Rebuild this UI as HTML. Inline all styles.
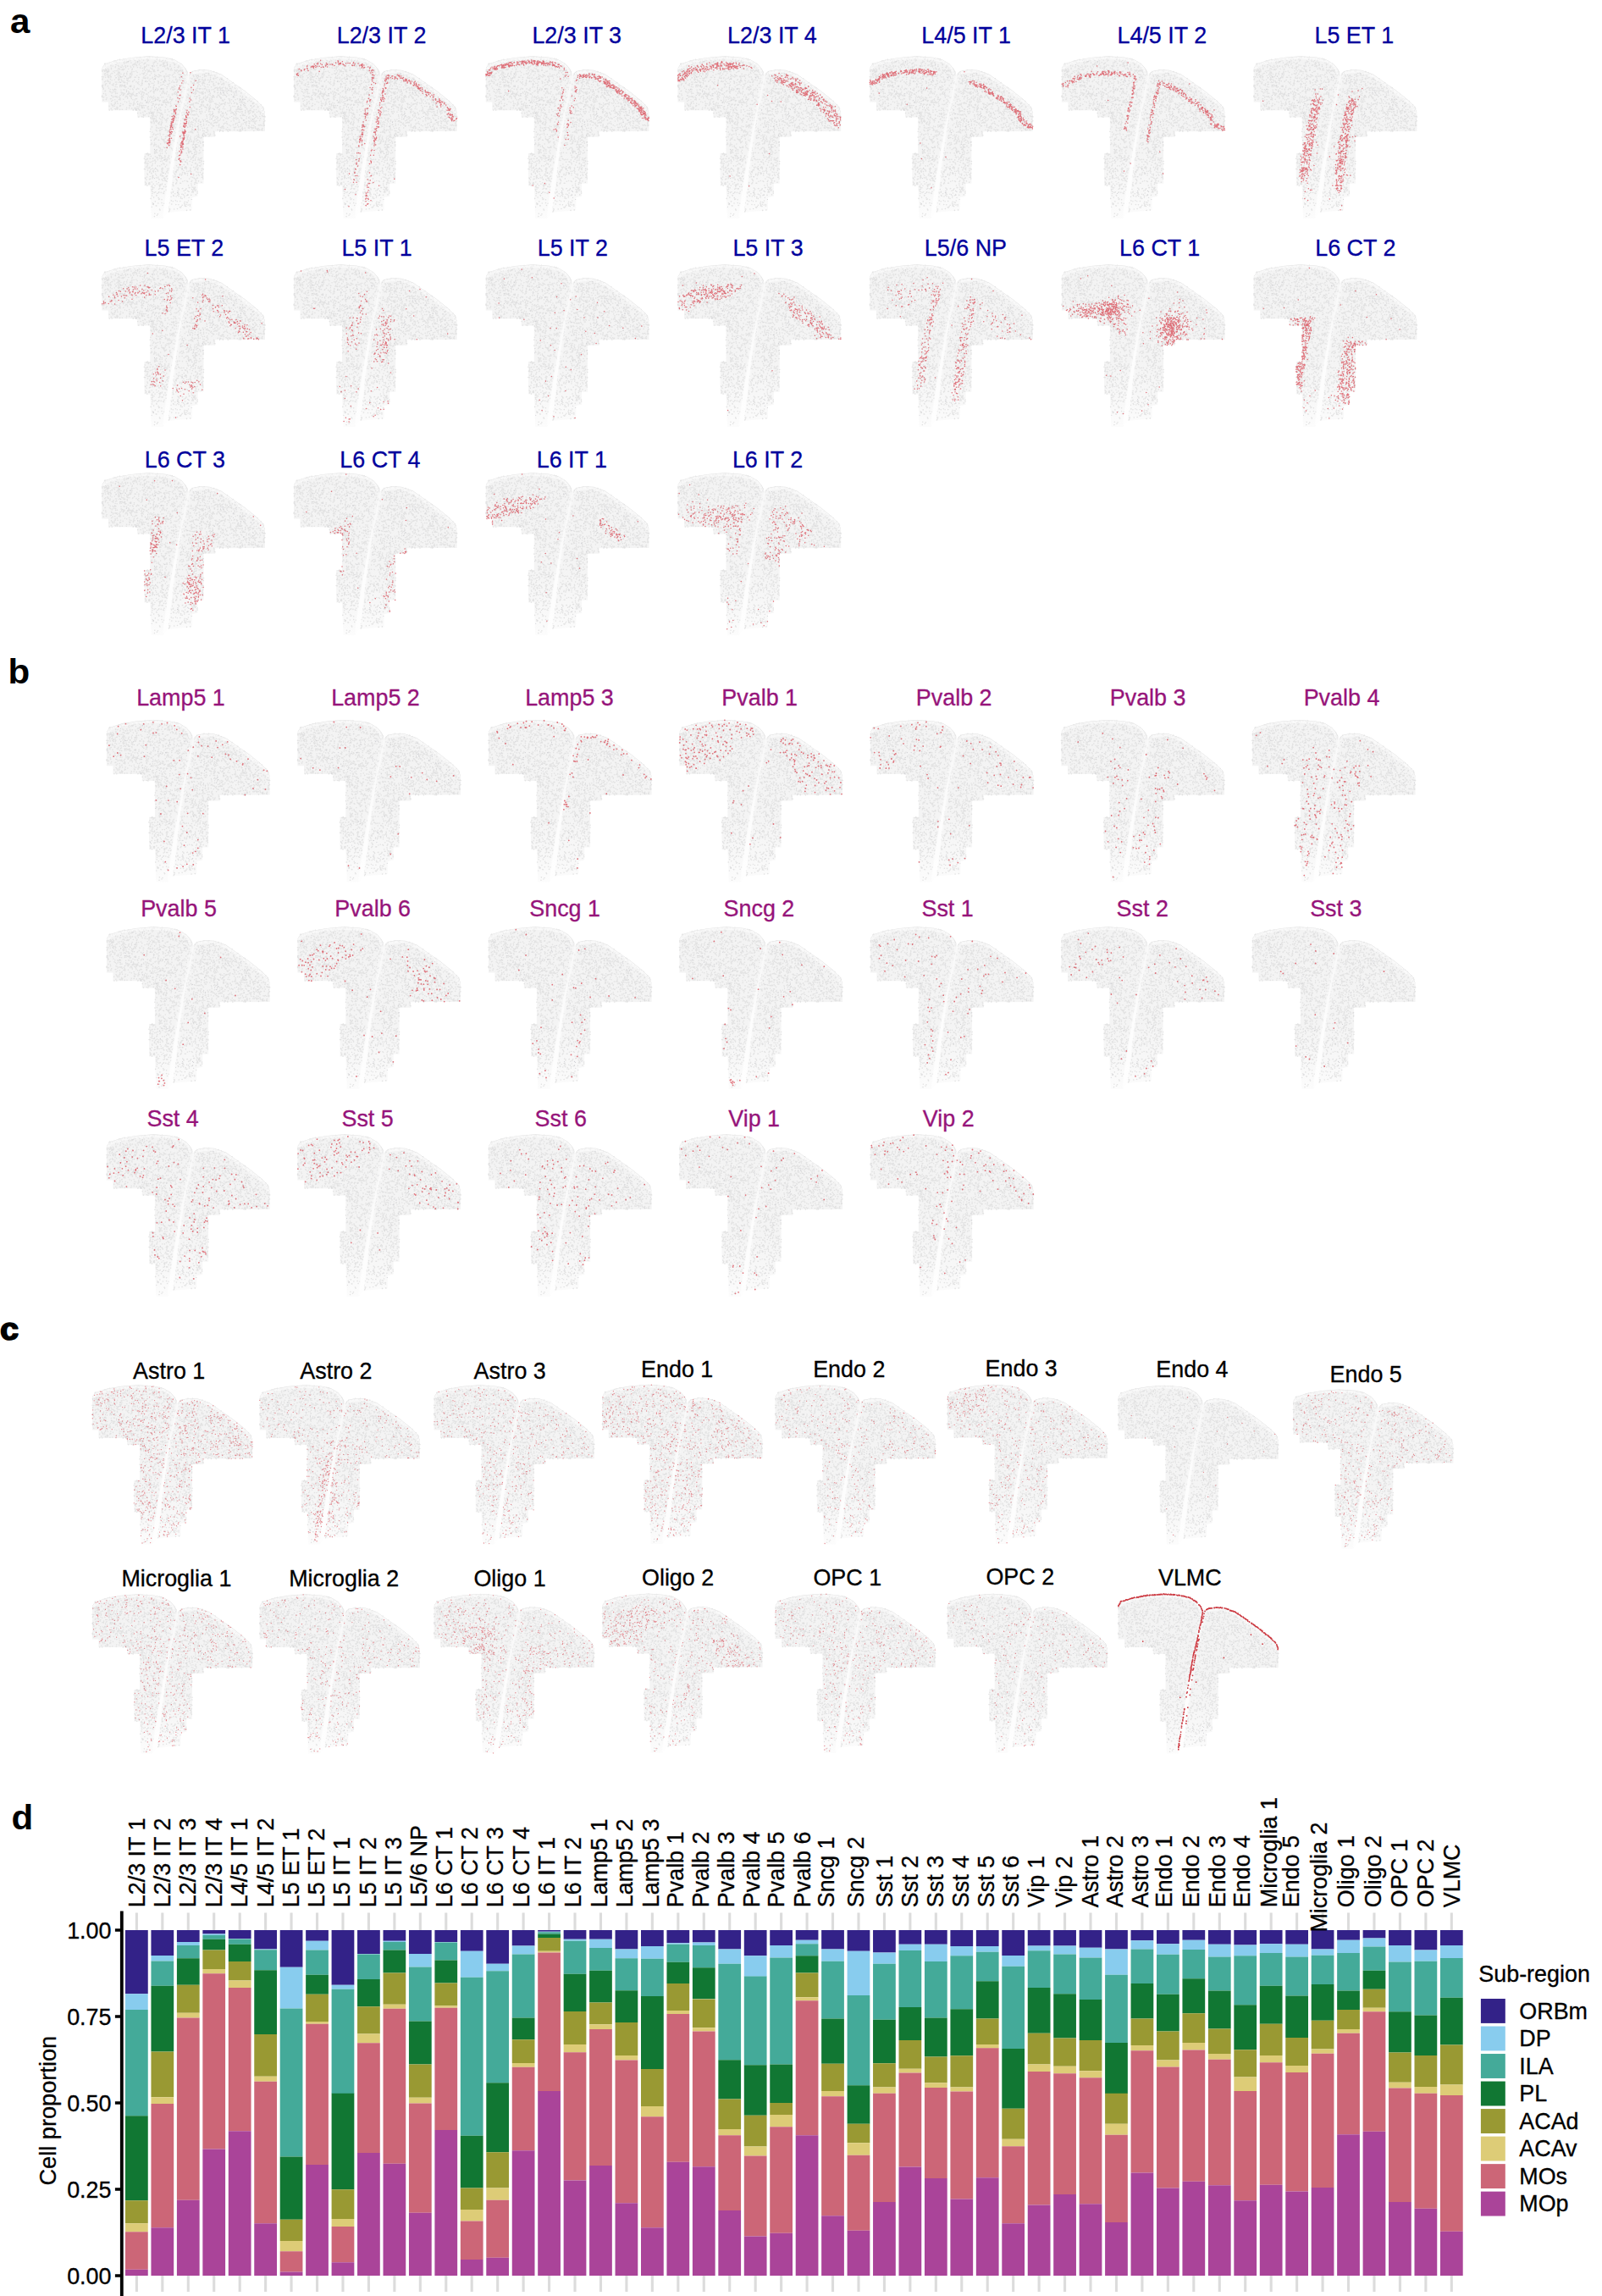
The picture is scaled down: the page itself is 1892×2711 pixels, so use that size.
<!DOCTYPE html>
<html lang="en"><head><meta charset="utf-8"><title>Figure</title>
<style>html,body{margin:0;padding:0;background:#fff}svg{display:block}text{font-family:"Liberation Sans",Arial,Helvetica,sans-serif}</style></head>
<body>
<svg width="1892" height="2711" viewBox="0 0 1892 2711">
<defs>
<linearGradient id="bg" x1="0" y1="0" x2="0" y2="1"><stop offset="0" stop-color="#f3f3f3"/><stop offset="0.6" stop-color="#f4f4f4"/><stop offset="0.85" stop-color="#f8f8f8"/><stop offset="1" stop-color="#fcfcfc"/></linearGradient>
<linearGradient id="fg" x1="0" y1="0" x2="0" y2="1"><stop offset="0" stop-color="#fff" stop-opacity="0.3"/><stop offset="0.3" stop-color="#fff" stop-opacity="0.4"/><stop offset="0.5" stop-color="#fff" stop-opacity="0.7"/><stop offset="1" stop-color="#fff" stop-opacity="0.8"/></linearGradient>
<clipPath id="bc"><path d="M0.1 54.6L0.1 14.5L3.5 9.3L17.3 4.9L35.1 1.9L55.0 0.3L75.0 1.7L86.0 4.4L94.2 9.2L99.7 15.4L102.6 22.5L104.6 19.6L108.0 17.8L116.0 16.3L127.2 16.8L140.9 21.6L154.6 31.2L168.4 40.8L182.1 51.8L190.4 60.1L192.8 66.9L192.8 88.9L134.0 89.2L134.0 95.8L120.3 95.8L120.3 150.7L113.4 150.7L113.4 165.8L106.6 167.2L106.6 182.3L77.7 185.0L72.2 191.9L58.5 191.9L57.1 153.5L50.2 153.5L50.2 115.0L57.1 115.0L57.1 72.4L42.0 72.4L42.0 64.2L7.7 64.2L7.7 54.6Z"/></clipPath>
<g id="brain"><path d="M0.1 54.6L0.1 14.5L3.5 9.3L17.3 4.9L35.1 1.9L55.0 0.3L75.0 1.7L86.0 4.4L94.2 9.2L99.7 15.4L102.6 22.5L104.6 19.6L108.0 17.8L116.0 16.3L127.2 16.8L140.9 21.6L154.6 31.2L168.4 40.8L182.1 51.8L190.4 60.1L192.8 66.9L192.8 88.9L134.0 89.2L134.0 95.8L120.3 95.8L120.3 150.7L113.4 150.7L113.4 165.8L106.6 167.2L106.6 182.3L77.7 185.0L72.2 191.9L58.5 191.9L57.1 153.5L50.2 153.5L50.2 115.0L57.1 115.0L57.1 72.4L42.0 72.4L42.0 64.2L7.7 64.2L7.7 54.6Z" fill="url(#bg)"/><path d="M61.3 50.1h0M84.6 69.4h0M104.1 73.6h0M52.4 38.4h0M89.9 13.5h0M120.4 18.3h0M17.1 48.5h0M117.9 140.1h0M33.3 21.3h0M13.6 34.0h0M22.1 24.3h0M190.4 71.4h0M148.5 84.5h0M91.5 54.7h0M91.3 51.4h0M21.0 19.3h0M101.0 44.9h0M69.1 115.1h0M85.1 61.9h0M35.0 19.2h0M120.6 91.4h0M140.4 57.8h0M173.5 82.6h0M98.1 81.8h0M187.3 68.4h0M55.4 71.4h0M67.6 160.9h0M148.7 55.7h0M28.9 7.9h0M99.8 17.9h0M50.5 12.5h0M99.9 108.4h0M81.3 54.4h0M20.2 22.2h0M163.6 87.7h0M33.8 44.3h0M161.2 65.7h0M108.6 110.4h0M166.5 86.0h0M133.7 23.9h0M119.4 39.1h0M107.4 81.8h0M113.6 83.9h0M32.2 4.9h0M154.6 66.6h0M99.2 63.5h0M41.6 47.1h0M26.6 26.7h0M99.1 58.5h0M80.3 32.4h0M5.9 49.8h0M92.4 139.2h0M33.5 39.2h0M38.6 10.1h0M40.5 9.9h0M115.0 53.2h0M59.8 66.4h0M175.3 67.3h0M136.4 61.6h0M68.2 169.0h0M48.4 60.4h0M165.0 65.7h0M129.8 48.3h0M49.8 9.6h0M178.2 66.8h0M33.3 25.6h0M23.4 29.5h0M72.7 92.7h0M44.1 10.4h0M188.4 61.7h0M114.2 139.7h0M129.9 22.8h0M33.6 21.3h0M59.1 159.2h0M82.5 37.8h0M4.6 9.6h0M97.7 137.9h0M146.3 66.9h0M67.1 66.8h0M49.8 24.7h0M137.7 46.1h0M79.7 121.5h0M41.4 64.2h0M102.0 95.2h0M98.9 109.6h0M131.5 83.1h0M137.9 67.1h0M52.6 115.8h0M65.5 63.6h0M144.1 60.1h0M88.8 57.3h0M34.4 24.3h0M74.2 144.0h0M137.2 76.2h0M11.9 28.8h0M131.7 76.7h0M100.6 48.1h0M120.5 50.0h0M38.3 35.7h0M142.2 52.1h0M158.1 70.4h0M44.0 33.7h0M31.0 29.7h0M60.5 58.0h0M64.6 110.9h0M76.2 147.7h0M81.2 39.1h0M85.4 35.4h0M84.3 81.3h0M141.5 33.7h0M33.4 5.8h0M25.9 35.4h0M68.4 78.0h0M94.9 108.6h0M162.1 88.8h0M113.1 144.1h0M8.7 23.5h0M156.9 68.8h0M174.1 52.2h0M57.7 134.4h0M114.2 85.4h0M73.1 144.3h0M80.4 51.4h0M129.5 20.3h0M114.1 87.6h0M131.8 62.2h0M146.9 86.6h0M0.5 28.0h0M143.1 89.1h0M114.1 29.8h0M31.1 27.2h0M40.8 30.6h0M81.5 56.8h0M38.4 10.6h0M71.2 136.0h0M62.5 104.9h0M72.0 41.5h0M29.7 22.1h0M87.7 145.5h0M166.4 70.4h0M36.7 44.4h0M181.0 69.1h0M62.9 111.8h0M156.2 56.0h0M164.4 63.1h0M42.4 8.1h0M159.1 68.6h0M21.4 16.1h0M100.7 68.8h0M83.1 51.6h0M95.6 156.5h0M110.7 40.7h0M99.9 175.3h0M104.8 89.4h0M75.1 97.5h0M61.1 70.8h0M163.0 54.9h0M74.5 117.9h0M70.9 156.9h0M160.6 81.9h0M76.9 7.9h0M114.9 106.1h0M142.9 88.3h0M61.2 18.4h0M58.8 103.1h0M81.1 93.4h0M115.3 50.1h0M155.9 72.9h0M119.9 104.9h0M99.4 125.2h0M83.3 23.1h0M120.2 95.2h0M145.7 79.4h0M43.8 4.7h0M83.2 75.1h0M65.4 70.0h0M121.5 24.4h0M72.1 9.7h0M164.2 57.6h0M74.9 85.2h0M102.6 39.0h0M72.7 141.9h0M93.9 18.1h0M122.6 36.7h0M119.6 111.6h0M148.0 38.2h0M33.3 59.2h0M171.1 62.3h0M91.8 109.0h0M108.4 75.9h0M59.1 61.4h0M79.5 87.7h0M74.8 118.2h0M21.4 63.4h0M109.1 88.5h0M94.6 42.5h0M9.1 64.0h0M124.1 41.3h0M107.2 21.7h0M189.8 64.5h0M103.9 83.8h0M87.5 150.9h0M76.0 51.6h0M94.8 134.1h0M83.3 82.2h0M119.1 94.9h0M159.4 55.9h0M63.8 57.0h0M71.0 145.9h0M62.7 18.8h0M63.5 160.7h0M50.9 40.1h0M103.3 51.3h0M40.3 7.5h0M116.0 51.8h0M6.0 19.5h0M106.8 69.6h0M107.4 107.7h0M167.7 76.2h0M14.3 7.2h0M29.5 20.4h0M0.2 47.9h0M18.9 61.2h0M17.5 33.4h0M94.2 102.7h0M102.4 40.6h0M3.3 21.4h0M76.6 129.0h0M114.8 46.7h0M87.9 18.1h0M117.9 51.6h0M53.5 126.8h0M118.2 143.4h0M180.8 78.1h0M101.6 40.3h0M57.8 48.1h0M102.2 171.0h0M128.3 58.0h0M169.6 88.1h0M130.5 49.5h0M160.9 73.8h0M85.8 10.0h0M63.5 139.5h0M150.3 56.2h0M67.9 152.5h0M8.0 23.7h0M56.5 33.3h0M78.0 120.3h0M109.2 110.5h0M99.8 80.0h0M62.6 21.9h0M75.2 75.8h0M95.5 73.9h0M56.8 22.9h0M147.5 69.5h0M110.4 127.4h0M93.4 54.1h0M30.9 26.9h0M120.1 32.2h0M73.5 98.5h0M164.3 58.6h0M59.1 78.2h0M76.3 154.2h0M82.2 91.4h0M92.2 104.8h0M85.8 98.3h0M63.0 52.4h0M89.5 164.5h0M108.0 120.3h0M66.0 129.9h0M64.3 38.1h0M75.5 83.0h0M109.3 158.0h0M178.1 65.5h0M115.7 123.4h0M69.4 19.6h0M61.2 42.6h0M62.2 41.5h0M40.1 25.2h0M155.2 81.4h0M108.1 160.9h0M99.8 156.7h0M26.8 31.7h0M70.7 77.8h0M116.3 81.2h0M61.8 105.0h0M103.8 112.2h0M168.7 78.6h0M10.2 23.9h0M30.2 12.3h0M65.3 51.9h0M47.6 51.3h0M116.6 103.2h0M108.6 139.5h0M87.1 136.7h0M68.6 3.9h0M156.4 87.4h0M32.4 61.4h0M90.7 13.8h0M78.0 90.1h0M104.8 132.4h0M114.8 33.7h0M77.4 24.1h0M156.7 44.9h0M4.0 12.2h0M42.3 6.7h0M109.5 64.9h0M130.3 51.9h0M77.4 83.6h0M154.1 32.5h0M25.0 13.0h0M161.2 61.9h0M82.5 83.2h0M180.7 69.1h0M64.3 76.0h0M109.9 113.5h0M70.4 38.9h0M163.7 89.0h0M61.0 39.6h0M56.4 2.0h0M33.9 12.3h0M101.4 45.0h0M100.1 100.1h0M92.9 103.7h0M15.1 19.8h0M70.0 23.7h0M101.0 126.2h0M103.2 72.8h0M74.7 28.8h0M176.4 76.0h0M16.2 12.8h0M66.4 14.1h0M59.0 125.1h0M72.9 42.5h0M180.5 79.1h0M118.8 45.2h0M179.9 63.7h0M60.1 25.4h0M75.5 57.0h0M162.1 75.7h0M87.0 80.7h0M10.6 42.6h0M122.4 47.4h0M54.0 60.5h0M127.6 55.0h0M58.0 67.1h0M61.3 43.2h0M126.0 46.0h0M73.7 128.1h0M81.2 49.5h0M113.0 96.0h0M47.8 20.9h0M106.9 52.9h0M93.3 150.2h0M73.6 84.8h0M72.9 10.1h0M77.8 144.7h0M119.3 43.4h0M92.0 57.7h0M41.1 39.6h0M3.5 18.3h0M119.1 93.6h0M109.6 47.8h0M68.9 11.0h0M120.7 18.7h0M165.5 62.9h0M157.5 65.5h0M145.3 46.3h0M108.3 22.9h0M137.2 77.0h0M113.5 25.7h0M54.3 3.8h0M117.0 38.8h0M74.4 52.2h0M103.7 68.8h0M124.0 71.2h0M140.0 44.9h0M87.5 28.0h0M131.0 46.7h0M99.6 32.4h0M156.0 76.8h0M114.6 93.9h0M92.8 96.7h0M84.6 24.9h0M137.2 72.6h0M49.1 46.3h0M88.3 76.4h0M21.4 49.6h0M67.0 25.0h0M63.9 74.3h0M56.5 137.5h0M73.6 31.5h0M152.1 63.8h0M91.4 89.1h0M85.0 67.8h0M18.0 8.2h0M106.5 80.5h0M109.8 98.9h0M189.0 82.3h0M157.1 59.6h0M60.9 136.0h0M180.4 73.7h0M128.0 55.0h0M146.1 74.0h0M44.7 6.0h0M138.1 37.8h0M116.9 108.2h0M9.3 41.8h0M113.0 26.2h0M4.6 45.1h0M35.1 50.4h0M135.9 82.2h0M90.0 134.5h0M115.0 53.7h0M85.9 94.1h0M107.7 91.0h0M148.7 65.1h0M59.7 143.1h0M109.6 61.3h0M67.1 149.8h0M86.9 142.6h0M102.9 114.8h0M95.0 133.3h0M81.4 104.4h0M8.4 25.7h0M20.6 48.2h0M35.4 47.1h0M163.8 47.6h0M128.7 53.1h0M78.8 35.2h0M120.3 58.1h0M22.5 34.5h0M173.6 76.9h0M143.1 82.8h0M26.1 46.0h0M119.1 17.7h0M156.1 69.6h0M158.5 84.1h0M77.9 53.7h0M39.0 25.3h0M118.1 44.4h0M70.9 136.3h0M106.7 155.0h0M133.3 76.3h0M7.3 18.9h0M76.8 123.7h0M132.6 48.8h0M87.6 175.5h0M47.9 42.2h0M88.0 136.4h0M61.8 79.8h0M187.7 66.5h0M80.5 181.1h0M47.8 58.5h0M70.2 121.8h0M133.7 35.0h0M98.4 124.8h0M112.4 63.5h0M187.9 57.9h0M58.5 41.1h0M151.3 38.4h0M62.0 34.5h0M54.0 132.2h0M178.9 77.7h0M122.8 51.0h0M112.7 133.0h0M59.6 95.5h0M54.3 2.4h0M144.7 45.7h0M155.5 74.7h0M8.4 16.7h0M79.1 33.3h0M95.7 96.5h0M126.7 22.2h0M56.9 18.6h0M72.2 54.7h0M77.4 133.5h0M115.2 39.3h0M66.5 51.7h0M128.5 27.5h0M59.8 15.4h0M71.2 34.1h0M111.0 147.9h0M150.2 35.4h0M84.7 93.7h0M118.8 55.4h0M49.4 46.3h0M20.1 25.5h0M105.6 38.7h0M52.4 12.5h0M65.2 119.5h0M54.9 17.4h0M63.3 52.6h0M37.2 58.6h0M110.4 110.9h0M62.9 49.4h0M15.7 23.5h0M163.9 70.3h0M30.2 45.6h0M187.6 81.5h0M126.1 61.6h0M142.3 26.2h0M76.5 52.2h0M73.1 138.1h0M117.3 58.9h0M148.3 44.5h0M90.2 162.6h0M74.9 152.0h0M160.8 60.6h0M82.2 162.1h0M57.8 72.9h0M21.0 51.2h0M92.2 178.7h0M104.5 90.1h0M191.2 81.2h0M101.5 128.0h0M33.5 58.5h0M107.2 18.9h0M53.6 54.6h0M100.1 131.8h0M51.8 40.2h0M108.2 118.5h0M124.8 48.0h0M103.8 82.2h0M120.1 76.9h0M138.6 47.0h0M73.4 127.4h0M87.5 17.8h0M62.4 26.9h0M145.3 62.8h0M83.3 45.1h0M138.9 59.4h0M123.5 61.8h0M76.5 58.0h0M143.5 70.2h0M40.2 50.6h0M101.6 33.0h0M58.7 139.1h0M66.2 49.0h0M61.4 77.0h0M108.7 24.4h0M63.3 26.4h0M51.7 26.4h0M175.0 64.4h0M119.0 85.6h0M75.2 95.5h0M90.7 68.5h0M116.0 43.7h0M111.9 113.6h0M52.5 54.9h0M117.6 149.2h0M74.8 11.6h0M112.9 162.1h0M70.4 119.7h0M157.6 38.5h0M33.1 35.5h0M91.0 157.1h0M182.3 63.5h0M68.0 52.6h0M0.7 48.7h0M54.9 47.4h0M54.4 26.6h0M114.1 23.0h0M71.5 38.5h0M70.7 79.6h0M60.4 141.3h0M85.6 44.5h0M59.9 51.0h0M82.8 68.4h0M58.1 118.6h0M47.2 50.7h0M100.4 93.4h0M64.7 77.9h0M26.0 21.9h0M91.2 157.9h0M184.1 60.7h0M88.8 114.2h0M66.3 39.1h0M86.7 140.4h0M55.0 37.0h0M130.8 48.4h0M65.2 151.2h0M123.4 60.8h0M18.6 49.3h0M107.7 22.7h0M79.2 132.9h0M65.2 188.3h0M138.5 80.9h0M153.1 45.7h0M66.9 99.2h0M115.1 126.0h0M140.4 43.5h0M74.8 64.0h0M99.5 52.3h0M100.5 164.8h0M30.6 44.7h0M84.1 161.3h0M132.3 70.9h0M107.0 65.4h0M17.9 61.3h0M63.1 171.9h0M131.7 26.8h0M37.1 64.1h0M72.8 33.5h0M82.4 92.4h0M144.3 32.4h0M51.5 149.1h0M156.6 49.0h0M127.8 93.6h0M69.2 141.1h0M164.9 43.8h0M132.9 93.3h0M183.7 56.3h0M27.9 48.8h0M111.6 65.8h0M100.3 104.0h0M115.5 46.7h0M136.2 61.9h0M146.1 54.9h0M124.2 57.7h0M66.4 29.9h0M112.7 94.3h0M54.5 52.1h0M139.5 27.9h0M65.1 88.8h0M115.5 129.8h0M104.0 62.8h0M132.4 82.7h0M80.6 71.1h0M74.5 122.4h0M79.7 97.7h0M29.5 54.8h0M12.1 58.1h0M83.7 29.2h0M4.2 9.4h0M67.5 117.4h0M41.3 11.3h0M108.0 57.9h0M68.7 41.7h0M101.0 40.5h0M136.6 43.8h0M137.0 38.8h0M71.2 110.6h0M96.9 32.0h0M75.6 87.3h0M102.0 112.2h0M65.4 3.2h0M161.8 37.4h0M76.9 7.5h0M85.2 81.6h0M138.5 58.2h0M32.5 44.8h0M44.7 56.9h0M10.1 31.0h0M72.4 162.0h0M80.7 108.2h0M71.5 72.0h0M101.8 49.1h0M106.5 42.7h0M71.3 115.1h0M90.7 12.2h0M97.9 172.3h0M59.2 104.1h0M82.6 119.5h0M54.6 115.9h0M111.2 131.2h0M88.1 111.4h0M141.7 56.9h0M15.6 39.0h0M96.0 104.4h0M177.4 82.1h0M31.6 42.1h0M67.1 30.6h0M56.4 2.4h0M120.1 44.8h0M68.8 112.1h0M17.9 36.7h0M115.3 63.5h0M79.4 65.7h0M88.9 80.9h0M137.5 40.6h0M168.0 58.9h0M78.2 138.0h0M65.6 65.0h0M138.2 66.7h0M147.1 48.3h0M47.5 71.8h0M111.7 87.6h0M104.0 175.5h0M99.3 157.8h0M71.9 156.9h0M95.0 176.3h0M101.8 95.6h0M162.8 87.0h0M126.9 53.2h0M57.1 116.2h0M95.3 114.6h0M42.3 13.6h0M83.0 5.5h0M69.5 46.2h0M109.0 69.8h0M29.4 61.2h0M113.3 129.3h0M100.2 30.9h0M136.4 40.2h0M124.0 90.5h0M92.6 150.2h0M167.5 69.3h0M173.9 73.8h0M89.6 114.3h0M59.6 54.1h0M61.3 27.9h0M63.5 136.6h0M45.8 55.2h0M88.2 123.3h0M56.2 17.0h0M121.6 29.1h0M7.0 19.6h0M31.2 45.5h0M87.0 42.6h0M74.3 120.1h0M13.1 58.6h0M117.7 83.6h0M34.7 56.6h0M66.2 135.3h0M137.9 33.5h0M18.8 21.3h0M61.0 77.0h0M40.6 18.1h0M172.7 46.0h0M142.2 83.6h0M104.7 69.2h0M110.3 55.8h0M63.2 26.8h0M123.4 52.5h0M76.5 50.8h0M109.3 69.3h0M136.4 22.1h0M144.2 85.2h0M53.6 121.9h0M82.9 90.0h0M68.6 156.4h0M103.5 145.1h0M108.3 119.2h0M42.8 32.5h0M83.8 74.4h0M152.8 77.1h0M106.9 20.5h0M136.7 38.6h0M107.1 32.4h0M146.9 30.7h0M82.2 58.9h0M57.5 36.7h0M100.7 22.8h0M88.9 147.7h0M27.8 12.5h0M102.2 109.6h0M116.9 81.4h0M66.7 79.9h0M48.1 32.5h0M24.6 24.6h0M67.6 61.9h0M42.0 19.6h0M29.5 28.5h0M11.8 20.8h0M186.6 71.5h0M70.9 68.5h0M142.1 67.9h0M72.0 126.8h0M149.9 34.0h0M88.3 31.3h0M87.8 64.5h0M141.9 84.9h0M108.2 69.8h0M30.8 12.0h0M17.8 60.3h0M61.0 37.1h0M143.1 46.5h0M87.9 17.8h0M119.7 42.2h0M156.4 48.6h0M67.4 169.4h0M2.2 44.5h0M21.2 4.3h0M119.3 22.4h0M127.0 41.6h0M83.6 111.4h0M79.9 98.2h0M34.6 45.5h0M10.7 10.7h0M192.1 82.0h0M81.6 77.9h0M63.2 57.9h0M107.6 119.4h0M64.5 85.1h0M63.6 1.9h0M73.4 174.3h0M149.4 74.1h0M132.3 27.5h0M128.3 44.1h0M25.7 29.9h0M117.6 42.7h0M129.4 36.7h0M20.2 19.7h0M52.2 131.3h0M143.3 62.2h0M99.6 19.3h0M132.2 39.5h0M34.6 20.8h0M88.7 34.3h0M106.3 90.4h0M60.1 136.0h0M6.7 29.9h0M114.0 18.1h0M150.8 51.1h0M67.8 36.6h0M59.8 72.9h0M179.7 76.8h0M112.3 113.6h0M92.4 38.1h0M67.7 24.6h0M75.7 15.4h0M118.5 32.5h0M94.5 55.3h0M62.5 24.5h0M61.5 77.5h0M87.1 84.2h0M10.0 39.6h0M76.9 38.8h0M177.4 61.1h0M112.5 94.3h0M97.5 30.0h0M136.6 57.5h0M7.0 9.9h0M72.0 5.5h0M148.3 87.5h0M139.6 38.0h0M26.6 9.1h0M155.4 43.1h0M56.3 49.0h0M132.7 41.7h0M4.9 46.7h0M62.8 122.7h0M68.8 182.1h0M171.2 77.8h0M116.0 59.8h0M73.0 30.9h0M129.6 30.4h0M163.1 38.0h0M49.5 46.3h0M72.5 30.5h0M110.6 132.9h0M95.4 87.9h0M63.6 39.9h0M115.6 100.5h0M144.1 80.4h0M41.6 23.2h0M38.6 4.7h0M92.2 140.6h0M97.4 174.1h0M77.1 11.5h0M36.3 39.0h0M60.3 12.7h0M116.3 137.5h0M126.8 39.8h0M68.2 53.6h0M61.1 10.0h0M132.1 32.9h0M102.3 101.9h0M63.5 97.6h0M81.1 59.6h0M30.5 50.1h0M66.9 167.6h0M57.4 145.2h0M8.1 25.4h0M46.6 45.4h0M120.3 124.5h0M83.7 141.6h0M4.2 33.3h0M140.6 87.9h0M148.6 41.8h0M106.4 57.1h0M56.1 53.9h0M184.7 87.7h0M63.3 118.7h0M179.4 65.8h0M13.2 59.8h0M85.6 101.0h0M97.6 167.1h0M114.2 76.7h0M131.2 62.2h0M110.8 108.0h0M142.2 33.4h0M86.4 20.5h0M93.1 179.1h0M86.5 39.0h0M101.2 117.4h0M98.6 132.1h0M25.9 31.4h0M48.9 43.4h0M44.0 60.1h0M169.1 44.4h0M22.8 40.3h0M12.1 9.0h0M91.2 128.0h0M80.9 89.6h0M120.3 59.0h0M182.1 70.6h0M41.3 50.7h0M143.5 52.9h0M50.2 13.5h0M80.0 182.8h0M176.0 84.3h0M125.1 48.5h0M109.7 43.7h0M95.9 19.3h0M142.0 37.8h0M100.5 21.0h0M63.2 23.5h0M183.6 53.6h0M177.3 84.8h0M76.8 76.5h0M0.8 34.8h0M47.6 31.2h0M127.7 44.9h0M74.7 119.9h0M94.7 66.5h0M159.6 57.0h0M173.6 65.6h0M117.5 123.7h0M76.0 158.4h0M119.0 43.2h0M51.6 17.7h0M25.4 44.7h0M90.4 161.3h0M131.0 68.4h0M60.1 1.6h0M165.0 80.6h0M125.0 58.7h0M98.5 139.5h0M71.9 38.8h0M119.6 92.1h0M62.8 153.2h0M110.7 76.6h0M53.3 21.4h0M34.1 47.9h0M178.1 65.8h0M64.5 141.3h0M111.6 97.6h0M56.6 151.4h0M110.6 18.1h0M179.8 74.5h0M124.8 33.8h0M185.0 59.9h0M134.0 37.8h0M104.6 26.0h0M191.3 82.6h0M64.8 120.4h0M96.9 159.2h0M22.1 24.8h0M164.5 73.1h0M174.1 79.4h0M82.5 71.5h0M75.8 44.0h0M106.0 63.7h0M68.5 152.5h0M114.7 28.6h0M152.7 65.2h0M148.9 74.3h0M87.3 90.5h0M169.2 60.4h0M104.9 95.0h0M62.6 186.2h0M84.8 37.7h0M122.1 43.5h0M160.3 50.7h0M62.8 63.4h0M112.0 55.6h0M60.1 127.6h0M66.7 143.0h0M163.1 66.4h0M95.1 132.9h0M34.8 49.1h0M157.8 81.0h0M54.3 134.9h0M61.3 75.5h0M112.8 23.5h0M87.7 57.6h0M26.8 40.1h0M71.0 27.8h0M69.9 81.6h0M97.9 176.0h0M105.6 40.3h0M123.3 77.5h0M85.8 138.8h0M46.8 59.7h0M111.7 100.7h0M69.8 39.1h0M77.0 88.0h0M146.3 38.8h0M77.1 141.9h0M113.8 122.7h0M103.3 99.5h0M101.9 176.1h0M51.3 144.1h0M112.4 26.3h0M65.5 24.5h0M111.6 115.8h0M145.5 55.8h0M90.0 69.1h0M77.5 14.1h0M56.9 2.0h0M120.0 29.1h0M127.2 59.4h0M70.0 161.4h0M75.1 88.0h0M175.7 50.4h0M94.8 105.5h0M100.6 74.1h0M37.9 4.0h0M181.6 72.5h0M4.4 20.7h0M165.5 74.1h0M85.9 19.3h0M80.3 102.9h0M86.3 43.2h0M11.0 24.5h0M35.9 45.7h0M132.1 35.2h0M96.7 122.4h0M109.5 116.4h0M173.9 67.7h0M72.8 41.3h0M106.3 88.6h0M50.6 65.1h0M27.1 44.6h0M184.4 73.5h0M16.1 13.6h0M49.5 58.6h0M105.6 30.8h0M158.8 63.8h0M38.9 25.3h0M55.5 63.1h0M61.2 73.9h0M151.2 87.9h0M82.1 170.9h0M89.4 142.8h0M107.9 155.2h0M189.6 85.5h0M76.4 75.1h0M121.7 60.4h0M45.4 1.6h0M111.2 73.7h0M120.1 77.4h0M47.0 44.0h0M103.7 23.0h0M86.7 63.5h0M98.2 26.8h0M110.7 106.4h0M77.7 69.9h0M152.3 62.9h0M54.5 25.3h0M50.4 26.2h0M62.1 73.8h0M34.3 5.3h0M56.5 145.5h0M63.8 124.7h0M189.7 61.3h0M82.1 51.5h0M83.7 50.8h0M64.0 104.7h0M138.6 32.5h0M53.0 116.0h0M108.2 56.2h0M165.3 63.3h0M51.1 119.0h0M53.8 53.9h0M59.6 129.3h0M61.0 8.1h0M120.1 82.2h0M68.1 53.5h0M32.6 58.4h0M40.1 63.9h0M83.8 151.6h0M127.1 51.3h0M147.8 73.4h0M102.6 93.5h0M164.3 51.8h0M100.0 172.8h0M126.7 31.3h0M105.3 51.1h0M105.9 148.5h0M29.8 6.6h0M71.5 134.6h0M107.1 125.6h0M93.4 166.6h0M77.5 135.8h0M77.2 108.3h0M123.0 94.1h0M120.9 16.7h0M69.1 93.1h0M36.1 44.4h0M109.5 30.1h0M104.8 80.8h0M109.6 114.2h0M23.2 45.1h0M125.9 22.6h0M82.7 82.4h0M77.4 122.4h0M110.5 41.2h0M50.8 126.2h0M49.1 69.1h0M16.0 55.9h0M158.5 72.5h0M42.7 57.3h0M118.0 124.2h0M79.3 95.0h0M111.1 163.9h0M58.5 138.4h0M28.6 47.3h0M1.6 34.7h0M119.0 25.7h0M27.9 11.5h0M72.1 147.3h0M35.7 16.6h0M86.8 123.3h0M77.2 42.4h0M32.8 36.0h0M74.8 34.7h0M87.9 136.9h0M93.8 132.2h0M110.2 106.0h0M61.6 43.8h0M108.7 59.7h0M101.3 138.7h0M87.2 170.8h0M105.3 101.2h0M68.3 118.4h0M19.5 27.2h0M162.2 41.5h0M34.2 36.2h0M174.7 72.0h0M103.0 155.6h0M25.8 30.2h0M113.5 31.2h0M149.9 50.7h0M59.8 144.7h0M174.9 77.6h0M110.3 108.3h0M102.4 153.1h0M68.8 108.7h0M0.5 47.1h0M140.8 40.5h0M128.3 61.9h0M61.5 106.3h0M81.1 16.8h0M90.7 69.5h0M22.4 13.2h0M125.7 92.4h0M140.7 26.2h0M111.7 48.8h0M150.9 64.9h0M124.1 39.9h0M110.3 106.5h0M64.8 57.2h0M91.2 63.8h0M118.0 62.4h0M68.9 11.5h0M157.1 46.6h0M130.8 65.9h0M84.7 137.3h0M18.2 44.3h0M61.6 53.5h0M106.6 86.4h0M121.6 32.7h0M73.9 99.6h0M121.2 21.7h0M68.2 112.1h0M71.2 141.9h0M88.8 47.0h0M64.2 98.0h0M141.1 65.7h0M152.3 60.9h0M84.5 4.7h0M67.6 145.5h0M85.8 10.1h0M29.0 5.1h0M11.1 62.2h0M106.7 160.9h0M85.9 57.3h0M26.6 15.6h0M45.9 41.9h0M2.9 16.9h0M83.7 99.6h0M57.1 125.6h0M160.3 38.7h0M44.9 63.3h0M50.7 1.8h0M57.8 47.7h0M68.4 120.8h0M164.4 88.7h0M53.8 139.1h0M11.3 56.8h0M65.4 77.5h0M133.7 56.2h0M133.8 75.2h0M125.1 57.4h0M45.7 14.2h0M87.8 137.7h0M94.8 163.3h0M33.2 4.7h0M69.5 104.0h0M23.3 36.3h0M106.0 153.0h0M61.3 136.0h0M52.4 150.4h0M128.2 92.3h0M113.6 90.2h0M18.2 53.5h0M114.2 95.6h0M95.0 130.6h0M127.2 63.6h0M186.5 87.3h0M94.0 93.5h0M94.5 122.4h0M181.2 83.9h0M176.0 74.0h0M191.2 78.1h0M8.9 59.3h0M16.7 39.9h0M107.5 87.3h0M75.3 5.1h0M111.9 141.2h0M84.4 8.1h0M96.5 90.6h0M117.4 128.0h0M61.6 92.1h0M84.8 132.3h0M75.8 21.5h0M124.6 84.7h0M129.4 50.8h0M147.4 47.6h0M16.5 34.1h0M78.2 73.8h0M73.5 11.7h0M136.4 25.5h0M72.7 4.0h0M134.9 56.3h0M131.7 48.0h0M76.7 107.1h0M75.6 86.8h0M107.1 105.1h0M111.2 119.6h0M19.3 19.8h0M8.0 23.3h0M4.3 41.3h0M135.9 71.8h0M75.1 113.1h0M83.3 83.0h0M118.5 27.9h0M74.3 54.8h0M15.1 59.2h0M94.1 35.1h0M139.1 76.3h0M63.8 51.1h0M158.2 66.5h0M158.2 79.8h0M140.5 30.8h0M105.9 64.4h0M96.2 37.2h0M57.9 78.1h0M69.7 34.8h0M50.3 133.5h0M110.4 121.7h0M92.6 122.7h0M94.9 139.4h0M37.3 63.6h0M104.0 124.5h0M79.3 117.9h0M52.6 146.2h0M62.2 16.9h0M96.8 66.6h0M98.4 176.7h0M171.0 82.2h0M10.8 11.8h0M93.6 14.0h0M117.9 135.4h0M54.9 124.2h0M47.9 28.6h0M40.8 39.6h0M57.7 73.5h0M71.4 98.5h0M61.7 43.9h0M67.5 78.9h0M0.6 16.9h0M73.8 101.3h0M85.1 165.5h0M72.5 53.1h0M120.1 127.4h0M65.1 76.9h0M72.7 18.1h0M38.5 28.4h0M112.4 38.6h0M91.5 28.2h0M30.7 29.4h0M172.4 53.8h0M95.5 18.1h0M86.1 8.1h0M67.2 22.2h0M169.5 64.4h0M113.5 134.4h0M53.8 45.3h0M75.1 130.9h0M107.2 90.1h0M27.3 54.0h0M143.7 68.3h0M143.3 83.2h0M51.8 23.4h0M144.1 34.1h0M123.3 23.7h0M155.0 31.5h0M89.0 16.5h0M13.1 49.1h0M59.3 165.0h0M140.5 50.3h0M12.8 39.7h0M96.3 60.9h0M181.6 85.3h0M88.1 73.1h0M184.1 86.0h0M124.9 19.9h0M61.1 56.5h0M103.3 100.9h0M97.6 68.9h0M144.2 44.2h0M91.2 11.4h0M112.6 31.9h0M120.8 31.1h0M95.4 63.1h0M128.5 80.2h0M110.1 69.5h0M38.8 56.7h0M78.6 16.1h0M76.3 78.0h0M37.3 57.4h0M116.7 114.1h0M102.1 111.3h0M66.8 85.4h0M29.4 41.5h0M164.2 60.7h0M80.3 125.4h0M55.7 132.5h0M147.9 29.2h0M25.8 39.8h0M82.2 4.2h0M13.1 12.0h0M51.4 65.6h0M47.8 56.1h0M132.6 18.7h0M147.6 68.7h0M86.9 24.9h0M107.2 159.1h0M62.8 115.1h0M63.8 112.2h0M97.5 56.9h0M101.6 108.4h0M71.3 132.4h0M60.8 32.5h0M57.7 86.3h0M98.4 124.9h0M84.4 64.5h0M49.0 26.1h0M107.7 78.5h0M71.4 78.7h0M121.1 88.8h0M55.9 28.8h0M111.6 62.9h0M110.4 69.8h0M186.5 82.0h0M81.7 161.0h0M64.2 82.3h0M86.9 121.9h0M55.0 55.6h0M149.2 31.1h0M176.7 53.5h0M151.8 87.3h0M75.2 75.7h0M67.9 145.9h0M64.5 164.5h0M94.3 141.1h0M131.8 33.9h0M35.8 18.9h0M112.6 128.0h0M79.4 88.5h0M44.8 64.2h0M43.8 3.8h0M166.0 84.3h0M113.8 132.2h0M76.9 54.8h0M20.6 20.7h0M187.8 59.9h0M64.4 72.0h0M47.1 32.7h0M31.6 15.5h0M96.6 74.2h0M74.4 12.9h0M59.7 162.5h0M19.1 24.0h0M123.8 86.3h0M134.8 37.7h0M0.2 24.7h0M39.2 5.6h0M69.8 139.5h0M188.8 87.3h0M42.2 38.4h0M90.7 72.5h0M94.0 177.7h0M19.2 15.6h0M128.5 70.2h0M155.4 74.5h0M126.6 20.6h0M137.4 32.3h0M140.5 49.1h0M132.4 89.3h0M164.5 43.9h0M76.2 101.1h0M132.9 48.7h0M62.7 114.2h0M0.5 36.5h0M88.7 43.4h0M109.7 156.6h0M122.3 94.8h0M118.5 51.1h0M8.1 30.4h0M46.0 67.6h0M146.0 37.4h0M111.4 44.3h0M49.4 5.1h0M61.1 137.3h0M100.7 19.0h0M62.1 74.2h0M47.3 50.4h0M25.9 23.1h0M24.2 63.2h0M69.3 52.8h0M2.2 38.6h0M106.6 147.2h0M36.1 15.4h0M131.3 30.8h0M88.6 146.6h0M177.4 77.0h0M84.6 40.5h0M59.4 153.3h0M73.3 154.4h0M57.6 65.3h0M96.6 135.2h0M77.1 148.5h0M136.9 87.2h0M65.6 51.3h0M18.4 62.9h0M54.7 127.0h0M147.5 43.0h0M62.1 99.6h0M87.2 114.7h0M138.0 63.2h0M171.0 71.8h0M126.7 94.7h0M65.5 134.3h0M111.9 24.4h0M89.9 118.7h0M113.7 35.1h0M136.8 73.8h0M177.6 61.3h0M134.0 72.4h0M130.1 74.4h0M167.9 70.5h0M82.5 52.6h0M4.9 17.5h0M73.5 43.4h0M162.5 52.6h0M123.5 64.1h0M128.0 62.0h0M179.6 88.4h0M133.5 78.8h0M84.3 160.4h0M114.3 71.4h0M115.2 16.7h0M64.9 84.3h0M95.2 89.1h0M12.2 34.3h0M83.0 37.5h0M96.1 102.6h0M120.5 48.5h0M111.9 68.5h0M168.6 55.7h0M163.8 83.5h0M79.6 180.7h0M40.1 62.6h0M28.1 37.0h0M84.1 68.5h0M21.9 52.0h0M143.1 71.3h0M92.9 88.1h0M29.5 26.3h0M27.0 44.2h0M73.8 30.0h0M74.4 147.1h0M61.4 167.1h0M102.6 110.3h0M113.8 137.5h0M66.3 120.8h0M82.2 14.9h0M5.2 51.4h0M11.0 50.5h0M94.8 96.6h0M108.9 31.9h0M67.2 57.9h0M16.6 7.1h0M22.7 21.5h0M89.7 134.8h0M126.4 65.8h0M132.4 27.8h0M99.6 67.4h0M62.3 113.2h0M66.6 174.0h0M41.9 60.1h0M46.1 12.0h0M165.7 85.8h0M125.2 77.9h0M61.0 151.2h0M58.4 20.7h0M30.8 7.5h0M92.6 52.9h0M179.4 82.4h0M118.3 57.5h0M138.7 66.0h0M114.9 106.7h0M57.9 168.4h0M24.1 29.8h0M82.8 109.8h0M158.5 67.8h0M137.2 43.4h0M6.8 28.8h0M10.6 25.8h0M135.5 74.2h0M119.4 133.3h0M51.9 122.4h0M77.4 9.2h0M135.2 21.7h0M98.2 97.5h0M15.9 39.7h0M109.9 109.4h0M67.3 157.3h0M157.0 55.4h0M0.5 48.4h0M61.8 155.7h0M43.6 30.7h0M4.4 25.2h0M140.5 69.7h0M63.1 126.6h0M123.1 49.6h0M26.6 20.5h0M68.4 22.7h0M130.9 72.6h0M118.3 58.7h0M116.1 87.2h0M17.7 31.0h0M65.0 110.9h0M176.2 59.3h0M119.0 102.1h0M66.2 186.8h0M105.7 151.0h0M169.8 66.1h0M94.7 49.5h0M68.6 6.3h0M105.9 65.2h0M105.6 113.7h0M85.7 39.5h0M66.1 64.5h0M90.3 39.5h0M91.3 47.2h0M8.2 38.1h0M153.4 41.4h0M92.4 66.0h0M116.7 30.5h0M166.4 69.7h0M174.5 48.7h0M81.0 83.9h0M127.6 74.7h0M69.2 70.9h0M95.2 70.1h0M114.2 56.3h0M111.1 75.5h0M54.3 62.5h0M78.8 15.0h0M179.4 66.3h0M81.4 78.2h0M161.3 59.8h0M111.0 116.5h0M80.4 126.6h0M30.0 31.8h0M71.0 141.1h0M1.9 39.3h0M116.6 129.9h0M68.9 153.2h0M65.8 49.4h0M76.6 24.1h0M13.7 18.3h0M16.5 63.1h0M68.8 91.3h0M119.5 88.4h0M190.5 63.3h0M70.8 152.1h0M60.0 71.6h0M73.9 53.0h0M14.0 40.8h0M79.2 183.9h0M101.3 141.0h0M94.8 85.7h0M24.0 11.3h0M190.4 68.4h0M38.7 61.8h0M72.1 72.0h0M109.8 155.3h0M104.3 119.3h0M25.5 46.6h0M66.7 16.9h0M90.2 131.2h0M53.7 153.1h0M37.0 40.1h0M167.9 54.9h0M89.3 180.5h0M68.6 67.3h0M142.4 27.7h0M62.4 115.1h0M87.5 120.4h0M60.6 141.7h0M139.2 48.3h0M113.0 69.7h0M25.1 46.4h0M135.1 31.1h0M110.2 155.3h0M93.9 22.7h0M102.8 103.1h0M168.1 58.1h0M94.0 39.7h0M17.8 22.1h0M3.8 41.6h0M73.3 162.5h0M43.6 72.1h0M132.7 62.8h0M166.9 80.2h0M135.7 20.1h0M155.6 48.4h0M122.2 60.2h0M22.3 58.8h0M69.4 68.5h0M111.6 55.6h0M3.6 9.4h0M83.3 46.0h0M98.4 162.0h0M66.3 136.1h0M191.5 71.8h0M97.8 37.3h0M86.0 44.3h0M164.7 82.5h0M59.1 129.9h0M87.3 70.0h0M135.9 48.9h0M96.1 16.3h0M164.4 39.8h0M52.6 38.8h0M82.9 17.0h0M104.4 96.9h0M63.3 97.4h0M94.8 89.7h0M21.0 20.1h0M105.2 136.4h0M101.5 55.8h0M133.6 38.5h0M82.8 36.6h0M38.8 46.5h0M55.5 18.3h0M178.2 55.7h0M97.5 59.0h0M85.1 143.1h0M76.8 122.1h0M54.4 19.1h0M68.4 154.2h0M71.3 18.4h0M133.2 43.0h0M143.9 85.8h0M71.3 120.7h0M170.2 80.6h0M186.0 66.0h0M166.1 55.8h0M29.0 63.3h0M74.8 7.1h0M78.0 4.2h0M40.8 45.0h0M70.9 73.0h0M55.1 117.5h0M67.8 80.7h0M41.3 62.5h0M71.3 151.1h0M86.5 36.2h0M99.5 100.3h0M62.0 161.4h0M122.9 90.3h0M20.1 27.9h0M101.9 119.4h0M78.6 119.6h0M126.9 69.5h0M46.5 58.2h0M187.4 73.9h0M166.1 65.9h0M127.4 30.1h0M113.4 42.0h0M47.5 7.7h0M106.6 86.4h0M3.9 23.1h0M90.6 17.9h0M88.7 30.3h0M10.3 21.8h0M171.6 62.9h0M189.2 70.8h0M141.4 45.1h0M80.1 89.8h0M97.1 128.6h0M120.5 82.1h0M83.5 109.6h0M102.8 113.8h0M122.0 75.1h0M70.7 48.9h0M105.3 98.9h0M64.8 88.3h0M164.3 53.4h0M122.5 38.8h0M131.0 71.7h0M46.9 3.9h0M90.9 21.7h0M59.4 74.4h0M109.5 33.0h0M62.1 30.7h0M65.2 120.2h0M177.9 84.7h0M92.9 83.8h0M29.3 40.4h0M57.1 27.1h0M46.7 48.5h0M100.3 182.4h0M104.1 177.1h0M60.2 155.2h0M68.2 57.3h0M90.8 10.8h0M71.9 57.7h0M35.5 61.9h0M169.2 70.3h0M117.7 43.5h0M90.5 132.4h0M161.8 78.4h0M111.9 144.8h0M97.9 175.0h0M148.2 26.8h0M107.9 42.0h0M115.1 38.6h0M109.4 97.0h0M83.7 39.6h0M135.0 78.9h0M45.2 13.8h0M1.9 24.9h0M135.6 78.5h0M98.2 177.3h0M120.0 53.3h0M111.0 149.7h0M87.1 62.0h0M115.8 49.4h0M52.5 45.2h0M30.4 18.6h0M87.4 45.2h0M104.7 98.0h0M82.0 64.2h0M100.3 47.7h0M69.3 60.9h0M169.7 56.2h0M108.5 118.1h0M21.5 36.5h0M55.9 66.8h0M150.3 50.7h0M32.9 55.9h0M78.1 89.0h0M34.5 13.7h0M142.4 52.3h0M146.8 41.1h0M37.1 10.0h0M160.2 87.8h0M102.7 78.7h0M21.0 30.7h0M61.4 34.9h0M57.1 89.3h0M183.0 71.7h0M82.7 4.4h0M192.6 76.8h0M0.9 27.1h0M5.6 16.2h0M21.9 50.7h0M134.9 56.2h0M66.4 92.3h0M86.3 16.8h0M70.5 118.5h0M143.8 56.3h0M70.7 97.9h0M113.9 80.0h0M74.9 151.8h0M114.1 82.6h0M3.3 21.5h0M37.7 42.7h0M175.9 62.8h0M80.0 26.2h0M108.9 118.3h0M67.5 57.5h0M53.7 130.3h0M16.6 6.0h0M16.5 42.7h0M57.3 30.4h0M86.6 91.3h0M76.5 137.0h0M69.4 75.0h0M116.6 35.6h0M81.8 15.8h0M65.7 1.3h0M159.9 79.5h0M45.4 2.6h0M147.7 79.8h0M86.0 10.7h0M59.9 133.0h0M50.5 8.9h0M88.3 149.9h0M142.0 38.4h0M61.8 66.2h0M153.3 51.8h0M148.4 80.5h0M70.3 28.4h0M113.1 83.4h0M144.8 41.7h0M113.4 36.3h0M108.8 101.9h0M43.0 61.9h0M106.4 157.5h0M47.0 60.4h0M91.6 28.3h0M42.5 53.7h0M136.5 78.7h0M71.3 43.2h0M66.4 144.1h0M59.8 67.4h0M51.8 152.0h0M57.1 52.0h0M77.5 54.6h0M96.0 32.7h0M98.1 29.4h0M120.8 91.9h0M128.9 19.1h0M110.2 95.0h0M122.0 27.4h0M8.4 18.5h0M119.1 44.8h0M119.4 101.9h0M157.3 42.7h0M19.1 11.2h0M70.7 6.7h0M112.0 29.2h0M75.3 95.6h0M65.3 67.2h0M75.7 108.3h0M27.8 24.1h0M73.8 8.7h0M38.0 18.5h0M124.8 76.5h0M49.9 58.7h0M154.8 59.5h0M150.5 40.6h0M97.7 74.1h0M14.6 48.1h0M70.5 133.7h0M170.8 73.9h0M122.4 28.6h0M118.4 53.8h0M61.1 175.5h0M71.2 137.9h0M79.7 55.2h0M96.7 104.5h0M128.4 25.6h0M4.7 17.4h0M59.6 12.1h0M114.1 92.2h0M103.8 155.6h0M110.6 41.3h0M102.6 136.2h0M76.9 36.8h0M72.7 48.8h0M174.5 80.0h0M57.0 121.4h0M80.6 101.6h0M127.4 78.7h0M141.7 27.6h0M127.9 65.9h0M159.0 41.3h0M91.4 18.3h0M132.7 22.3h0M108.6 131.4h0M69.4 124.6h0M95.4 137.5h0M118.1 65.2h0M36.9 29.8h0M151.5 54.4h0M97.7 39.3h0M123.5 81.0h0M98.4 15.9h0M178.3 51.7h0M152.3 82.7h0M129.9 81.4h0M84.7 153.2h0M59.0 32.3h0M105.8 61.6h0M67.0 31.3h0M47.5 51.8h0M125.5 28.4h0M36.7 51.8h0M144.1 43.7h0M102.6 79.5h0M71.8 176.5h0M191.1 79.6h0M14.9 57.4h0M84.1 153.4h0M66.9 107.2h0M95.0 14.1h0M93.5 94.2h0M76.1 115.1h0M75.6 154.8h0M74.4 24.9h0M31.1 38.3h0M144.8 72.6h0M18.7 61.7h0M119.6 145.0h0M67.0 161.5h0M78.0 48.0h0M125.5 36.8h0M20.2 12.4h0M98.0 139.2h0M59.4 26.6h0M115.8 27.8h0M119.0 141.2h0M136.1 48.0h0M118.6 66.1h0M114.8 42.6h0M164.3 87.0h0M173.2 85.3h0M78.2 14.9h0M4.5 29.7h0M53.3 30.5h0M141.3 49.9h0M107.3 73.2h0M141.6 83.7h0M86.7 9.8h0M60.1 121.1h0M122.6 20.0h0M89.0 7.7h0M64.0 133.6h0M0.7 18.2h0M60.1 173.8h0M33.1 47.1h0M139.1 62.9h0M91.3 121.8h0M181.9 77.1h0M117.6 68.0h0M93.3 168.0h0M174.2 83.0h0M54.2 140.2h0M109.3 28.6h0M116.4 68.0h0M64.4 143.9h0M92.5 64.2h0M2.4 48.7h0M98.5 158.6h0M133.7 93.7h0M73.9 54.4h0M20.1 28.8h0M140.8 70.7h0M115.2 96.2h0M112.7 130.1h0M142.0 72.2h0M137.9 65.5h0M84.0 36.7h0M83.2 157.5h0M35.6 46.2h0M157.9 51.7h0M99.2 130.8h0M68.1 88.6h0M106.1 57.8h0M99.6 177.6h0M88.8 134.9h0M163.6 63.5h0M79.4 93.3h0M84.5 135.7h0M85.3 83.4h0M75.3 139.1h0M35.8 21.2h0M96.8 74.7h0M96.1 48.7h0M93.3 76.7h0M115.1 122.3h0M93.0 22.5h0M86.6 85.3h0M142.8 53.0h0M20.4 14.9h0M115.5 111.6h0M93.3 16.8h0M11.2 14.2h0M88.6 9.2h0M157.8 35.5h0M102.6 80.8h0M55.2 43.5h0M12.4 47.3h0M57.2 96.1h0M22.3 56.2h0M180.1 59.0h0M86.5 162.7h0M115.3 30.8h0M105.6 164.4h0M114.6 77.2h0M113.2 89.8h0M45.2 21.8h0M97.1 110.6h0M100.6 136.3h0M118.9 45.1h0M94.5 67.7h0M49.6 70.5h0M21.4 59.5h0M23.9 34.4h0M30.1 28.7h0M61.0 41.8h0M20.4 31.5h0M150.1 46.2h0M102.4 46.8h0M111.0 42.7h0M61.9 133.9h0M103.1 76.9h0M47.6 61.7h0M111.0 158.1h0M76.5 54.9h0M15.9 54.5h0M55.3 36.8h0M110.9 39.5h0M129.6 79.2h0M62.5 98.2h0M74.0 25.0h0M3.4 9.6h0M98.8 109.8h0M177.6 85.9h0M75.7 21.3h0M57.9 63.1h0M165.3 62.7h0M143.6 29.0h0M150.9 58.7h0M153.2 56.3h0M55.5 151.3h0M55.2 5.0h0M41.5 3.0h0M145.5 57.8h0M36.4 30.4h0M54.0 6.0h0M72.2 12.2h0M80.9 10.9h0M108.0 64.9h0M51.4 133.7h0M138.8 66.8h0M160.4 61.5h0M129.2 69.8h0M92.1 131.3h0M97.8 132.2h0M134.8 26.4h0M24.9 35.3h0M138.2 84.0h0M146.2 67.5h0M67.5 145.8h0M92.5 12.0h0M96.2 92.9h0M59.8 141.8h0M101.1 95.4h0M140.1 74.6h0M53.1 3.9h0M122.3 51.1h0M23.3 27.7h0M107.9 108.1h0M89.3 30.4h0M17.7 17.6h0M64.6 107.0h0M169.9 78.3h0M70.8 169.8h0M112.3 73.9h0M143.8 84.1h0M120.2 54.3h0M172.7 65.0h0M6.2 22.6h0M16.4 44.6h0M88.8 116.1h0M132.4 79.2h0M53.3 143.1h0M77.1 93.7h0M150.0 86.7h0M27.1 36.7h0M102.6 113.6h0M52.0 124.2h0M118.1 54.9h0M165.7 68.1h0M102.3 33.8h0M84.2 149.6h0M77.3 36.7h0M12.9 52.3h0M114.9 114.9h0M56.7 131.3h0M75.3 60.3h0M164.9 55.2h0M72.2 72.9h0M90.1 76.4h0M104.9 133.8h0M100.9 98.4h0M4.2 34.8h0M109.6 28.0h0M60.7 124.1h0M143.7 32.4h0M112.9 38.4h0M34.5 35.1h0M103.9 112.9h0M116.2 65.9h0M62.8 6.0h0M32.2 43.1h0M70.7 57.4h0M156.8 34.9h0M73.1 8.5h0M136.2 48.0h0M111.1 112.0h0M165.8 53.5h0M174.4 64.9h0M159.9 73.6h0M189.1 86.9h0M152.6 32.8h0M136.8 60.8h0M163.5 60.8h0M114.6 27.9h0M43.8 43.1h0M50.1 15.9h0M140.7 85.0h0M20.2 51.6h0M21.3 27.5h0M71.1 112.2h0M68.3 181.1h0M66.6 39.7h0M49.1 49.0h0M48.3 61.1h0M101.3 97.2h0M104.4 26.4h0M60.6 143.5h0M102.2 120.1h0M148.0 39.0h0M62.1 78.8h0M86.9 17.2h0M23.0 13.4h0M89.3 40.8h0M142.3 56.7h0M173.7 68.7h0M169.0 85.4h0M86.0 13.6h0M87.5 27.5h0M58.9 68.0h0M106.0 129.1h0M75.4 122.0h0M67.6 99.5h0M39.4 47.3h0M52.6 44.8h0M73.5 123.3h0M61.4 47.5h0M85.4 45.2h0M112.0 55.1h0M120.1 53.6h0M50.7 19.9h0M71.2 124.1h0M51.1 69.8h0M76.4 45.0h0M78.5 55.4h0M176.3 84.3h0M26.2 7.4h0M132.5 26.4h0M77.6 33.5h0M101.7 84.2h0M62.2 189.6h0M104.9 83.2h0M37.5 3.8h0M91.9 17.4h0M166.9 52.0h0M64.8 165.1h0M122.1 43.8h0M102.0 45.9h0M184.7 59.5h0M30.2 33.0h0M48.4 17.8h0M100.6 122.9h0M126.3 63.9h0M139.0 63.9h0M90.9 165.6h0M69.6 31.7h0M138.9 21.9h0M61.1 68.9h0M106.8 139.7h0M35.0 45.2h0M103.2 53.6h0M37.7 55.8h0M121.3 85.2h0M159.3 37.4h0M92.9 9.8h0M2.5 16.4h0M80.8 49.8h0M46.3 35.1h0M76.0 111.2h0M162.4 37.2h0M15.1 28.0h0M185.2 81.7h0M21.5 5.2h0M106.1 120.7h0M160.3 56.9h0M11.5 53.5h0M13.7 34.9h0M48.1 14.5h0M63.5 77.1h0M37.2 4.1h0M36.4 11.0h0M82.4 109.1h0M94.9 125.3h0M21.0 23.6h0M24.3 43.6h0M39.1 9.3h0M50.3 14.5h0M116.9 125.7h0M113.8 22.8h0M58.1 54.7h0M75.0 101.9h0M59.8 69.5h0M143.7 75.9h0M116.8 97.0h0M48.6 66.5h0M59.3 15.3h0M168.5 75.9h0M93.8 28.9h0M165.4 54.9h0M65.8 63.4h0M105.3 112.5h0M159.2 74.8h0M83.9 82.7h0M192.2 71.3h0M122.5 43.3h0M110.8 126.5h0M52.3 41.0h0M101.7 164.1h0M53.3 68.2h0M100.7 95.9h0M72.0 69.7h0M68.7 87.4h0M178.4 74.9h0M130.0 40.0h0M66.2 39.0h0M115.6 65.9h0M119.6 30.9h0M69.4 46.2h0M91.8 59.8h0M32.4 53.5h0M6.8 21.7h0M55.1 59.9h0M59.7 48.9h0M80.7 48.4h0M164.6 41.4h0M25.4 16.6h0M140.1 84.5h0M129.4 54.4h0M156.1 84.4h0M11.9 44.0h0M90.2 73.7h0M100.6 147.8h0M65.1 3.9h0M105.0 30.0h0M109.1 144.4h0M79.3 46.0h0M144.9 41.2h0M51.1 13.5h0M116.5 121.1h0M19.5 18.1h0M54.2 121.5h0M55.6 150.1h0M70.7 128.5h0M161.8 63.3h0M111.8 137.0h0M165.8 49.6h0M94.3 140.9h0M75.1 54.9h0M93.3 17.2h0M8.2 17.6h0M131.4 82.0h0M192.8 71.9h0M18.8 56.3h0M159.0 63.3h0M17.4 7.1h0M31.3 6.3h0M133.4 41.9h0M28.4 13.8h0M14.7 6.1h0M69.2 117.4h0M59.0 154.7h0M66.8 32.4h0M114.0 120.8h0M152.6 67.6h0M112.8 55.9h0M122.1 66.2h0M82.6 175.1h0M170.4 79.3h0M112.5 150.3h0M179.7 55.3h0M54.0 129.0h0M65.9 64.4h0M181.8 85.8h0M51.5 125.8h0M184.3 57.9h0M74.0 44.6h0M86.4 123.1h0M15.7 62.2h0M92.1 81.7h0M85.5 181.0h0M110.4 145.6h0M85.2 71.6h0M110.2 123.2h0M68.2 73.6h0M60.9 16.8h0M119.3 75.3h0M101.3 173.2h0M42.5 67.6h0M144.9 51.4h0M154.1 36.9h0M89.9 156.0h0M113.9 102.5h0M56.7 132.2h0M42.2 31.7h0M172.9 66.4h0M64.4 23.2h0M115.0 141.2h0M18.0 54.1h0M119.0 31.9h0M17.6 61.7h0M85.1 100.1h0M16.0 56.3h0M38.1 54.4h0M107.9 123.4h0M65.9 9.1h0M101.6 98.8h0M134.0 21.7h0M70.8 69.2h0M192.0 77.0h0M60.6 136.1h0M117.0 57.5h0M60.7 120.9h0M104.7 47.6h0M153.0 40.2h0M100.4 68.4h0M97.6 87.3h0M79.3 28.7h0M87.9 166.0h0M59.8 90.1h0M92.9 103.8h0M80.7 3.4h0M189.6 87.8h0M105.2 78.5h0M88.6 69.6h0M98.7 31.7h0M128.0 60.5h0M15.5 51.8h0M85.6 89.2h0M29.7 26.5h0M179.2 56.0h0M41.6 54.6h0M120.0 133.9h0M82.5 31.0h0M40.0 61.5h0M64.6 93.0h0M183.2 86.8h0M170.3 60.5h0M92.8 94.7h0M129.8 85.0h0M21.7 58.6h0M140.1 48.9h0M150.7 33.5h0M55.5 116.3h0M143.0 67.0h0M98.6 94.2h0M72.9 100.0h0M123.7 69.8h0M154.9 67.2h0M58.5 18.7h0M70.0 80.2h0M11.3 15.6h0M102.6 90.3h0M136.1 37.3h0M12.0 64.0h0M149.1 89.1h0M63.6 93.4h0M159.5 46.3h0M64.0 114.1h0M57.1 142.5h0M139.7 36.9h0M153.7 67.0h0M104.9 57.9h0M182.7 76.8h0M134.8 57.7h0M98.7 23.0h0M20.3 25.9h0M116.9 80.7h0M140.4 38.9h0M111.5 147.1h0M27.4 31.4h0M73.9 11.6h0M91.8 114.2h0M88.3 129.7h0M84.1 171.8h0M140.9 57.0h0M127.8 68.5h0M16.2 31.0h0M68.8 63.4h0M120.3 80.2h0M92.2 22.1h0M153.4 42.3h0M151.9 41.5h0M109.9 149.7h0M110.2 104.7h0M57.0 136.4h0M108.6 100.7h0M74.6 23.7h0M134.5 78.2h0M101.3 59.9h0M72.1 98.9h0M5.5 32.8h0M127.9 46.7h0M85.4 68.2h0M40.9 11.7h0M16.3 47.9h0M96.8 21.6h0M95.2 24.3h0M163.2 50.6h0M64.1 176.9h0M168.0 50.6h0M69.2 151.9h0M126.6 53.5h0M55.9 1.0h0M70.4 118.8h0M86.1 72.6h0M107.5 143.4h0M72.6 9.6h0M119.5 138.3h0M27.2 34.6h0M125.3 88.8h0M107.7 159.6h0M9.3 9.0h0M71.1 44.5h0M56.3 145.8h0M51.3 52.8h0M179.4 85.1h0M42.8 62.3h0M127.9 28.5h0M134.5 60.4h0M116.3 101.7h0M52.2 151.4h0M83.2 3.9h0M100.0 114.9h0M71.1 75.8h0M74.8 144.9h0M163.8 70.8h0M59.1 11.8h0M44.0 25.5h0M44.6 58.4h0M92.6 171.6h0M9.8 32.7h0M184.9 85.5h0M53.0 3.4h0M79.0 178.5h0M4.3 10.9h0M118.7 28.2h0M47.5 50.5h0M67.4 49.9h0M20.7 7.8h0M87.2 80.3h0M108.8 156.6h0M111.7 104.5h0M109.0 75.1h0M49.6 22.0h0M104.6 21.4h0M34.3 25.6h0M97.9 147.5h0M159.5 65.4h0M76.6 95.6h0M75.6 147.1h0M38.9 9.0h0M62.7 114.5h0M59.1 149.0h0M112.8 38.1h0M23.8 16.4h0M68.1 4.8h0M94.9 168.4h0M64.9 96.0h0M108.0 32.6h0M117.8 96.6h0M68.9 85.1h0M73.8 160.3h0M161.8 62.1h0M137.2 46.2h0M157.3 37.4h0M132.1 18.5h0M132.0 46.9h0M84.7 31.1h0M83.9 84.8h0M109.6 151.6h0M127.1 34.3h0M108.9 117.2h0M52.0 29.2h0M124.7 49.5h0M70.6 67.6h0M132.7 91.1h0M126.6 78.3h0M73.2 55.2h0M91.6 40.1h0M60.9 67.6h0M157.5 74.1h0M112.7 62.8h0M57.3 41.9h0M25.0 57.4h0M135.8 78.5h0M9.3 32.4h0M110.2 80.3h0M178.2 56.6h0M101.7 73.8h0M114.3 147.9h0M128.2 23.5h0M160.3 63.3h0M30.3 12.0h0M110.3 45.3h0M78.8 22.8h0M64.6 177.0h0M73.9 145.0h0M58.8 157.6h0M89.3 102.8h0M54.4 2.4h0M49.5 20.7h0M18.5 5.3h0M67.9 108.4h0M112.5 99.3h0M69.6 88.3h0M80.3 106.3h0M108.8 101.1h0M48.0 29.7h0M47.5 47.1h0M7.4 15.4h0M38.9 51.9h0M64.0 87.6h0M50.2 15.9h0M157.1 84.9h0M161.6 83.9h0M50.2 43.9h0M106.3 100.7h0M25.7 4.4h0M96.0 26.8h0M88.0 109.1h0M90.5 121.4h0M113.6 99.4h0M56.6 67.5h0M65.4 40.7h0M110.0 82.9h0M118.1 120.2h0M116.0 38.9h0M77.9 63.4h0M64.2 112.5h0M3.5 30.7h0M74.0 74.1h0M127.5 51.7h0M76.1 142.6h0M72.8 7.9h0M12.5 20.5h0M74.8 66.4h0M98.6 131.2h0M79.0 134.8h0M57.4 14.3h0M51.8 126.7h0M77.5 145.3h0M13.3 42.7h0M14.0 32.7h0M66.2 122.8h0M65.5 2.7h0M78.7 93.7h0M105.9 67.1h0M64.1 6.9h0M43.4 25.4h0M185.3 65.3h0M43.5 27.7h0M89.1 28.5h0M127.7 49.8h0M75.9 124.4h0M119.8 106.2h0M104.0 57.6h0M73.7 54.4h0M121.4 38.9h0M24.9 15.5h0M84.4 21.6h0M47.9 48.1h0M43.8 63.3h0M90.3 55.9h0M89.7 19.7h0M141.2 57.3h0M77.5 73.7h0M140.0 40.4h0M105.6 143.0h0M110.9 76.3h0M92.4 26.0h0M86.6 94.3h0M55.9 68.2h0M117.5 62.0h0M53.4 10.9h0M15.5 6.6h0M82.5 68.4h0M15.7 17.7h0M173.1 84.9h0M110.7 40.6h0M107.0 18.5h0M112.5 107.9h0M107.7 120.4h0M7.1 24.7h0M73.0 39.1h0M27.0 5.1h0M69.9 64.3h0M88.9 118.5h0M141.5 25.9h0M106.3 77.7h0M100.9 40.0h0M91.1 163.5h0M79.9 29.8h0M38.1 37.6h0M131.6 19.5h0M33.0 23.9h0M98.9 89.0h0M147.4 77.8h0M84.5 164.6h0M49.1 72.2h0M5.8 18.0h0M80.7 81.9h0M169.5 67.4h0M101.8 103.7h0M88.7 16.9h0M104.5 181.9h0M1.9 52.1h0M152.6 38.6h0M95.1 156.8h0M68.7 23.3h0M118.5 55.5h0M59.0 79.3h0M87.9 27.1h0M139.6 87.3h0M73.1 24.4h0M17.0 25.5h0M52.1 26.0h0M145.2 57.1h0M110.1 27.1h0M58.3 49.2h0M70.8 173.6h0M97.3 62.2h0M131.3 53.8h0M54.0 115.1h0M121.6 22.9h0M69.4 110.1h0M53.4 16.3h0M117.5 96.2h0M116.9 77.5h0M62.4 103.0h0M70.4 95.7h0M19.4 27.8h0M58.8 154.5h0M65.0 11.6h0M104.4 48.1h0M73.3 107.9h0M47.7 34.3h0M25.7 51.3h0M60.7 93.3h0M176.0 64.8h0M71.2 84.3h0M4.4 15.6h0M109.9 87.4h0M151.1 52.6h0M59.3 133.3h0M182.4 57.1h0M37.5 12.9h0M186.4 76.4h0M125.0 87.2h0M121.7 93.4h0M99.9 133.4h0M70.4 81.6h0M53.8 30.3h0M60.0 160.5h0M126.6 40.7h0M62.6 41.5h0M155.5 67.9h0M117.1 121.6h0M23.2 25.1h0M108.3 108.1h0M15.6 42.4h0M179.1 71.4h0M79.9 173.6h0M50.1 61.2h0M118.6 139.5h0M10.3 50.7h0M119.4 143.1h0M88.1 109.1h0M112.8 160.1h0M97.7 75.9h0M60.4 175.2h0M35.4 23.1h0M51.7 8.3h0M121.2 35.6h0M87.7 52.9h0M112.6 47.9h0M25.3 44.0h0M123.9 76.6h0M87.6 67.4h0M17.9 47.7h0M126.6 18.8h0M58.9 70.8h0M113.0 133.7h0M157.4 38.4h0M86.1 31.3h0M50.2 121.2h0M183.3 66.5h0M77.1 107.0h0M10.2 27.8h0M114.0 86.2h0M93.6 47.6h0M72.3 132.9h0M95.6 148.3h0M97.8 165.2h0M106.1 61.9h0M29.7 47.7h0M55.5 11.1h0M67.2 58.6h0M69.6 84.8h0M101.4 148.5h0M26.9 6.6h0M116.1 24.5h0M66.8 106.1h0M59.2 83.9h0M68.6 129.9h0M90.7 175.7h0M65.9 39.3h0M104.7 42.5h0M107.3 57.6h0M175.9 53.8h0M74.3 102.8h0M109.8 134.8h0M108.6 157.5h0M181.3 80.3h0M120.1 49.4h0M44.9 8.6h0M101.1 126.5h0M108.1 103.0h0M189.9 65.2h0M30.2 48.7h0M112.7 104.5h0M150.5 81.7h0M166.3 47.9h0M111.7 77.9h0M132.2 27.0h0M176.7 50.5h0M7.2 35.7h0M104.2 135.2h0M100.7 72.9h0M150.9 36.3h0M123.2 20.4h0M21.5 34.7h0M190.3 60.5h0M108.5 141.1h0M28.7 36.6h0M82.5 119.2h0M191.1 62.2h0M108.8 117.8h0M98.3 19.0h0M126.4 82.0h0M65.5 114.3h0M56.7 136.4h0M56.6 149.8h0M70.1 10.8h0M92.1 84.8h0" fill="none" stroke="#e2e2e2" stroke-width="1.6" stroke-linecap="round"/><path d="M22.5 31.4h0M116.6 78.4h0M101.3 84.0h0M64.5 61.1h0M102.8 160.4h0M63.3 52.6h0M15.9 36.2h0M89.2 48.9h0M54.3 49.7h0M62.9 71.1h0M31.6 44.0h0M70.9 58.3h0M96.5 163.9h0M142.1 40.7h0M81.8 166.3h0M93.7 24.6h0M95.0 133.7h0M114.8 75.2h0M167.4 57.3h0M143.1 42.1h0M27.1 35.1h0M43.7 38.9h0M158.1 35.4h0M91.7 25.1h0M131.7 70.8h0M65.7 162.5h0M127.9 72.1h0M151.5 72.2h0M62.5 7.7h0M72.3 120.2h0M110.2 159.2h0M166.2 87.0h0M153.6 71.5h0M62.4 59.9h0M74.4 108.6h0M124.3 73.3h0M93.1 79.9h0M15.0 39.6h0M62.3 110.4h0M40.5 63.6h0M32.8 29.8h0M150.3 31.0h0M166.7 51.6h0M99.0 64.1h0M55.5 32.9h0M108.4 104.2h0M48.4 38.9h0M80.6 22.3h0M180.7 51.2h0M60.4 11.7h0M100.3 49.8h0M178.2 70.7h0M127.2 62.1h0M95.0 16.8h0M149.3 40.2h0M85.7 76.2h0M157.1 35.2h0M176.1 58.6h0M111.4 50.7h0M159.0 43.7h0M28.1 24.3h0M163.2 51.5h0M63.3 27.4h0M102.8 113.8h0M112.4 40.9h0M169.1 51.4h0M34.5 36.1h0M69.9 38.9h0M44.2 44.0h0M162.9 62.9h0M73.9 122.6h0M191.7 74.7h0M131.2 67.7h0M143.5 37.0h0M80.8 12.6h0M70.9 86.4h0M31.3 6.3h0M63.5 132.4h0M130.3 69.3h0M155.4 47.7h0M51.8 58.6h0M90.2 142.8h0M186.5 59.0h0M106.7 26.9h0M162.8 78.1h0M95.3 25.8h0M129.5 74.5h0M179.0 59.7h0M6.8 18.0h0M139.3 88.9h0M89.0 171.8h0M66.0 17.0h0M0.2 35.0h0M113.0 83.4h0M106.7 115.4h0M76.2 3.5h0M113.9 32.0h0M119.1 93.6h0M88.5 44.8h0M16.8 10.6h0M89.0 46.0h0M42.6 6.7h0M58.2 99.6h0M51.7 144.8h0M140.3 43.1h0M101.7 164.1h0M93.6 144.9h0M163.7 37.9h0M94.8 49.2h0M21.8 34.8h0M110.2 29.7h0M34.8 8.0h0M133.0 63.4h0M111.2 107.7h0M125.7 42.7h0M62.2 144.6h0M137.5 60.6h0M105.1 138.1h0M169.3 58.2h0M74.5 28.6h0M141.4 27.7h0M70.6 39.0h0M11.2 46.7h0M22.9 42.9h0M24.6 5.2h0M158.7 41.9h0M178.4 74.9h0M98.7 138.2h0M111.1 22.5h0M31.9 25.9h0M89.8 159.6h0M126.0 20.6h0M65.1 3.9h0M74.7 26.7h0M59.0 67.4h0M29.1 42.5h0M167.2 75.9h0M1.5 37.1h0M89.3 161.4h0M100.1 21.0h0M114.4 24.0h0M101.6 68.4h0M155.3 53.2h0M93.5 97.2h0M170.5 48.9h0M173.5 72.7h0M164.4 58.1h0M166.4 51.3h0M64.2 148.3h0M72.6 138.2h0M62.8 123.7h0M155.0 48.7h0M189.8 64.5h0M102.9 167.2h0M105.3 122.1h0M60.3 157.1h0M95.0 70.0h0M120.0 101.7h0M75.6 29.9h0M79.2 24.3h0M53.1 55.1h0M55.9 34.7h0M178.8 50.8h0M119.1 34.0h0M37.1 45.8h0M59.0 178.3h0M184.7 87.1h0M40.9 46.7h0M59.0 58.8h0M127.4 42.1h0M57.9 104.7h0M145.9 46.3h0M174.5 85.0h0M139.0 55.8h0M62.1 12.0h0M106.0 169.5h0M115.7 60.2h0M108.1 44.2h0M107.1 84.0h0M22.1 24.9h0M138.3 82.2h0M101.7 159.4h0M117.9 133.1h0M96.5 90.6h0M42.4 56.7h0M77.5 10.6h0M143.3 40.2h0M61.2 174.5h0M16.8 26.0h0M143.5 43.2h0M92.4 25.8h0M33.8 21.6h0M161.0 59.2h0M60.0 56.2h0M41.7 44.6h0M60.9 37.9h0M51.4 52.3h0M63.4 39.8h0M51.5 30.4h0M21.8 46.6h0" fill="none" stroke="#cfcfd3" stroke-width="1.1" stroke-linecap="round"/><path d="M102.0 21.5L99.5 34.5L96.8 47.4L94.0 60.4L90.7 73.3L88.4 86.3L86.1 99.3L84.0 112.2L81.9 125.2L79.8 138.2L77.8 151.1L75.8 164.1L73.9 177.0L72.3 190.0L77.7 190.0L79.1 177.0L80.8 164.1L82.4 151.1L83.9 138.2L85.5 125.2L87.3 112.2L89.1 99.3L91.1 86.3L93.1 73.3L96.0 60.4L98.7 47.4L101.2 34.5L103.6 21.5Z" fill="url(#fg)"/><g clip-path="url(#bc)" fill="none" stroke-linejoin="round"><path d="M0.1 14.5L3.5 9.3L17.3 4.9L35.1 1.9L55.0 0.3L75.0 1.7L86.0 4.4L94.2 9.2L99.2 15.4L101.6 20.5M192.8 66.9L190.4 60.1L182.1 51.8L168.4 40.8L154.6 31.2L140.9 21.6L127.2 16.8L116.0 16.3L108.0 17.8L104.8 20.2" stroke="#fff" stroke-opacity="0.5" stroke-width="7"/><path d="M102.8 21.5L99.9 36.8L96.7 52.1L93.3 67.5L90.4 82.8L87.8 98.1L85.5 113.4L83.2 128.7L81.1 144.0L78.9 159.4L76.8 174.7L75.0 190.0" stroke="#fff" stroke-opacity="0.3" stroke-width="7"/><path d="M0.1 14.5L3.5 9.3L17.3 4.9L35.1 1.9L55.0 0.3L75.0 1.7L86.0 4.4L94.2 9.2L99.2 15.4L101.6 20.5M192.8 66.9L190.4 60.1L182.1 51.8L168.4 40.8L154.6 31.2L140.9 21.6L127.2 16.8L116.0 16.3L108.0 17.8L104.8 20.2" stroke="#e2e2e2" stroke-width="0.9"/></g></g>
</defs>
<rect width="1892" height="2711" fill="#fff"/>
<text transform="translate(12.0 38.8) scale(1.08 1.03)" font-size="39" font-weight="bold" fill="#000">a</text>
<text transform="translate(9.6 806.8) scale(1.08 1.03)" font-size="39" font-weight="bold" fill="#000">b</text>
<text transform="translate(13.4 2160.0) scale(1.08 1.03)" font-size="39" font-weight="bold" fill="#000">d</text>
<text transform="translate(0.1 1581.7) scale(1.06 1.0)" font-size="37.5" font-weight="bold" fill="#000" stroke="#000" stroke-width="1.6" stroke-linejoin="round">c</text>
<text transform="translate(219.10 51.00) scale(1 1.040)" font-size="26.9" text-anchor="middle" fill="#00009c" stroke="#00009c" stroke-width="0.3">L2/3 IT 1</text>
<g transform="translate(120.2 66.0)"><use href="#brain"/><path d="M94.6 31.9h0M90.2 54.1h0M95.7 20.2h0M91.5 37.8h0M93.0 40.0h0M89.8 49.8h0M91.3 38.9h0M94.1 24.8h0M95.8 29.4h0M92.0 46.5h0M90.0 42.7h0M91.8 50.4h0M92.8 46.3h0M92.4 35.6h0M81.2 85.0h0M85.7 71.7h0M77.0 108.5h0M88.1 59.4h0M80.4 100.0h0M78.9 94.2h0M85.7 74.3h0M80.5 100.9h0M85.5 65.1h0M82.7 79.5h0M79.0 101.8h0M87.6 59.1h0M81.7 80.2h0M78.3 99.5h0M80.4 90.6h0M83.4 84.7h0M81.3 84.5h0M85.5 66.0h0M85.3 70.5h0M82.7 75.3h0M82.1 83.0h0M84.2 78.5h0M79.7 102.7h0M80.6 86.9h0M83.6 78.3h0M86.1 64.2h0M79.2 105.7h0M80.1 92.9h0M81.8 86.7h0M82.6 89.5h0M79.8 101.6h0M81.1 90.5h0M78.0 103.9h0M80.5 95.0h0M84.1 86.4h0M83.5 84.2h0M86.3 72.1h0M78.3 99.5h0M82.7 81.7h0M79.7 105.3h0M79.4 99.2h0M86.6 64.0h0M85.3 74.4h0M88.2 62.8h0M84.8 70.7h0M87.1 68.6h0M78.3 102.9h0M85.1 63.4h0M82.0 83.8h0M83.9 77.6h0M80.2 99.2h0M82.3 97.3h0M81.7 84.0h0M85.4 66.0h0M81.3 82.5h0M84.3 74.4h0M80.0 89.1h0M82.5 81.0h0M87.3 67.6h0M80.5 102.4h0M83.1 71.4h0M87.4 63.8h0M84.4 73.3h0M80.3 97.6h0M82.3 77.9h0M79.9 97.4h0M83.9 73.9h0M77.1 103.1h0M83.1 89.8h0M82.1 89.5h0M84.7 76.6h0M86.9 66.1h0M80.5 92.6h0M82.0 91.7h0M84.2 75.9h0M106.2 43.5h0M100.8 64.2h0M103.9 50.0h0M105.2 51.9h0M102.6 66.2h0M110.9 29.2h0M104.1 60.4h0M103.7 54.1h0M105.7 37.2h0M108.4 34.5h0M99.7 79.9h0M108.2 39.9h0M100.0 75.4h0M94.7 107.8h0M91.4 117.6h0M97.6 80.2h0M91.9 121.0h0M98.3 88.7h0M96.4 89.9h0M93.6 124.2h0M100.2 72.6h0M102.8 66.8h0M98.5 75.0h0M93.4 108.1h0M97.7 90.7h0M96.0 97.6h0M98.6 75.1h0M99.5 82.6h0M96.5 83.2h0M96.0 98.7h0M99.3 80.0h0M97.9 80.1h0M96.7 94.2h0M97.4 94.6h0M97.3 89.8h0M96.0 97.1h0M99.5 70.6h0M93.2 105.2h0M97.4 83.4h0M97.7 90.1h0M95.3 103.6h0M100.1 78.9h0M96.1 100.0h0M95.7 109.9h0M99.5 72.8h0M94.5 101.6h0M98.3 91.0h0M92.6 128.6h0M93.6 114.9h0M93.6 102.9h0M97.6 84.2h0M96.0 103.4h0M98.2 90.6h0M94.0 102.9h0M98.2 75.7h0M91.6 121.5h0M93.3 125.1h0M97.1 97.4h0M95.3 101.1h0M97.5 91.4h0M99.5 71.4h0M98.0 87.6h0M98.3 83.9h0M97.1 79.2h0M98.6 79.8h0M90.9 122.2h0M94.5 113.5h0M94.9 100.7h0M102.1 69.3h0M95.3 105.0h0M94.0 113.9h0M98.6 80.8h0M98.5 89.9h0M96.2 104.4h0M92.7 116.9h0M91.8 112.6h0M94.3 112.3h0M96.8 82.1h0M95.4 101.9h0M95.4 89.9h0M93.4 110.8h0M101.1 68.4h0M97.1 98.4h0M96.7 92.6h0M97.5 96.6h0M98.4 80.3h0M101.8 70.0h0M93.7 106.6h0M98.0 75.4h0M96.2 103.9h0M92.5 123.7h0M99.1 89.2h0M95.8 107.6h0M95.5 102.0h0M94.2 107.0h0M95.9 91.3h0M97.6 91.8h0M97.5 82.7h0M100.2 77.6h0M94.7 104.9h0M100.3 66.4h0M96.8 91.3h0M90.8 143.4h0M104.7 19.8h0M105.4 139.5h0M110.5 86.8h0M92.4 95.1h0" fill="none" stroke="#d8404c" stroke-opacity="0.72" stroke-width="1.55" stroke-linecap="round"/></g>
<text transform="translate(450.50 51.00) scale(1 1.040)" font-size="26.9" text-anchor="middle" fill="#00009c" stroke="#00009c" stroke-width="0.3">L2/3 IT 2</text>
<g transform="translate(346.9 66.0)"><use href="#brain"/><path d="M38.0 11.1h0M90.5 52.1h0M52.6 6.6h0M8.7 16.7h0M52.2 5.8h0M38.5 8.6h0M81.2 12.4h0M81.4 92.5h0M84.4 65.0h0M83.6 68.2h0M58.1 9.6h0M70.8 7.7h0M85.0 69.3h0M79.2 10.8h0M82.5 14.0h0M93.2 37.5h0M81.0 90.9h0M46.0 10.5h0M92.5 26.0h0M77.8 98.6h0M81.2 90.3h0M26.1 13.4h0M81.1 81.8h0M91.8 33.8h0M5.4 23.1h0M45.9 9.9h0M83.0 11.0h0M84.0 68.8h0M80.1 11.5h0M57.5 6.8h0M70.2 8.7h0M91.8 17.8h0M54.8 9.6h0M87.2 67.2h0M87.4 68.2h0M64.1 8.4h0M9.1 17.6h0M83.7 13.6h0M53.2 10.2h0M80.8 84.2h0M31.8 9.3h0M52.4 7.1h0M76.9 106.0h0M81.4 93.2h0M30.1 12.3h0M77.9 11.8h0M58.2 9.9h0M3.5 21.4h0M22.1 12.3h0M72.1 9.4h0M27.4 12.2h0M45.2 9.9h0M23.4 14.5h0M39.3 10.3h0M20.4 13.3h0M89.9 52.3h0M35.2 13.2h0M5.0 20.4h0M81.0 10.7h0M93.2 22.1h0M76.1 9.1h0M77.8 102.0h0M80.3 13.9h0M55.5 8.2h0M92.2 39.2h0M69.8 11.4h0M5.1 22.9h0M82.3 77.9h0M28.6 8.2h0M17.1 17.4h0M83.6 13.7h0M16.0 11.8h0M90.2 37.5h0M93.2 22.7h0M87.6 61.9h0M93.5 25.5h0M16.3 15.8h0M80.1 10.2h0M28.7 9.7h0M89.2 46.1h0M6.3 15.6h0M81.1 9.5h0M92.5 28.0h0M78.4 98.0h0M94.0 17.1h0M32.4 13.4h0M80.8 92.1h0M80.9 13.1h0M88.3 50.2h0M84.5 71.6h0M94.6 31.4h0M59.3 10.7h0M92.6 16.5h0M87.9 13.0h0M95.0 22.9h0M71.6 11.3h0M15.7 12.3h0M91.0 20.1h0M81.0 11.7h0M82.5 82.4h0M81.5 87.1h0M86.2 69.9h0M92.7 43.9h0M80.5 100.9h0M89.4 17.5h0M92.9 40.1h0M23.3 13.5h0M79.1 97.5h0M9.1 17.8h0M13.1 15.6h0M68.9 11.0h0M82.1 81.0h0M34.6 13.1h0M90.2 13.6h0M33.4 10.3h0M23.5 12.5h0M21.4 12.5h0M54.2 8.8h0M89.8 58.9h0M22.2 12.0h0M90.1 52.0h0M66.3 8.6h0M86.8 68.5h0M81.6 83.0h0M80.8 95.4h0M15.8 14.4h0M80.9 99.5h0M86.5 54.9h0M86.3 62.2h0M78.2 99.6h0M89.7 15.0h0M92.8 30.0h0M25.8 11.6h0M49.7 8.1h0M82.9 87.8h0M78.3 95.2h0M24.1 12.2h0M84.8 67.2h0M78.5 95.7h0M53.1 8.7h0M3.9 22.5h0M4.0 21.2h0M40.1 9.8h0M94.3 25.9h0M86.8 53.4h0M80.6 87.6h0M90.8 51.8h0M43.0 10.1h0M80.1 93.0h0M39.7 12.9h0M33.4 10.4h0M27.4 9.4h0M90.0 53.7h0M84.6 73.3h0M93.1 19.5h0M48.1 11.4h0M22.1 12.7h0M5.5 23.2h0M93.8 26.8h0M24.4 9.8h0M12.4 16.8h0M83.8 83.5h0M85.3 75.9h0M83.0 83.7h0M37.7 11.9h0M84.3 62.9h0M60.8 11.8h0M61.8 9.0h0M55.6 9.3h0M88.6 50.4h0M119.7 25.6h0M134.1 29.9h0M96.8 104.9h0M98.1 83.4h0M186.9 72.7h0M119.2 27.1h0M131.9 27.6h0M124.8 23.1h0M184.0 69.7h0M99.3 80.0h0M188.4 72.0h0M104.8 46.2h0M136.4 29.7h0M105.0 48.9h0M164.6 49.2h0M97.6 88.5h0M110.7 26.0h0M124.7 24.4h0M177.7 55.3h0M109.7 32.4h0M103.0 49.8h0M173.3 58.1h0M169.7 54.0h0M109.3 28.1h0M99.1 80.1h0M143.3 30.2h0M187.4 74.8h0M156.2 45.4h0M97.9 85.4h0M108.0 37.8h0M102.0 70.8h0M120.0 25.0h0M172.8 55.3h0M184.5 63.5h0M185.7 70.1h0M100.3 80.1h0M157.6 43.1h0M146.7 38.5h0M101.9 55.4h0M141.9 35.1h0M147.8 34.1h0M161.3 44.0h0M109.2 25.1h0M192.6 73.8h0M108.1 45.1h0M155.3 40.5h0M102.4 68.3h0M164.9 47.6h0M139.3 29.9h0M146.9 36.6h0M174.0 57.8h0M129.9 28.2h0M116.9 23.8h0M95.3 96.9h0M173.3 55.4h0M130.0 29.8h0M167.9 51.9h0M190.0 76.2h0M107.1 35.2h0M151.7 42.0h0M182.4 68.4h0M181.4 69.0h0M184.8 68.4h0M108.8 38.5h0M100.5 66.7h0M105.8 41.7h0M173.0 52.9h0M124.0 23.4h0M133.3 28.8h0M105.3 51.4h0M164.7 52.1h0M138.1 31.8h0M146.0 35.0h0M94.7 90.2h0M122.5 22.5h0M124.9 24.7h0M150.0 41.0h0M185.1 62.5h0M95.3 101.6h0M100.5 66.5h0M144.3 35.2h0M186.6 76.0h0M165.5 45.8h0M155.5 41.9h0M98.6 75.2h0M96.8 86.7h0M145.6 36.6h0M99.4 74.1h0M111.9 22.6h0M105.1 43.2h0M136.3 28.5h0M102.2 65.2h0M101.9 68.6h0M187.4 69.6h0M128.7 26.6h0M99.7 84.5h0M132.4 28.7h0M110.9 31.3h0M148.1 39.3h0M171.2 53.4h0M98.4 71.9h0M157.1 46.9h0M151.8 39.5h0M144.5 34.2h0M171.9 51.7h0M142.7 33.7h0M183.2 72.3h0M96.2 97.9h0M110.2 23.3h0M148.3 38.4h0M186.2 74.2h0M183.9 64.5h0M148.0 34.4h0M100.3 83.8h0M121.1 26.2h0M126.9 26.0h0M144.6 32.2h0M163.1 46.3h0M97.6 96.0h0M99.8 83.6h0M96.9 99.3h0M182.0 61.4h0M103.5 52.6h0M106.2 53.6h0M107.9 28.7h0M149.5 38.3h0M134.3 31.2h0M149.3 40.3h0M175.6 54.6h0M102.8 51.6h0M186.5 75.8h0M191.8 74.4h0M100.2 73.0h0M188.9 76.8h0M127.4 26.2h0M173.8 60.0h0M172.6 54.6h0M187.6 71.2h0M105.9 40.0h0M161.3 48.1h0M105.5 41.3h0M182.9 67.8h0M155.3 41.8h0M174.6 54.2h0M156.9 46.7h0M187.7 74.6h0M110.8 32.3h0M183.1 63.1h0M126.8 24.0h0M141.2 34.8h0M157.4 47.0h0M192.3 74.2h0M133.2 27.6h0M157.3 42.8h0M114.6 25.8h0M172.2 55.2h0M138.1 32.2h0M107.4 33.3h0M174.2 56.9h0M186.1 74.1h0M119.4 24.7h0M172.5 52.4h0M103.8 53.5h0M135.8 28.9h0M170.8 53.7h0M159.8 43.4h0M104.3 43.9h0M125.9 26.3h0M100.6 64.5h0M106.0 41.3h0M111.9 25.8h0M97.5 97.6h0M100.2 64.0h0M186.9 76.8h0M104.0 60.4h0M157.0 46.6h0M112.0 26.9h0M131.5 29.5h0M149.6 37.7h0M108.4 29.9h0M147.6 37.5h0M147.0 38.4h0M108.3 27.0h0M156.1 43.0h0M168.2 55.9h0M181.4 60.8h0M122.6 27.1h0M184.3 73.0h0M183.0 64.3h0M94.3 95.3h0M167.5 50.8h0M97.7 96.4h0M109.9 26.9h0M186.5 69.4h0M96.3 91.1h0M104.8 49.9h0M100.4 78.2h0M100.2 76.9h0M112.5 23.7h0M142.2 31.3h0M179.8 57.9h0M100.8 64.2h0M129.6 25.5h0M184.5 69.7h0M97.3 86.1h0M111.9 23.3h0M94.7 99.8h0M102.1 69.3h0M96.1 90.5h0M101.6 58.0h0M106.0 42.0h0M102.6 61.7h0M104.8 41.7h0M138.2 32.7h0M159.5 45.6h0M185.9 74.0h0M96.0 86.2h0M95.1 106.1h0M134.2 31.9h0M142.2 32.3h0M137.4 30.1h0M181.2 64.2h0M184.3 63.0h0M177.7 56.8h0M109.0 38.0h0M95.4 99.9h0M152.3 44.2h0M106.3 49.3h0M108.6 37.7h0M105.4 38.5h0M167.7 52.1h0M107.3 50.8h0M116.0 23.9h0M144.8 33.6h0M171.9 50.8h0M159.6 43.4h0M132.4 29.4h0M105.4 46.9h0M116.6 26.5h0M107.7 29.3h0M123.0 22.5h0M103.2 66.4h0M98.8 77.1h0M186.1 74.8h0M169.2 54.0h0M151.5 37.7h0M96.8 93.1h0M97.4 78.1h0M96.2 89.6h0M158.7 43.6h0M78.2 115.1h0M74.0 127.6h0M75.0 141.5h0M77.3 121.6h0M79.1 99.3h0M71.5 146.3h0M77.0 106.8h0M76.7 106.2h0M73.7 122.5h0M71.0 145.9h0M74.5 127.7h0M74.2 149.3h0M80.6 105.1h0M74.2 125.9h0M78.0 101.0h0M74.8 114.7h0M73.1 141.5h0M72.1 137.3h0M78.3 99.7h0M77.0 124.1h0M72.8 133.6h0M70.6 149.3h0M73.4 133.9h0M75.7 130.1h0M76.6 114.4h0M87.7 168.6h0M85.2 171.8h0M85.2 176.6h0M85.6 167.9h0M96.1 98.6h0M86.7 152.8h0M84.9 169.1h0M90.7 117.2h0M87.9 174.4h0M85.4 162.1h0M87.3 161.1h0M91.7 141.5h0M95.3 104.0h0M94.9 100.4h0M85.6 164.3h0M89.5 127.4h0M92.4 110.9h0M86.9 155.0h0M91.6 125.1h0M90.9 124.1h0M88.3 155.3h0M91.5 111.9h0M89.8 150.6h0M89.6 137.9h0M90.4 146.9h0M91.4 126.2h0M88.3 150.7h0M95.1 111.5h0M85.3 165.4h0M86.9 175.1h0M85.4 176.7h0M94.4 117.3h0M88.2 158.7h0M88.4 169.2h0M87.2 146.0h0M60.6 157.6h0M65.6 139.1h0M87.5 168.5h0M71.9 138.2h0M94.0 149.4h0M86.6 165.2h0M73.1 163.7h0M91.1 141.7h0M65.1 177.8h0M91.1 170.8h0M182.6 62.5h0M31.7 5.3h0M100.7 153.3h0M83.9 103.6h0M96.7 32.6h0M118.8 145.2h0M169.2 60.1h0M30.2 18.3h0" fill="none" stroke="#d8404c" stroke-opacity="0.72" stroke-width="1.55" stroke-linecap="round"/></g>
<text transform="translate(681.20 51.00) scale(1 1.040)" font-size="26.9" text-anchor="middle" fill="#00009c" stroke="#00009c" stroke-width="0.3">L2/3 IT 3</text>
<g transform="translate(573.7 66.0)"><use href="#brain"/><path d="M23.5 11.1h0M2.9 20.5h0M15.4 11.4h0M10.6 15.3h0M3.4 20.4h0M54.0 4.9h0M16.0 11.8h0M79.0 7.2h0M45.4 6.0h0M12.0 14.4h0M62.3 8.6h0M2.1 18.6h0M58.4 6.1h0M26.9 12.1h0M10.4 12.5h0M67.7 6.6h0M75.1 10.6h0M42.1 9.5h0M67.3 8.1h0M27.6 13.0h0M27.5 11.8h0M60.5 8.5h0M81.0 10.8h0M81.6 7.9h0M67.4 6.0h0M31.9 11.1h0M68.6 9.6h0M60.2 8.3h0M12.4 13.1h0M81.0 10.7h0M21.6 11.0h0M31.5 11.4h0M61.5 9.9h0M47.4 6.3h0M17.6 10.8h0M37.1 7.6h0M27.0 11.3h0M4.7 20.8h0M60.2 10.4h0M5.4 21.0h0M51.4 7.2h0M0.4 23.3h0M53.5 8.5h0M57.9 5.8h0M4.2 20.7h0M33.3 8.1h0M68.6 6.6h0M29.4 8.1h0M45.0 7.1h0M57.6 9.3h0M9.7 14.1h0M22.7 11.0h0M54.7 7.2h0M84.8 13.3h0M10.3 16.3h0M10.5 14.5h0M57.0 7.2h0M31.6 9.2h0M72.3 8.2h0M24.4 9.5h0M2.2 19.7h0M7.4 13.2h0M20.1 11.9h0M5.0 19.7h0M86.1 12.4h0M30.4 11.7h0M44.1 6.8h0M68.3 7.9h0M82.5 8.4h0M0.1 21.7h0M13.8 12.3h0M21.2 11.8h0M85.4 10.4h0M37.1 9.4h0M36.0 10.9h0M30.2 11.7h0M71.8 8.6h0M74.9 8.2h0M6.1 19.9h0M3.8 23.2h0M5.1 22.9h0M63.0 8.1h0M47.4 7.7h0M4.2 20.2h0M11.0 14.8h0M42.4 9.3h0M66.6 8.0h0M80.0 10.5h0M62.8 7.7h0M47.7 9.6h0M68.4 11.1h0M6.9 20.1h0M1.9 22.5h0M49.3 8.0h0M79.2 10.6h0M26.9 10.9h0M28.7 11.9h0M80.4 11.2h0M78.8 9.0h0M58.0 8.9h0M57.1 5.5h0M13.0 16.1h0M57.8 7.9h0M14.1 11.8h0M39.6 10.4h0M5.8 14.4h0M66.9 9.2h0M54.4 8.3h0M7.2 19.3h0M65.0 7.6h0M53.4 7.5h0M87.0 14.1h0M46.9 7.8h0M76.2 7.1h0M70.9 11.5h0M22.7 9.4h0M23.2 13.5h0M43.1 6.1h0M56.0 6.1h0M40.4 6.7h0M21.5 12.9h0M3.8 16.8h0M30.0 7.7h0M78.5 7.5h0M28.3 7.7h0M56.2 10.0h0M78.9 11.6h0M79.7 11.2h0M27.6 11.0h0M11.1 14.9h0M29.4 11.2h0M45.3 7.3h0M62.2 6.2h0M71.2 9.0h0M38.4 7.6h0M54.1 5.2h0M13.1 14.3h0M61.3 5.9h0M0.8 21.7h0M26.5 10.8h0M33.7 11.4h0M68.4 7.9h0M76.3 7.3h0M27.3 8.4h0M67.2 9.3h0M73.0 10.8h0M8.4 15.1h0M48.0 8.5h0M10.2 15.6h0M64.0 6.9h0M44.5 9.6h0M19.9 11.2h0M86.5 10.2h0M57.6 6.4h0M60.6 6.8h0M27.0 10.0h0M26.9 12.1h0M43.2 8.6h0M45.0 11.1h0M74.2 9.1h0M28.7 11.2h0M13.8 15.4h0M65.7 8.5h0M18.9 10.2h0M29.2 10.7h0M59.7 10.0h0M37.2 8.1h0M83.8 12.4h0M1.4 22.4h0M19.2 12.1h0M22.0 14.1h0M46.1 7.6h0M79.5 10.9h0M19.9 13.8h0M18.9 13.9h0M19.1 13.1h0M85.3 10.2h0M24.2 10.6h0M6.5 20.8h0M11.7 16.2h0M86.2 10.3h0M76.1 9.8h0M3.2 23.1h0M26.6 10.7h0M2.5 20.3h0M83.3 12.8h0M39.7 10.6h0M50.0 5.3h0M1.6 21.6h0M18.8 10.6h0M65.9 10.0h0M11.4 14.8h0M2.1 19.8h0M55.0 9.2h0M63.8 7.1h0M73.4 9.3h0M18.6 13.9h0M61.4 11.1h0M37.1 7.0h0M30.6 9.4h0M70.5 9.5h0M42.8 7.3h0M25.6 10.1h0M68.9 9.5h0M51.8 8.4h0M82.2 12.7h0M54.0 7.1h0M5.0 16.6h0M21.1 10.4h0M20.6 13.9h0M33.6 7.4h0M69.4 8.2h0M42.2 7.0h0M51.6 6.3h0M43.5 7.5h0M61.5 9.4h0M76.9 7.5h0M50.5 6.8h0M25.1 9.0h0M68.1 6.5h0M47.4 9.1h0M81.7 11.3h0M60.6 9.6h0M9.9 12.9h0M79.5 9.9h0M79.2 10.5h0M3.6 23.0h0M38.3 9.8h0M61.2 7.7h0M92.6 14.5h0M83.7 89.0h0M92.0 40.1h0M84.7 80.3h0M89.6 59.9h0M88.1 61.8h0M94.5 19.8h0M86.0 61.5h0M83.8 88.1h0M82.5 86.3h0M88.6 58.0h0M85.4 61.7h0M92.6 16.3h0M82.8 86.8h0M93.6 23.9h0M84.9 70.3h0M90.5 44.8h0M88.1 59.2h0M87.5 64.8h0M86.6 71.1h0M87.1 64.0h0M85.8 67.7h0M89.3 12.3h0M97.4 24.3h0M85.2 80.9h0M84.1 68.7h0M80.5 87.0h0M94.9 22.7h0M83.8 87.9h0M89.5 49.9h0M88.3 11.7h0M85.8 78.2h0M91.3 42.2h0M90.2 47.6h0M91.3 43.2h0M90.1 37.8h0M87.7 52.7h0M83.0 12.7h0M89.6 48.4h0M91.0 52.1h0M96.5 19.5h0M184.5 69.7h0M156.8 40.9h0M112.8 24.2h0M112.6 24.3h0M184.1 68.4h0M156.6 40.5h0M182.1 64.6h0M164.4 47.3h0M145.2 35.8h0M146.7 37.3h0M125.7 22.2h0M171.7 53.1h0M140.6 32.8h0M182.8 66.7h0M185.5 66.7h0M173.4 52.9h0M142.5 35.9h0M184.8 62.7h0M124.9 26.1h0M178.6 57.8h0M118.9 22.5h0M177.4 56.4h0M158.7 41.7h0M134.8 29.8h0M175.7 52.8h0M173.7 53.0h0M175.9 53.4h0M179.9 62.6h0M133.2 29.3h0M147.3 35.2h0M188.6 72.3h0M150.1 34.3h0M149.1 34.8h0M174.2 58.8h0M135.7 24.8h0M188.6 67.1h0M125.7 21.6h0M153.3 40.3h0M130.0 26.2h0M158.3 45.0h0M130.2 27.0h0M188.7 68.9h0M177.0 54.2h0M171.0 55.1h0M176.2 60.1h0M180.5 62.0h0M180.9 63.8h0M141.6 28.5h0M154.2 36.8h0M162.4 42.6h0M154.0 37.1h0M161.7 43.0h0M117.7 22.9h0M177.7 56.1h0M152.3 36.1h0M181.4 65.7h0M139.9 31.5h0M182.6 64.7h0M154.8 41.8h0M111.9 23.1h0M172.9 55.8h0M157.5 43.8h0M139.9 32.5h0M153.8 39.2h0M140.4 30.7h0M169.4 47.9h0M118.1 25.2h0M187.6 65.6h0M141.3 31.0h0M157.3 42.8h0M146.8 36.2h0M184.0 69.7h0M186.2 65.3h0M184.1 66.3h0M189.3 70.0h0M183.8 64.9h0M172.8 50.1h0M165.3 48.2h0M183.0 68.1h0M192.1 73.0h0M189.0 73.7h0M151.2 35.1h0M175.7 54.4h0M134.7 26.0h0M145.9 31.6h0M133.3 26.5h0M180.4 61.7h0M176.9 55.2h0M154.2 41.5h0M186.7 67.6h0M143.2 29.6h0M146.0 35.3h0M122.8 25.7h0M151.7 38.4h0M182.8 62.3h0M185.6 64.3h0M122.6 22.3h0M146.3 33.1h0M143.0 33.8h0M187.8 70.7h0M128.3 25.7h0M173.6 53.0h0M172.3 50.3h0M114.6 22.8h0M141.5 33.1h0M189.3 73.9h0M132.5 27.9h0M189.2 73.2h0M192.6 73.8h0M140.8 30.3h0M171.0 50.4h0M115.5 22.8h0M191.6 75.4h0M185.0 73.4h0M139.2 27.3h0M172.0 55.7h0M121.1 23.1h0M158.6 44.7h0M137.5 24.9h0M155.8 42.2h0M141.8 27.6h0M149.6 37.9h0M121.9 25.0h0M190.6 75.4h0M145.6 34.6h0M191.4 73.9h0M119.5 24.8h0M142.9 29.6h0M145.3 32.2h0M143.3 30.1h0M177.1 58.9h0M184.2 62.2h0M143.8 31.2h0M160.2 45.1h0M112.5 24.3h0M176.8 55.7h0M171.1 54.5h0M115.5 24.6h0M145.0 34.5h0M172.7 51.5h0M139.1 30.0h0M164.0 47.7h0M164.8 47.5h0M187.9 67.7h0M116.2 22.1h0M181.0 63.8h0M161.0 47.3h0M166.7 49.9h0M182.3 61.2h0M168.6 47.2h0M135.8 26.2h0M171.3 54.8h0M187.4 72.2h0M165.6 45.7h0M150.6 38.2h0M134.4 30.4h0M139.6 30.8h0M143.4 30.8h0M141.2 28.4h0M167.9 52.9h0M183.9 60.3h0M152.0 37.5h0M168.7 47.7h0M143.1 33.9h0M143.1 36.5h0M117.0 24.3h0M176.6 58.7h0M164.9 46.9h0M149.2 37.6h0M157.5 41.1h0M186.3 68.7h0M129.7 27.4h0M127.8 24.5h0M128.4 24.4h0M156.0 37.9h0M183.4 62.6h0M134.9 24.9h0M143.5 30.6h0M157.6 39.3h0M166.2 50.6h0M164.7 47.9h0M159.9 40.8h0M146.8 33.0h0M179.4 56.5h0M164.7 46.7h0M169.2 50.2h0M186.1 68.2h0M167.9 51.1h0M175.5 54.0h0M111.9 22.6h0M133.9 23.7h0M115.5 25.0h0M183.5 69.4h0M143.3 33.5h0M181.0 65.1h0M132.3 24.5h0M187.0 67.8h0M184.2 62.1h0M190.4 75.3h0M125.1 25.6h0M183.5 63.5h0M128.6 21.7h0M127.5 22.3h0M147.8 37.1h0M132.0 27.0h0M117.6 23.4h0M134.0 24.5h0M130.2 27.0h0M165.4 48.3h0M163.5 50.0h0M150.9 36.8h0M140.7 32.6h0M142.7 33.9h0M178.0 58.6h0M179.3 56.6h0M185.6 69.2h0M192.4 72.8h0M143.6 32.6h0M164.4 46.0h0M183.4 60.7h0M183.1 60.3h0M145.4 34.9h0M176.3 57.7h0M123.3 24.4h0M128.1 22.8h0M186.3 67.8h0M174.8 55.8h0M139.5 30.7h0M156.3 41.0h0M155.0 43.3h0M115.5 23.3h0M154.4 40.1h0M175.4 56.6h0M163.3 47.0h0M186.2 61.7h0M144.8 29.9h0M119.4 24.0h0M114.9 23.9h0M151.2 37.6h0M142.1 31.8h0M125.6 25.8h0M186.3 68.1h0M122.1 20.8h0M180.8 57.9h0M146.1 29.4h0M178.9 57.7h0M175.2 55.1h0M181.2 60.2h0M145.3 31.8h0M190.9 74.1h0M188.9 74.9h0M181.3 64.3h0M169.1 49.8h0M160.3 40.5h0M155.7 44.0h0M161.4 42.0h0M136.0 29.6h0M169.1 52.4h0M169.5 52.3h0M149.3 34.7h0M155.0 42.7h0M130.5 26.9h0M144.0 35.7h0M167.5 49.4h0M166.9 46.2h0M184.4 62.7h0M187.8 66.9h0M119.1 22.6h0M164.9 46.5h0M164.8 45.4h0M109.1 23.3h0M192.2 76.5h0M154.3 42.1h0M148.0 34.4h0M129.9 25.2h0M180.6 59.2h0M115.1 24.5h0M181.6 62.8h0M187.1 68.2h0M169.4 50.7h0M187.1 73.7h0M186.0 68.7h0M173.0 56.8h0M118.8 25.5h0M176.4 54.3h0M161.2 44.0h0M183.6 64.4h0M182.0 60.8h0M178.6 61.9h0M114.3 25.5h0M93.2 105.5h0M100.9 65.2h0M107.7 28.3h0M101.6 58.9h0M111.7 23.3h0M110.9 26.2h0M101.5 67.5h0M94.5 98.6h0M104.6 52.7h0M96.8 80.3h0M108.6 25.3h0M97.3 93.4h0M96.1 80.7h0M97.8 81.0h0M101.7 47.3h0M105.4 37.9h0M96.3 84.4h0M99.5 61.4h0M107.6 39.8h0M100.3 78.5h0M99.9 67.8h0M99.7 66.2h0M106.4 41.4h0M106.8 29.2h0M105.5 50.3h0M97.4 98.4h0M96.5 84.0h0M97.4 76.2h0M96.6 90.4h0M106.7 40.8h0M97.5 82.4h0M110.8 21.9h0M106.5 42.8h0M103.6 60.8h0M106.9 37.3h0M96.8 93.7h0M111.0 24.4h0M105.4 35.9h0M99.4 64.2h0M105.7 41.7h0M85.5 95.9h0M75.1 161.2h0M55.5 152.9h0M69.7 150.6h0M88.2 27.0h0M80.5 168.0h0M27.0 41.6h0M187.8 69.1h0" fill="none" stroke="#d8404c" stroke-opacity="0.72" stroke-width="1.55" stroke-linecap="round"/></g>
<text transform="translate(911.90 51.00) scale(1 1.040)" font-size="26.9" text-anchor="middle" fill="#00009c" stroke="#00009c" stroke-width="0.3">L2/3 IT 4</text>
<g transform="translate(800.4 66.0)"><use href="#brain"/><path d="M21.0 14.1h0M22.8 17.6h0M5.1 26.9h0M55.6 11.0h0M23.8 18.1h0M66.7 11.8h0M3.7 28.3h0M61.6 15.7h0M34.2 16.8h0M46.5 8.6h0M18.5 16.9h0M44.2 14.2h0M50.5 14.9h0M49.9 11.9h0M45.7 13.7h0M66.3 12.8h0M14.2 17.5h0M11.1 24.4h0M60.4 11.0h0M54.6 9.4h0M0.6 29.6h0M62.9 9.6h0M9.1 22.8h0M27.4 12.2h0M5.3 18.8h0M42.1 13.0h0M40.1 15.3h0M7.6 21.4h0M38.0 15.0h0M65.1 10.8h0M68.7 12.3h0M22.2 16.2h0M40.8 11.1h0M60.1 16.0h0M46.6 15.3h0M69.7 14.9h0M59.6 12.6h0M63.6 14.6h0M7.1 28.0h0M38.3 11.9h0M37.5 8.0h0M57.4 7.4h0M44.4 14.3h0M47.8 11.3h0M0.6 25.7h0M27.0 16.4h0M42.4 11.2h0M62.1 9.6h0M57.4 11.4h0M42.3 10.9h0M43.7 9.7h0M46.5 15.4h0M28.1 13.0h0M13.3 20.0h0M26.2 15.7h0M38.9 12.5h0M36.6 16.5h0M51.9 12.0h0M48.4 12.0h0M3.5 27.6h0M2.6 20.8h0M53.4 16.0h0M42.5 16.7h0M10.6 22.5h0M59.0 14.7h0M68.4 12.9h0M47.3 8.0h0M50.5 9.8h0M22.8 15.8h0M40.1 13.0h0M12.0 15.7h0M47.3 12.0h0M34.5 10.0h0M16.6 16.0h0M42.1 13.4h0M60.6 13.6h0M9.5 20.2h0M59.7 10.0h0M64.2 13.1h0M69.7 12.7h0M62.6 10.4h0M24.5 13.3h0M18.4 15.0h0M2.4 29.8h0M35.3 15.4h0M65.3 12.0h0M32.2 16.7h0M42.0 11.7h0M14.4 17.8h0M10.9 20.0h0M9.5 23.2h0M6.1 26.7h0M59.1 8.9h0M47.5 9.2h0M73.5 11.5h0M65.8 15.3h0M26.1 17.0h0M39.6 13.8h0M13.9 18.2h0M68.8 12.2h0M49.8 14.2h0M51.7 10.9h0M16.1 20.7h0M58.7 8.9h0M33.8 12.6h0M11.1 21.7h0M13.3 12.0h0M46.0 10.8h0M8.2 24.3h0M2.7 22.9h0M35.2 13.2h0M67.2 11.8h0M3.3 23.4h0M23.0 11.6h0M28.6 15.8h0M57.0 14.7h0M53.3 14.4h0M13.1 17.9h0M55.0 15.4h0M0.8 28.5h0M64.8 9.3h0M59.5 14.8h0M27.0 17.2h0M2.0 28.7h0M46.4 13.4h0M57.5 11.5h0M10.3 23.5h0M0.8 29.6h0M30.7 14.4h0M12.7 22.8h0M20.8 16.4h0M16.0 20.0h0M1.0 22.2h0M62.9 12.6h0M28.8 10.0h0M59.5 14.2h0M13.2 20.2h0M28.9 10.5h0M50.4 16.4h0M5.9 23.4h0M5.2 25.5h0M16.3 13.1h0M58.6 11.2h0M34.4 9.2h0M57.3 12.1h0M27.0 18.1h0M46.9 10.0h0M45.9 10.1h0M11.5 16.7h0M51.1 11.5h0M32.7 15.3h0M14.1 21.1h0M47.9 12.1h0M3.2 23.1h0M7.4 28.7h0M0.3 27.0h0M60.7 13.6h0M30.2 11.5h0M1.7 22.0h0M16.5 16.5h0M33.4 14.6h0M53.4 15.6h0M30.3 17.9h0M9.4 20.6h0M29.1 15.0h0M51.4 7.8h0M7.0 17.8h0M9.1 26.3h0M63.5 14.7h0M8.4 19.3h0M32.1 18.7h0M5.3 28.2h0M1.2 24.9h0M52.6 8.1h0M8.6 24.9h0M47.5 11.0h0M61.4 12.9h0M14.6 14.7h0M8.3 20.4h0M19.3 14.7h0M6.8 27.2h0M13.2 15.4h0M17.2 18.1h0M23.3 12.2h0M0.2 23.3h0M11.4 18.8h0M66.1 8.2h0M14.6 14.5h0M51.6 11.4h0M16.2 19.7h0M68.8 7.9h0M15.9 20.2h0M6.4 21.8h0M16.1 19.4h0M11.5 17.9h0M24.4 19.4h0M52.1 6.6h0M46.3 12.2h0M22.2 15.4h0M12.3 22.9h0M3.1 27.6h0M61.8 9.1h0M59.5 12.9h0M57.6 9.3h0M61.9 9.0h0M30.2 15.7h0M55.2 15.5h0M31.2 13.0h0M44.7 9.2h0M10.5 18.2h0M77.4 10.9h0M60.2 9.8h0M76.0 11.6h0M68.7 14.1h0M77.9 15.1h0M63.9 14.2h0M70.2 12.9h0M72.2 10.4h0M81.7 11.7h0M86.6 13.5h0M61.7 10.8h0M78.0 11.1h0M62.4 10.1h0M61.4 9.1h0M72.7 8.8h0M65.1 9.2h0M70.9 14.8h0M70.9 12.3h0M78.7 11.0h0M74.0 13.4h0M84.3 12.6h0M63.1 13.2h0M69.2 9.2h0M64.7 12.6h0M64.5 9.4h0M63.2 9.2h0M61.6 12.9h0M67.9 14.0h0M87.5 14.4h0M67.3 13.5h0M133.3 34.9h0M115.8 28.5h0M160.7 48.9h0M170.6 48.4h0M111.3 23.8h0M135.3 32.5h0M188.0 68.5h0M144.8 37.4h0M177.1 74.0h0M167.4 49.7h0M133.7 36.8h0M183.3 76.6h0M191.6 72.0h0M172.1 51.5h0M154.2 51.5h0M139.8 29.1h0M182.2 62.1h0M154.3 42.1h0M169.4 62.9h0M179.8 59.1h0M124.2 31.4h0M162.3 49.1h0M161.1 51.2h0M142.2 43.1h0M143.7 31.7h0M169.7 54.5h0M132.5 34.0h0M132.2 34.6h0M128.8 35.0h0M134.5 36.0h0M134.9 26.7h0M130.5 27.3h0M124.7 27.0h0M122.5 28.2h0M175.8 58.1h0M168.3 46.1h0M155.8 47.0h0M126.9 25.4h0M165.9 57.2h0M127.5 29.9h0M178.9 72.2h0M160.7 46.5h0M149.4 43.6h0M186.1 65.5h0M153.1 45.2h0M181.1 61.6h0M185.6 65.0h0M166.4 57.7h0M126.0 28.4h0M133.6 35.5h0M130.4 23.3h0M176.9 64.9h0M190.9 78.2h0M150.5 38.8h0M144.3 32.7h0M159.8 43.2h0M173.2 62.9h0M129.4 35.4h0M182.0 64.1h0M167.2 58.0h0M172.2 60.6h0M181.4 76.4h0M160.5 52.6h0M151.2 45.3h0M180.4 71.8h0M131.5 33.9h0M131.5 34.1h0M154.9 51.2h0M174.5 54.1h0M166.0 58.2h0M135.7 39.3h0M175.8 68.4h0M170.0 49.1h0M118.1 24.6h0M129.4 25.2h0M165.9 47.3h0M186.0 59.8h0M155.8 47.1h0M173.6 63.6h0M182.9 72.4h0M151.4 43.6h0M187.6 71.3h0M174.7 53.2h0M132.3 34.5h0M154.3 35.8h0M186.2 70.4h0M188.0 79.9h0M140.0 41.9h0M156.8 47.3h0M142.4 39.5h0M138.0 36.9h0M183.8 65.7h0M118.1 29.6h0M158.9 43.0h0M148.6 46.6h0M180.0 57.4h0M162.4 42.0h0M161.5 52.4h0M155.4 51.0h0M166.8 52.2h0M135.6 25.3h0M157.5 50.6h0M179.2 65.2h0M180.1 76.8h0M151.1 37.8h0M150.7 42.4h0M134.2 32.1h0M139.2 27.3h0M115.5 22.8h0M140.2 43.3h0M161.8 43.6h0M187.6 81.3h0M187.3 77.1h0M174.9 70.9h0M178.1 75.5h0M188.2 79.7h0M131.3 36.7h0M122.6 29.2h0M119.1 27.8h0M178.4 67.8h0M152.6 46.2h0M177.6 58.8h0M191.9 81.4h0M187.2 73.0h0M136.0 40.5h0M183.4 72.2h0M142.3 31.1h0M133.6 32.5h0M141.8 41.1h0M118.3 26.5h0M144.4 34.2h0M154.6 36.3h0M122.1 31.7h0M149.1 44.5h0M153.0 43.3h0M164.8 44.3h0M147.0 40.2h0M184.3 79.2h0M188.1 82.6h0M163.7 53.3h0M139.6 33.7h0M139.1 32.6h0M190.8 79.1h0M166.4 59.0h0M124.9 33.9h0M173.7 64.4h0M119.7 20.5h0M144.5 39.5h0M120.6 25.7h0M123.4 32.8h0M182.6 60.1h0M135.7 31.6h0M128.5 23.5h0M167.4 50.4h0M179.0 66.7h0M182.7 76.7h0M171.0 55.6h0M166.3 56.2h0M150.9 38.7h0M171.7 51.6h0M185.0 81.6h0M123.3 29.8h0M169.2 53.7h0M137.1 27.0h0M114.6 22.2h0M125.5 28.8h0M181.5 66.2h0M136.1 34.7h0M160.4 42.7h0M141.1 36.2h0M177.7 69.0h0M155.7 40.5h0M141.3 42.1h0M179.4 65.6h0M126.5 31.4h0M149.7 46.3h0M178.8 77.0h0M120.5 26.3h0M139.6 28.0h0M172.7 53.0h0M129.1 22.7h0M159.4 40.6h0M186.3 67.7h0M145.8 32.1h0M156.6 47.4h0M153.1 41.6h0M134.4 33.5h0M116.0 25.6h0M178.0 70.2h0M168.9 64.9h0M152.2 38.2h0M163.7 52.8h0M192.1 73.6h0M159.1 46.4h0M155.9 48.1h0M184.2 76.7h0M142.4 37.8h0M139.6 36.5h0M128.2 21.7h0M135.0 38.3h0M173.9 56.7h0M160.7 43.9h0M122.3 26.8h0M147.8 43.7h0M157.4 47.0h0M144.3 40.7h0M152.3 44.4h0M185.2 78.7h0M177.6 65.3h0M141.4 27.0h0M120.4 27.9h0M150.8 47.3h0M176.1 67.8h0M190.8 77.6h0M175.0 68.6h0M158.6 43.7h0M192.2 75.6h0M120.4 26.1h0M184.9 69.1h0M165.3 57.9h0M166.7 55.5h0M166.6 57.9h0M157.5 49.9h0M166.0 56.0h0M164.3 53.5h0M167.0 57.0h0M182.2 61.7h0M150.4 45.9h0M163.0 45.2h0M117.7 28.9h0M159.1 45.5h0M155.4 49.4h0M142.2 37.0h0M180.2 70.5h0M157.2 44.6h0M148.5 39.4h0M186.1 64.0h0M117.4 31.2h0M152.3 41.7h0M160.7 53.0h0M185.8 70.9h0M133.3 27.3h0M181.3 60.2h0M144.0 41.1h0M140.3 40.6h0M122.1 31.2h0M115.9 29.8h0M176.2 54.6h0M144.3 29.1h0M187.6 73.9h0M164.0 52.5h0M164.4 48.0h0M184.1 64.3h0M139.9 37.0h0M157.2 51.8h0M124.6 29.7h0M189.9 84.8h0M146.1 41.2h0M173.3 65.1h0M172.7 63.9h0M144.9 44.9h0M172.7 51.3h0M150.3 38.1h0M125.3 31.2h0M158.1 47.3h0M186.2 82.5h0M161.6 51.1h0M128.3 29.6h0M167.9 62.1h0M139.2 29.6h0M147.7 39.3h0M121.4 26.5h0M130.0 29.8h0M151.7 45.8h0M187.4 75.5h0M157.1 52.3h0M135.8 35.1h0M140.9 43.5h0M138.5 34.3h0M136.7 34.1h0M162.8 48.2h0M116.0 23.0h0M123.0 23.7h0M127.2 25.1h0M172.1 66.7h0M189.3 74.3h0M171.6 63.2h0M181.7 58.7h0M123.1 30.8h0M146.2 42.9h0M136.5 34.8h0M188.1 69.6h0M146.1 38.1h0M146.4 45.8h0M179.5 59.1h0M190.5 79.5h0M172.2 52.0h0M137.6 38.4h0M114.2 26.4h0M135.9 33.4h0M146.0 42.8h0M187.4 74.3h0M150.6 44.8h0M126.3 28.7h0M144.5 38.0h0M174.6 60.8h0M184.8 70.2h0M182.1 71.1h0M192.3 73.0h0M160.9 47.4h0M84.2 153.7h0M106.2 46.4h0M61.7 141.9h0M189.3 71.7h0M47.2 34.7h0M111.1 53.4h0M93.7 57.2h0M164.2 58.2h0M121.9 53.9h0M108.2 115.4h0" fill="none" stroke="#d8404c" stroke-opacity="0.72" stroke-width="1.55" stroke-linecap="round"/></g>
<text transform="translate(1141.10 51.00) scale(1 1.040)" font-size="26.9" text-anchor="middle" fill="#00009c" stroke="#00009c" stroke-width="0.3">L4/5 IT 1</text>
<g transform="translate(1027.1 66.0)"><use href="#brain"/><path d="M76.3 19.0h0M26.1 19.5h0M69.7 19.3h0M21.7 21.3h0M7.4 28.7h0M51.2 19.2h0M18.3 23.6h0M43.4 16.6h0M24.5 20.5h0M69.9 19.1h0M43.3 17.0h0M66.2 17.3h0M17.7 24.7h0M6.1 33.1h0M16.9 24.5h0M25.8 23.6h0M11.5 31.2h0M41.6 19.4h0M36.8 17.5h0M68.8 22.0h0M74.8 21.5h0M31.0 20.5h0M58.3 15.9h0M16.4 25.1h0M48.7 16.6h0M47.3 18.3h0M76.8 19.7h0M71.9 17.5h0M11.4 24.5h0M50.5 17.4h0M5.0 31.6h0M11.5 28.1h0M16.9 26.1h0M72.6 18.4h0M22.4 21.6h0M4.6 32.5h0M5.3 30.3h0M70.9 21.1h0M17.8 21.9h0M53.1 21.1h0M75.6 21.1h0M2.3 32.3h0M30.4 22.7h0M9.4 27.9h0M8.0 28.9h0M16.4 25.1h0M70.7 21.7h0M20.5 22.3h0M25.5 22.6h0M53.1 20.7h0M69.7 17.8h0M74.6 22.8h0M58.2 19.0h0M9.6 29.3h0M53.8 20.0h0M2.0 32.9h0M41.1 17.4h0M15.0 26.1h0M31.4 22.3h0M29.2 22.8h0M15.5 23.1h0M47.6 19.8h0M71.5 19.2h0M1.0 29.9h0M67.3 19.5h0M19.4 21.3h0M33.9 20.2h0M14.9 24.8h0M27.0 22.6h0M15.2 21.5h0M44.4 18.8h0M7.5 31.4h0M14.7 27.2h0M15.7 23.0h0M46.9 17.0h0M30.2 19.1h0M62.2 16.3h0M53.1 16.7h0M20.9 22.4h0M68.5 16.0h0M16.5 22.3h0M6.8 31.8h0M39.2 20.1h0M25.9 22.8h0M16.7 23.0h0M26.7 20.3h0M7.9 28.5h0M51.6 17.5h0M11.7 30.2h0M13.2 23.0h0M72.8 20.8h0M71.7 17.5h0M26.0 18.6h0M69.5 16.0h0M72.4 17.9h0M52.8 16.3h0M40.8 19.7h0M57.7 18.2h0M11.6 26.6h0M9.3 30.1h0M75.6 19.6h0M43.8 19.3h0M37.3 17.9h0M75.6 20.2h0M77.4 19.2h0M7.3 27.4h0M63.1 18.3h0M72.9 22.4h0M64.1 20.4h0M59.0 19.7h0M76.6 18.5h0M78.9 18.7h0M44.1 19.8h0M15.7 23.6h0M51.3 20.4h0M10.4 27.1h0M1.8 30.3h0M40.3 20.0h0M42.8 18.6h0M65.3 20.8h0M60.8 16.1h0M24.1 19.5h0M64.4 18.1h0M31.3 18.2h0M58.2 16.9h0M28.2 19.8h0M54.8 17.9h0M75.5 20.9h0M76.0 18.7h0M72.3 21.8h0M5.4 29.7h0M18.7 25.2h0M50.5 16.6h0M21.0 21.4h0M22.9 24.9h0M58.7 17.2h0M3.2 31.4h0M59.5 15.5h0M28.7 20.7h0M22.5 23.6h0M0.6 28.8h0M65.7 19.8h0M69.0 18.4h0M67.5 19.0h0M10.1 28.8h0M42.2 17.9h0M42.5 16.9h0M60.8 20.3h0M0.2 31.5h0M0.5 31.4h0M19.7 21.2h0M45.9 21.5h0M28.4 23.1h0M3.5 29.9h0M34.4 20.7h0M20.5 20.6h0M37.3 17.7h0M49.3 19.9h0M37.4 18.4h0M58.2 15.5h0M51.2 19.6h0M75.6 18.5h0M28.0 20.4h0M58.5 18.2h0M52.5 18.0h0M21.2 20.8h0M29.4 19.4h0M46.4 19.8h0M20.5 19.9h0M11.0 28.1h0M52.5 17.2h0M8.1 32.5h0M27.9 21.3h0M23.7 20.0h0M14.8 24.7h0M63.0 18.3h0M0.5 33.2h0M51.6 17.8h0M46.8 20.6h0M11.9 26.7h0M21.5 22.4h0M30.5 20.4h0M3.1 34.0h0M77.3 21.2h0M64.9 20.2h0M3.8 29.8h0M67.3 18.3h0M42.8 18.6h0M21.4 23.9h0M15.1 25.1h0M59.6 18.5h0M12.7 25.5h0M37.7 20.9h0M44.4 18.1h0M50.3 18.8h0M43.5 22.1h0M36.7 18.8h0M64.3 21.8h0M73.8 18.2h0M19.2 25.9h0M2.6 31.8h0M55.1 15.6h0M24.9 23.1h0M61.1 17.5h0M66.5 19.9h0M51.0 19.6h0M55.0 16.7h0M8.0 31.7h0M52.3 17.6h0M64.2 16.3h0M12.0 25.7h0M22.9 23.2h0M51.6 17.8h0M3.2 33.1h0M16.2 23.1h0M58.6 17.6h0M46.5 20.6h0M62.8 19.7h0M12.4 25.0h0M49.3 18.9h0M161.8 56.0h0M156.7 50.1h0M157.9 50.9h0M181.3 73.5h0M168.4 62.4h0M177.1 71.2h0M137.9 42.7h0M121.8 29.6h0M126.8 34.3h0M159.5 55.8h0M142.9 39.8h0M172.1 67.1h0M177.8 77.6h0M183.0 78.1h0M166.2 57.0h0M178.9 75.2h0M189.5 83.2h0M190.5 84.1h0M159.2 54.6h0M144.4 43.4h0M167.3 63.0h0M131.6 36.3h0M155.1 52.7h0M192.6 83.2h0M169.5 60.4h0M189.7 84.3h0M173.6 67.3h0M120.0 30.3h0M184.2 82.1h0M190.0 80.6h0M125.0 35.9h0M171.9 65.6h0M164.7 59.4h0M130.6 37.0h0M130.7 35.9h0M165.9 58.0h0M178.2 77.7h0M176.8 67.7h0M151.7 49.0h0M142.8 43.8h0M146.1 44.8h0M123.5 29.7h0M154.7 51.1h0M192.2 85.9h0M154.8 48.5h0M157.3 51.4h0M176.5 75.9h0M141.3 38.9h0M189.2 80.6h0M182.5 81.9h0M165.2 57.7h0M136.6 35.9h0M164.7 57.8h0M162.1 59.7h0M162.3 54.6h0M132.2 37.6h0M190.9 81.9h0M158.5 55.2h0M151.5 46.4h0M187.3 81.9h0M150.1 49.2h0M191.1 84.5h0M174.2 64.8h0M154.4 48.4h0M131.0 35.1h0M151.8 47.0h0M135.3 36.7h0M134.6 36.6h0M144.9 44.1h0M178.4 71.6h0M154.7 48.6h0M136.0 36.3h0M177.8 66.4h0M134.6 33.6h0M123.2 34.3h0M153.2 52.1h0M187.5 84.6h0M119.6 31.3h0M163.1 60.7h0M144.5 45.0h0M138.3 37.8h0M119.1 31.2h0M140.8 44.4h0M182.4 75.6h0M146.6 46.8h0M178.0 65.8h0M158.3 50.3h0M173.5 65.0h0M142.6 45.3h0M167.4 60.1h0M168.1 61.2h0M167.9 60.6h0M172.3 64.1h0M131.3 36.7h0M150.7 50.8h0M149.3 50.1h0M176.1 75.6h0M168.6 64.4h0M145.2 42.5h0M179.2 72.6h0M187.7 83.6h0M174.9 72.5h0M125.8 36.3h0M187.2 85.0h0M160.6 55.2h0M161.8 58.1h0M188.8 84.4h0M181.3 75.4h0M154.7 50.6h0M168.5 63.9h0M173.1 63.2h0M188.2 80.8h0M177.0 68.2h0M137.7 37.1h0M135.8 42.0h0M118.0 30.5h0M174.4 64.9h0M145.2 44.1h0M175.8 73.1h0M176.3 72.0h0M189.0 84.9h0M152.3 47.6h0M185.5 79.9h0M156.4 49.0h0M183.8 80.9h0M176.3 68.6h0M140.6 41.6h0M190.9 82.0h0M177.7 76.2h0M164.5 60.3h0M172.6 62.4h0M141.4 44.9h0M119.5 30.5h0M135.7 38.9h0M117.4 30.8h0M146.2 47.3h0M150.9 48.5h0M170.6 63.4h0M134.6 36.2h0M141.6 42.9h0M181.8 82.0h0M167.9 59.9h0M132.3 34.5h0M154.5 48.3h0M175.3 64.6h0M158.2 52.8h0M166.2 57.6h0M134.1 34.5h0M144.2 43.9h0M180.3 80.3h0M160.1 55.7h0M151.6 50.7h0M176.2 69.1h0M187.0 83.5h0M165.7 59.7h0M124.9 33.9h0M165.5 61.5h0M172.6 66.1h0M173.2 67.4h0M134.1 38.1h0M179.2 74.2h0M129.4 33.3h0M173.0 69.0h0M124.7 35.1h0M181.7 75.6h0M170.7 66.0h0M145.7 45.7h0M179.5 76.3h0M179.2 75.1h0M164.5 54.6h0M119.6 31.1h0M178.1 70.6h0M171.1 60.3h0M178.4 69.2h0M183.9 82.3h0M123.4 32.4h0M155.9 53.5h0M165.6 61.6h0M187.4 82.8h0M188.2 80.9h0M118.5 33.1h0M127.4 37.0h0M142.4 44.8h0M145.1 44.2h0M162.5 56.4h0M178.5 68.3h0M178.2 77.9h0M140.1 40.5h0M186.2 84.2h0M134.7 33.4h0M130.6 33.8h0M122.0 32.9h0M186.1 79.9h0M131.1 32.9h0M184.8 79.3h0M125.9 31.3h0M140.3 42.7h0M175.6 71.6h0M186.7 83.7h0M135.1 38.2h0M167.8 61.2h0M166.9 57.6h0M141.6 43.6h0M177.8 73.9h0M177.6 76.6h0M178.2 73.7h0M123.3 31.2h0M177.3 66.6h0M118.6 33.0h0M158.2 55.3h0M166.5 59.1h0M154.0 49.9h0M178.2 76.4h0M166.3 57.9h0M182.2 80.8h0M140.1 39.8h0M158.6 54.4h0M136.6 41.5h0M155.4 48.1h0M180.2 79.4h0M171.5 64.1h0M126.6 35.7h0M185.6 79.7h0M140.4 43.9h0M185.0 77.1h0M123.8 33.8h0M176.0 69.7h0M145.3 44.7h0M155.2 50.9h0M176.5 65.5h0M140.4 43.6h0M124.8 35.0h0M192.1 84.7h0M125.9 34.3h0M128.9 35.6h0M176.3 74.3h0M168.0 61.9h0M185.3 78.9h0M135.7 35.6h0M175.1 65.8h0M89.9 119.5h0M111.9 18.7h0M59.9 102.9h0M72.9 155.7h0M67.6 38.1h0M61.4 121.5h0M44.1 57.2h0M11.1 44.1h0" fill="none" stroke="#d8404c" stroke-opacity="0.72" stroke-width="1.55" stroke-linecap="round"/></g>
<text transform="translate(1372.30 51.00) scale(1 1.040)" font-size="26.9" text-anchor="middle" fill="#00009c" stroke="#00009c" stroke-width="0.3">L4/5 IT 2</text>
<g transform="translate(1253.8 66.0)"><use href="#brain"/><path d="M63.1 20.1h0M35.3 18.2h0M53.8 21.5h0M51.6 19.6h0M86.4 35.4h0M79.5 21.8h0M83.5 40.8h0M68.4 23.7h0M68.2 20.1h0M78.9 61.6h0M17.1 30.3h0M59.3 19.2h0M59.0 20.0h0M48.9 20.6h0M12.2 30.2h0M15.4 24.2h0M73.7 86.3h0M52.2 19.0h0M60.6 20.7h0M21.2 25.7h0M47.8 19.3h0M78.7 62.2h0M45.9 21.5h0M1.7 34.3h0M1.8 35.9h0M46.0 21.8h0M85.2 38.3h0M83.2 49.1h0M32.0 21.6h0M57.6 22.6h0M33.4 22.9h0M55.9 19.8h0M14.9 28.4h0M9.2 29.5h0M74.5 85.8h0M80.5 58.2h0M86.3 38.0h0M84.6 38.7h0M77.0 24.5h0M87.1 24.2h0M34.5 22.1h0M51.7 21.9h0M82.8 49.5h0M78.2 73.2h0M28.0 23.0h0M81.4 24.0h0M83.8 49.1h0M58.8 21.2h0M84.5 41.6h0M79.8 66.0h0M47.0 21.3h0M84.4 49.1h0M62.4 19.1h0M79.7 21.3h0M1.8 32.4h0M73.2 22.8h0M6.7 29.8h0M74.4 21.8h0M41.5 21.6h0M50.3 18.3h0M82.4 55.1h0M84.9 43.4h0M8.8 32.3h0M55.5 21.3h0M77.4 71.4h0M33.2 24.5h0M80.5 22.0h0M85.2 38.9h0M80.4 64.8h0M21.3 26.4h0M69.7 21.0h0M22.1 25.3h0M77.5 24.6h0M59.0 22.8h0M21.1 28.0h0M76.0 23.8h0M84.8 31.4h0M86.0 31.0h0M67.8 22.9h0M10.1 29.5h0M78.0 75.1h0M48.6 18.4h0M74.4 22.7h0M55.1 23.6h0M50.3 22.7h0M58.4 22.2h0M68.4 23.5h0M75.3 79.9h0M54.9 17.6h0M22.1 21.8h0M33.6 25.4h0M5.2 36.3h0M72.8 22.6h0M14.3 30.2h0M59.8 21.3h0M12.7 31.8h0M71.3 21.4h0M46.7 22.2h0M62.1 19.7h0M28.0 24.1h0M80.9 21.3h0M14.2 26.4h0M2.0 32.9h0M75.2 84.7h0M34.0 24.7h0M52.8 21.8h0M23.6 26.0h0M83.3 45.2h0M52.6 21.2h0M85.5 26.8h0M12.3 29.1h0M83.6 44.6h0M38.0 22.5h0M18.7 25.1h0M56.1 19.2h0M61.7 19.5h0M39.1 22.2h0M80.5 63.9h0M15.3 24.5h0M86.6 26.7h0M55.7 19.4h0M74.6 83.8h0M78.4 64.6h0M7.2 35.1h0M55.4 18.9h0M82.5 58.9h0M83.2 55.0h0M84.2 37.2h0M65.9 21.8h0M20.8 26.4h0M87.3 28.4h0M42.8 18.7h0M79.5 61.5h0M80.3 19.2h0M56.0 18.0h0M78.3 70.4h0M76.3 86.2h0M84.0 45.4h0M85.1 33.4h0M37.0 20.8h0M45.0 23.1h0M78.7 72.9h0M54.2 21.6h0M62.7 21.3h0M11.8 29.8h0M85.2 32.9h0M76.2 85.1h0M78.2 19.6h0M86.0 24.1h0M81.8 54.4h0M12.4 29.2h0M68.8 18.8h0M7.9 34.5h0M80.5 54.8h0M78.0 79.3h0M13.3 26.7h0M13.3 30.8h0M34.1 22.1h0M15.4 26.7h0M30.5 21.3h0M7.3 36.7h0M70.0 19.3h0M48.1 20.7h0M80.4 21.8h0M19.9 27.7h0M84.6 22.0h0M44.3 23.0h0M22.5 27.1h0M49.3 20.5h0M78.3 74.5h0M88.1 27.2h0M79.1 70.9h0M86.4 24.0h0M75.8 21.7h0M49.0 21.5h0M19.4 23.3h0M80.3 57.2h0M86.4 26.0h0M81.4 60.0h0M38.4 22.5h0M80.5 57.7h0M63.1 18.3h0M84.9 38.0h0M29.0 24.2h0M49.7 21.9h0M85.4 38.9h0M83.7 41.3h0M78.3 65.2h0M23.3 23.3h0M7.5 34.2h0M77.3 70.6h0M4.6 31.5h0M0.4 33.3h0M65.3 19.9h0M41.6 20.3h0M29.6 22.7h0M44.0 23.3h0M76.5 77.7h0M84.9 44.0h0M86.0 35.6h0M23.0 22.0h0M37.8 21.4h0M79.2 63.0h0M14.7 31.0h0M85.0 35.5h0M49.1 19.1h0M2.1 35.4h0M28.1 24.3h0M18.5 27.2h0M32.3 23.4h0M174.5 68.0h0M154.4 55.1h0M164.6 61.9h0M127.9 38.4h0M188.6 83.8h0M166.6 60.8h0M141.4 44.5h0M128.8 39.8h0M171.5 65.7h0M131.2 38.3h0M165.8 63.2h0M177.0 80.0h0M170.0 63.7h0M165.2 61.8h0M103.8 91.6h0M112.5 44.1h0M142.8 41.7h0M160.9 54.8h0M142.0 40.7h0M171.3 66.6h0M156.1 55.5h0M132.9 38.1h0M111.5 50.4h0M143.5 48.0h0M150.9 53.5h0M109.8 47.1h0M120.1 34.5h0M107.8 67.4h0M183.0 82.4h0M191.7 85.8h0M129.7 32.9h0M111.6 43.1h0M165.9 60.6h0M128.0 37.5h0M169.3 62.4h0M107.4 65.8h0M184.3 80.3h0M109.2 57.9h0M124.4 34.2h0M159.7 55.8h0M101.1 97.9h0M111.2 53.1h0M108.5 54.2h0M176.6 72.8h0M162.8 62.6h0M118.5 30.1h0M162.2 55.1h0M144.2 43.9h0M153.2 54.0h0M164.4 57.7h0M105.9 66.7h0M172.8 70.3h0M171.2 69.8h0M141.6 46.6h0M147.9 49.0h0M176.6 80.9h0M167.6 66.4h0M166.3 62.1h0M106.5 64.0h0M176.7 72.0h0M127.7 38.7h0M102.0 86.1h0M106.2 78.2h0M126.4 33.1h0M139.0 43.5h0M104.3 90.6h0M132.9 36.3h0M136.8 38.3h0M116.6 33.8h0M116.0 34.0h0M109.4 51.2h0M103.5 88.0h0M106.9 69.4h0M104.3 86.9h0M110.9 52.9h0M102.9 88.4h0M125.3 34.5h0M176.1 74.0h0M175.8 80.2h0M150.1 51.7h0M167.0 64.6h0M113.3 33.6h0M146.8 46.8h0M176.9 80.3h0M121.3 32.3h0M151.1 53.1h0M184.7 81.6h0M181.8 82.0h0M111.4 47.5h0M103.2 81.8h0M153.7 51.0h0M180.9 80.7h0M111.1 49.7h0M176.2 68.8h0M123.6 33.9h0M105.9 79.7h0M132.9 39.7h0M127.1 36.6h0M188.2 82.8h0M161.4 60.1h0M170.4 68.1h0M114.5 35.7h0M123.9 37.0h0M143.6 45.5h0M175.4 73.5h0M177.6 69.8h0M114.3 41.2h0M140.4 39.5h0M122.2 35.9h0M151.9 51.6h0M173.6 70.7h0M105.2 80.8h0M109.8 58.6h0M148.1 49.9h0M172.1 65.1h0M108.6 68.3h0M162.0 57.8h0M128.9 34.9h0M127.5 39.0h0M163.4 63.2h0M114.3 39.0h0M180.5 84.8h0M189.2 86.6h0M187.2 85.2h0M143.3 47.4h0M138.5 41.1h0M126.9 36.2h0M104.7 84.5h0M147.2 49.9h0M181.3 83.6h0M135.1 38.2h0M103.0 89.0h0M115.9 32.3h0M172.1 67.1h0M183.8 83.5h0M101.0 93.8h0M192.2 85.6h0M125.2 37.2h0M180.5 82.4h0M108.5 56.1h0M145.6 48.5h0M126.7 32.6h0M141.9 43.3h0M165.9 61.5h0M105.1 71.1h0M179.4 77.9h0M184.6 84.7h0M176.5 75.4h0M178.5 72.3h0M146.6 45.6h0M182.8 83.7h0M156.2 55.2h0M114.0 32.9h0M157.6 58.3h0M112.7 35.2h0M115.2 33.5h0M107.8 60.5h0M108.6 51.7h0M142.3 40.7h0M120.1 32.1h0M151.3 53.5h0M151.3 49.1h0M142.0 43.8h0M113.2 45.1h0M102.1 93.9h0M172.6 69.6h0M172.9 66.2h0M114.8 29.5h0M131.2 39.8h0M135.3 42.4h0M153.3 51.9h0M173.2 72.4h0M114.3 44.1h0M153.2 50.7h0M106.3 77.6h0M104.5 84.6h0M185.7 85.8h0M101.0 100.2h0M146.9 50.9h0M183.3 81.1h0M160.1 56.3h0M167.0 61.2h0M170.2 67.0h0M158.3 51.7h0M109.5 48.0h0M175.5 75.8h0M192.6 87.5h0M109.9 60.7h0M106.2 63.7h0M103.1 95.0h0M137.3 41.3h0M161.0 58.5h0M158.1 53.5h0M104.7 73.0h0M121.9 35.7h0M175.4 72.9h0M129.5 37.0h0M185.3 80.2h0M102.0 98.5h0M169.0 62.5h0M126.3 37.2h0M176.8 80.7h0M102.8 91.0h0M129.7 35.9h0M154.1 54.2h0M126.5 37.3h0M105.0 75.6h0M116.3 31.5h0M135.4 38.8h0M138.3 44.7h0M173.0 68.7h0M172.6 64.6h0M158.3 56.5h0M191.1 87.2h0M190.7 84.0h0M183.1 81.2h0M113.2 40.6h0M190.1 88.2h0M171.3 65.0h0M109.1 49.1h0M191.6 85.6h0M145.3 44.3h0M176.8 74.0h0M103.8 88.2h0M132.5 40.8h0M112.1 48.3h0M184.1 82.7h0M102.0 96.0h0M175.8 72.8h0M185.2 81.3h0M113.8 32.8h0M138.2 40.4h0M135.0 40.1h0M176.0 72.8h0M169.4 65.1h0M136.6 41.5h0M170.0 65.5h0M103.4 95.2h0M101.5 94.6h0M153.1 50.4h0M124.4 34.0h0M139.9 39.8h0M109.3 56.5h0M132.8 37.7h0M102.1 101.6h0M110.9 48.2h0M105.4 69.4h0M113.1 35.8h0M137.0 40.3h0M150.0 53.6h0M113.1 43.0h0M107.7 72.4h0M177.3 71.1h0M134.9 41.7h0M107.7 64.6h0M191.6 83.5h0M143.8 45.0h0M177.7 76.2h0M106.0 66.7h0M163.3 65.1h0M153.1 56.1h0M171.1 66.3h0M154.0 55.8h0M115.4 37.5h0M182.7 84.1h0M134.1 36.5h0M137.3 41.4h0M166.3 61.0h0M189.2 83.4h0M167.7 67.3h0M73.7 136.1h0M76.7 88.0h0M115.9 113.3h0M78.3 7.9h0M151.0 33.0h0M54.9 52.5h0M180.2 64.0h0M119.8 139.1h0M81.4 126.9h0M41.9 12.0h0" fill="none" stroke="#d8404c" stroke-opacity="0.72" stroke-width="1.55" stroke-linecap="round"/></g>
<text transform="translate(1599.30 51.00) scale(1 1.040)" font-size="26.9" text-anchor="middle" fill="#00009c" stroke="#00009c" stroke-width="0.3">L5 ET 1</text>
<g transform="translate(1480.6 66.0)"><use href="#brain"/><path d="M74.7 80.9h0M71.6 52.9h0M60.4 124.0h0M61.0 120.9h0M71.0 71.7h0M68.7 92.5h0M70.6 63.2h0M68.2 109.3h0M63.2 139.8h0M58.4 125.1h0M61.0 133.5h0M68.8 108.6h0M68.3 102.8h0M76.6 54.7h0M74.1 84.1h0M65.1 83.0h0M65.7 111.3h0M68.7 66.7h0M66.0 110.0h0M66.4 83.4h0M71.2 83.1h0M60.0 141.5h0M70.6 62.9h0M77.6 49.9h0M69.8 96.1h0M72.2 76.0h0M56.8 120.4h0M71.0 81.9h0M72.4 85.2h0M65.3 92.8h0M67.5 94.7h0M57.7 139.8h0M74.8 60.3h0M65.9 103.5h0M70.8 56.6h0M61.9 132.7h0M63.3 139.8h0M65.6 109.8h0M65.9 116.3h0M57.2 134.9h0M57.7 132.8h0M70.9 57.5h0M55.8 118.5h0M78.7 55.7h0M77.9 51.4h0M66.9 104.7h0M69.7 106.5h0M71.0 64.1h0M64.1 123.0h0M61.4 113.2h0M61.1 108.7h0M72.3 68.9h0M66.4 71.9h0M61.2 106.7h0M68.7 90.7h0M72.2 84.6h0M75.7 62.3h0M62.1 110.4h0M70.9 87.3h0M72.0 71.6h0M58.5 133.9h0M60.2 121.9h0M68.3 64.7h0M62.8 109.7h0M58.6 135.3h0M66.0 76.6h0M67.0 134.1h0M73.7 47.5h0M65.7 119.7h0M65.2 76.2h0M69.3 102.1h0M73.7 64.2h0M58.9 131.9h0M71.3 63.0h0M75.5 51.9h0M63.0 86.4h0M63.5 137.9h0M72.3 69.8h0M73.5 78.2h0M61.6 105.3h0M57.7 136.4h0M80.6 55.7h0M63.3 125.4h0M60.4 132.1h0M73.2 82.7h0M61.4 122.7h0M61.6 106.5h0M62.5 125.1h0M68.3 90.0h0M66.5 79.9h0M63.8 103.1h0M77.1 60.6h0M59.1 132.6h0M58.9 135.7h0M62.6 132.2h0M68.4 77.0h0M60.5 106.5h0M66.9 92.2h0M57.6 136.6h0M69.4 100.0h0M67.6 116.0h0M66.6 123.4h0M76.9 55.8h0M62.1 136.8h0M69.4 80.3h0M68.5 94.8h0M66.8 70.4h0M70.2 61.7h0M71.7 76.9h0M66.4 86.5h0M63.9 134.4h0M66.0 81.8h0M60.4 115.7h0M63.1 127.4h0M56.5 143.1h0M72.7 93.4h0M64.8 79.1h0M66.5 97.7h0M62.0 147.6h0M70.6 95.0h0M70.0 87.3h0M67.1 116.1h0M54.7 137.5h0M64.0 100.9h0M72.9 69.8h0M66.4 123.6h0M61.6 106.9h0M56.8 144.3h0M55.8 122.7h0M56.3 128.8h0M63.8 98.5h0M73.2 53.3h0M59.7 121.7h0M72.7 72.6h0M63.0 144.8h0M71.2 73.6h0M57.1 125.6h0M63.4 93.1h0M60.9 109.5h0M62.4 93.3h0M64.5 87.6h0M60.8 102.7h0M68.8 68.2h0M68.5 64.4h0M59.6 117.1h0M67.7 84.8h0M76.2 54.3h0M68.6 68.1h0M71.5 72.0h0M62.5 117.7h0M56.4 140.4h0M71.0 86.1h0M61.8 122.8h0M57.2 133.0h0M69.5 76.1h0M69.4 86.7h0M74.2 58.6h0M75.6 63.1h0M56.6 148.4h0M69.4 104.4h0M68.2 106.2h0M59.9 113.8h0M58.4 144.5h0M59.4 108.6h0M75.5 65.0h0M71.4 64.6h0M54.2 141.9h0M70.5 101.7h0M56.3 144.4h0M67.4 117.4h0M68.1 102.9h0M76.8 61.3h0M76.2 52.5h0M62.4 96.3h0M70.9 92.5h0M59.0 139.7h0M65.9 105.9h0M57.3 138.8h0M74.0 49.8h0M75.0 72.9h0M70.7 95.5h0M56.8 136.0h0M74.5 74.1h0M57.9 142.0h0M67.7 65.9h0M79.3 47.9h0M60.7 107.9h0M63.5 150.2h0M63.9 86.1h0M61.2 117.9h0M61.3 109.5h0M59.0 146.3h0M73.7 74.8h0M59.1 119.5h0M71.6 72.8h0M65.5 82.1h0M67.4 76.6h0M62.4 125.4h0M65.9 122.3h0M72.7 58.8h0M65.4 100.8h0M64.8 110.3h0M65.9 87.8h0M60.7 138.4h0M64.9 116.6h0M65.8 104.8h0M67.3 112.0h0M63.4 115.4h0M57.3 132.0h0M60.0 109.7h0M67.8 111.9h0M67.5 86.6h0M72.2 63.6h0M66.4 82.4h0M58.7 115.9h0M58.6 112.4h0M74.3 66.1h0M75.6 45.0h0M65.0 130.9h0M65.6 100.6h0M65.5 104.2h0M69.5 62.2h0M62.8 96.6h0M76.9 68.0h0M70.7 53.5h0M66.9 92.0h0M58.2 125.5h0M66.2 82.0h0M60.3 122.2h0M64.6 141.5h0M68.6 68.3h0M62.7 133.7h0M58.7 146.7h0M60.8 95.3h0M71.3 54.3h0M74.4 66.5h0M70.1 99.6h0M68.7 84.4h0M70.5 95.4h0M72.9 85.2h0M70.9 93.4h0M54.7 141.7h0M68.7 72.6h0M79.3 57.4h0M63.1 112.1h0M66.5 103.1h0M70.6 72.9h0M55.9 136.5h0M60.9 133.7h0M73.6 65.0h0M65.3 128.8h0M58.3 134.4h0M65.7 126.7h0M60.2 103.9h0M54.8 134.4h0M73.2 62.4h0M60.8 111.4h0M70.6 52.8h0M62.3 134.5h0M68.4 105.4h0M69.7 95.7h0M58.2 112.1h0M68.3 76.5h0M74.8 68.9h0M62.6 113.0h0M65.2 96.1h0M69.8 56.3h0M66.2 70.0h0M71.5 89.4h0M63.9 112.4h0M78.1 62.6h0M68.0 91.0h0M71.9 51.4h0M62.5 82.6h0M68.9 52.6h0M81.6 52.3h0M63.5 86.2h0M65.3 92.9h0M69.9 52.1h0M66.0 82.6h0M68.4 80.9h0M77.2 62.6h0M73.4 65.2h0M66.4 69.6h0M68.4 71.0h0M65.7 132.0h0M77.7 60.7h0M59.8 125.9h0M67.9 98.9h0M56.1 135.2h0M75.4 67.6h0M59.7 111.7h0M58.5 119.8h0M69.1 103.7h0M56.4 125.4h0M72.4 57.9h0M59.8 102.7h0M60.1 115.2h0M63.5 135.8h0M72.0 57.8h0M103.3 96.7h0M108.9 75.0h0M113.0 86.5h0M114.9 60.8h0M108.1 133.6h0M97.5 139.4h0M101.8 145.1h0M110.0 105.3h0M108.0 95.4h0M107.3 72.9h0M98.5 153.3h0M101.9 124.6h0M105.7 88.8h0M101.0 130.6h0M116.6 71.9h0M110.2 96.3h0M104.4 106.0h0M108.1 117.7h0M106.9 81.6h0M96.8 128.4h0M112.4 66.9h0M108.3 119.3h0M103.8 124.7h0M99.3 131.8h0M104.2 122.1h0M115.7 51.1h0M98.0 150.1h0M115.9 82.1h0M104.3 148.9h0M100.3 142.8h0M101.9 108.2h0M104.0 156.5h0M104.6 124.2h0M103.1 157.2h0M107.7 96.4h0M120.1 58.9h0M107.7 98.0h0M99.2 158.9h0M99.4 127.7h0M111.9 88.9h0M108.1 66.8h0M107.1 126.8h0M104.7 127.7h0M108.1 92.3h0M108.3 74.5h0M109.3 106.6h0M106.1 122.8h0M109.1 101.0h0M109.4 107.9h0M110.3 72.1h0M109.7 107.7h0M108.8 115.4h0M97.6 156.4h0M99.5 127.6h0M105.8 75.1h0M98.2 135.6h0M111.1 83.8h0M98.4 153.5h0M103.6 112.3h0M97.8 157.2h0M97.3 134.7h0M96.6 138.7h0M112.7 68.1h0M115.9 76.5h0M97.7 145.9h0M109.6 101.9h0M110.9 97.9h0M107.6 79.8h0M109.3 69.9h0M120.2 57.5h0M103.2 132.8h0M110.0 57.4h0M110.2 100.8h0M102.9 147.6h0M112.2 54.6h0M106.2 81.0h0M119.8 51.3h0M98.0 146.8h0M109.0 114.8h0M99.1 123.2h0M107.6 137.5h0M116.0 64.6h0M100.1 146.8h0M102.5 95.7h0M111.4 61.1h0M100.6 121.7h0M110.8 106.8h0M101.5 131.0h0M111.3 105.9h0M102.7 127.1h0M101.5 115.1h0M109.0 75.6h0M102.4 105.0h0M110.4 95.9h0M110.5 78.0h0M106.1 104.4h0M116.8 52.6h0M110.9 99.8h0M104.7 94.2h0M111.9 65.1h0M115.9 69.5h0M114.9 68.1h0M106.3 112.4h0M120.6 59.8h0M110.1 61.3h0M105.8 132.4h0M110.0 88.0h0M109.7 60.9h0M110.9 62.2h0M104.8 126.3h0M102.0 142.1h0M104.1 113.2h0M118.6 61.0h0M116.4 50.7h0M111.2 84.8h0M109.2 104.3h0M114.3 53.2h0M107.3 84.8h0M102.5 130.5h0M103.8 122.6h0M107.3 83.2h0M100.6 101.3h0M108.9 86.2h0M110.0 60.2h0M108.5 120.8h0M110.7 93.3h0M105.3 98.3h0M113.8 72.4h0M99.9 112.3h0M111.4 80.9h0M103.8 112.6h0M101.1 101.8h0M104.4 127.9h0M114.7 57.4h0M101.3 123.5h0M111.2 93.7h0M108.4 95.2h0M101.1 109.6h0M113.2 58.7h0M101.7 131.6h0M98.9 155.8h0M105.2 86.2h0M102.9 130.0h0M115.7 55.3h0M112.7 54.4h0M102.0 98.3h0M109.8 119.6h0M106.5 140.1h0M102.1 108.6h0M97.9 136.2h0M110.4 65.5h0M102.7 123.4h0M101.4 114.0h0M106.9 70.5h0M103.1 126.7h0M98.7 133.7h0M104.2 122.3h0M102.3 98.5h0M97.6 123.8h0M101.1 107.2h0M102.4 159.5h0M103.9 153.6h0M100.7 161.5h0M102.8 113.7h0M104.9 132.9h0M113.9 56.5h0M107.8 115.6h0M97.8 147.1h0M110.0 93.8h0M112.5 60.7h0M102.4 121.1h0M104.0 99.6h0M103.0 94.6h0M110.0 75.7h0M112.5 48.0h0M107.9 120.0h0M102.3 126.2h0M101.9 153.0h0M106.3 96.9h0M103.6 106.2h0M105.5 76.0h0M112.4 89.3h0M102.9 97.5h0M120.2 56.8h0M100.5 141.7h0M115.0 76.7h0M109.2 68.4h0M116.8 68.1h0M108.6 75.9h0M113.0 53.0h0M109.8 94.4h0M104.8 126.4h0M99.9 153.3h0M100.8 159.1h0M119.5 61.3h0M103.8 100.1h0M108.7 100.4h0M113.4 95.9h0M105.0 99.9h0M107.8 67.4h0M100.2 119.1h0M109.2 95.2h0M108.6 91.4h0M101.2 126.7h0M103.4 122.8h0M115.6 73.7h0M98.5 151.9h0M103.0 122.1h0M111.9 86.8h0M116.7 68.0h0M110.0 99.2h0M104.2 143.0h0M112.5 100.1h0M118.7 54.4h0M104.1 141.5h0M97.3 135.6h0M98.1 137.8h0M108.8 119.1h0M115.3 68.6h0M104.6 87.5h0M114.4 58.2h0M104.8 126.3h0M110.3 76.9h0M109.8 77.4h0M114.9 65.6h0M114.5 76.7h0M107.4 109.1h0M115.7 52.7h0M103.4 119.2h0M117.1 64.0h0M111.8 62.4h0M116.5 57.0h0M109.6 72.9h0M99.4 133.0h0M105.4 118.5h0M97.8 137.6h0M120.0 57.1h0M100.1 114.5h0M111.1 93.8h0M107.1 97.5h0M105.8 90.5h0M112.4 75.4h0M111.2 74.5h0M109.2 111.8h0M117.2 64.2h0M105.8 108.9h0M113.3 49.2h0M108.6 99.8h0M102.6 118.0h0M104.5 126.7h0M116.9 52.0h0M108.0 80.5h0M104.9 111.9h0M105.5 147.6h0M102.9 113.6h0M108.2 70.1h0M101.2 104.5h0M105.4 124.6h0M104.3 148.0h0M106.1 140.7h0M113.6 75.2h0M108.2 86.4h0M103.4 84.6h0M105.5 145.6h0M102.9 135.4h0M105.2 106.3h0M102.4 149.4h0M101.1 134.0h0M110.2 57.7h0M115.3 62.7h0M109.4 62.4h0M110.5 84.1h0M103.1 153.3h0M99.3 129.1h0M96.8 153.2h0M109.8 97.0h0M110.0 71.9h0M118.9 56.8h0M105.8 110.2h0M112.4 83.3h0M101.9 125.4h0M103.2 149.7h0M98.6 156.8h0M97.9 152.3h0M114.6 59.9h0M113.2 62.9h0M102.8 142.7h0M98.4 148.7h0M120.5 54.6h0M116.6 53.6h0M108.3 66.1h0M107.1 128.8h0M117.9 62.6h0M103.0 115.8h0M111.1 81.3h0M103.5 144.9h0M115.0 75.5h0M112.8 79.8h0M117.9 63.9h0M101.8 108.0h0M117.8 66.2h0M100.6 121.6h0M105.4 119.6h0M103.3 156.1h0M109.8 73.0h0M100.8 144.7h0M103.7 156.5h0M117.5 63.6h0M110.6 63.5h0M109.4 111.8h0M108.9 86.4h0M106.0 115.8h0M109.8 79.6h0M109.2 101.9h0M102.1 108.2h0M106.8 135.0h0M101.1 141.5h0M115.3 69.5h0M103.0 134.4h0M118.0 56.0h0M73.2 45.1h0M100.5 141.7h0M58.5 104.7h0M72.5 39.9h0M111.5 92.6h0M116.4 41.9h0M101.0 130.1h0M73.7 61.3h0M89.7 169.0h0M122.5 59.4h0M109.5 102.6h0M116.9 95.5h0M60.3 168.6h0M113.5 107.3h0M123.4 41.1h0M105.7 79.6h0M64.0 170.5h0M68.2 84.4h0M64.7 156.7h0M118.2 58.0h0M108.0 69.1h0M64.9 117.5h0M78.7 39.0h0M102.5 181.7h0M114.1 84.8h0M80.9 39.1h0M67.0 158.4h0M60.3 134.6h0M107.9 124.8h0M99.2 156.5h0M97.4 116.1h0M74.9 58.0h0M105.7 84.4h0M76.3 53.6h0M93.3 153.1h0M114.2 141.2h0M74.8 115.0h0M60.8 160.3h0M67.5 57.1h0M120.2 95.1h0M101.9 123.5h0M110.1 140.6h0M117.0 68.4h0M68.0 134.9h0M104.1 176.8h0M119.4 100.3h0M104.0 93.8h0M117.8 53.0h0M102.7 125.7h0M108.6 80.5h0M97.7 115.6h0M60.3 140.9h0M74.0 101.9h0M98.3 123.6h0M124.9 47.9h0M68.5 158.3h0M70.3 87.0h0M110.7 141.0h0M71.3 129.5h0M123.6 51.5h0M97.9 57.6h0M89.8 119.1h0M97.0 132.1h0M68.1 62.7h0M128.2 38.6h0M75.6 105.3h0M95.1 107.0h0M99.8 102.4h0M99.9 45.9h0M11.0 53.3h0" fill="none" stroke="#d8404c" stroke-opacity="0.72" stroke-width="1.55" stroke-linecap="round"/></g>
<text transform="translate(217.40 302.00) scale(1 1.040)" font-size="26.9" text-anchor="middle" fill="#00009c" stroke="#00009c" stroke-width="0.3">L5 ET 2</text>
<g transform="translate(120.2 312.0)"><use href="#brain"/><path d="M32.8 34.0h0M15.4 46.9h0M36.3 32.4h0M35.8 41.2h0M25.6 36.8h0M74.6 26.4h0M41.9 29.1h0M78.3 34.0h0M44.6 32.0h0M63.1 32.1h0M31.9 31.6h0M50.3 34.7h0M50.7 33.7h0M2.3 43.8h0M15.1 37.9h0M19.9 42.5h0M11.5 43.8h0M80.3 42.4h0M22.1 32.2h0M8.5 38.3h0M81.0 45.6h0M57.8 36.0h0M80.3 25.5h0M27.2 39.8h0M56.2 36.3h0M55.4 27.8h0M31.6 27.8h0M35.9 36.8h0M0.6 46.7h0M74.1 41.4h0M77.8 41.3h0M23.2 38.1h0M39.8 33.5h0M29.5 37.1h0M77.2 55.8h0M55.1 27.2h0M32.3 29.9h0M36.3 26.7h0M81.3 37.6h0M77.3 42.6h0M77.3 24.9h0M42.6 34.0h0M17.8 35.6h0M25.5 28.7h0M2.4 45.4h0M46.8 34.8h0M72.0 57.8h0M52.6 36.4h0M59.1 30.5h0M50.5 39.1h0M40.3 27.0h0M20.3 31.6h0M37.4 29.9h0M81.8 41.5h0M18.9 37.7h0M82.8 30.5h0M56.1 35.1h0M68.8 28.4h0M11.7 42.4h0M45.5 25.1h0M80.4 30.9h0M76.5 53.8h0M28.2 32.0h0M40.5 36.8h0M56.6 27.4h0M36.9 32.3h0M48.1 33.4h0M66.6 31.4h0M82.3 32.2h0M79.3 24.5h0M42.9 33.6h0M74.8 58.5h0M27.6 37.1h0M53.8 26.8h0M76.3 34.5h0M17.3 33.6h0M49.6 31.0h0M8.0 46.5h0M76.5 49.3h0M4.1 45.4h0M54.6 31.4h0M50.8 25.1h0M44.6 32.3h0M78.5 38.5h0M76.6 50.9h0M13.7 36.2h0M18.4 35.2h0M82.2 39.9h0M52.9 32.9h0M2.6 46.8h0M39.4 29.1h0M29.9 29.1h0M33.4 33.1h0M75.9 53.9h0M47.7 29.6h0M35.6 36.0h0M10.0 43.9h0M63.0 35.8h0M15.4 39.7h0M24.4 43.9h0M49.3 34.1h0M82.7 39.7h0M71.9 28.7h0M39.2 34.7h0M55.1 27.1h0M36.9 32.8h0M77.4 51.6h0M82.5 28.7h0M38.1 27.1h0M69.4 27.8h0M111.0 61.6h0M109.6 72.9h0M147.5 63.6h0M142.1 48.7h0M132.0 55.8h0M153.7 65.3h0M167.7 75.4h0M115.9 57.9h0M172.7 83.7h0M156.1 67.9h0M146.4 59.4h0M137.6 48.7h0M150.6 69.3h0M170.7 79.6h0M124.1 40.0h0M169.4 75.5h0M176.2 86.6h0M127.8 42.3h0M167.2 80.2h0M127.6 44.3h0M140.4 60.0h0M157.1 69.1h0M136.6 49.0h0M173.6 87.7h0M151.6 65.7h0M111.9 74.1h0M167.5 87.3h0M113.1 60.4h0M171.0 84.9h0M182.9 87.1h0M169.3 82.8h0M114.8 61.1h0M170.5 85.1h0M160.1 68.0h0M150.4 55.6h0M174.7 82.3h0M149.9 67.9h0M144.5 54.4h0M107.6 75.6h0M162.9 76.7h0M171.7 71.8h0M162.0 72.9h0M166.3 74.8h0M182.7 88.1h0M152.5 71.2h0M162.0 69.8h0M116.0 64.6h0M153.1 71.5h0M147.6 55.2h0M131.3 48.5h0M120.7 37.8h0M160.3 67.5h0M109.7 76.4h0M118.6 36.5h0M148.5 62.4h0M145.0 55.2h0M171.9 76.3h0M171.6 79.8h0M109.5 63.8h0M126.6 44.0h0M185.2 88.7h0M111.8 67.5h0M136.4 54.4h0M113.5 45.1h0M156.3 69.5h0M162.8 79.8h0M126.8 40.9h0M112.7 67.0h0M166.3 72.9h0M144.8 56.9h0M172.6 88.1h0M119.4 35.3h0M163.0 73.3h0M134.2 50.9h0M149.2 57.3h0M176.3 87.5h0M168.8 76.9h0M163.4 75.4h0M122.0 36.8h0M139.5 61.7h0M163.3 67.0h0M157.9 75.8h0M112.7 72.3h0M172.1 76.2h0M164.0 67.0h0M179.5 88.2h0M134.4 50.6h0M157.9 69.2h0M110.6 71.3h0M116.8 52.6h0M111.4 72.2h0M151.5 55.4h0M113.2 65.6h0M167.8 88.0h0M184.0 87.6h0M168.9 71.7h0M160.3 70.8h0M119.3 39.0h0M126.2 43.9h0M150.2 68.1h0M168.4 73.4h0M119.6 39.6h0M119.8 42.4h0M114.0 55.3h0M162.0 79.1h0M119.2 44.5h0M116.1 59.4h0M137.1 54.9h0M114.3 55.3h0M137.7 56.4h0M176.0 80.4h0M125.2 41.4h0M109.6 75.6h0M109.2 76.2h0M131.4 52.6h0M158.8 65.5h0M138.2 50.6h0M149.8 64.0h0M122.9 37.6h0M161.3 80.6h0M64.7 135.8h0M72.0 137.7h0M63.5 128.3h0M59.1 138.6h0M69.4 134.5h0M73.2 132.1h0M61.8 142.4h0M65.6 123.2h0M63.0 143.6h0M68.4 139.5h0M61.1 129.7h0M65.6 127.1h0M61.0 138.4h0M74.8 124.9h0M69.5 143.8h0M58.2 142.1h0M64.3 130.7h0M66.9 129.9h0M69.4 134.3h0M67.5 120.7h0M69.2 130.0h0M60.4 141.7h0M65.0 137.8h0M62.2 138.9h0M66.1 128.5h0M65.7 124.5h0M61.4 134.8h0M66.8 128.2h0M105.2 144.9h0M99.8 139.1h0M107.6 145.6h0M110.0 139.5h0M102.4 139.0h0M114.7 138.7h0M105.9 139.2h0M104.9 143.7h0M96.8 153.2h0M112.6 137.2h0M94.4 146.5h0M108.0 151.7h0M89.2 149.6h0M103.0 149.6h0M116.4 142.1h0M89.2 143.0h0M95.3 160.8h0M118.7 148.3h0M84.0 146.6h0M109.7 144.4h0M107.4 139.9h0M103.7 142.3h0M96.3 139.3h0M98.3 140.4h0M106.4 147.0h0M106.6 144.3h0M90.5 151.0h0M88.6 147.9h0M106.1 142.7h0M98.3 147.8h0M91.5 147.1h0M93.0 155.4h0M151.8 72.7h0M188.9 69.8h0M174.5 76.9h0M60.1 82.0h0M122.4 18.0h0M77.2 55.1h0M100.9 95.5h0M54.2 10.4h0M107.6 39.8h0M78.7 106.4h0M111.9 52.7h0M121.8 66.9h0M87.4 181.1h0M71.7 78.3h0M142.8 37.7h0" fill="none" stroke="#d8404c" stroke-opacity="0.72" stroke-width="1.55" stroke-linecap="round"/></g>
<text transform="translate(445.00 302.00) scale(1 1.040)" font-size="26.9" text-anchor="middle" fill="#00009c" stroke="#00009c" stroke-width="0.3">L5 IT 1</text>
<g transform="translate(346.9 312.0)"><use href="#brain"/><path d="M69.5 69.3h0M63.5 87.0h0M66.9 95.9h0M86.5 32.3h0M81.3 58.7h0M79.5 81.8h0M69.4 78.8h0M74.2 95.2h0M76.7 81.1h0M78.0 50.1h0M76.7 69.9h0M86.5 44.1h0M68.0 84.6h0M81.8 52.4h0M69.0 72.2h0M77.3 50.3h0M68.9 71.4h0M68.2 72.4h0M70.2 84.1h0M81.3 52.5h0M76.9 34.5h0M85.5 43.2h0M63.4 89.1h0M73.9 100.2h0M68.8 77.5h0M74.4 87.8h0M70.3 63.1h0M71.4 89.2h0M81.3 38.2h0M64.2 89.4h0M74.5 63.4h0M72.7 94.1h0M84.7 41.5h0M78.9 65.1h0M68.6 91.7h0M64.7 94.4h0M79.5 62.5h0M66.7 74.4h0M62.4 81.9h0M75.7 70.1h0M75.2 64.0h0M85.4 58.9h0M83.6 35.6h0M66.2 76.1h0M75.1 74.3h0M78.6 57.2h0M77.1 93.1h0M78.7 37.7h0M63.5 92.3h0M78.6 68.2h0M62.3 75.2h0M78.8 48.4h0M79.7 43.4h0M74.3 66.8h0M69.8 83.6h0M66.5 63.3h0M64.2 102.8h0M79.1 49.1h0M77.4 51.6h0M79.9 54.9h0M113.6 83.3h0M114.4 88.1h0M106.1 81.1h0M103.9 67.4h0M102.1 109.1h0M105.1 112.8h0M103.0 104.8h0M96.3 111.8h0M107.2 76.8h0M97.9 82.9h0M99.1 92.1h0M108.0 104.6h0M108.6 92.2h0M97.7 101.8h0M110.2 67.0h0M95.9 104.9h0M105.6 92.1h0M111.5 88.7h0M94.8 114.9h0M109.1 95.3h0M100.5 63.5h0M106.6 98.1h0M107.1 82.1h0M106.2 66.5h0M104.9 100.7h0M104.9 115.1h0M108.3 72.3h0M107.5 84.7h0M110.1 69.3h0M109.3 93.6h0M111.8 63.0h0M114.4 76.4h0M108.4 69.6h0M110.4 103.1h0M108.7 91.7h0M109.4 92.7h0M114.7 65.4h0M109.5 105.2h0M109.8 98.3h0M106.9 95.6h0M110.6 95.7h0M105.0 94.3h0M105.4 78.8h0M101.5 61.2h0M101.8 108.0h0M95.1 106.2h0M104.1 71.3h0M99.9 106.2h0M112.6 77.1h0M108.5 93.5h0M101.9 90.3h0M111.7 80.5h0M101.5 109.0h0M102.4 76.2h0M111.8 90.0h0M107.0 98.4h0M98.5 114.7h0M106.4 62.1h0M96.0 83.6h0M111.9 117.1h0M96.0 105.4h0M106.0 72.2h0M112.9 61.0h0M105.7 70.9h0M97.7 76.9h0M110.3 65.4h0M118.9 65.8h0M108.0 94.0h0M99.3 100.4h0M108.6 68.3h0M106.5 112.8h0M98.8 94.3h0M105.4 86.3h0M114.7 61.3h0M111.0 101.6h0M106.4 89.2h0M111.6 73.2h0M103.9 115.4h0M97.6 112.8h0M103.7 95.4h0M98.2 97.2h0M102.6 95.4h0M99.0 83.9h0M118.4 67.0h0M104.6 52.5h0M105.9 104.0h0M114.5 67.7h0M109.2 82.3h0M114.2 88.7h0M110.2 75.6h0M114.3 86.1h0M109.3 70.7h0M103.9 61.7h0M110.3 95.8h0M109.9 87.8h0M61.5 181.2h0M99.6 169.8h0M65.3 182.9h0M96.2 178.3h0M106.2 162.4h0M106.3 171.3h0M67.5 167.4h0M102.8 171.4h0M91.4 149.7h0M74.0 150.7h0M94.3 179.8h0M98.7 145.4h0M67.8 143.7h0M111.7 164.2h0M54.4 144.4h0M60.5 149.0h0M56.1 150.6h0M85.6 170.4h0M89.9 163.4h0M65.2 185.9h0M76.3 146.9h0M111.2 161.8h0M59.2 185.4h0M105.9 54.6h0M181.8 82.1h0M8.6 7.9h0M39.4 7.5h0M132.9 52.8h0M94.8 89.1h0M39.9 8.9h0M84.7 9.9h0M66.4 182.8h0M60.4 158.4h0M114.6 127.9h0M141.8 61.0h0M61.9 132.5h0M92.2 122.7h0M119.2 88.7h0M23.6 52.3h0M156.3 38.7h0M136.7 31.4h0M24.8 52.2h0M149.1 29.6h0M145.4 88.7h0" fill="none" stroke="#d8404c" stroke-opacity="0.72" stroke-width="1.55" stroke-linecap="round"/></g>
<text transform="translate(676.30 302.00) scale(1 1.040)" font-size="26.9" text-anchor="middle" fill="#00009c" stroke="#00009c" stroke-width="0.3">L5 IT 2</text>
<g transform="translate(573.7 312.0)"><use href="#brain"/><path d="M94.2 149.5h0M76.4 75.4h0M54.7 15.8h0M112.8 106.6h0M63.5 160.2h0M83.8 38.5h0M45.2 65.2h0M81.5 101.5h0M176.7 87.6h0M73.9 155.5h0M15.4 45.9h0M76.8 95.7h0M184.1 73.0h0M92.4 54.8h0M81.7 57.2h0M162.1 75.2h0M89.3 22.7h0M100.0 41.7h0M100.6 124.6h0M108.1 53.4h0M77.6 132.4h0M118.1 79.3h0M130.4 93.5h0M80.3 179.7h0M66.4 172.6h0M16.0 63.3h0M42.5 5.9h0M146.0 72.5h0M132.2 63.0h0M64.6 90.0h0M131.8 45.3h0M140.1 55.8h0M106.5 37.9h0M94.6 121.2h0M83.5 75.7h0M116.3 62.9h0M105.4 181.4h0M21.7 17.3h0M128.6 81.5h0M70.7 138.1h0" fill="none" stroke="#d8404c" stroke-opacity="0.72" stroke-width="1.55" stroke-linecap="round"/></g>
<text transform="translate(907.00 302.00) scale(1 1.040)" font-size="26.9" text-anchor="middle" fill="#00009c" stroke="#00009c" stroke-width="0.3">L5 IT 3</text>
<g transform="translate(800.4 312.0)"><use href="#brain"/><path d="M50.0 28.7h0M58.9 28.4h0M51.0 30.8h0M44.2 35.2h0M5.9 53.8h0M15.6 34.5h0M30.1 25.1h0M25.4 43.9h0M54.9 32.9h0M65.0 25.6h0M59.1 26.1h0M12.5 35.1h0M33.3 33.8h0M28.8 39.6h0M30.5 33.0h0M59.6 37.3h0M46.0 34.6h0M48.9 29.2h0M20.3 30.0h0M75.1 24.6h0M36.3 40.1h0M18.5 31.4h0M39.4 24.1h0M64.7 27.9h0M31.2 30.3h0M51.5 29.8h0M2.2 37.7h0M49.2 32.6h0M50.8 37.6h0M5.8 44.9h0M22.4 35.7h0M39.8 34.3h0M14.8 50.7h0M23.4 44.0h0M22.3 33.4h0M32.9 30.8h0M46.9 30.8h0M27.7 41.0h0M51.7 39.9h0M61.3 31.3h0M11.0 36.3h0M28.2 35.7h0M36.7 28.7h0M64.0 34.9h0M8.4 37.9h0M33.1 39.2h0M48.8 27.8h0M63.8 27.0h0M10.4 50.6h0M27.7 33.3h0M52.5 34.3h0M56.6 39.3h0M34.6 37.6h0M34.1 37.9h0M36.7 34.0h0M62.6 23.2h0M26.1 45.3h0M50.2 32.4h0M10.2 54.0h0M63.8 24.6h0M46.6 41.1h0M51.9 26.6h0M72.1 29.1h0M32.5 29.5h0M24.1 42.6h0M28.0 36.6h0M22.7 41.7h0M18.0 43.7h0M6.7 37.2h0M18.8 32.1h0M32.9 29.2h0M40.8 32.0h0M59.2 33.1h0M49.2 31.9h0M24.6 35.0h0M4.6 43.7h0M17.8 45.4h0M22.9 44.5h0M7.6 46.3h0M10.8 36.1h0M19.5 31.4h0M49.9 27.1h0M28.4 30.8h0M73.6 28.5h0M35.4 35.9h0M39.7 32.4h0M54.1 32.2h0M47.2 26.9h0M56.9 34.5h0M59.5 33.6h0M16.0 31.0h0M55.5 38.1h0M50.5 32.0h0M29.2 40.4h0M44.4 29.5h0M47.9 32.2h0M2.1 52.6h0M52.5 35.4h0M63.0 31.5h0M1.9 51.6h0M19.6 40.4h0M19.6 43.2h0M20.4 44.3h0M18.7 31.1h0M37.0 31.5h0M41.5 26.6h0M31.1 35.6h0M37.8 38.1h0M42.3 25.5h0M40.7 40.0h0M40.1 24.7h0M33.8 30.7h0M0.6 44.5h0M60.1 24.3h0M59.1 24.1h0M5.3 47.3h0M39.3 33.3h0M41.6 26.4h0M69.6 28.8h0M26.3 27.4h0M68.0 30.7h0M28.9 40.4h0M15.6 36.6h0M8.0 48.5h0M4.5 43.4h0M43.5 37.6h0M24.4 33.8h0M19.3 43.5h0M8.7 43.0h0M38.9 33.0h0M18.0 38.0h0M8.8 50.6h0M7.2 38.2h0M53.5 38.0h0M23.9 35.0h0M41.9 39.5h0M20.3 39.1h0M23.7 43.8h0M61.9 36.9h0M42.0 36.2h0M34.7 44.9h0M44.9 33.8h0M33.5 40.4h0M32.1 35.9h0M12.8 35.7h0M4.8 48.6h0M46.6 37.8h0M67.9 32.2h0M53.7 31.1h0M52.9 28.8h0M17.1 37.5h0M6.4 36.5h0M15.7 47.7h0M19.1 32.4h0M56.1 34.5h0M53.8 34.9h0M73.9 26.6h0M14.1 36.2h0M43.5 34.6h0M32.9 31.4h0M47.0 32.8h0M25.3 42.9h0M49.8 41.5h0M61.7 30.3h0M55.3 34.2h0M13.1 55.4h0M18.9 46.1h0M13.1 34.1h0M40.2 30.1h0M24.8 35.8h0M16.8 30.9h0M33.5 34.7h0M39.6 30.9h0M8.1 43.9h0M55.4 31.8h0M42.0 29.0h0M38.2 33.6h0M44.2 40.7h0M57.2 38.4h0M70.7 28.8h0M21.3 31.3h0M35.5 37.9h0M44.5 41.8h0M47.3 24.2h0M34.0 26.7h0M52.5 30.9h0M49.3 32.7h0M15.2 37.4h0M44.7 30.2h0M8.5 37.8h0M46.7 39.9h0M18.4 31.4h0M56.3 33.9h0M25.7 29.9h0M30.0 27.7h0M57.3 26.9h0M63.1 24.5h0M26.9 44.0h0M47.1 41.5h0M46.7 29.3h0M42.6 37.5h0M40.9 33.8h0M29.8 30.1h0M33.6 32.0h0M41.3 35.7h0M40.0 37.7h0M2.8 43.0h0M64.1 31.7h0M19.5 48.9h0M10.4 36.9h0M137.6 57.6h0M143.5 52.9h0M150.0 57.1h0M180.7 83.7h0M155.6 58.2h0M167.9 78.9h0M162.0 84.2h0M127.6 45.0h0M170.4 76.7h0M147.2 67.3h0M147.5 54.0h0M156.9 66.5h0M132.2 41.5h0M158.6 69.5h0M151.0 58.2h0M152.4 61.6h0M164.7 78.6h0M134.5 47.5h0M156.9 68.3h0M131.6 47.5h0M177.6 86.2h0M177.8 83.0h0M167.3 71.8h0M136.8 56.1h0M176.8 82.7h0M178.8 77.5h0M119.6 34.6h0M125.4 35.2h0M144.0 56.6h0M137.0 60.7h0M133.2 45.9h0M155.2 71.3h0M133.3 50.1h0M160.5 61.2h0M151.2 66.8h0M131.7 50.0h0M147.3 65.5h0M139.5 62.7h0M130.5 39.7h0M177.9 85.0h0M136.4 59.7h0M132.8 54.6h0M168.9 83.4h0M169.0 74.6h0M153.8 57.3h0M146.8 49.6h0M137.2 56.4h0M143.7 48.8h0M137.7 54.2h0M153.8 58.5h0M183.4 86.5h0M165.0 75.3h0M140.5 53.2h0M164.2 71.5h0M135.9 62.2h0M168.5 86.7h0M170.5 70.6h0M141.6 54.4h0M157.1 69.5h0M164.7 77.3h0M142.7 60.1h0M168.1 73.2h0M169.9 67.3h0M166.1 75.3h0M123.6 37.3h0M169.7 67.9h0M175.6 81.7h0M190.4 88.3h0M134.4 54.4h0M171.0 75.3h0M181.2 87.9h0M157.5 64.1h0M170.7 85.3h0M138.8 52.4h0M172.2 81.9h0M141.1 58.4h0M139.5 53.5h0M163.7 75.2h0M158.8 65.3h0M152.2 61.7h0M159.7 72.7h0M192.4 88.5h0M170.1 74.9h0M164.3 76.0h0M162.0 76.6h0M175.0 76.5h0M153.7 72.1h0M175.0 86.5h0M172.2 76.7h0M167.2 67.6h0M138.5 47.9h0M157.2 63.2h0M150.8 57.9h0M164.8 68.1h0M143.6 61.3h0M123.0 38.0h0M167.0 67.9h0M147.7 69.4h0M157.0 69.8h0M167.8 81.9h0M170.8 75.1h0M171.1 80.5h0M144.5 54.4h0M143.5 63.7h0M134.3 54.1h0M152.1 65.2h0M159.5 72.7h0M141.0 56.1h0M127.5 38.1h0M169.4 85.3h0M141.7 54.0h0M170.7 76.1h0M154.9 73.3h0M161.6 64.2h0M158.6 63.1h0M172.8 75.5h0M154.2 71.2h0M134.4 42.0h0M157.8 57.9h0M135.8 41.3h0M140.8 64.3h0M175.4 80.8h0M165.2 79.9h0M158.4 71.2h0M144.6 65.4h0M140.5 62.7h0M181.2 87.0h0M134.4 49.8h0M165.0 77.8h0M171.0 70.6h0M158.3 60.2h0M168.5 86.5h0M178.1 86.8h0M158.3 69.9h0M146.9 51.7h0M192.5 87.0h0M152.2 54.1h0M145.5 60.4h0M132.1 41.6h0M179.1 83.0h0M156.5 55.8h0M137.2 45.1h0M172.9 74.1h0M168.6 69.3h0M135.0 46.1h0M149.7 65.3h0M160.2 67.5h0M132.2 51.7h0M127.5 45.6h0M162.0 65.3h0M47.5 37.3h0M6.0 25.1h0M177.7 74.3h0M111.6 125.7h0M21.9 22.0h0M167.7 62.1h0M137.6 38.9h0M75.9 14.5h0M90.6 10.9h0M58.2 26.0h0M164.3 87.8h0M59.2 172.4h0" fill="none" stroke="#d8404c" stroke-opacity="0.72" stroke-width="1.55" stroke-linecap="round"/></g>
<text transform="translate(1140.40 302.00) scale(1 1.040)" font-size="26.9" text-anchor="middle" fill="#00009c" stroke="#00009c" stroke-width="0.3">L5/6 NP</text>
<g transform="translate(1027.1 312.0)"><use href="#brain"/><path d="M66.5 31.5h0M34.6 34.4h0M45.5 47.9h0M45.6 38.5h0M37.7 50.1h0M69.0 23.3h0M22.0 27.3h0M74.4 22.7h0M38.0 23.8h0M65.5 29.6h0M53.5 29.7h0M25.3 31.3h0M38.6 49.8h0M33.6 31.9h0M36.9 35.3h0M53.5 42.4h0M49.3 38.1h0M49.7 44.0h0M58.0 30.6h0M47.7 34.6h0M33.5 32.6h0M35.2 32.3h0M35.2 41.0h0M61.7 30.3h0M62.0 25.8h0M26.9 42.2h0M46.5 47.5h0M38.2 38.9h0M41.7 28.9h0M21.5 30.2h0M31.3 48.8h0M51.9 22.5h0M37.2 40.2h0M37.4 30.7h0M63.0 18.4h0M70.6 28.1h0M31.0 36.4h0M47.8 31.8h0M21.0 52.4h0M66.2 29.6h0M80.9 26.3h0M71.7 88.1h0M74.7 60.7h0M62.0 100.1h0M58.4 118.6h0M77.6 36.3h0M70.6 81.9h0M58.4 146.8h0M73.6 65.2h0M81.7 41.0h0M81.0 35.4h0M65.6 121.8h0M75.5 36.0h0M74.0 42.9h0M81.5 37.8h0M66.0 122.6h0M74.9 44.4h0M75.3 49.4h0M60.7 144.1h0M59.3 111.0h0M71.7 78.3h0M67.1 88.0h0M56.4 147.2h0M78.9 47.0h0M73.8 58.8h0M62.4 122.7h0M62.9 114.2h0M70.6 80.2h0M78.4 26.3h0M69.6 98.8h0M75.2 53.8h0M72.5 62.7h0M68.8 77.5h0M73.0 36.1h0M76.7 37.5h0M62.4 87.9h0M59.1 129.1h0M61.8 137.2h0M63.8 111.9h0M69.5 101.4h0M71.9 54.0h0M60.7 140.1h0M81.9 32.2h0M65.7 110.6h0M58.0 114.4h0M76.6 29.7h0M68.6 65.7h0M59.7 131.9h0M63.9 110.4h0M79.4 45.2h0M62.2 93.3h0M68.2 74.2h0M71.6 53.5h0M57.3 124.6h0M63.7 110.8h0M72.8 65.6h0M73.1 68.7h0M69.0 89.9h0M70.3 87.0h0M66.0 97.7h0M68.4 102.7h0M66.0 84.7h0M81.4 37.7h0M69.2 94.6h0M62.0 111.3h0M65.4 105.9h0M65.9 113.7h0M64.3 133.9h0M66.6 109.4h0M59.8 134.8h0M81.7 33.3h0M72.9 46.0h0M68.1 103.0h0M59.9 117.8h0M60.9 110.2h0M71.0 78.7h0M65.4 102.3h0M73.6 59.2h0M59.1 119.5h0M60.4 110.1h0M59.5 131.4h0M65.3 77.2h0M61.5 115.3h0M62.5 132.1h0M74.2 72.9h0M60.6 121.7h0M60.6 115.3h0M64.6 138.9h0M75.6 43.1h0M81.0 42.5h0M78.4 42.3h0M55.6 138.0h0M65.1 136.8h0M78.6 40.5h0M73.1 63.3h0M70.7 62.5h0M71.3 71.4h0M65.1 92.2h0M67.1 109.6h0M71.0 65.6h0M75.3 67.9h0M76.4 32.4h0M80.2 28.2h0M61.7 122.6h0M75.5 51.0h0M65.1 81.8h0M82.0 40.9h0M82.7 36.1h0M78.7 32.1h0M56.5 143.1h0M74.8 31.9h0M72.1 64.8h0M63.9 98.1h0M58.0 118.8h0M71.1 78.3h0M60.7 127.9h0M53.0 147.3h0M72.5 69.7h0M77.8 44.7h0M77.8 49.1h0M66.9 105.1h0M73.9 60.7h0M67.5 69.7h0M70.6 66.2h0M64.6 125.9h0M64.0 120.8h0M68.9 66.8h0M66.7 110.8h0M67.0 103.7h0M61.6 108.5h0M64.0 125.9h0M57.7 134.2h0M63.8 126.0h0M83.3 29.7h0M67.0 109.3h0M79.6 43.3h0M61.6 133.2h0M61.4 94.9h0M66.6 113.8h0M71.2 70.1h0M105.3 122.3h0M104.0 138.9h0M102.3 116.4h0M115.9 82.1h0M107.5 147.0h0M122.9 46.8h0M113.9 75.9h0M106.4 126.6h0M108.5 132.2h0M106.6 116.3h0M121.9 53.9h0M120.6 59.4h0M107.9 141.1h0M116.8 51.3h0M112.3 120.6h0M120.9 59.0h0M119.6 71.3h0M107.4 89.5h0M103.4 122.2h0M112.5 114.6h0M109.9 73.4h0M104.1 113.2h0M102.5 132.0h0M106.0 102.4h0M110.2 95.0h0M108.3 128.9h0M107.2 124.2h0M105.0 145.1h0M118.9 73.4h0M104.6 160.1h0M122.0 52.6h0M121.9 45.7h0M100.7 159.2h0M112.7 52.5h0M100.3 136.5h0M100.9 150.7h0M101.2 140.9h0M105.3 101.0h0M116.9 47.4h0M102.0 141.5h0M122.7 58.6h0M107.7 90.8h0M102.9 139.4h0M117.7 77.2h0M100.2 148.0h0M119.4 68.7h0M103.8 113.0h0M115.4 87.7h0M107.9 113.2h0M110.8 96.3h0M123.3 45.5h0M102.4 123.4h0M115.6 50.5h0M117.8 48.6h0M104.7 114.0h0M118.8 41.9h0M104.1 131.9h0M105.5 127.1h0M102.4 152.2h0M104.7 104.9h0M107.5 86.6h0M109.6 140.7h0M120.7 68.2h0M110.9 71.5h0M112.9 71.3h0M101.1 131.0h0M111.3 76.7h0M102.4 145.2h0M105.8 135.3h0M118.5 42.4h0M108.0 101.4h0M99.0 154.8h0M118.9 53.5h0M123.9 41.6h0M106.2 141.7h0M105.0 123.1h0M123.1 42.0h0M107.1 95.4h0M110.9 76.5h0M112.2 109.8h0M103.7 108.2h0M112.1 86.4h0M121.2 42.0h0M110.1 123.3h0M108.9 86.4h0M111.9 77.1h0M119.9 55.0h0M106.8 136.0h0M105.7 136.2h0M103.0 133.5h0M105.5 138.5h0M102.9 123.2h0M101.5 115.8h0M120.4 63.7h0M122.4 54.8h0M113.9 102.5h0M110.2 111.1h0M109.1 96.1h0M113.8 94.8h0M104.0 128.0h0M119.1 38.8h0M118.9 45.2h0M109.3 94.5h0M106.0 114.3h0M109.6 137.7h0M97.2 151.7h0M101.7 120.2h0M124.1 44.2h0M105.7 143.0h0M114.8 83.3h0M99.7 144.1h0M106.5 87.0h0M112.3 118.6h0M118.2 60.7h0M100.7 140.7h0M110.9 98.6h0M111.6 63.4h0M114.7 52.2h0M101.5 139.5h0M103.6 152.8h0M100.6 161.1h0M99.8 141.1h0M98.4 159.9h0M109.7 131.0h0M101.1 147.3h0M109.0 123.4h0M124.3 45.0h0M101.1 148.3h0M114.5 88.4h0M104.3 114.1h0M121.2 62.8h0M111.6 89.8h0M116.8 47.7h0M116.7 68.0h0M108.3 114.2h0M114.0 97.4h0M111.9 97.3h0M115.8 95.6h0M114.9 74.9h0M112.9 67.1h0M122.5 67.2h0M105.2 137.3h0M113.3 81.7h0M109.3 69.9h0M112.0 105.4h0M104.3 156.8h0M104.4 121.7h0M117.3 64.2h0M120.3 60.3h0M110.9 93.4h0M108.6 80.0h0M101.3 141.4h0M112.7 116.0h0M101.7 135.3h0M109.1 137.2h0M110.5 130.1h0M99.7 143.0h0M110.1 100.4h0M111.1 126.9h0M114.3 105.2h0M165.0 75.7h0M159.9 65.3h0M139.5 54.5h0M165.8 80.0h0M154.4 87.3h0M170.5 70.1h0M159.3 63.4h0M151.7 73.8h0M159.6 87.8h0M144.2 76.8h0M150.7 85.1h0M166.0 75.1h0M165.2 79.8h0M160.4 62.7h0M163.0 80.4h0M138.8 61.4h0M162.5 70.8h0M130.9 52.3h0M144.8 69.6h0M156.5 86.9h0M157.3 59.5h0M148.4 62.9h0M148.6 61.3h0M150.7 73.7h0M133.0 45.7h0M149.7 66.8h0M146.6 65.6h0M130.4 47.4h0M190.5 88.8h0M162.8 77.8h0M143.6 70.7h0M155.2 68.6h0M165.2 71.5h0M145.3 69.1h0M156.7 79.0h0M144.8 58.1h0M188.7 87.1h0M145.4 61.2h0M178.2 83.3h0M172.2 78.9h0M119.2 38.8h0M145.9 31.6h0M121.3 58.7h0M97.0 72.1h0M134.7 67.8h0M68.0 15.7h0M86.5 22.3h0M61.5 103.8h0M65.3 135.8h0M36.3 61.8h0M108.0 132.0h0M104.5 49.6h0M179.9 60.2h0M114.8 43.1h0M31.9 24.4h0M120.5 17.4h0M105.6 128.2h0M77.4 133.9h0" fill="none" stroke="#d8404c" stroke-opacity="0.72" stroke-width="1.55" stroke-linecap="round"/></g>
<text transform="translate(1369.60 302.00) scale(1 1.040)" font-size="26.9" text-anchor="middle" fill="#00009c" stroke="#00009c" stroke-width="0.3">L6 CT 1</text>
<g transform="translate(1253.8 312.0)"><use href="#brain"/><path d="M65.1 46.4h0M61.0 59.1h0M48.6 43.1h0M70.1 59.0h0M49.8 59.6h0M48.6 58.2h0M64.6 50.1h0M57.9 59.8h0M54.4 58.4h0M69.8 64.7h0M57.5 59.3h0M55.5 57.4h0M49.3 55.8h0M63.4 50.4h0M72.0 53.9h0M66.8 37.2h0M59.3 46.3h0M65.0 48.6h0M60.7 64.0h0M49.7 53.7h0M51.2 48.6h0M75.9 63.9h0M62.3 49.3h0M62.1 49.9h0M59.4 55.6h0M59.0 59.3h0M78.6 50.8h0M65.2 60.0h0M53.6 47.1h0M64.3 54.2h0M47.8 57.8h0M64.0 51.6h0M63.4 42.5h0M66.8 38.6h0M60.0 65.3h0M53.0 55.2h0M51.8 55.4h0M64.6 45.5h0M55.8 53.1h0M68.2 56.3h0M58.3 67.5h0M60.8 43.9h0M67.1 61.3h0M63.9 47.8h0M56.6 52.6h0M59.3 49.8h0M79.2 53.7h0M60.8 52.4h0M50.2 60.2h0M55.2 58.6h0M45.1 48.6h0M44.5 45.8h0M54.0 63.4h0M71.0 42.5h0M69.3 41.7h0M55.2 47.7h0M62.3 43.7h0M40.2 46.1h0M66.1 51.2h0M61.1 47.7h0M64.1 48.2h0M59.3 53.4h0M55.6 61.2h0M63.5 42.0h0M56.2 59.0h0M67.6 46.7h0M60.7 56.3h0M48.9 53.9h0M56.5 46.3h0M48.8 54.1h0M71.9 46.8h0M56.4 58.2h0M57.9 46.7h0M55.1 65.6h0M59.4 46.5h0M48.5 47.2h0M57.0 62.7h0M55.5 53.6h0M64.5 50.2h0M44.2 53.1h0M57.2 47.2h0M66.1 63.2h0M59.9 42.5h0M61.2 52.4h0M44.0 51.7h0M65.9 55.0h0M43.7 58.5h0M67.2 55.1h0M51.0 49.5h0M77.6 47.1h0M63.9 58.7h0M55.6 54.5h0M31.1 57.4h0M41.8 49.4h0M58.0 53.3h0M57.8 57.3h0M42.8 56.0h0M36.5 62.1h0M46.6 47.1h0M81.1 50.9h0M67.6 58.1h0M82.9 61.0h0M37.9 49.3h0M47.7 50.5h0M34.5 49.7h0M44.2 45.8h0M66.4 59.6h0M47.3 56.8h0M45.9 59.1h0M59.5 65.2h0M60.0 41.5h0M62.0 50.9h0M39.3 48.4h0M48.3 56.9h0M68.8 59.8h0M43.1 55.2h0M63.2 57.1h0M69.2 50.4h0M58.7 47.5h0M78.5 56.5h0M65.4 53.3h0M63.9 55.5h0M56.3 61.7h0M77.3 42.6h0M60.6 49.7h0M67.1 54.7h0M71.2 52.3h0M56.6 58.6h0M73.4 54.5h0M83.8 49.1h0M63.2 52.8h0M56.9 56.7h0M72.2 51.0h0M74.8 49.4h0M73.3 49.6h0M46.1 67.8h0M54.6 44.4h0M58.6 58.8h0M54.2 48.5h0M61.8 47.4h0M55.3 58.7h0M40.3 62.1h0M45.6 67.5h0M62.7 57.8h0M35.8 47.0h0M41.8 46.2h0M73.5 63.4h0M55.9 39.2h0M60.7 44.9h0M62.5 55.3h0M53.2 58.6h0M51.7 44.1h0M60.3 47.4h0M49.8 45.4h0M59.7 46.9h0M47.0 53.3h0M34.2 59.1h0M54.7 56.7h0M51.7 47.7h0M56.6 50.5h0M54.0 52.8h0M67.3 40.5h0M73.6 69.6h0M57.1 66.9h0M52.9 55.4h0M76.8 50.3h0M62.5 45.8h0M62.2 45.8h0M46.6 52.9h0M50.8 45.4h0M70.9 65.7h0M52.7 54.2h0M67.3 64.4h0M53.7 45.3h0M60.0 55.0h0M77.7 47.5h0M55.0 52.0h0M66.3 50.9h0M74.3 70.5h0M64.6 51.2h0M61.3 51.6h0M59.6 55.2h0M48.6 60.2h0M47.7 59.7h0M54.3 54.6h0M64.0 59.6h0M68.3 56.3h0M54.3 47.9h0M68.1 63.4h0M68.2 44.9h0M78.6 47.6h0M55.0 52.7h0M74.3 36.5h0M79.9 58.2h0M60.7 50.0h0M50.1 48.5h0M60.5 53.3h0M70.5 46.2h0M62.2 56.2h0M56.2 50.6h0M58.4 62.4h0M48.9 58.0h0M39.7 52.1h0M61.9 56.3h0M59.2 54.9h0M46.5 53.3h0M86.2 56.1h0M49.6 47.5h0M66.0 55.9h0M69.3 50.9h0M73.4 54.2h0M60.9 47.7h0M53.1 51.6h0M73.5 43.5h0M48.1 54.6h0M58.9 53.2h0M64.9 64.9h0M55.6 63.8h0M67.6 52.2h0M63.6 53.1h0M66.4 55.8h0M70.6 52.9h0M48.2 52.8h0M77.5 47.5h0M51.5 46.0h0M61.2 57.1h0M59.3 49.2h0M55.2 52.3h0M53.0 56.1h0M60.3 55.3h0M57.6 68.8h0M55.0 56.2h0M57.5 64.0h0M57.8 56.1h0M50.6 65.1h0M56.0 47.7h0M53.3 54.6h0M78.7 42.9h0M54.9 56.3h0M58.1 51.8h0M73.3 49.2h0M58.0 55.0h0M51.3 58.2h0M59.4 54.5h0M63.6 47.8h0M72.7 65.9h0M65.0 46.9h0M63.7 50.2h0M65.1 48.5h0M60.6 53.0h0M28.5 47.2h0M25.8 57.6h0M34.8 54.2h0M27.4 57.7h0M53.3 59.2h0M17.8 54.7h0M58.1 60.1h0M38.2 52.5h0M8.5 56.0h0M26.5 61.1h0M26.5 53.5h0M40.8 63.3h0M31.1 60.8h0M50.4 69.6h0M74.4 56.6h0M44.7 52.2h0M15.2 56.6h0M14.4 51.3h0M53.0 53.5h0M57.9 59.8h0M48.3 56.7h0M38.7 63.2h0M41.8 59.3h0M28.5 53.7h0M54.2 63.1h0M31.5 55.4h0M58.9 57.3h0M37.3 54.2h0M25.6 46.7h0M40.0 57.7h0M23.3 49.9h0M21.8 56.7h0M29.1 56.8h0M24.4 56.3h0M27.4 53.6h0M39.3 52.9h0M13.9 50.3h0M34.1 51.5h0M43.2 55.9h0M21.9 60.5h0M26.1 54.5h0M13.6 43.9h0M53.8 56.5h0M20.7 47.4h0M25.5 51.6h0M29.5 60.2h0M27.9 59.1h0M33.4 57.5h0M57.8 53.5h0M12.7 59.2h0M38.3 51.4h0M29.4 61.6h0M46.7 50.0h0M35.7 57.6h0M44.7 54.3h0M29.9 58.5h0M46.9 50.8h0M31.4 57.2h0M6.7 53.8h0M44.8 53.2h0M62.0 50.5h0M68.6 61.0h0M31.6 64.0h0M23.1 59.7h0M35.6 55.6h0M45.1 66.7h0M32.2 53.1h0M44.5 52.9h0M30.7 61.4h0M46.0 58.5h0M27.8 59.8h0M29.8 53.0h0M28.7 61.8h0M24.8 53.9h0M46.2 63.6h0M24.0 62.6h0M51.5 56.5h0M35.6 58.0h0M17.7 55.2h0M20.2 52.2h0M10.5 53.5h0M46.7 59.8h0M24.8 61.9h0M23.3 51.8h0M18.6 47.4h0M22.5 59.6h0M37.6 56.9h0M57.7 55.7h0M49.2 56.9h0M55.8 48.7h0M42.5 50.8h0M33.9 61.2h0M22.2 52.4h0M27.8 56.3h0M43.3 52.2h0M20.1 54.6h0M46.3 64.1h0M19.2 59.1h0M29.0 54.9h0M33.8 54.8h0M32.2 47.3h0M9.7 54.6h0M36.3 52.2h0M18.7 49.3h0M10.0 52.5h0M32.9 53.6h0M11.0 61.0h0M30.0 54.2h0M34.9 51.5h0M14.4 55.7h0M38.9 62.0h0M43.7 55.5h0M33.6 51.5h0M60.9 56.2h0M28.3 49.8h0M24.3 53.2h0M19.4 55.5h0M36.8 55.5h0M32.4 56.3h0M39.7 56.9h0M75.0 81.3h0M75.9 71.2h0M68.2 77.1h0M65.7 76.4h0M67.4 69.6h0M67.3 67.0h0M72.1 78.9h0M72.5 77.6h0M74.1 79.8h0M61.4 70.7h0M64.5 63.0h0M66.2 56.3h0M66.6 75.9h0M63.3 70.2h0M66.7 72.2h0M71.4 66.0h0M62.4 71.2h0M69.1 79.2h0M75.6 83.5h0M77.4 76.8h0M61.7 73.6h0M68.4 81.9h0M68.2 57.7h0M55.7 60.3h0M68.2 80.2h0M131.4 69.7h0M125.2 65.9h0M132.1 70.9h0M130.3 80.4h0M136.0 80.3h0M125.9 90.9h0M134.4 64.1h0M126.7 80.2h0M126.6 90.1h0M124.7 68.3h0M132.9 72.0h0M128.8 70.7h0M122.6 67.7h0M137.5 86.9h0M129.5 78.2h0M128.5 55.2h0M126.7 55.3h0M138.4 66.7h0M130.5 60.5h0M129.7 67.4h0M130.2 69.7h0M148.9 73.2h0M133.4 67.3h0M137.5 55.1h0M120.9 78.2h0M107.1 72.9h0M119.5 66.3h0M148.0 89.0h0M132.8 91.6h0M125.8 82.2h0M132.4 70.2h0M132.1 72.6h0M129.7 64.0h0M131.2 76.9h0M133.0 81.5h0M119.1 64.3h0M142.6 72.3h0M126.2 77.3h0M117.1 81.0h0M125.4 73.0h0M130.2 75.0h0M132.1 83.1h0M140.2 77.8h0M123.9 92.0h0M143.4 82.3h0M117.6 82.1h0M125.3 72.2h0M128.8 82.7h0M128.2 65.2h0M129.4 81.1h0M126.1 65.2h0M118.5 80.6h0M138.9 65.5h0M137.8 68.9h0M139.7 61.8h0M131.4 67.9h0M135.9 62.5h0M122.7 75.9h0M124.9 65.6h0M120.0 81.0h0M128.8 69.3h0M137.7 75.1h0M132.2 68.3h0M149.0 70.9h0M122.5 94.7h0M126.8 66.0h0M133.7 80.8h0M114.1 92.3h0M141.6 76.5h0M138.7 68.1h0M127.7 72.5h0M141.6 77.6h0M130.4 70.1h0M118.3 91.4h0M140.0 72.9h0M141.5 58.7h0M131.7 72.0h0M124.3 76.6h0M128.0 71.9h0M131.1 82.0h0M128.0 52.6h0M123.6 77.3h0M129.9 75.3h0M123.1 85.6h0M134.3 55.5h0M131.9 92.8h0M139.1 51.3h0M122.5 65.8h0M128.8 84.6h0M114.8 86.0h0M129.6 72.0h0M143.5 70.2h0M122.9 77.0h0M127.1 70.8h0M117.6 70.3h0M126.5 81.4h0M129.9 83.2h0M122.5 73.2h0M132.3 74.7h0M129.1 76.2h0M121.6 89.0h0M118.0 69.0h0M145.9 84.1h0M124.1 82.8h0M121.8 71.6h0M130.5 91.8h0M136.5 84.7h0M128.4 78.9h0M124.0 81.2h0M115.2 77.6h0M126.8 80.1h0M135.9 72.0h0M128.5 71.6h0M128.9 85.7h0M131.4 69.8h0M137.1 67.4h0M138.5 84.0h0M128.7 85.8h0M136.4 77.6h0M130.5 77.3h0M124.3 86.3h0M124.6 95.4h0M138.8 74.5h0M129.0 90.0h0M124.4 59.1h0M118.3 64.4h0M136.0 85.2h0M143.0 74.4h0M154.1 76.1h0M133.8 85.9h0M130.7 79.3h0M125.1 82.9h0M118.6 96.2h0M127.8 88.5h0M135.7 74.5h0M119.6 80.8h0M132.7 76.8h0M131.3 76.8h0M135.0 65.5h0M127.5 77.3h0M140.7 81.2h0M114.1 90.8h0M138.4 72.9h0M129.6 79.1h0M129.6 72.6h0M117.0 68.8h0M135.7 76.2h0M122.6 78.9h0M126.1 91.9h0M144.6 73.5h0M121.5 74.7h0M126.5 73.2h0M122.0 73.6h0M133.8 68.5h0M145.3 67.5h0M121.3 77.8h0M131.3 86.8h0M136.6 85.3h0M127.1 83.0h0M130.7 82.7h0M130.7 75.4h0M150.7 74.3h0M116.7 81.6h0M130.2 79.9h0M136.3 65.8h0M126.6 60.5h0M128.6 63.7h0M147.9 82.7h0M131.9 84.7h0M116.8 85.0h0M131.2 88.4h0M132.6 84.3h0M127.3 77.6h0M131.3 65.2h0M128.3 75.9h0M135.5 85.4h0M123.2 86.6h0M124.3 70.5h0M129.6 63.1h0M119.8 66.3h0M128.5 85.7h0M119.5 74.7h0M138.4 63.7h0M123.4 58.5h0M123.8 71.5h0M134.5 69.6h0M131.3 76.3h0M133.2 73.1h0M126.4 74.4h0M128.2 70.5h0M113.3 77.1h0M120.0 87.4h0M133.7 89.9h0M136.5 62.4h0M124.4 78.4h0M128.5 72.7h0M119.6 81.0h0M116.9 75.5h0M128.7 86.0h0M130.1 95.8h0M129.7 66.7h0M131.2 80.0h0M135.7 88.6h0M135.4 79.6h0M115.8 66.9h0M133.1 64.5h0M135.4 69.1h0M125.0 92.8h0M121.4 72.7h0M116.3 84.6h0M137.8 66.3h0M112.7 72.1h0M129.0 55.7h0M129.7 84.3h0M129.5 73.8h0M119.7 75.5h0M125.8 70.8h0M138.4 84.3h0M131.6 63.9h0M133.9 85.8h0M131.3 78.5h0M131.1 80.5h0M119.4 77.7h0M123.3 88.7h0M125.4 83.7h0M124.1 71.0h0M139.5 59.2h0M132.7 89.8h0M140.7 87.0h0M140.9 88.6h0M124.8 73.9h0M133.4 81.8h0M128.1 82.7h0M124.0 82.3h0M121.1 76.3h0M129.9 66.5h0M139.0 88.6h0M132.1 78.6h0M123.2 88.0h0M128.5 93.8h0M121.9 87.0h0M122.3 67.3h0M136.7 73.5h0M125.2 84.0h0M124.1 60.0h0M120.5 70.9h0M124.0 64.1h0M125.7 94.1h0M146.6 65.8h0M125.0 66.0h0M127.0 83.9h0M132.0 74.9h0M138.1 58.4h0M132.9 63.0h0M129.5 68.0h0M130.9 74.8h0M111.9 63.2h0M130.2 73.9h0M124.6 93.2h0M116.7 76.5h0M149.5 88.9h0M137.5 76.8h0M168.9 75.7h0M118.4 83.4h0M130.4 81.8h0M164.8 87.9h0M148.9 65.5h0M124.9 63.1h0M123.9 69.7h0M145.1 67.0h0M149.2 67.5h0M138.0 72.7h0M171.5 57.3h0M96.1 80.7h0M104.6 87.6h0M139.2 74.8h0M136.5 79.5h0M146.4 82.6h0M130.9 94.2h0M133.9 56.5h0M127.7 63.2h0M152.6 67.4h0M135.1 70.1h0M138.8 45.6h0M159.9 63.5h0M123.4 70.4h0M142.7 73.7h0M124.5 69.9h0M154.9 77.9h0M122.0 61.5h0M168.0 82.7h0M139.6 76.8h0M125.6 73.7h0M143.2 57.8h0M146.9 73.1h0M144.8 61.4h0M140.3 67.0h0M128.0 74.4h0M126.3 71.4h0M136.3 86.4h0M122.4 80.1h0M126.4 68.4h0M117.2 56.1h0M135.7 70.8h0M140.7 82.8h0M137.1 87.9h0M150.4 76.7h0M139.8 72.2h0M130.3 75.4h0M132.6 79.8h0M148.9 65.6h0M125.8 67.4h0M121.6 78.0h0M139.6 41.5h0M148.2 56.6h0M129.4 75.7h0M139.4 71.2h0M122.0 85.9h0M146.1 60.4h0M131.6 90.8h0M167.1 64.9h0M138.3 72.8h0M136.9 55.4h0M168.5 82.1h0M143.6 63.6h0M122.2 66.3h0M134.5 70.8h0M144.9 80.8h0M130.8 78.7h0M126.3 73.6h0M132.6 46.0h0M144.1 80.5h0M147.8 82.4h0M104.7 79.7h0M111.9 84.8h0M139.4 74.8h0M127.0 84.1h0M130.1 73.4h0M116.4 63.2h0M144.8 79.7h0M159.2 71.2h0M147.1 63.2h0M145.1 50.6h0M128.8 67.3h0M125.7 64.3h0M147.9 69.0h0M112.8 79.7h0M168.4 88.0h0M120.9 74.2h0M147.8 73.9h0M100.0 151.4h0M96.6 93.8h0M65.7 174.7h0M136.7 33.0h0M58.1 132.1h0M170.8 54.0h0M92.5 54.3h0M115.4 144.9h0M5.7 54.5h0M189.7 88.6h0M103.2 40.3h0M22.6 17.0h0M102.2 165.8h0M1.9 49.5h0M72.8 176.5h0M52.9 131.2h0M94.8 173.1h0M30.9 13.8h0M59.0 25.3h0M143.2 43.0h0M69.4 125.5h0M32.4 49.3h0" fill="none" stroke="#d8404c" stroke-opacity="0.72" stroke-width="1.55" stroke-linecap="round"/></g>
<text transform="translate(1600.80 302.00) scale(1 1.040)" font-size="26.9" text-anchor="middle" fill="#00009c" stroke="#00009c" stroke-width="0.3">L6 CT 2</text>
<g transform="translate(1480.6 312.0)"><use href="#brain"/><path d="M61.0 101.2h0M65.4 88.4h0M68.0 78.5h0M60.0 66.0h0M51.0 65.0h0M50.6 122.3h0M60.6 64.3h0M54.3 139.7h0M64.4 71.4h0M66.7 63.3h0M63.1 93.4h0M57.7 112.0h0M58.4 101.0h0M60.5 72.7h0M51.0 121.0h0M63.3 105.6h0M58.8 104.6h0M57.2 117.8h0M55.3 63.4h0M52.5 65.2h0M61.8 102.0h0M66.8 82.0h0M56.6 63.2h0M57.6 123.5h0M54.9 63.8h0M62.3 90.6h0M57.0 130.5h0M66.2 84.9h0M61.0 92.9h0M56.4 132.8h0M59.6 101.7h0M67.9 76.9h0M67.0 75.4h0M57.4 87.9h0M49.3 69.9h0M55.0 130.7h0M56.8 128.8h0M58.6 67.1h0M50.3 126.7h0M64.8 72.7h0M58.0 75.9h0M46.7 66.8h0M64.9 75.2h0M50.4 120.7h0M60.0 97.9h0M55.8 128.6h0M53.7 129.8h0M54.9 142.8h0M59.2 121.1h0M62.7 75.7h0M52.6 70.8h0M59.2 85.2h0M58.1 65.3h0M54.5 125.9h0M60.9 97.2h0M61.0 89.7h0M59.1 82.9h0M59.6 119.4h0M56.6 128.5h0M52.3 135.1h0M55.7 144.2h0M60.3 91.0h0M64.9 90.1h0M44.5 65.2h0M69.6 63.2h0M51.2 65.5h0M57.1 130.8h0M53.4 142.1h0M56.9 140.5h0M59.8 70.9h0M59.6 122.7h0M63.8 71.6h0M57.4 75.4h0M57.6 119.1h0M67.6 75.0h0M54.5 132.3h0M60.0 108.7h0M51.2 127.3h0M51.0 138.9h0M57.6 112.8h0M59.5 65.1h0M49.1 64.9h0M64.3 68.5h0M61.5 104.5h0M67.3 67.6h0M51.3 64.5h0M58.1 84.5h0M65.9 86.6h0M55.4 127.2h0M62.7 77.5h0M51.5 133.1h0M61.6 80.7h0M60.5 66.6h0M57.5 94.4h0M54.8 118.2h0M53.4 135.2h0M54.2 121.3h0M53.8 120.4h0M66.7 77.6h0M54.4 139.3h0M58.8 90.1h0M58.6 75.4h0M53.2 135.0h0M59.7 106.1h0M52.5 131.3h0M59.3 99.0h0M55.0 125.6h0M52.4 140.8h0M57.3 104.0h0M57.1 109.5h0M52.1 67.6h0M58.5 82.9h0M62.6 82.2h0M67.4 74.8h0M49.1 66.2h0M60.7 118.9h0M58.9 76.0h0M61.4 84.4h0M63.2 70.0h0M57.9 101.9h0M55.5 147.0h0M54.5 116.0h0M57.7 84.9h0M61.3 95.1h0M61.9 98.1h0M51.5 123.9h0M60.0 110.6h0M62.7 72.6h0M57.9 110.9h0M58.8 101.2h0M64.0 70.7h0M57.1 115.0h0M62.1 87.2h0M48.0 63.7h0M61.7 81.4h0M55.3 126.8h0M60.8 69.8h0M53.1 117.1h0M51.4 142.2h0M61.7 97.2h0M57.2 128.2h0M53.0 130.6h0M58.0 75.0h0M59.8 107.7h0M72.1 63.5h0M63.8 72.3h0M66.0 77.9h0M52.6 140.0h0M66.3 69.5h0M56.5 116.9h0M59.9 111.9h0M53.7 132.9h0M59.1 123.0h0M57.3 71.6h0M63.3 85.3h0M53.6 139.9h0M60.0 65.3h0M42.7 71.3h0M58.3 98.0h0M55.2 141.7h0M61.2 66.9h0M62.6 66.4h0M60.9 109.1h0M63.9 80.8h0M59.3 106.6h0M50.7 141.8h0M60.9 63.2h0M63.0 67.4h0M64.2 71.5h0M53.2 125.3h0M53.0 136.9h0M50.8 127.1h0M58.0 70.0h0M55.8 120.6h0M58.6 120.9h0M52.4 117.3h0M58.9 101.6h0M50.4 127.1h0M58.5 84.4h0M46.6 72.0h0M67.3 66.2h0M57.1 91.1h0M65.0 67.3h0M63.6 112.5h0M62.9 72.3h0M51.8 122.0h0M52.6 123.9h0M59.9 98.6h0M65.8 65.9h0M54.7 116.7h0M58.3 88.0h0M62.7 71.0h0M62.8 76.9h0M59.1 75.3h0M55.0 124.1h0M52.3 120.5h0M53.5 67.6h0M58.6 108.2h0M43.8 64.7h0M52.5 71.9h0M50.5 139.3h0M53.1 140.5h0M57.4 143.4h0M57.2 84.1h0M65.8 73.0h0M57.2 108.4h0M61.0 73.1h0M53.4 119.9h0M52.6 134.1h0M51.9 141.4h0M57.3 122.0h0M56.8 123.6h0M66.8 81.7h0M65.3 85.4h0M60.9 67.4h0M54.3 136.5h0M62.9 85.3h0M62.5 78.9h0M68.5 64.4h0M58.7 79.9h0M56.6 143.2h0M65.0 82.6h0M57.5 86.3h0M58.1 127.7h0M48.5 64.4h0M59.1 105.4h0M51.9 64.7h0M51.9 130.4h0M59.8 137.7h0M66.3 80.7h0M56.9 139.6h0M54.5 116.0h0M61.0 74.7h0M67.4 74.9h0M61.8 71.4h0M62.9 98.8h0M65.1 82.1h0M62.0 72.2h0M54.3 145.8h0M50.2 124.2h0M51.6 71.1h0M58.0 85.1h0M61.2 68.3h0M60.1 118.3h0M58.4 101.9h0M65.3 70.2h0M65.1 73.2h0M58.6 111.4h0M59.2 118.6h0M57.3 71.8h0M70.4 65.5h0M56.6 128.7h0M59.0 97.7h0M58.2 91.3h0M51.9 67.2h0M51.9 132.7h0M59.0 74.8h0M67.1 67.9h0M56.0 133.7h0M55.6 121.3h0M61.3 77.6h0M58.6 109.0h0M61.4 100.6h0M60.9 99.2h0M61.8 75.4h0M56.3 123.4h0M60.1 71.7h0M65.8 87.4h0M60.8 78.5h0M60.9 64.0h0M110.2 115.4h0M104.4 161.2h0M112.2 154.1h0M119.5 116.5h0M109.0 117.9h0M103.8 108.4h0M109.6 107.1h0M101.9 144.2h0M112.9 127.5h0M112.5 161.6h0M111.0 110.5h0M116.1 97.5h0M110.0 90.2h0M106.6 154.7h0M99.6 150.3h0M105.7 136.2h0M111.0 154.2h0M111.4 112.6h0M109.9 132.5h0M113.2 121.4h0M105.0 135.4h0M108.3 103.6h0M100.6 126.3h0M119.0 142.7h0M105.6 157.6h0M115.5 148.9h0M112.9 136.2h0M118.2 115.2h0M117.2 128.9h0M116.2 106.7h0M118.7 93.3h0M128.4 90.9h0M106.1 119.9h0M112.1 165.3h0M116.5 145.1h0M113.3 97.2h0M105.0 145.6h0M104.4 115.1h0M106.4 160.0h0M115.7 105.7h0M116.2 98.6h0M100.0 155.4h0M114.3 132.6h0M103.9 153.0h0M110.5 117.3h0M103.0 130.4h0M119.7 94.6h0M111.8 147.5h0M119.6 100.5h0M103.8 141.5h0M106.2 117.9h0M127.8 91.7h0M106.2 131.9h0M107.5 134.5h0M105.9 129.6h0M100.7 130.7h0M104.9 152.7h0M118.2 140.8h0M107.0 109.2h0M114.7 116.9h0M115.9 113.7h0M113.6 143.0h0M109.1 113.9h0M119.3 143.1h0M105.7 121.1h0M106.9 114.9h0M109.5 105.6h0M105.5 147.1h0M109.5 146.2h0M109.0 141.8h0M108.3 93.6h0M117.3 124.5h0M116.7 96.9h0M110.4 154.1h0M106.0 130.5h0M110.6 91.3h0M115.1 94.7h0M113.1 156.6h0M112.2 138.2h0M99.4 161.7h0M112.2 143.6h0M102.5 140.0h0M111.0 124.0h0M102.8 135.9h0M111.8 99.7h0M103.8 122.6h0M96.7 160.4h0M112.3 140.2h0M125.7 92.8h0M106.2 163.2h0M112.8 135.0h0M109.5 114.2h0M114.0 127.5h0M98.5 156.6h0M102.7 131.4h0M107.5 117.7h0M118.6 127.5h0M119.9 94.0h0M118.4 94.0h0M102.1 134.9h0M105.3 152.5h0M110.1 139.7h0M115.5 103.4h0M109.6 135.9h0M112.8 134.4h0M101.1 145.2h0M118.9 144.9h0M112.1 109.5h0M114.2 121.9h0M128.9 95.5h0M100.2 158.8h0M112.0 100.4h0M108.3 145.9h0M106.3 122.8h0M106.1 122.0h0M110.2 100.0h0M118.8 139.9h0M120.0 96.6h0M103.9 116.5h0M112.7 138.5h0M110.6 126.9h0M110.1 140.6h0M108.0 164.4h0M112.3 141.2h0M109.5 115.9h0M117.7 132.4h0M104.8 111.7h0M106.7 154.2h0M114.7 91.4h0M114.9 101.1h0M116.0 139.3h0M106.5 126.8h0M110.2 146.5h0M95.4 155.3h0M115.9 120.1h0M110.7 106.9h0M118.1 95.9h0M118.3 150.0h0M106.3 136.6h0M112.6 121.1h0M102.3 152.8h0M106.4 145.9h0M117.4 95.5h0M108.4 96.8h0M105.8 140.2h0M104.5 138.5h0M113.6 124.8h0M117.3 137.6h0M112.4 92.5h0M113.1 112.2h0M112.5 142.3h0M111.6 157.7h0M117.1 98.6h0M118.5 138.1h0M111.0 100.8h0M117.6 137.4h0M119.2 92.9h0M112.5 118.3h0M109.6 140.3h0M117.8 135.8h0M112.9 163.3h0M117.3 98.0h0M107.9 97.4h0M101.2 147.8h0M106.3 156.9h0M115.3 124.1h0M113.1 145.1h0M114.6 92.7h0M116.6 113.6h0M108.1 147.4h0M118.6 139.9h0M106.7 163.0h0M115.4 93.2h0M106.6 98.1h0M100.4 144.2h0M111.0 129.0h0M122.7 94.7h0M106.6 148.5h0M116.8 86.6h0M100.1 157.7h0M112.9 116.7h0M113.8 121.0h0M104.1 144.1h0M115.6 123.7h0M100.7 126.0h0M104.7 127.0h0M113.3 100.8h0M112.2 161.9h0M104.6 128.8h0M124.9 95.2h0M113.3 128.8h0M115.0 146.8h0M106.0 157.0h0M116.4 115.2h0M110.9 129.8h0M132.8 95.0h0M101.8 146.6h0M110.0 156.9h0M111.1 119.4h0M108.4 158.4h0M112.6 103.8h0M118.1 120.3h0M109.6 139.2h0M108.6 122.2h0M115.8 106.2h0M120.0 123.4h0M116.7 112.2h0M111.8 157.2h0M118.3 135.4h0M104.1 135.8h0M111.6 86.3h0M112.3 164.0h0M105.9 115.8h0M108.2 105.2h0M119.8 91.0h0M110.9 148.8h0M112.7 125.3h0M112.7 97.8h0M105.1 153.8h0M117.6 136.1h0M120.1 122.2h0M110.2 102.4h0M106.9 103.0h0M99.0 145.1h0M120.4 94.6h0M104.8 155.7h0M105.8 90.8h0M115.5 119.1h0M102.8 141.1h0M105.1 140.0h0M117.1 145.3h0M110.0 127.7h0M106.9 160.4h0M103.8 138.0h0M111.5 96.0h0M105.2 137.3h0M110.0 93.9h0M110.5 128.9h0M119.9 133.2h0M104.8 106.2h0M103.8 150.0h0M117.5 128.9h0M103.9 138.7h0M106.4 118.5h0M114.5 145.7h0M106.2 123.6h0M110.2 124.6h0M115.0 147.9h0M115.5 131.5h0M109.9 154.6h0M119.3 102.5h0M113.0 113.5h0M111.6 125.7h0M124.0 91.3h0M119.9 96.1h0M104.2 131.3h0M99.8 127.6h0M110.2 103.8h0M111.1 153.1h0M119.1 103.4h0M116.5 110.1h0M124.7 91.2h0M113.5 96.3h0M105.4 116.2h0M103.8 145.5h0M111.4 155.0h0M116.6 133.0h0M131.7 92.9h0M100.9 136.0h0M118.6 100.8h0M94.7 170.1h0M66.4 155.5h0M63.4 163.8h0M59.7 160.2h0M108.4 163.7h0M88.8 157.5h0M101.0 167.1h0M89.2 181.9h0M56.5 149.9h0M61.9 173.1h0M59.4 169.5h0M72.6 149.1h0M87.8 170.4h0M104.9 171.1h0M102.6 48.0h0M66.9 61.7h0M65.9 4.5h0M63.1 78.5h0M91.8 154.7h0M144.9 35.7h0M11.6 52.3h0M120.3 31.6h0M172.5 77.0h0M52.7 42.0h0M108.9 105.7h0M162.4 64.2h0M100.4 142.5h0M156.5 88.8h0M35.9 51.4h0M133.8 62.4h0" fill="none" stroke="#d8404c" stroke-opacity="0.72" stroke-width="1.55" stroke-linecap="round"/></g>
<text transform="translate(218.30 552.00) scale(1 1.040)" font-size="26.9" text-anchor="middle" fill="#00009c" stroke="#00009c" stroke-width="0.3">L6 CT 3</text>
<g transform="translate(120.2 558.0)"><use href="#brain"/><path d="M62.9 80.9h0M60.3 76.9h0M58.8 71.3h0M67.9 57.7h0M63.0 77.7h0M71.9 59.9h0M72.9 53.4h0M59.5 80.8h0M60.5 88.4h0M60.2 74.7h0M70.3 76.1h0M57.8 85.1h0M61.6 74.1h0M67.5 53.1h0M60.9 67.9h0M66.0 77.8h0M66.3 61.4h0M64.1 82.0h0M60.4 79.0h0M69.0 70.4h0M67.7 82.2h0M67.7 56.8h0M67.2 55.1h0M66.3 60.8h0M59.6 57.3h0M68.1 73.4h0M61.2 85.2h0M59.9 60.4h0M67.1 69.2h0M57.6 89.3h0M58.5 83.6h0M61.5 88.8h0M65.3 72.4h0M59.3 71.5h0M64.3 84.7h0M63.2 52.8h0M63.5 87.1h0M63.8 63.1h0M63.4 81.3h0M64.4 77.2h0M66.7 78.9h0M66.0 77.2h0M63.6 75.4h0M67.3 66.2h0M64.3 87.4h0M69.7 59.9h0M65.3 55.7h0M62.5 88.1h0M72.4 57.6h0M64.9 73.2h0M71.7 58.5h0M64.5 85.4h0M68.9 69.2h0M64.8 81.4h0M63.3 92.6h0M57.6 83.0h0M62.5 85.9h0M62.5 88.2h0M63.9 78.2h0M69.6 70.4h0M69.4 71.4h0M60.3 91.0h0M61.5 85.5h0M64.5 95.4h0M66.2 84.9h0M52.5 125.6h0M65.2 88.5h0M56.2 126.3h0M57.1 92.3h0M59.8 93.7h0M55.9 125.9h0M53.5 131.8h0M55.6 119.1h0M59.8 93.1h0M52.9 126.7h0M57.0 130.0h0M54.2 141.9h0M52.3 121.8h0M53.6 133.5h0M58.1 88.1h0M58.0 95.9h0M50.8 139.0h0M58.5 119.5h0M59.2 106.2h0M60.4 91.8h0M52.5 146.4h0M50.5 129.0h0M54.5 127.6h0M62.1 92.4h0M57.5 114.7h0M55.8 132.5h0M63.7 87.9h0M50.5 139.3h0M54.3 121.1h0M56.6 140.9h0M50.9 119.9h0M55.8 124.1h0M54.5 138.3h0M59.4 91.5h0M50.9 132.3h0M61.0 99.8h0M58.3 120.3h0M56.0 125.7h0M59.3 84.8h0M53.0 131.4h0M126.3 86.2h0M131.0 73.9h0M120.4 89.4h0M116.7 82.2h0M115.3 91.1h0M106.0 126.8h0M112.7 92.0h0M118.4 103.2h0M125.1 89.3h0M119.6 90.3h0M117.5 109.9h0M115.4 73.1h0M106.4 116.3h0M115.9 124.5h0M114.6 92.7h0M113.4 77.1h0M102.0 129.7h0M107.6 98.6h0M118.8 118.5h0M116.2 99.2h0M116.6 120.3h0M125.9 90.9h0M106.4 108.5h0M104.8 114.1h0M108.1 131.0h0M126.7 78.1h0M107.2 107.6h0M119.8 80.7h0M113.9 110.1h0M111.0 79.1h0M110.1 123.3h0M116.9 72.8h0M119.9 109.0h0M105.4 124.8h0M120.9 84.1h0M113.5 100.8h0M120.9 87.6h0M107.3 126.5h0M128.2 84.8h0M102.6 110.3h0M112.7 103.4h0M129.5 84.0h0M130.0 86.7h0M103.4 121.6h0M107.1 92.5h0M108.6 86.5h0M106.9 101.8h0M119.6 87.8h0M120.5 89.6h0M104.2 124.4h0M112.3 70.2h0M110.4 73.6h0M117.3 78.5h0M111.4 83.3h0M129.9 80.0h0M107.2 120.0h0M116.2 89.1h0M118.1 92.5h0M102.7 121.5h0M112.4 104.3h0M113.7 102.0h0M124.9 81.6h0M114.0 128.7h0M106.1 103.0h0M116.2 103.7h0M107.3 83.0h0M114.7 91.4h0M126.1 75.3h0M117.8 112.4h0M115.8 111.3h0M103.8 110.8h0M124.8 79.3h0M111.6 83.6h0M132.9 73.1h0M101.0 129.7h0M132.1 75.6h0M111.8 123.4h0M108.2 110.4h0M107.9 75.3h0M116.5 69.9h0M110.7 151.9h0M103.5 131.4h0M100.9 135.0h0M113.1 152.1h0M102.5 125.6h0M115.7 139.1h0M105.0 155.7h0M108.9 147.2h0M110.0 149.7h0M114.5 141.8h0M109.8 135.6h0M101.1 125.0h0M109.8 152.0h0M104.1 134.7h0M103.2 140.5h0M96.7 143.3h0M105.5 134.6h0M105.2 161.3h0M112.0 133.7h0M106.1 160.4h0M97.2 143.7h0M104.4 132.3h0M117.6 131.8h0M97.9 131.6h0M111.5 124.7h0M101.0 148.2h0M100.3 146.2h0M114.3 145.9h0M108.3 128.9h0M111.4 141.1h0M100.0 141.4h0M117.4 130.6h0M110.7 129.6h0M107.2 154.2h0M116.5 122.2h0M107.6 162.6h0M114.1 147.1h0M115.3 140.1h0M106.9 139.2h0M116.2 144.5h0M107.9 133.2h0M111.4 146.5h0M101.5 128.2h0M109.4 142.5h0M111.3 131.3h0M99.8 147.9h0M96.1 130.6h0M113.9 150.4h0M104.9 141.5h0M101.9 153.1h0M113.9 137.4h0M101.0 134.5h0M109.2 147.2h0M118.3 126.2h0M117.4 150.3h0M111.9 135.3h0M111.3 138.0h0M110.8 153.9h0M99.1 148.5h0M105.5 147.6h0M105.6 134.1h0M112.5 142.3h0M113.2 136.4h0M114.6 127.2h0M119.9 135.5h0M98.7 154.0h0M109.5 126.7h0M110.6 142.0h0M106.1 132.0h0M105.3 142.0h0M103.5 139.2h0M102.0 142.2h0M114.0 143.4h0M105.3 153.4h0M104.2 127.4h0M108.5 143.3h0M103.5 130.1h0M107.0 138.9h0M118.9 144.6h0M103.4 149.5h0M116.5 129.1h0M102.4 136.7h0M107.2 133.7h0M110.3 138.6h0M115.9 140.2h0M109.5 135.4h0M99.3 148.2h0M111.0 155.1h0M115.2 129.6h0M104.4 139.3h0M111.6 151.7h0M103.0 132.3h0M116.1 139.8h0M110.3 148.6h0M102.6 130.8h0M83.3 9.6h0M74.9 123.4h0M21.0 16.3h0M136.5 24.6h0M179.1 51.9h0M187.5 62.2h0M88.4 85.2h0M53.1 32.2h0M62.4 9.7h0M50.4 116.0h0M89.1 47.5h0M80.6 82.8h0" fill="none" stroke="#d8404c" stroke-opacity="0.72" stroke-width="1.55" stroke-linecap="round"/></g>
<text transform="translate(448.90 552.00) scale(1 1.040)" font-size="26.9" text-anchor="middle" fill="#00009c" stroke="#00009c" stroke-width="0.3">L6 CT 4</text>
<g transform="translate(346.9 558.0)"><use href="#brain"/><path d="M43.5 70.4h0M55.2 68.6h0M55.8 63.8h0M61.7 68.9h0M48.4 71.6h0M51.3 70.7h0M51.9 70.9h0M48.9 68.2h0M52.9 68.5h0M60.0 67.3h0M56.5 65.8h0M49.1 65.7h0M57.2 72.6h0M48.5 68.5h0M54.1 64.7h0M52.2 67.3h0M52.8 70.8h0M55.6 71.3h0M46.4 69.8h0M57.3 66.8h0M60.7 57.2h0M67.2 61.0h0M57.8 72.0h0M55.0 116.2h0M62.6 78.4h0M58.6 97.6h0M65.1 83.2h0M57.1 110.9h0M60.5 63.3h0M61.9 96.8h0M57.6 120.7h0M62.6 54.3h0M65.5 82.1h0M58.6 90.4h0M63.1 80.4h0M65.7 64.1h0M57.8 87.7h0M56.1 117.0h0M63.5 69.5h0M63.1 87.8h0M64.9 73.9h0M60.3 68.2h0M64.8 77.9h0M64.1 61.6h0M58.0 74.0h0M66.4 60.3h0M57.1 79.6h0M58.8 116.3h0M65.3 71.4h0M64.8 84.4h0M110.5 110.6h0M114.9 108.2h0M120.3 119.0h0M107.3 146.2h0M112.4 152.1h0M118.7 105.2h0M115.3 135.2h0M114.7 138.7h0M118.8 138.8h0M116.9 128.0h0M119.8 150.5h0M109.1 156.3h0M109.3 145.3h0M114.2 109.1h0M111.8 135.7h0M107.9 159.6h0M116.3 132.6h0M113.0 134.3h0M117.0 129.8h0M113.9 118.7h0M116.6 117.5h0M113.4 163.2h0M117.2 140.1h0M119.6 141.0h0M106.0 145.7h0M111.6 146.7h0M118.3 101.7h0M113.1 141.1h0M117.6 107.7h0M113.2 104.9h0M113.4 120.9h0M109.4 142.9h0M109.5 125.9h0M109.4 141.3h0M112.6 111.3h0M118.7 98.6h0M111.0 145.5h0M113.4 164.1h0M108.5 148.7h0M108.9 155.9h0M125.9 95.3h0M131.2 89.9h0M129.2 94.7h0M132.1 94.3h0M132.6 93.2h0M131.0 95.4h0M131.7 93.6h0M15.0 46.5h0M61.9 2.1h0M132.5 56.4h0M90.0 153.6h0M133.4 41.6h0M182.4 64.8h0M44.6 22.3h0M104.5 31.7h0M69.5 51.5h0M75.8 136.3h0M96.4 148.7h0M74.2 95.2h0" fill="none" stroke="#d8404c" stroke-opacity="0.72" stroke-width="1.55" stroke-linecap="round"/></g>
<text transform="translate(675.30 552.00) scale(1 1.040)" font-size="26.9" text-anchor="middle" fill="#00009c" stroke="#00009c" stroke-width="0.3">L6 IT 1</text>
<g transform="translate(573.7 558.0)"><use href="#brain"/><path d="M20.8 41.8h0M24.7 45.2h0M40.1 30.5h0M27.7 49.0h0M10.1 52.9h0M11.3 37.8h0M7.9 50.0h0M34.5 40.3h0M20.9 48.4h0M17.6 40.2h0M58.4 37.0h0M6.8 54.2h0M36.2 45.0h0M52.4 31.8h0M44.0 42.6h0M1.2 51.7h0M38.7 47.4h0M44.2 40.7h0M20.4 46.3h0M30.9 47.0h0M13.3 40.5h0M48.1 40.7h0M24.6 43.3h0M65.7 31.2h0M40.9 41.3h0M3.0 50.6h0M59.8 28.2h0M15.1 48.7h0M8.0 61.1h0M37.4 43.2h0M25.6 34.1h0M47.5 34.8h0M37.5 45.5h0M7.9 45.0h0M48.0 35.7h0M25.2 46.0h0M18.9 56.6h0M6.1 47.1h0M27.5 35.5h0M24.2 49.5h0M17.5 42.9h0M61.9 36.9h0M1.8 47.5h0M38.4 32.7h0M15.3 52.9h0M10.0 43.8h0M56.9 33.1h0M12.0 39.4h0M64.3 31.2h0M28.8 42.9h0M60.8 32.8h0M4.6 42.0h0M52.2 39.9h0M61.9 29.1h0M43.6 28.2h0M24.1 42.4h0M32.6 37.7h0M17.1 53.0h0M57.9 36.4h0M34.9 47.3h0M36.5 44.6h0M25.6 30.7h0M13.1 35.6h0M41.9 36.1h0M22.6 45.5h0M2.0 52.3h0M38.1 41.4h0M35.5 32.9h0M1.4 54.5h0M24.6 33.0h0M55.8 26.3h0M12.2 53.4h0M42.0 29.0h0M2.7 43.6h0M23.5 40.2h0M46.9 32.8h0M24.0 41.3h0M41.0 36.4h0M60.1 34.2h0M52.9 32.4h0M52.0 29.7h0M54.7 36.9h0M28.6 47.5h0M54.8 36.7h0M3.6 54.1h0M20.2 38.4h0M2.9 52.9h0M12.1 42.4h0M58.9 31.1h0M24.1 44.7h0M13.7 41.3h0M14.4 50.4h0M6.7 52.8h0M38.8 45.0h0M39.2 29.6h0M50.6 36.5h0M42.3 47.4h0M10.8 39.3h0M52.8 41.9h0M31.4 38.9h0M54.9 34.2h0M43.2 36.4h0M19.5 46.7h0M23.0 40.9h0M48.2 32.4h0M38.7 47.8h0M37.8 36.4h0M13.4 49.6h0M7.7 59.0h0M8.3 51.7h0M21.3 50.4h0M47.9 36.4h0M41.6 31.9h0M31.6 46.9h0M38.2 31.9h0M45.6 34.2h0M30.5 33.2h0M32.3 31.4h0M52.9 36.5h0M53.8 38.0h0M44.7 36.3h0M53.0 42.4h0M7.9 57.2h0M29.4 35.4h0M10.1 53.4h0M30.1 45.2h0M11.2 44.0h0M29.8 33.9h0M48.0 42.0h0M57.1 35.6h0M27.2 36.9h0M12.2 51.3h0M13.5 51.6h0M30.5 33.1h0M56.1 41.3h0M28.2 44.1h0M33.9 43.5h0M37.7 46.4h0M27.2 50.6h0M19.6 46.5h0M69.2 30.9h0M34.4 34.2h0M37.9 39.4h0M24.6 31.7h0M3.7 49.7h0M14.6 39.0h0M17.3 49.7h0M64.0 31.7h0M21.9 44.3h0M18.9 46.7h0M10.0 49.4h0M22.2 39.2h0M25.0 32.2h0M53.5 30.9h0M1.6 45.0h0M36.0 42.7h0M2.8 40.9h0M13.7 49.4h0M22.2 36.7h0M15.2 40.9h0M38.3 33.2h0M31.7 43.7h0M58.4 34.4h0M32.6 39.6h0M21.6 31.1h0M70.2 29.0h0M42.6 42.5h0M30.4 33.7h0M33.0 46.0h0M29.5 43.5h0M152.0 69.7h0M158.4 72.5h0M148.6 64.8h0M135.2 56.7h0M156.4 79.8h0M146.4 71.1h0M148.5 71.8h0M139.7 61.4h0M149.8 73.7h0M148.1 73.3h0M153.7 66.4h0M143.0 57.9h0M147.4 73.3h0M158.0 73.5h0M144.9 62.4h0M141.9 68.9h0M135.6 56.1h0M134.8 61.9h0M135.9 59.6h0M135.1 56.1h0M156.1 75.6h0M164.0 75.6h0M147.9 68.7h0M159.8 79.2h0M158.9 76.6h0M157.0 80.6h0M135.7 57.8h0M154.4 72.9h0M139.0 54.8h0M151.5 71.3h0M135.1 59.8h0M140.9 60.9h0M137.9 61.7h0M149.3 74.0h0M154.9 76.9h0M137.6 54.4h0M155.3 76.2h0M163.4 74.2h0M157.1 72.9h0M150.4 69.4h0M136.2 64.6h0M154.1 73.8h0M145.8 63.1h0M154.3 72.3h0M145.9 65.8h0M147.7 75.5h0M149.4 71.6h0M155.0 67.9h0M135.1 61.0h0M149.1 67.4h0M141.7 71.8h0M155.3 73.5h0M142.6 66.5h0M136.5 62.4h0M152.3 76.1h0M70.7 55.0h0M42.9 1.9h0M110.8 113.1h0M70.5 95.4h0M71.4 141.7h0M63.3 19.6h0M65.6 105.7h0M107.8 101.5h0M103.2 51.0h0M10.0 25.4h0M72.2 175.2h0M85.3 78.8h0M77.2 106.9h0M86.8 70.8h0M179.6 57.7h0" fill="none" stroke="#d8404c" stroke-opacity="0.72" stroke-width="1.55" stroke-linecap="round"/></g>
<text transform="translate(906.50 552.00) scale(1 1.040)" font-size="26.9" text-anchor="middle" fill="#00009c" stroke="#00009c" stroke-width="0.3">L6 IT 2</text>
<g transform="translate(800.4 558.0)"><use href="#brain"/><path d="M74.5 49.1h0M65.6 50.6h0M59.1 43.3h0M49.4 51.4h0M45.8 59.5h0M70.9 39.8h0M57.6 53.3h0M43.3 61.0h0M48.4 71.8h0M59.6 53.9h0M48.7 51.4h0M68.2 44.9h0M45.5 56.8h0M75.5 58.4h0M42.6 43.0h0M64.6 51.6h0M53.9 51.2h0M73.2 66.2h0M48.0 53.5h0M75.8 55.4h0M70.9 58.0h0M62.8 47.4h0M67.7 44.8h0M78.9 49.8h0M50.7 41.6h0M50.9 53.8h0M58.8 45.5h0M32.0 56.1h0M52.9 54.8h0M57.7 47.2h0M65.6 54.3h0M57.9 60.9h0M46.3 54.2h0M38.2 56.1h0M60.5 42.7h0M66.4 55.8h0M71.6 48.3h0M29.7 53.8h0M62.4 61.5h0M89.9 42.5h0M47.6 39.5h0M28.6 44.8h0M60.4 41.5h0M36.1 47.5h0M84.6 55.9h0M35.2 32.3h0M71.1 45.9h0M67.9 55.7h0M50.8 47.8h0M76.3 49.8h0M59.9 42.8h0M40.8 43.6h0M55.7 54.6h0M65.2 49.0h0M69.4 56.3h0M48.5 56.8h0M59.9 56.4h0M41.9 47.6h0M50.3 52.0h0M61.5 45.4h0M50.9 48.2h0M71.6 53.7h0M65.8 59.3h0M53.7 42.3h0M32.6 63.6h0M47.6 64.0h0M62.5 47.1h0M48.0 58.5h0M57.3 44.0h0M64.1 42.0h0M58.5 57.7h0M32.3 48.4h0M60.0 63.0h0M55.8 55.8h0M55.0 67.9h0M68.8 53.7h0M36.3 40.5h0M46.6 51.4h0M37.2 50.6h0M80.5 36.2h0M39.5 56.6h0M87.7 47.8h0M67.2 50.7h0M66.9 46.7h0M52.4 45.0h0M54.9 49.1h0M59.8 63.8h0M54.5 39.6h0M54.5 64.6h0M68.7 63.1h0M57.4 54.1h0M66.1 53.3h0M42.1 44.8h0M59.4 53.3h0M43.8 57.1h0M79.2 41.5h0M60.9 55.4h0M70.9 63.7h0M51.7 55.8h0M42.8 58.9h0M39.0 49.6h0M71.5 63.0h0M76.1 48.5h0M50.7 53.0h0M44.9 52.1h0M56.2 63.6h0M56.3 54.0h0M82.7 52.7h0M86.2 49.5h0M66.6 41.4h0M33.4 50.4h0M11.0 44.1h0M12.8 57.2h0M24.5 57.7h0M11.5 37.9h0M1.1 49.2h0M45.5 56.8h0M20.4 46.9h0M6.2 53.0h0M32.8 50.5h0M38.7 47.0h0M26.3 41.2h0M19.2 42.2h0M15.7 41.0h0M20.1 54.3h0M32.9 58.8h0M30.3 57.5h0M34.9 54.3h0M17.9 49.0h0M10.6 56.6h0M31.2 50.0h0M27.9 57.9h0M36.7 60.7h0M19.3 48.3h0M44.5 43.2h0M19.4 52.9h0M15.8 52.2h0M23.8 53.4h0M8.1 55.3h0M25.2 47.1h0M47.3 46.2h0M46.4 53.0h0M12.4 46.8h0M36.6 51.5h0M16.2 50.6h0M40.2 61.7h0M26.4 59.2h0M39.6 53.5h0M15.1 51.2h0M51.3 39.7h0M36.7 43.9h0M17.7 59.1h0M30.3 61.0h0M31.3 53.8h0M15.9 43.9h0M44.3 62.9h0M45.2 54.9h0M30.2 61.9h0M44.5 44.0h0M31.1 52.2h0M76.5 48.4h0M73.5 44.3h0M67.6 49.5h0M72.8 67.6h0M71.0 80.9h0M75.0 53.1h0M60.1 84.3h0M70.8 78.6h0M73.8 73.2h0M64.7 40.1h0M71.0 81.9h0M74.0 68.7h0M57.6 70.3h0M71.4 57.2h0M70.4 81.7h0M68.3 71.8h0M69.5 78.4h0M70.2 92.5h0M74.8 57.7h0M69.1 85.2h0M78.9 38.7h0M67.7 63.3h0M65.4 89.2h0M62.4 89.3h0M74.6 49.4h0M65.4 96.1h0M59.8 90.6h0M65.9 63.2h0M72.4 54.8h0M62.8 65.7h0M72.9 73.6h0M69.6 95.8h0M72.4 87.9h0M58.6 90.0h0M73.6 66.6h0M66.7 59.6h0M78.0 49.6h0M68.6 39.1h0M61.1 92.2h0M63.9 49.8h0M115.4 88.2h0M125.8 58.8h0M109.3 94.3h0M127.4 93.9h0M110.4 50.7h0M113.5 44.6h0M115.9 61.5h0M117.1 98.6h0M119.0 65.2h0M118.9 91.1h0M121.6 79.6h0M109.2 87.6h0M126.1 50.6h0M112.1 97.7h0M119.8 76.7h0M122.8 90.4h0M112.6 52.7h0M115.1 67.5h0M118.0 66.2h0M128.5 62.1h0M115.5 104.1h0M111.9 46.6h0M121.3 53.6h0M130.5 66.9h0M116.0 65.1h0M124.5 74.7h0M114.8 42.7h0M119.2 83.0h0M105.1 77.6h0M108.9 102.4h0M107.9 79.7h0M127.5 48.7h0M119.9 110.1h0M108.8 99.6h0M112.0 59.2h0M108.7 54.8h0M120.9 50.7h0M121.5 41.7h0M107.3 98.6h0M132.2 61.8h0M123.6 54.9h0M117.1 46.9h0M113.4 67.9h0M113.2 57.9h0M127.6 48.9h0M128.6 63.4h0M111.4 80.4h0M103.8 100.1h0M113.1 101.3h0M124.9 80.8h0M103.3 96.1h0M104.6 101.6h0M105.6 97.9h0M118.5 95.6h0M119.9 96.1h0M103.8 94.9h0M117.1 77.2h0M119.9 92.4h0M123.1 76.6h0M110.9 80.4h0M118.0 69.9h0M119.8 84.2h0M110.1 77.3h0M119.3 75.9h0M115.9 98.1h0M114.9 60.9h0M131.3 86.9h0M131.7 65.5h0M123.9 91.4h0M116.4 51.4h0M116.2 89.6h0M119.0 100.5h0M123.4 47.4h0M124.6 43.4h0M107.3 83.9h0M118.9 105.4h0M113.2 49.5h0M120.8 94.3h0M117.2 47.0h0M106.1 100.0h0M126.0 81.0h0M126.4 74.8h0M129.8 68.2h0M106.4 83.6h0M115.1 91.3h0M121.4 51.1h0M114.6 76.9h0M127.9 86.5h0M116.6 97.2h0M107.4 76.4h0M119.7 102.9h0M114.5 58.5h0M110.5 72.4h0M119.5 53.9h0M121.1 76.4h0M137.8 60.3h0M127.4 39.8h0M147.1 69.8h0M129.9 48.0h0M157.7 69.6h0M147.1 61.4h0M147.8 62.6h0M136.4 58.1h0M156.9 68.3h0M133.6 58.7h0M151.0 72.6h0M133.5 55.5h0M138.0 55.4h0M145.8 70.7h0M152.8 67.5h0M148.7 63.4h0M136.0 60.2h0M150.3 82.7h0M137.7 58.4h0M144.1 75.1h0M145.1 63.6h0M150.5 77.2h0M142.7 53.6h0M128.9 47.1h0M138.3 57.1h0M154.2 68.5h0M147.0 74.1h0M133.8 53.6h0M146.0 73.5h0M146.2 75.3h0M151.2 70.7h0M146.3 64.0h0M146.2 65.9h0M139.6 72.0h0M144.1 81.6h0M131.2 55.5h0M144.1 57.8h0M143.4 86.5h0M154.3 74.2h0M150.0 71.2h0M144.3 79.2h0M153.9 67.8h0M145.6 59.4h0M143.3 84.2h0M141.4 78.3h0M89.2 178.9h0M108.5 163.6h0M60.1 155.4h0M95.3 161.5h0M64.4 161.8h0M61.2 176.2h0M59.2 148.2h0M101.8 180.8h0M68.5 151.3h0M65.4 174.5h0M58.4 153.1h0M113.1 152.1h0M98.5 177.3h0M63.4 182.5h0M106.0 175.7h0M58.3 184.8h0M17.7 34.6h0M146.6 47.9h0M1.7 24.6h0M61.8 48.4h0M74.9 128.6h0M173.0 87.3h0M24.8 26.1h0M19.4 39.7h0M14.2 14.4h0M158.4 84.6h0M62.6 76.3h0M161.2 85.8h0M26.1 36.7h0M83.2 107.4h0M116.2 54.0h0" fill="none" stroke="#d8404c" stroke-opacity="0.72" stroke-width="1.55" stroke-linecap="round"/></g>
<text transform="translate(213.50 832.90) scale(1 1.040)" font-size="26.9" text-anchor="middle" fill="#96147a" stroke="#96147a" stroke-width="0.3">Lamp5 1</text>
<g transform="translate(125.8 849.7)"><use href="#brain"/><path d="M160.7 53.2h0M119.8 31.4h0M83.4 97.0h0M101.5 82.9h0M161.1 52.1h0M140.6 40.7h0M40.5 12.0h0M68.1 143.7h0M90.3 173.5h0M102.5 32.5h0M146.4 46.7h0M22.7 5.0h0M189.5 60.6h0M58.5 15.4h0M88.9 16.1h0M83.3 175.2h0M72.8 177.7h0M55.1 3.1h0M55.2 15.8h0M95.8 64.0h0M108.1 43.1h0M96.5 36.4h0M129.4 25.2h0M187.6 82.4h0M142.9 26.2h0M12.9 16.8h0M69.5 168.0h0M71.7 3.8h0M131.1 32.9h0M43.9 5.1h0M86.3 48.1h0M86.0 64.9h0M178.6 71.0h0M99.7 68.6h0M185.8 59.6h0M80.4 7.1h0M13.8 8.0h0M3.1 30.5h0M89.7 125.9h0M91.7 148.5h0M44.7 43.5h0M13.0 39.3h0M16.9 41.9h0M65.3 5.1h0M95.0 170.6h0M108.0 151.7h0M73.0 95.4h0M109.6 20.3h0M108.6 26.8h0M101.9 157.4h0M58.5 95.2h0M112.2 30.9h0M46.5 30.0h0M173.2 81.3h0M167.2 46.5h0M95.8 110.6h0M153.7 49.2h0M137.0 29.6h0M8.4 43.5h0M70.8 78.7h0M64.1 111.3h0M163.5 88.9h0M102.5 171.2h0M83.0 11.7h0M144.2 41.8h0M87.4 81.6h0M114.0 111.0h0M95.0 133.2h0M105.1 155.6h0M108.0 141.9h0M79.5 48.2h0M124.4 44.5h0" fill="none" stroke="#d8404c" stroke-opacity="0.72" stroke-width="1.80" stroke-linecap="round"/></g>
<text transform="translate(443.50 832.90) scale(1 1.040)" font-size="26.9" text-anchor="middle" fill="#96147a" stroke="#96147a" stroke-width="0.3">Lamp5 2</text>
<g transform="translate(351.3 849.7)"><use href="#brain"/><path d="M73.2 175.3h0M48.3 56.9h0M147.4 62.9h0M153.0 70.7h0M50.1 33.4h0M132.4 87.6h0M74.4 9.3h0M109.9 158.8h0M119.0 135.0h0M43.1 2.8h0M164.4 72.6h0M56.5 33.3h0M116.4 55.2h0M134.5 68.1h0M18.4 57.1h0M184.4 66.2h0M3.8 45.9h0M110.1 67.5h0M60.2 172.5h0M120.9 55.5h0M26.6 59.5h0M57.9 8.9h0" fill="none" stroke="#d8404c" stroke-opacity="0.72" stroke-width="1.80" stroke-linecap="round"/></g>
<text transform="translate(672.50 832.90) scale(1 1.040)" font-size="26.9" text-anchor="middle" fill="#96147a" stroke="#96147a" stroke-width="0.3">Lamp5 3</text>
<g transform="translate(576.8 849.7)"><use href="#brain"/><path d="M48.6 7.4h0M23.9 6.4h0M10.6 15.3h0M10.2 13.9h0M81.5 3.3h0M51.4 2.5h0M41.6 3.8h0M58.9 6.3h0M44.7 2.0h0M65.8 1.2h0M88.9 7.7h0M25.3 9.1h0M22.6 10.6h0M34.5 4.5h0M71.1 6.1h0M91.2 10.4h0M70.5 6.3h0M44.9 9.5h0M89.7 12.6h0M43.5 9.3h0M38.2 9.2h0M90.4 12.7h0M87.0 5.3h0M77.2 9.9h0M74.6 7.4h0M105.2 41.0h0M137.3 26.8h0M90.1 95.8h0M151.7 34.6h0M109.4 24.9h0M121.2 21.5h0M169.1 48.0h0M128.0 18.7h0M141.0 25.6h0M192.0 70.2h0M148.3 30.2h0M124.5 21.0h0M100.1 67.8h0M89.1 106.1h0M177.6 56.9h0M132.9 25.9h0M141.5 23.4h0M159.8 40.2h0M109.9 26.0h0M98.7 63.1h0M139.7 29.7h0M109.6 20.2h0M100.3 42.6h0M113.5 20.4h0M105.5 29.1h0M186.5 67.1h0M116.9 20.6h0M102.5 49.5h0M91.4 97.8h0M96.4 64.6h0M185.3 68.7h0M92.7 100.1h0M95.1 90.8h0M103.5 34.0h0M158.1 35.7h0M107.0 34.9h0M92.3 102.5h0M156.9 41.4h0M122.9 20.0h0M104.6 49.3h0M126.6 20.6h0M101.1 49.0h0M89.5 100.1h0M94.2 102.9h0M117.5 21.1h0M183.9 64.6h0M140.6 28.3h0M138.3 24.8h0M91.3 100.2h0M136.8 26.6h0M116.8 21.9h0M103.7 33.9h0M148.1 35.4h0M178.7 53.4h0M143.2 31.6h0M163.6 40.4h0M95.0 142.6h0M105.4 164.5h0M20.2 28.3h0M120.1 110.2h0M71.3 122.0h0M159.2 65.3h0M104.3 43.9h0M77.4 20.0h0M26.3 8.2h0M12.6 22.0h0M117.8 47.3h0M105.2 175.2h0M139.4 87.5h0M29.0 53.0h0" fill="none" stroke="#d8404c" stroke-opacity="0.72" stroke-width="1.80" stroke-linecap="round"/></g>
<text transform="translate(897.20 832.90) scale(1 1.040)" font-size="26.9" text-anchor="middle" fill="#96147a" stroke="#96147a" stroke-width="0.3">Pvalb 1</text>
<g transform="translate(802.3 849.7)"><use href="#brain"/><path d="M71.8 5.5h0M54.8 36.7h0M10.8 44.3h0M27.5 20.9h0M55.4 26.8h0M69.3 7.9h0M29.5 51.7h0M53.6 0.6h0M78.5 6.0h0M35.6 39.6h0M25.0 11.8h0M23.0 38.6h0M81.9 17.2h0M32.2 17.9h0M72.9 11.0h0M0.9 20.5h0M16.5 11.0h0M84.8 10.3h0M7.8 44.8h0M14.2 55.4h0M8.2 50.7h0M58.8 4.1h0M68.7 3.3h0M21.4 11.2h0M87.5 17.4h0M30.4 47.0h0M56.1 27.3h0M32.0 43.9h0M24.8 26.0h0M44.8 19.7h0M12.5 56.4h0M7.9 53.1h0M11.0 51.9h0M30.3 17.9h0M6.9 35.9h0M9.3 55.8h0M35.7 4.1h0M67.0 7.8h0M9.5 46.0h0M50.9 7.5h0M46.1 26.6h0M23.9 10.7h0M7.9 35.6h0M28.0 31.1h0M24.3 49.5h0M22.8 15.8h0M47.1 10.6h0M62.4 34.4h0M55.2 31.6h0M17.9 33.2h0M17.8 38.6h0M39.4 40.1h0M33.2 36.9h0M51.7 29.3h0M39.2 8.4h0M8.3 26.2h0M47.1 5.9h0M17.1 53.0h0M59.8 36.6h0M57.6 39.8h0M16.7 35.1h0M68.0 13.7h0M31.7 13.7h0M84.1 12.3h0M43.4 15.6h0M30.6 41.0h0M80.0 10.5h0M43.0 37.6h0M15.8 46.1h0M86.8 13.8h0M79.9 19.0h0M45.4 43.8h0M19.8 6.6h0M52.2 12.9h0M60.4 31.6h0M19.7 57.5h0M5.3 30.3h0M41.7 38.5h0M19.5 43.2h0M15.4 28.9h0M7.1 49.4h0M2.7 45.1h0M56.1 7.5h0M32.8 42.4h0M52.2 12.4h0M24.8 35.8h0M36.4 45.8h0M48.9 36.3h0M61.6 22.3h0M30.3 35.6h0M83.6 19.9h0M6.9 11.2h0M20.0 57.5h0M30.9 30.1h0M9.1 12.4h0M0.8 23.1h0M73.3 21.2h0M27.3 37.3h0M71.1 14.9h0M37.1 33.3h0M52.2 43.8h0M27.0 29.0h0M4.7 35.0h0M44.6 42.8h0M4.4 23.2h0M22.3 19.1h0M9.4 60.8h0M46.5 5.7h0M20.9 45.7h0M86.2 10.4h0M0.4 27.2h0M7.7 40.0h0M32.1 18.7h0M21.1 21.8h0M45.6 25.0h0M27.8 8.9h0M10.6 34.0h0M39.1 22.7h0M62.0 17.7h0M1.2 42.2h0M79.6 16.0h0M23.8 38.6h0M9.1 45.9h0M52.9 5.7h0M49.3 20.8h0M53.8 25.6h0M38.3 6.6h0M13.7 18.2h0M14.0 36.4h0M45.7 25.7h0M191.7 87.9h0M159.0 42.2h0M175.1 54.7h0M164.1 49.9h0M127.0 42.8h0M189.7 80.1h0M170.7 48.4h0M135.0 47.2h0M141.4 35.5h0M160.3 77.8h0M138.4 42.4h0M151.2 54.9h0M182.9 54.5h0M153.2 51.4h0M165.0 40.5h0M190.6 74.3h0M173.5 53.8h0M160.1 45.4h0M154.3 66.2h0M167.6 56.6h0M146.4 60.5h0M156.0 44.0h0M167.4 54.2h0M159.8 69.6h0M164.3 54.9h0M173.1 83.5h0M168.2 64.4h0M125.4 38.5h0M133.3 28.8h0M146.5 39.8h0M132.5 45.1h0M162.2 71.3h0M142.4 68.9h0M174.3 80.7h0M130.6 47.2h0M151.7 42.2h0M178.3 68.8h0M158.5 47.8h0M155.8 40.2h0M136.6 41.1h0M120.0 25.9h0M156.7 62.0h0M138.7 62.5h0M151.0 64.8h0M173.2 73.1h0M148.5 84.7h0M175.6 63.1h0M178.2 88.1h0M122.8 27.7h0M125.4 38.5h0M164.6 74.6h0M188.4 68.8h0M125.2 29.6h0M160.2 85.9h0M145.4 73.0h0M183.3 84.1h0M136.0 49.9h0M147.9 55.7h0M120.5 24.0h0M161.4 56.6h0M136.0 52.7h0M134.2 23.2h0M142.9 73.6h0M139.8 27.7h0M153.5 66.3h0M134.2 55.4h0M176.7 59.4h0M144.2 38.5h0M183.1 61.6h0M168.6 64.6h0M180.7 61.6h0M123.3 38.8h0M136.5 48.2h0M130.5 28.0h0M178.8 52.9h0M176.1 81.2h0M132.3 24.5h0M149.0 81.2h0M149.4 63.6h0M129.6 28.8h0M177.4 55.5h0M183.3 68.0h0M136.6 58.9h0M142.5 30.9h0M171.6 75.2h0M151.5 44.9h0M153.0 54.3h0M137.1 61.0h0M150.0 77.4h0M127.0 36.5h0M119.4 139.2h0M17.2 43.5h0M103.0 50.9h0M125.2 24.1h0M180.3 80.1h0M86.7 139.7h0M73.2 100.4h0M159.1 45.1h0M75.3 84.0h0M108.2 35.4h0M140.8 73.0h0M31.5 8.2h0M48.0 47.8h0M122.7 22.3h0M147.4 68.1h0M63.5 98.1h0M105.4 49.1h0M81.8 78.4h0M111.2 123.3h0M132.5 40.8h0M64.2 96.0h0M83.6 147.1h0M59.9 11.8h0M119.2 38.9h0M61.5 134.0h0" fill="none" stroke="#d8404c" stroke-opacity="0.72" stroke-width="1.80" stroke-linecap="round"/></g>
<text transform="translate(1126.70 832.90) scale(1 1.040)" font-size="26.9" text-anchor="middle" fill="#96147a" stroke="#96147a" stroke-width="0.3">Pvalb 2</text>
<g transform="translate(1027.8 849.7)"><use href="#brain"/><path d="M146.4 65.6h0M36.1 7.8h0M25.0 46.3h0M129.3 26.5h0M56.2 3.6h0M79.0 16.7h0M18.6 57.5h0M85.0 12.3h0M83.5 15.2h0M27.4 36.9h0M140.8 40.6h0M52.6 31.2h0M66.1 8.0h0M170.0 49.4h0M153.2 51.4h0M141.8 32.3h0M66.2 2.8h0M11.4 57.3h0M154.1 51.7h0M153.7 64.8h0M10.8 42.6h0M189.0 68.0h0M4.9 38.9h0M58.5 36.7h0M30.1 40.2h0M28.6 41.2h0M0.4 21.1h0M51.7 36.0h0M172.8 59.9h0M168.9 76.4h0M54.5 23.4h0M4.6 10.0h0M62.4 31.4h0M22.4 19.2h0M137.8 62.7h0M49.1 6.0h0M178.7 76.8h0M121.6 35.0h0M57.4 24.2h0M36.8 22.6h0M154.4 78.5h0M177.8 79.8h0M9.4 10.7h0M19.6 50.2h0M22.2 57.4h0M151.0 42.4h0M12.3 47.1h0M188.0 68.5h0M138.8 74.5h0M27.7 49.0h0M54.7 8.6h0M192.3 80.4h0M149.5 55.2h0M85.7 8.3h0M118.9 28.1h0M114.1 25.3h0M154.3 53.7h0M21.4 53.1h0M163.2 68.1h0M53.9 11.3h0M180.6 68.2h0M80.1 120.1h0M39.3 28.4h0M79.9 126.8h0M57.7 168.1h0M58.3 6.1h0M83.2 31.6h0M148.4 38.0h0M97.3 164.5h0M79.7 80.4h0M104.1 80.4h0M109.7 42.8h0M82.6 32.5h0M92.9 165.6h0M93.1 117.6h0M68.3 69.3h0M150.9 77.5h0M94.9 134.9h0M53.8 10.5h0M117.0 125.1h0M27.3 50.4h0M103.5 168.9h0M67.2 64.9h0M132.3 35.4h0M12.3 53.1h0M118.4 51.9h0M10.3 38.6h0M59.3 55.0h0M94.2 171.8h0M111.8 163.9h0" fill="none" stroke="#d8404c" stroke-opacity="0.72" stroke-width="1.80" stroke-linecap="round"/></g>
<text transform="translate(1355.60 832.90) scale(1 1.040)" font-size="26.9" text-anchor="middle" fill="#96147a" stroke="#96147a" stroke-width="0.3">Pvalb 3</text>
<g transform="translate(1253.3 849.7)"><use href="#brain"/><path d="M79.1 59.3h0M63.4 57.8h0M63.3 46.8h0M119.2 92.7h0M69.9 156.9h0M71.4 144.2h0M94.7 93.8h0M67.9 113.0h0M67.3 70.6h0M111.4 81.3h0M104.2 170.7h0M117.0 146.9h0M126.4 68.3h0M72.5 77.8h0M112.1 65.9h0M122.6 68.9h0M116.2 82.3h0M52.2 131.8h0M92.8 142.1h0M69.3 108.2h0M103.0 106.9h0M92.4 136.5h0M74.8 105.0h0M68.4 98.0h0M98.7 135.5h0M114.5 116.0h0M97.1 133.3h0M78.5 72.0h0M109.7 126.0h0M128.0 62.9h0M65.6 127.8h0M108.3 122.8h0M67.4 140.7h0M110.4 130.5h0M104.5 161.9h0M111.6 115.4h0M85.1 151.1h0M55.0 67.9h0M94.9 142.5h0M112.0 87.1h0M61.6 75.2h0M92.6 142.8h0M85.7 137.9h0M114.5 56.8h0M69.5 56.6h0M71.9 71.1h0M126.8 61.2h0M62.7 125.7h0M110.9 66.2h0M112.2 63.5h0M88.7 152.1h0M104.1 68.0h0M59.4 113.3h0M98.5 168.4h0M118.3 90.9h0M91.7 151.8h0M111.4 96.7h0M99.6 157.0h0M114.0 82.1h0M97.7 115.6h0M125.6 23.8h0M68.0 54.5h0M121.2 85.0h0M170.6 66.7h0M69.5 32.9h0M100.4 41.3h0M55.3 144.1h0M63.6 68.2h0M60.6 22.7h0M102.6 124.6h0M143.8 33.6h0M137.4 76.3h0M121.8 65.6h0M19.9 26.4h0M61.3 185.8h0M58.7 49.4h0M118.9 80.7h0M49.0 16.2h0M109.5 154.2h0M77.3 93.2h0M64.8 150.7h0M104.4 164.8h0M120.8 83.5h0M65.7 66.8h0M172.2 68.6h0M101.3 149.5h0M111.1 133.3h0M171.5 70.4h0M181.2 83.6h0M168.6 63.9h0" fill="none" stroke="#d8404c" stroke-opacity="0.72" stroke-width="1.80" stroke-linecap="round"/></g>
<text transform="translate(1584.50 832.90) scale(1 1.040)" font-size="26.9" text-anchor="middle" fill="#96147a" stroke="#96147a" stroke-width="0.3">Pvalb 4</text>
<g transform="translate(1478.8 849.7)"><use href="#brain"/><path d="M106.8 154.1h0M103.4 71.8h0M74.2 101.2h0M65.6 160.2h0M64.6 48.0h0M58.0 152.6h0M85.7 66.2h0M60.0 47.4h0M105.5 169.4h0M90.8 154.4h0M104.5 148.8h0M74.9 113.7h0M105.8 105.3h0M72.6 89.6h0M66.5 99.5h0M73.5 87.1h0M94.4 123.1h0M126.4 74.7h0M124.0 67.5h0M76.3 70.2h0M110.8 94.0h0M73.6 105.1h0M80.9 106.5h0M77.0 141.4h0M124.9 75.2h0M112.1 49.1h0M65.5 54.0h0M97.3 104.5h0M75.7 46.3h0M61.0 135.6h0M75.6 67.0h0M90.9 55.9h0M65.5 167.8h0M126.3 78.0h0M80.3 91.8h0M51.9 124.4h0M115.9 111.3h0M111.4 100.9h0M91.0 36.2h0M106.4 162.5h0M62.8 167.6h0M85.1 67.9h0M120.2 56.8h0M94.3 68.9h0M67.4 46.5h0M75.6 123.4h0M122.5 54.8h0M94.1 146.5h0M122.2 66.3h0M103.2 108.1h0M64.9 169.9h0M95.6 181.7h0M119.7 125.2h0M98.5 156.6h0M121.4 64.1h0M69.0 105.0h0M75.2 39.3h0M116.1 62.8h0M107.0 77.9h0M126.5 54.7h0M109.8 89.5h0M93.7 100.5h0M67.7 107.9h0M78.5 53.6h0M65.4 82.5h0M97.4 99.1h0M105.7 68.5h0M52.4 119.5h0M70.6 136.6h0M64.2 123.6h0M68.5 117.4h0M106.2 138.1h0M78.5 47.5h0M57.5 155.9h0M88.1 43.7h0M97.5 103.9h0M67.1 158.2h0M108.9 73.2h0M122.2 61.9h0M86.1 162.0h0M102.5 139.3h0M61.2 57.1h0M105.1 136.0h0M80.1 55.6h0M69.2 138.5h0M110.0 73.3h0M112.4 123.4h0M59.8 105.0h0M63.8 55.6h0M76.5 141.0h0M104.3 170.1h0M110.7 119.2h0M115.5 84.6h0M70.2 67.8h0M117.0 129.2h0M91.2 44.2h0M64.1 172.0h0M98.2 128.8h0M114.3 124.4h0M113.2 131.1h0M81.8 56.6h0M97.3 97.4h0M66.7 91.1h0M61.6 121.6h0M79.2 108.5h0M101.4 163.2h0M63.0 135.2h0M109.7 100.5h0M78.9 128.8h0M78.1 92.6h0M107.5 83.6h0M106.7 89.1h0M105.0 168.9h0M125.0 68.5h0M50.4 125.0h0M83.9 81.5h0M58.8 150.6h0M74.6 81.5h0M92.1 148.8h0M60.7 105.2h0M59.7 74.4h0M103.4 80.0h0M99.7 174.3h0M71.1 139.1h0M59.0 141.6h0M92.4 138.8h0M99.1 168.6h0M56.8 149.7h0M106.0 174.3h0M62.0 129.2h0M77.7 58.7h0M67.1 58.6h0M105.9 141.5h0M72.8 139.3h0M53.6 126.8h0M58.6 136.3h0M109.3 128.0h0M95.1 144.7h0M70.5 146.8h0M114.3 138.9h0M67.7 113.4h0M100.8 74.0h0M75.6 115.7h0M100.4 133.7h0M102.1 104.9h0M76.9 108.8h0M64.5 96.5h0M62.0 64.3h0M66.2 155.8h0M109.7 56.7h0M127.5 25.0h0M80.1 110.7h0M37.6 47.3h0M72.3 32.9h0M65.9 87.8h0M72.9 75.3h0M127.0 61.1h0M4.9 18.6h0M136.6 35.2h0M96.5 58.7h0M9.6 15.4h0M115.1 114.2h0M74.1 112.2h0M96.6 150.8h0M35.4 51.9h0M140.3 67.2h0M54.6 117.0h0M117.5 97.0h0M80.4 47.9h0M136.8 54.2h0M61.5 183.9h0M103.9 60.0h0M116.7 61.4h0M142.8 38.0h0M18.1 55.0h0" fill="none" stroke="#d8404c" stroke-opacity="0.72" stroke-width="1.80" stroke-linecap="round"/></g>
<text transform="translate(211.00 1082.10) scale(1 1.040)" font-size="26.9" text-anchor="middle" fill="#96147a" stroke="#96147a" stroke-width="0.3">Pvalb 5</text>
<g transform="translate(125.8 1094.0)"><use href="#brain"/><path d="M134.8 36.3h0M44.4 33.6h0M96.4 113.4h0M70.3 63.5h0M152.2 81.4h0M90.4 139.2h0M85.5 11.5h0M65.3 175.4h0M101.0 85.7h0M80.9 73.3h0M86.7 7.1h0M116.0 102.4h0M61.7 178.6h0M62.5 182.6h0M65.1 179.3h0M68.6 184.9h0M61.8 182.6h0M60.9 186.2h0M67.7 187.6h0M67.4 181.7h0" fill="none" stroke="#d8404c" stroke-opacity="0.72" stroke-width="1.80" stroke-linecap="round"/></g>
<text transform="translate(440.20 1082.10) scale(1 1.040)" font-size="26.9" text-anchor="middle" fill="#96147a" stroke="#96147a" stroke-width="0.3">Pvalb 6</text>
<g transform="translate(351.3 1094.0)"><use href="#brain"/><path d="M74.9 27.8h0M13.8 58.1h0M38.5 21.8h0M34.6 31.6h0M47.7 39.3h0M10.5 59.1h0M9.7 42.2h0M57.4 33.9h0M5.1 53.6h0M27.7 58.4h0M23.0 55.7h0M53.1 36.3h0M30.2 29.4h0M17.8 47.8h0M30.0 47.0h0M15.0 34.0h0M7.9 45.8h0M29.0 54.3h0M33.1 40.1h0M19.2 38.5h0M43.8 19.0h0M12.9 49.8h0M62.0 33.3h0M9.4 56.2h0M46.2 26.0h0M40.3 49.2h0M37.5 23.3h0M48.4 25.5h0M27.2 22.2h0M34.2 46.8h0M60.5 35.9h0M5.5 45.7h0M57.1 38.1h0M6.0 40.5h0M65.3 34.0h0M62.2 35.2h0M64.0 27.4h0M1.8 45.9h0M16.6 59.0h0M16.0 51.5h0M24.5 28.6h0M12.7 42.7h0M14.8 56.4h0M13.6 63.7h0M35.7 58.6h0M22.9 27.2h0M44.7 46.6h0M48.3 31.0h0M43.3 49.3h0M14.7 45.5h0M56.9 29.2h0M37.7 51.1h0M50.3 22.3h0M41.3 37.7h0M19.4 32.3h0M29.6 29.4h0M33.4 50.9h0M31.0 37.6h0M17.6 33.7h0M46.3 43.7h0M12.3 38.0h0M53.1 22.8h0M35.1 38.0h0M66.3 21.1h0M39.4 35.0h0M25.5 39.4h0M77.0 26.2h0M38.7 47.3h0M55.1 24.6h0M48.2 40.0h0M155.6 48.2h0M156.7 58.2h0M169.5 86.0h0M153.8 64.4h0M143.2 62.9h0M132.8 48.5h0M148.9 49.6h0M177.9 79.0h0M158.5 79.2h0M145.9 62.8h0M159.0 87.2h0M150.9 53.5h0M130.7 52.7h0M162.2 65.7h0M162.6 61.3h0M130.3 40.9h0M191.4 87.8h0M138.1 57.8h0M149.5 74.9h0M161.5 60.7h0M141.7 52.1h0M141.9 75.2h0M153.9 68.3h0M149.1 87.9h0M173.4 88.6h0M146.1 67.9h0M141.0 75.3h0M129.5 36.2h0M129.9 45.9h0M156.1 73.8h0M150.1 52.3h0M141.3 73.0h0M149.1 68.2h0M151.5 63.8h0M168.3 74.3h0M154.7 79.3h0M142.9 60.8h0M143.8 56.1h0M175.6 81.5h0M140.3 75.8h0M142.6 66.5h0M164.8 74.4h0M165.2 84.0h0M124.0 35.9h0M152.8 53.2h0M144.5 62.6h0M149.5 73.1h0M147.1 86.9h0M172.8 67.4h0M136.8 53.0h0M99.6 126.1h0M3.5 38.7h0M135.7 75.3h0M150.1 39.0h0M133.4 81.6h0M75.4 8.9h0M98.3 100.2h0M69.7 177.0h0M159.4 43.7h0M4.9 17.3h0M82.4 83.2h0M96.3 148.5h0M56.2 64.5h0M78.7 128.5h0M30.0 30.5h0M113.1 159.8h0M130.9 27.2h0M64.9 75.2h0M116.5 129.2h0M86.2 74.3h0M88.3 130.0h0M16.5 64.2h0M109.8 38.3h0M152.1 46.7h0M16.4 41.6h0" fill="none" stroke="#d8404c" stroke-opacity="0.72" stroke-width="1.80" stroke-linecap="round"/></g>
<text transform="translate(667.10 1082.10) scale(1 1.040)" font-size="26.9" text-anchor="middle" fill="#96147a" stroke="#96147a" stroke-width="0.3">Sncg 1</text>
<g transform="translate(576.8 1094.0)"><use href="#brain"/><path d="M142.3 82.0h0M107.3 137.5h0M104.1 141.6h0M44.6 9.5h0M113.8 109.8h0M98.4 177.5h0M173.3 83.8h0M87.4 56.5h0M114.1 26.3h0M62.2 119.2h0M97.7 151.4h0M44.3 33.9h0M104.9 153.4h0M126.7 61.7h0M32.5 3.7h0M109.3 126.7h0M36.0 51.5h0M106.8 28.0h0M67.1 170.2h0M108.8 104.4h0M60.6 173.7h0M59.2 149.0h0M59.3 144.9h0M57.2 134.9h0M110.0 67.0h0M100.7 72.2h0M120.3 83.5h0M113.7 122.3h0M75.5 68.7h0M110.5 113.2h0M103.0 72.7h0M68.2 178.5h0M108.2 135.8h0M61.5 150.4h0M52.4 138.2h0M75.4 86.8h0M98.8 113.2h0M105.5 134.6h0" fill="none" stroke="#d8404c" stroke-opacity="0.72" stroke-width="1.80" stroke-linecap="round"/></g>
<text transform="translate(896.40 1082.10) scale(1 1.040)" font-size="26.9" text-anchor="middle" fill="#96147a" stroke="#96147a" stroke-width="0.3">Sncg 2</text>
<g transform="translate(802.3 1094.0)"><use href="#brain"/><path d="M95.8 26.0h0M118.5 18.7h0M105.3 173.2h0M49.6 6.7h0M51.9 58.2h0M144.6 45.3h0M171.0 47.2h0M121.9 33.3h0M15.6 61.3h0M56.2 136.4h0M130.9 76.8h0M133.6 92.2h0M91.0 177.3h0M123.3 82.8h0M41.1 17.4h0M106.3 119.8h0M93.3 74.2h0M108.5 106.4h0M63.1 183.0h0M61.1 180.9h0M61.0 183.9h0M60.1 181.5h0M63.3 187.4h0M71.5 181.7h0M64.8 184.1h0M62.5 185.0h0M58.1 96.7h0M54.8 132.3h0M53.9 115.4h0M52.7 144.2h0M60.7 98.4h0" fill="none" stroke="#d8404c" stroke-opacity="0.72" stroke-width="1.80" stroke-linecap="round"/></g>
<text transform="translate(1119.10 1082.10) scale(1 1.040)" font-size="26.9" text-anchor="middle" fill="#96147a" stroke="#96147a" stroke-width="0.3">Sst 1</text>
<g transform="translate(1027.8 1094.0)"><use href="#brain"/><path d="M40.8 59.4h0M73.9 135.0h0M68.7 151.4h0M72.3 96.1h0M31.8 27.4h0M86.9 88.6h0M49.9 21.0h0M120.5 17.4h0M131.5 79.0h0M108.0 62.0h0M83.7 67.2h0M10.6 21.8h0M76.4 36.0h0M69.8 86.1h0M142.2 35.3h0M117.3 98.0h0M78.4 34.4h0M94.8 11.8h0M72.5 44.4h0M150.1 37.5h0M67.5 112.8h0M72.0 129.3h0M20.8 20.3h0M139.7 56.3h0M86.4 81.2h0M17.2 52.7h0M68.3 95.5h0M44.9 20.4h0M41.9 40.0h0M12.8 34.1h0M10.7 37.7h0M156.1 65.4h0M28.4 15.5h0M173.3 60.3h0M97.7 100.1h0M53.8 9.3h0M132.4 75.5h0M135.1 45.9h0M69.9 100.3h0M68.9 13.4h0M126.9 50.5h0M73.7 123.3h0M106.9 79.7h0M67.4 160.8h0M95.2 157.3h0M64.7 139.6h0M19.6 43.2h0M129.6 70.6h0M134.0 58.4h0M159.2 54.4h0M116.0 77.1h0M136.4 56.4h0M91.8 124.8h0M78.5 61.8h0M72.0 121.7h0M111.0 129.7h0M116.1 73.1h0M72.8 35.4h0M26.6 46.2h0M107.0 131.0h0M99.4 88.5h0M183.7 55.0h0M101.7 83.5h0M74.0 147.1h0M72.8 142.9h0M63.4 57.8h0M115.3 50.9h0M70.1 155.7h0M81.7 70.6h0M56.9 41.0h0M89.2 174.7h0M115.3 102.7h0M92.1 172.6h0M11.9 23.2h0M57.9 12.5h0" fill="none" stroke="#d8404c" stroke-opacity="0.72" stroke-width="1.80" stroke-linecap="round"/></g>
<text transform="translate(1349.20 1082.10) scale(1 1.040)" font-size="26.9" text-anchor="middle" fill="#96147a" stroke="#96147a" stroke-width="0.3">Sst 2</text>
<g transform="translate(1253.3 1094.0)"><use href="#brain"/><path d="M17.3 48.7h0M146.1 85.8h0M15.6 48.2h0M146.6 77.4h0M47.8 39.8h0M145.8 69.6h0M36.7 27.0h0M147.5 47.1h0M170.5 74.5h0M166.4 84.5h0M21.3 51.6h0M48.6 44.8h0M45.1 44.6h0M37.1 53.5h0M163.8 74.3h0M56.2 40.7h0M30.0 60.2h0M21.6 35.5h0M167.5 63.5h0M154.5 58.2h0M68.9 24.6h0M137.4 64.8h0M17.2 44.3h0M172.6 64.9h0M154.9 66.8h0M128.0 42.7h0M40.2 23.4h0M29.0 30.3h0M134.6 47.8h0M54.5 30.4h0M41.4 38.9h0M44.0 42.6h0M9.9 47.6h0M22.7 38.0h0M59.1 31.1h0M77.1 147.0h0M181.6 76.2h0M23.1 19.9h0M20.3 15.4h0M59.1 80.0h0M87.7 176.8h0M71.1 156.2h0M73.3 35.9h0M66.3 90.3h0M11.9 56.9h0M141.0 38.0h0M54.2 27.4h0M100.6 167.5h0M32.0 8.1h0M110.5 44.3h0M103.3 48.3h0M171.5 59.8h0M88.7 80.4h0M58.5 40.1h0M116.6 33.9h0M69.0 60.3h0M185.6 80.3h0M98.4 173.8h0M108.4 165.0h0M54.9 37.9h0M111.4 55.0h0M168.5 63.1h0M106.3 158.8h0M135.8 26.2h0M71.9 63.6h0" fill="none" stroke="#d8404c" stroke-opacity="0.72" stroke-width="1.80" stroke-linecap="round"/></g>
<text transform="translate(1577.80 1082.10) scale(1 1.040)" font-size="26.9" text-anchor="middle" fill="#96147a" stroke="#96147a" stroke-width="0.3">Sst 3</text>
<g transform="translate(1478.8 1094.0)"><use href="#brain"/><path d="M74.5 104.2h0M36.5 55.4h0M96.4 31.9h0M51.9 141.1h0M96.4 120.1h0M75.1 28.9h0M112.9 137.4h0M69.2 21.1h0M51.4 43.5h0M85.4 165.0h0M33.9 53.2h0M67.7 156.5h0M63.4 153.9h0M74.9 43.5h0M97.8 113.7h0M155.7 53.0h0" fill="none" stroke="#d8404c" stroke-opacity="0.72" stroke-width="1.80" stroke-linecap="round"/></g>
<text transform="translate(204.10 1330.40) scale(1 1.040)" font-size="26.9" text-anchor="middle" fill="#96147a" stroke="#96147a" stroke-width="0.3">Sst 4</text>
<g transform="translate(125.8 1339.0)"><use href="#brain"/><path d="M23.6 62.1h0M36.6 28.6h0M34.5 41.6h0M15.4 24.2h0M47.3 14.6h0M25.7 42.7h0M8.6 46.2h0M4.0 47.5h0M54.3 15.3h0M43.6 48.8h0M31.2 19.5h0M19.4 48.9h0M9.8 55.5h0M79.0 14.0h0M34.6 42.5h0M1.1 38.5h0M43.1 26.3h0M39.7 49.8h0M42.8 51.3h0M60.7 32.1h0M59.3 34.7h0M18.6 40.8h0M30.4 27.1h0M9.6 40.8h0M24.1 32.7h0M23.0 20.2h0M43.8 19.3h0M57.6 21.2h0M22.8 38.2h0M77.7 15.5h0M33.2 45.7h0M44.6 40.9h0M25.1 17.6h0M21.1 28.0h0M14.2 45.4h0M34.3 43.1h0M16.5 34.0h0M55.8 19.9h0M36.3 40.3h0M3.1 51.8h0M104.4 137.4h0M108.5 60.0h0M90.4 116.9h0M72.9 82.7h0M124.1 63.3h0M54.3 68.8h0M61.0 53.2h0M56.7 136.9h0M63.7 52.2h0M100.0 112.2h0M117.2 141.7h0M98.0 147.1h0M70.4 91.0h0M116.5 139.6h0M59.4 63.2h0M62.0 146.8h0M74.1 101.5h0M79.7 33.6h0M119.5 84.2h0M65.0 104.2h0M98.1 149.9h0M92.2 144.1h0M119.0 103.1h0M101.8 77.8h0M121.3 56.8h0M103.4 103.9h0M110.2 140.4h0M73.6 38.0h0M87.2 53.6h0M91.4 107.9h0M57.2 142.9h0M109.0 151.8h0M78.4 83.1h0M97.7 124.2h0M125.5 53.6h0M101.9 115.0h0M118.2 99.2h0M114.5 40.3h0M111.9 144.8h0M104.2 101.0h0M69.2 77.5h0M104.1 69.3h0M55.1 120.9h0M121.2 75.9h0M84.5 35.5h0M77.0 62.7h0M58.9 71.0h0M80.4 115.1h0M107.4 116.0h0M113.6 138.6h0M106.6 64.2h0M113.2 134.6h0M110.1 82.7h0M115.6 104.2h0M100.5 107.8h0M117.0 102.4h0M76.0 61.0h0M79.2 103.9h0M114.3 50.7h0M114.4 61.9h0M116.0 84.9h0M109.6 82.0h0M86.8 150.4h0M129.3 54.1h0M97.7 157.8h0M98.3 137.3h0M103.4 94.1h0M126.4 87.1h0M114.9 139.1h0M80.3 85.3h0M74.2 76.0h0M60.5 145.0h0M121.2 78.4h0M76.4 71.4h0M72.6 79.1h0M103.0 170.9h0M59.6 104.8h0M100.7 79.9h0M98.2 98.9h0M113.7 69.0h0M144.3 83.2h0M190.3 84.8h0M176.7 71.3h0M148.1 72.5h0M171.4 86.9h0M153.1 47.9h0M133.2 52.4h0M151.6 53.7h0M134.1 49.3h0M146.2 59.4h0M147.9 47.4h0M159.7 56.5h0M127.7 40.1h0M163.0 82.3h0M152.8 76.5h0M167.4 82.4h0M144.3 79.2h0M139.6 40.4h0M151.0 86.9h0M157.8 83.1h0M145.0 82.0h0M177.2 85.6h0M161.5 61.3h0M139.1 67.0h0M162.1 63.3h0M67.1 123.5h0M115.0 110.3h0M129.9 67.5h0M187.0 82.1h0M85.3 6.4h0M54.7 116.7h0M107.4 111.3h0M86.5 169.5h0M66.6 121.9h0M139.4 30.3h0" fill="none" stroke="#d8404c" stroke-opacity="0.72" stroke-width="1.80" stroke-linecap="round"/></g>
<text transform="translate(434.10 1330.40) scale(1 1.040)" font-size="26.9" text-anchor="middle" fill="#96147a" stroke="#96147a" stroke-width="0.3">Sst 5</text>
<g transform="translate(351.3 1339.0)"><use href="#brain"/><path d="M34.6 47.8h0M34.5 30.0h0M84.4 9.0h0M24.9 38.1h0M85.0 15.9h0M36.1 45.2h0M57.7 25.1h0M22.9 36.1h0M18.8 40.8h0M85.4 18.3h0M16.5 49.4h0M23.4 39.7h0M6.2 19.5h0M13.3 13.4h0M59.6 3.0h0M18.0 13.5h0M0.8 23.1h0M67.3 30.8h0M59.0 26.9h0M85.5 11.5h0M43.4 24.7h0M40.8 39.9h0M16.3 12.3h0M26.8 45.8h0M8.7 34.4h0M7.0 36.7h0M43.6 49.5h0M20.0 22.7h0M63.6 33.2h0M49.5 6.3h0M84.2 21.9h0M46.6 23.1h0M45.1 19.6h0M19.9 34.7h0M52.5 33.8h0M78.4 17.4h0M48.4 22.1h0M43.7 7.4h0M0.6 41.2h0M26.5 37.5h0M18.5 30.9h0M9.4 56.4h0M69.7 26.4h0M71.1 26.6h0M16.4 52.6h0M48.0 7.4h0M23.2 6.2h0M57.2 38.9h0M63.2 21.2h0M43.4 20.8h0M57.8 30.8h0M51.2 45.6h0M26.0 19.2h0M20.3 30.4h0M51.1 15.2h0M73.8 9.1h0M47.0 45.6h0M14.9 44.8h0M26.7 50.3h0M68.1 21.4h0M22.9 54.4h0M49.6 10.6h0M32.2 32.9h0M7.9 28.3h0M90.3 16.4h0M29.9 49.5h0M77.8 10.1h0M53.4 35.7h0M46.2 17.0h0M3.8 19.0h0M39.7 15.6h0M40.5 11.9h0M34.8 41.5h0M8.4 29.0h0M32.8 27.5h0M152.6 78.2h0M117.1 27.7h0M155.3 70.4h0M150.3 64.9h0M138.2 70.8h0M190.0 80.8h0M163.1 45.9h0M162.9 88.2h0M164.0 66.0h0M151.7 61.6h0M157.9 65.5h0M147.0 44.5h0M179.9 60.2h0M128.1 37.8h0M178.9 66.3h0M144.5 81.5h0M109.7 24.6h0M147.9 64.1h0M174.9 69.5h0M166.5 74.9h0M138.1 48.2h0M157.6 63.7h0M188.1 58.8h0M154.5 83.1h0M132.7 31.7h0M134.7 37.9h0M132.6 47.4h0M160.7 86.1h0M147.4 68.1h0M145.3 53.9h0M189.5 80.7h0M183.6 67.4h0M176.5 63.9h0M156.5 64.7h0M141.4 59.8h0M135.6 60.6h0M139.6 72.0h0M158.2 48.0h0M174.2 64.8h0M142.1 31.8h0M174.0 72.9h0M172.2 87.3h0M189.4 88.5h0M170.8 55.8h0M179.4 76.5h0M46.3 32.5h0M63.5 128.3h0M97.1 136.8h0M76.5 19.3h0M29.0 28.1h0M74.1 113.5h0M46.4 11.9h0M72.8 39.0h0M61.2 25.4h0M138.6 49.3h0M94.8 116.9h0M108.5 41.3h0M125.7 22.2h0M131.6 64.3h0M118.9 43.3h0" fill="none" stroke="#d8404c" stroke-opacity="0.72" stroke-width="1.80" stroke-linecap="round"/></g>
<text transform="translate(662.20 1330.40) scale(1 1.040)" font-size="26.9" text-anchor="middle" fill="#96147a" stroke="#96147a" stroke-width="0.3">Sst 6</text>
<g transform="translate(576.8 1339.0)"><use href="#brain"/><path d="M86.4 44.6h0M64.4 117.5h0M114.4 146.2h0M50.9 133.0h0M101.3 62.3h0M102.5 91.6h0M115.4 88.2h0M94.4 153.2h0M66.1 92.9h0M66.6 122.1h0M82.1 32.7h0M81.3 84.0h0M113.6 149.2h0M107.3 97.0h0M96.6 116.6h0M69.3 117.2h0M107.9 149.9h0M60.1 74.5h0M60.8 64.6h0M119.7 77.8h0M69.8 36.3h0M118.5 84.8h0M73.2 82.0h0M73.1 54.6h0M77.1 73.3h0M125.6 71.2h0M58.5 95.2h0M126.3 62.3h0M70.0 65.4h0M78.0 70.1h0M89.9 52.0h0M91.1 50.6h0M121.8 76.4h0M108.6 141.4h0M77.9 63.5h0M105.6 74.1h0M72.1 95.9h0M67.1 115.4h0M91.6 128.6h0M101.7 64.0h0M74.5 59.4h0M115.6 86.8h0M86.5 40.0h0M76.9 35.7h0M104.0 84.0h0M75.9 40.7h0M66.2 110.4h0M61.2 57.1h0M60.6 124.1h0M111.7 154.2h0M76.1 31.1h0M92.0 29.8h0M122.6 43.6h0M67.4 50.2h0M125.7 94.1h0M114.9 65.2h0M69.2 130.7h0M59.8 77.1h0M104.9 62.4h0M59.2 114.3h0M111.1 121.0h0M120.0 41.0h0M75.8 138.6h0M69.8 31.8h0M61.1 98.8h0M74.0 128.2h0M90.9 61.7h0M66.4 40.8h0M118.2 109.0h0M63.0 125.7h0M103.7 50.5h0M75.4 117.2h0M58.1 136.5h0M95.7 84.1h0M119.4 97.1h0M86.5 83.2h0M64.0 37.8h0M118.6 53.9h0M69.2 120.4h0M108.0 37.8h0M44.6 23.2h0M162.3 77.5h0M138.5 34.8h0M167.5 74.8h0M26.2 42.8h0M140.9 33.3h0M145.7 84.8h0M149.2 43.0h0M184.4 59.6h0M152.9 64.1h0M24.0 62.9h0M126.6 44.0h0M39.0 23.4h0M14.2 46.4h0M148.2 45.2h0M47.4 29.6h0M26.5 31.7h0M85.0 14.5h0M30.6 55.5h0M141.8 71.2h0M135.1 52.3h0M37.0 18.6h0M151.1 80.4h0M145.8 71.9h0M83.1 18.2h0M44.0 48.2h0M72.0 71.1h0M69.8 118.3h0M112.7 37.4h0M88.4 63.1h0M75.8 149.3h0M63.6 38.7h0M99.1 78.5h0M118.8 146.1h0M131.3 77.9h0" fill="none" stroke="#d8404c" stroke-opacity="0.72" stroke-width="1.80" stroke-linecap="round"/></g>
<text transform="translate(890.60 1330.40) scale(1 1.040)" font-size="26.9" text-anchor="middle" fill="#96147a" stroke="#96147a" stroke-width="0.3">Vip 1</text>
<g transform="translate(802.3 1339.0)"><use href="#brain"/><path d="M114.6 39.9h0M71.5 156.0h0M108.0 65.2h0M91.8 145.0h0M75.2 164.1h0M108.5 43.6h0M120.7 31.0h0M88.9 164.1h0M93.7 88.3h0M111.2 20.2h0M7.1 8.6h0M21.5 14.5h0M163.2 49.5h0M168.7 42.9h0M72.6 113.9h0M7.5 25.4h0M136.0 23.1h0M78.3 72.1h0M63.7 155.3h0M69.8 186.8h0M63.3 156.9h0M102.4 85.5h0M16.3 20.2h0M82.8 11.5h0M66.2 188.3h0M89.5 183.5h0M51.3 15.8h0M105.5 60.1h0M97.3 63.4h0M155.7 52.8h0M91.2 166.5h0M24.3 19.2h0M161.8 56.8h0M71.7 175.9h0M90.7 98.6h0M47.4 3.8h0M96.7 38.3h0M68.7 10.5h0M56.8 18.4h0M61.0 50.4h0M2.5 17.7h0M57.6 73.6h0M36.3 3.5h0M122.9 28.7h0M35.2 26.3h0M113.3 54.7h0M170.9 77.4h0M11.0 57.0h0M77.3 3.8h0M23.7 39.1h0" fill="none" stroke="#d8404c" stroke-opacity="0.72" stroke-width="1.80" stroke-linecap="round"/></g>
<text transform="translate(1120.20 1330.40) scale(1 1.040)" font-size="26.9" text-anchor="middle" fill="#96147a" stroke="#96147a" stroke-width="0.3">Vip 2</text>
<g transform="translate(1027.8 1339.0)"><use href="#brain"/><path d="M82.4 83.2h0M124.1 33.8h0M120.7 18.5h0M170.0 62.8h0M16.2 9.6h0M165.8 61.1h0M178.9 78.6h0M26.8 10.7h0M90.0 100.2h0M97.1 13.2h0M130.3 20.1h0M91.5 45.5h0M92.8 123.8h0M51.4 1.2h0M105.9 47.4h0M169.6 43.1h0M187.8 60.1h0M108.9 36.2h0M90.7 44.0h0M73.1 105.5h0M160.0 55.4h0M172.0 67.2h0M175.9 74.3h0M86.2 31.3h0M87.2 93.1h0M92.2 39.2h0M91.5 102.8h0M39.5 20.7h0M157.6 36.4h0M87.7 46.9h0M135.7 43.2h0M32.1 15.8h0M157.8 44.2h0M95.0 51.0h0M87.4 112.2h0M96.7 19.0h0M75.1 120.2h0M78.5 85.3h0M186.9 81.9h0M106.4 33.2h0M76.6 124.5h0M38.6 4.0h0M1.9 15.7h0M10.2 13.9h0M5.6 24.2h0M91.3 66.0h0M88.7 19.2h0M17.4 20.2h0M24.0 11.3h0M75.3 122.6h0M85.6 69.4h0M96.7 129.4h0M98.4 25.7h0M118.6 28.3h0M1.5 13.6h0M91.5 33.0h0M91.3 51.3h0M83.6 85.8h0M35.6 7.4h0M146.0 36.0h0M65.8 14.0h0M34.4 18.3h0M44.9 16.7h0M141.4 28.4h0M15.2 13.5h0M141.9 44.9h0M178.8 77.4h0M164.3 51.8h0M84.1 15.3h0M20.5 20.8h0M96.9 32.5h0M109.0 65.5h0M110.9 47.5h0M169.1 52.7h0M102.6 31.1h0M90.0 15.3h0M110.3 60.3h0M17.1 24.0h0M180.2 51.1h0M96.2 79.4h0M181.3 70.5h0M119.3 25.7h0M188.7 63.5h0M101.6 110.4h0M74.0 102.1h0M78.7 24.1h0M129.7 67.4h0M105.8 151.1h0M88.0 164.3h0M192.5 71.0h0M78.5 106.6h0M136.4 36.1h0M59.2 157.4h0M65.5 64.7h0M12.8 41.5h0M134.3 37.6h0M21.7 59.1h0M79.4 69.1h0M112.3 148.8h0M150.7 65.2h0M54.1 45.2h0M160.6 43.3h0M55.2 47.7h0M37.3 56.8h0M126.6 44.7h0M144.9 54.9h0M32.5 52.9h0M128.1 22.4h0M141.0 44.0h0M47.4 47.7h0" fill="none" stroke="#d8404c" stroke-opacity="0.72" stroke-width="1.80" stroke-linecap="round"/></g>
<text transform="translate(199.70 1628.00) scale(1 1.040)" font-size="26.9" text-anchor="middle" fill="#000" stroke="#000" stroke-width="0.3">Astro 1</text>
<g transform="translate(108.9 1635.0) scale(0.982)"><use href="#brain"/><path d="M116.0 141.4h0M56.8 128.7h0M0.2 36.1h0M121.4 48.7h0M16.9 49.9h0M120.2 39.0h0M69.0 180.0h0M146.9 35.9h0M177.4 83.6h0M15.2 19.0h0M66.6 148.5h0M84.0 57.9h0M177.7 88.7h0M110.4 49.3h0M157.1 36.2h0M84.5 141.7h0M112.8 136.6h0M63.6 75.1h0M153.9 40.1h0M90.2 60.7h0M68.6 90.1h0M159.3 59.1h0M111.6 117.1h0M84.8 56.3h0M89.8 122.5h0M103.9 165.6h0M101.6 100.6h0M146.2 83.4h0M116.7 34.1h0M156.0 40.8h0M175.7 61.3h0M77.5 25.7h0M177.0 72.8h0M92.6 147.3h0M174.8 69.2h0M95.8 20.3h0M172.2 88.6h0M69.3 67.3h0M87.3 117.9h0M98.3 146.9h0M183.9 60.6h0M0.4 40.5h0M143.0 32.1h0M123.9 42.5h0M119.2 147.9h0M74.8 154.3h0M50.8 126.5h0M58.5 71.9h0M70.1 147.8h0M103.4 105.6h0M94.2 158.7h0M120.7 21.9h0M116.2 101.0h0M42.0 62.3h0M144.3 29.6h0M68.5 141.2h0M14.5 42.5h0M143.5 39.3h0M69.8 52.4h0M45.6 3.6h0M94.4 136.0h0M59.0 140.3h0M105.5 122.1h0M72.1 129.5h0M91.0 17.0h0M61.5 100.1h0M103.1 129.0h0M72.0 34.9h0M77.9 88.3h0M56.3 149.7h0M59.2 54.9h0M90.8 28.6h0M26.1 36.0h0M99.4 95.8h0M106.1 65.6h0M66.5 175.4h0M148.1 59.5h0M102.5 151.9h0M93.6 28.3h0M75.0 18.9h0M89.3 52.6h0M7.1 51.4h0M83.7 95.3h0M108.3 55.3h0M37.7 60.7h0M35.1 47.2h0M127.7 50.8h0M82.1 159.1h0M92.2 163.7h0M33.7 48.9h0M85.9 89.2h0M167.1 69.2h0M54.4 19.0h0M174.4 83.6h0M176.1 77.9h0M91.8 65.1h0M94.8 109.4h0M135.6 65.5h0M67.8 45.9h0M152.4 86.4h0M165.9 67.4h0M30.3 13.4h0M73.4 148.3h0M76.5 129.5h0M64.1 116.5h0M127.9 74.7h0M143.9 70.6h0M92.2 147.2h0M105.6 122.5h0M114.5 58.0h0M140.4 38.3h0M67.5 142.5h0M151.6 45.5h0M67.9 67.3h0M56.4 49.0h0M61.9 7.8h0M176.2 63.9h0M105.6 116.3h0M97.7 149.7h0M61.4 127.4h0M38.6 14.7h0M37.9 56.3h0M91.7 160.4h0M113.0 153.9h0M91.8 51.1h0M42.5 43.8h0M80.8 108.5h0M88.8 137.7h0M142.7 75.4h0M35.2 39.5h0M102.4 85.4h0M86.6 55.2h0M23.8 53.6h0M105.5 59.1h0M109.3 135.4h0M112.6 101.9h0M41.4 45.5h0M166.1 64.1h0M90.3 122.5h0M164.7 78.6h0M189.7 84.3h0M58.6 44.2h0M97.7 90.8h0M96.8 128.4h0M71.6 48.5h0M75.0 9.1h0M60.1 159.2h0M161.1 38.8h0M172.8 67.5h0M114.5 22.3h0M116.8 134.2h0M174.0 52.7h0M74.0 148.5h0M26.9 22.6h0M45.3 65.6h0M58.8 100.0h0M137.0 40.3h0M23.5 32.8h0M62.7 72.6h0M103.6 31.6h0M85.4 51.5h0M161.6 59.2h0M169.3 62.1h0M108.3 31.3h0M34.4 13.1h0M95.8 169.0h0M96.4 174.5h0M122.2 63.8h0M16.1 43.3h0M92.7 23.6h0M81.7 92.8h0M26.4 5.1h0M117.0 137.5h0M95.4 82.4h0M91.4 27.0h0M101.8 123.4h0M61.1 173.8h0M57.3 121.8h0M59.1 99.3h0M117.6 96.6h0M65.9 135.9h0M119.5 114.8h0M79.4 94.3h0M157.6 49.7h0M80.6 4.6h0M112.1 83.0h0M91.8 32.5h0M121.5 78.4h0M104.4 37.0h0M60.2 190.4h0M5.2 24.1h0M50.3 142.4h0M108.0 27.4h0M86.1 121.3h0M68.5 120.3h0M150.4 84.1h0M6.7 52.1h0M65.2 50.2h0M2.7 12.6h0M123.7 24.3h0M55.9 139.3h0M124.8 82.5h0M114.2 36.8h0M174.0 52.4h0M103.5 167.2h0M83.4 63.0h0M73.3 65.3h0M105.6 119.6h0M146.9 38.2h0M150.9 38.0h0M120.7 34.2h0M9.8 43.8h0M70.6 163.6h0M87.6 25.9h0M125.4 93.2h0M37.0 6.1h0M63.3 141.1h0M88.5 137.0h0M177.2 70.9h0M142.4 77.9h0M126.4 19.9h0M104.8 94.4h0M82.9 163.3h0M33.6 46.5h0M101.4 169.7h0M102.6 34.9h0M52.3 71.8h0M19.9 29.2h0M18.5 30.6h0M112.1 100.2h0M97.7 167.0h0M122.1 76.4h0M191.3 69.2h0M192.2 86.5h0M120.7 32.7h0M64.5 18.7h0M64.1 151.1h0M153.6 67.2h0M118.9 48.5h0M52.0 18.8h0M42.2 64.7h0M74.7 73.7h0M144.5 43.1h0M1.3 47.2h0M106.1 57.1h0M11.7 52.7h0M39.2 27.1h0M50.0 23.1h0M86.0 27.6h0M68.3 103.4h0M48.2 15.3h0M98.7 168.7h0M73.3 76.7h0M106.0 19.5h0M115.0 63.6h0M192.5 69.0h0M112.2 142.1h0M36.2 43.8h0M67.6 162.2h0M79.8 9.1h0M80.6 8.9h0M107.3 83.9h0M74.9 57.0h0M18.8 12.2h0M58.3 139.7h0M49.5 47.0h0M46.8 13.4h0M65.4 146.9h0M62.9 89.0h0M26.7 17.6h0M13.5 50.6h0M71.0 38.1h0M112.5 93.5h0M85.3 40.6h0M25.9 10.6h0M63.5 97.4h0M80.5 15.2h0M123.2 70.0h0M66.1 139.5h0M121.2 75.9h0M88.1 145.6h0M9.2 15.6h0M70.4 98.3h0M104.8 156.0h0M158.8 36.4h0M75.6 89.8h0M60.1 103.0h0M93.0 77.1h0M188.8 82.0h0M62.3 73.7h0M90.3 20.5h0M92.0 129.4h0M82.6 105.3h0M86.4 38.3h0M2.3 19.2h0M114.2 74.0h0M86.3 33.3h0M71.4 86.8h0M69.7 123.3h0M51.2 41.1h0M100.4 60.7h0M71.3 92.3h0M121.5 82.5h0M108.1 70.2h0M66.8 63.4h0M150.9 77.5h0M78.4 83.4h0M100.8 75.0h0M0.8 30.4h0M120.6 67.4h0M184.2 83.0h0M67.5 50.6h0M113.2 49.9h0M123.2 32.5h0M126.0 20.2h0M86.6 181.0h0M84.7 35.6h0M102.8 47.0h0M69.5 102.3h0M101.9 154.6h0M110.1 82.3h0M117.6 148.4h0M83.1 78.0h0M10.0 21.7h0M100.9 70.4h0M6.1 46.1h0M60.6 142.6h0M91.7 179.8h0M107.8 34.1h0M105.7 50.7h0M93.7 100.5h0M66.7 50.7h0M113.2 58.7h0M60.1 42.9h0M74.5 26.0h0M113.8 63.7h0M75.7 50.1h0M19.4 19.3h0M52.7 143.4h0M164.0 63.7h0M60.9 67.9h0M192.6 74.4h0M55.1 151.5h0M117.6 137.7h0M126.7 25.6h0M100.7 179.6h0M60.7 73.7h0M68.2 163.0h0M172.1 70.6h0M97.3 17.3h0M87.8 39.1h0M130.7 68.2h0M56.8 7.9h0M168.7 54.3h0M34.3 7.7h0M87.7 176.8h0M58.2 133.8h0M98.8 64.8h0M76.4 42.0h0M51.0 49.5h0M134.8 81.5h0M7.6 17.4h0M72.1 59.8h0M60.0 16.2h0M91.9 38.3h0M85.9 179.8h0M84.9 170.8h0M61.0 113.3h0M116.9 104.4h0M24.4 8.9h0M78.8 66.8h0M187.4 75.5h0M56.3 41.3h0M142.5 44.9h0M153.9 43.0h0M58.4 43.2h0M54.9 42.1h0M125.1 35.3h0M59.3 175.5h0M64.4 4.2h0M107.7 123.0h0M107.6 115.3h0M17.4 52.6h0M78.6 63.0h0M104.4 121.7h0M66.6 57.0h0M171.3 64.6h0M173.0 64.9h0M61.7 104.9h0M123.8 52.6h0M111.9 52.7h0M59.1 96.4h0M149.2 67.7h0M68.7 77.6h0M33.9 10.5h0M64.8 79.4h0M172.1 53.4h0M112.9 101.9h0M119.1 78.8h0M139.4 25.2h0M52.9 122.4h0M109.8 102.9h0M85.7 99.3h0M55.8 136.7h0M97.6 136.8h0M47.3 12.9h0M108.0 67.0h0M112.6 39.5h0M163.5 45.7h0M45.5 56.2h0M84.0 97.0h0M180.2 52.4h0M90.2 28.4h0M45.5 45.5h0M64.6 8.3h0M112.0 55.5h0M59.6 153.8h0M73.7 158.1h0M184.6 72.9h0M49.2 10.6h0M67.5 144.2h0M148.9 84.1h0M60.4 133.3h0M43.0 56.6h0M10.5 25.4h0M54.1 149.9h0M123.4 44.3h0M91.4 177.4h0M17.1 28.4h0M152.5 40.6h0M62.8 20.2h0M177.6 71.3h0M111.4 53.8h0M36.4 27.1h0M70.5 57.8h0M174.1 46.1h0M110.1 83.5h0M169.2 68.8h0M64.3 24.2h0M63.6 188.7h0M99.7 46.9h0M74.2 83.1h0M73.0 160.1h0M146.5 54.6h0M117.5 84.7h0M187.4 82.8h0M142.4 40.8h0M151.7 83.2h0M73.1 87.8h0M112.2 166.0h0M64.0 2.1h0M88.0 168.5h0M145.2 75.2h0M69.7 119.2h0M116.4 111.7h0M49.9 72.1h0M46.9 55.3h0M112.0 51.6h0M33.3 37.2h0M69.0 114.2h0M180.8 88.7h0M59.6 64.7h0M49.9 60.0h0M28.6 63.7h0M91.8 48.9h0M47.8 16.7h0M60.4 26.6h0M70.0 190.0h0M9.5 54.1h0M51.9 67.7h0M144.1 58.5h0M77.9 139.1h0M136.3 82.0h0M35.5 53.7h0M90.3 139.4h0M0.7 36.1h0M121.8 36.9h0M141.8 43.2h0M89.9 52.3h0M13.0 16.4h0M123.0 18.9h0M47.3 22.8h0M101.6 108.6h0M116.4 119.9h0M122.8 56.1h0M76.4 105.5h0M90.8 106.3h0M156.6 84.8h0M151.0 33.5h0M79.3 107.1h0M74.6 66.8h0M79.8 26.4h0M165.9 58.0h0M9.8 31.6h0M74.9 33.7h0M107.7 104.8h0M110.6 77.6h0M85.4 90.9h0M129.9 21.2h0M68.7 142.1h0M9.1 11.2h0M71.8 2.5h0M120.3 76.9h0M67.3 78.9h0M90.5 46.7h0M67.7 81.3h0M7.2 24.2h0M19.0 17.8h0M55.7 21.5h0M93.0 15.6h0M113.1 55.1h0M117.9 138.9h0M165.9 43.0h0M49.7 41.3h0M136.9 56.0h0M77.5 140.2h0M77.2 88.8h0M60.4 128.7h0M139.0 56.5h0M95.5 172.0h0M76.1 39.8h0M93.8 28.1h0M67.1 171.4h0M74.9 52.4h0M104.6 51.9h0M32.3 45.3h0M32.1 42.0h0M172.0 84.7h0M63.7 113.9h0M11.5 8.7h0M115.0 78.0h0M126.9 52.0h0M70.4 87.6h0M93.9 110.0h0M128.2 67.1h0M71.7 58.5h0M102.7 139.6h0M60.7 32.1h0M133.6 89.4h0M109.3 58.7h0M53.7 66.2h0M65.0 31.6h0M126.3 46.6h0M44.9 48.3h0M86.2 95.0h0M108.2 18.7h0M60.8 22.5h0M73.4 105.8h0M59.4 34.6h0M142.7 68.6h0M111.9 49.1h0M43.9 50.8h0M170.3 68.9h0M95.9 138.4h0M73.5 2.1h0M174.0 50.2h0M45.2 2.4h0M152.1 68.8h0M82.8 14.4h0M58.4 77.1h0M122.1 29.3h0M42.7 12.4h0M153.4 59.0h0M116.2 136.4h0M89.0 81.8h0M99.2 110.9h0M186.8 73.4h0M184.5 77.0h0M15.1 21.5h0M148.3 74.5h0M12.1 10.9h0M66.3 185.0h0M111.0 96.5h0M154.1 49.1h0M23.0 8.8h0M81.5 93.0h0M64.6 4.9h0M171.4 52.7h0M117.8 132.4h0M145.5 25.2h0M129.0 86.9h0M97.0 17.8h0M53.3 6.8h0M150.2 39.3h0M111.6 162.6h0M62.6 42.2h0M101.1 135.6h0M93.7 116.4h0M81.0 182.1h0M30.4 9.2h0M69.5 142.3h0M103.4 34.4h0M166.3 80.7h0M157.4 70.6h0M63.6 174.4h0M69.0 15.1h0M17.4 17.2h0M63.1 130.5h0M60.7 155.6h0M87.8 144.1h0M90.3 180.7h0M60.3 28.8h0M55.8 31.4h0M108.1 68.4h0M27.0 7.3h0M37.7 53.2h0M108.1 154.0h0M80.7 83.3h0M129.4 92.3h0M146.8 50.4h0M180.0 56.5h0M59.1 161.0h0M149.0 71.0h0M151.7 61.6h0M81.1 177.3h0M61.6 143.4h0M164.5 88.4h0M90.3 182.6h0M146.1 72.4h0M167.2 88.9h0M173.8 72.4h0M34.4 35.1h0M167.2 70.4h0M71.8 51.8h0M42.2 65.7h0M81.2 57.2h0M111.3 102.4h0M74.5 133.2h0M113.9 121.8h0M61.9 153.4h0M175.5 73.1h0M127.4 84.8h0M106.7 79.3h0M71.0 184.6h0M119.8 98.8h0M163.7 42.9h0M113.5 142.9h0M191.4 68.9h0M172.8 85.0h0M58.9 12.3h0M27.1 23.2h0M69.8 145.8h0M55.2 49.2h0M47.2 4.5h0M67.5 28.0h0M177.1 85.0h0M132.0 61.4h0M93.5 146.4h0M88.3 73.0h0M174.2 49.5h0M61.0 25.9h0M108.9 23.4h0M84.4 149.5h0M10.4 53.7h0M87.1 129.8h0M171.2 73.1h0M190.7 73.0h0M133.7 76.9h0M61.2 45.3h0M101.0 96.3h0M165.6 73.3h0M90.8 144.7h0M8.3 18.3h0M78.8 72.4h0M144.9 54.8h0M110.3 156.4h0M6.0 21.2h0M68.8 152.8h0M179.2 68.6h0M72.0 38.0h0M58.6 181.7h0M164.3 81.9h0M117.9 149.8h0M61.9 132.3h0M172.6 62.4h0M77.6 22.2h0M65.1 116.5h0M91.3 143.9h0M166.1 50.4h0M64.9 108.9h0M11.7 22.8h0M138.2 69.1h0M10.1 8.4h0M143.1 46.6h0M48.1 65.4h0M78.3 112.7h0M57.6 65.4h0M68.2 126.5h0M40.5 59.4h0M155.3 39.1h0M70.6 159.5h0M86.6 176.4h0M81.4 34.6h0M128.2 83.2h0M57.3 67.3h0M80.5 37.4h0M62.8 35.3h0M64.0 27.5h0M98.8 159.0h0M53.9 134.4h0M28.9 61.3h0M88.1 37.5h0M75.6 147.3h0M6.1 11.8h0M55.0 129.0h0M63.0 129.4h0M54.4 31.6h0M73.8 64.8h0M178.8 72.3h0M135.7 55.2h0M114.2 37.1h0M49.0 30.7h0M57.0 32.1h0M9.4 39.9h0M122.8 25.2h0M27.0 18.8h0M64.3 24.7h0M155.0 60.0h0M104.7 138.6h0M77.2 63.9h0M89.9 40.2h0M71.5 40.3h0M57.7 152.4h0M74.1 172.1h0M110.9 85.2h0M186.4 62.9h0M116.9 23.9h0M125.4 94.3h0M63.9 79.4h0M56.0 115.6h0M170.8 47.5h0M150.6 75.4h0M52.6 37.5h0M117.4 103.6h0M116.3 46.4h0M98.8 110.8h0M128.0 92.5h0M133.5 60.6h0M73.6 10.2h0M124.2 59.4h0M106.3 52.0h0M12.7 36.0h0M74.9 39.8h0M175.1 55.8h0M142.2 37.0h0M79.0 78.5h0M119.5 20.3h0M61.8 64.9h0M150.6 74.2h0M87.9 46.1h0" fill="none" stroke="#d8404c" stroke-opacity="0.62" stroke-width="1.35" stroke-linecap="round"/></g>
<text transform="translate(396.90 1628.00) scale(1 1.040)" font-size="26.9" text-anchor="middle" fill="#000" stroke="#000" stroke-width="0.3">Astro 2</text>
<g transform="translate(306.6 1635.0) scale(0.982)"><use href="#brain"/><path d="M15.0 17.8h0M79.8 106.9h0M83.8 152.7h0M51.8 60.5h0M179.3 87.9h0M10.3 28.5h0M93.4 141.3h0M59.4 110.2h0M116.2 84.0h0M64.7 74.2h0M75.9 158.2h0M145.5 38.4h0M76.1 9.1h0M190.0 85.7h0M128.9 81.2h0M45.7 68.1h0M73.1 108.4h0M86.1 53.7h0M64.0 104.6h0M54.2 12.6h0M107.4 56.9h0M96.5 30.9h0M48.4 8.3h0M11.0 23.9h0M21.7 20.6h0M42.8 64.4h0M104.5 64.2h0M73.3 121.3h0M148.5 32.4h0M19.0 53.4h0M182.4 79.2h0M61.2 52.4h0M178.4 62.5h0M67.3 155.0h0M123.5 28.2h0M189.0 81.2h0M106.9 110.8h0M29.7 48.2h0M51.2 146.9h0M95.6 173.2h0M98.5 32.4h0M76.6 80.0h0M105.5 157.5h0M94.9 72.4h0M121.5 33.0h0M147.2 65.8h0M129.0 18.5h0M64.8 124.7h0M14.1 62.4h0M105.1 63.7h0M23.4 47.3h0M106.4 73.7h0M134.5 86.8h0M126.2 68.5h0M72.5 116.5h0M93.4 170.3h0M57.3 102.9h0M119.5 135.1h0M66.9 87.7h0M169.7 52.2h0M116.9 92.2h0M154.6 36.9h0M95.4 150.5h0M92.2 20.1h0M34.7 31.2h0M51.9 30.4h0M93.6 28.3h0M91.9 136.2h0M109.8 94.4h0M81.2 9.9h0M41.9 56.8h0M41.2 60.1h0M69.2 94.7h0M58.6 133.3h0M98.3 73.2h0M54.7 126.9h0M128.9 49.9h0M113.3 131.8h0M125.9 22.9h0M145.4 40.6h0M107.2 127.3h0M81.4 99.5h0M176.0 68.7h0M72.8 88.7h0M88.0 159.9h0M52.2 16.7h0M60.6 24.8h0M163.2 73.6h0M117.0 146.5h0M65.4 164.9h0M80.5 168.0h0M69.5 56.6h0M179.9 70.3h0M72.6 18.0h0M102.7 72.8h0M77.0 21.4h0M181.6 62.7h0M48.7 16.6h0M106.2 31.5h0M147.6 51.5h0M129.1 25.8h0M98.7 118.3h0M85.0 35.3h0M79.7 108.7h0M85.7 129.8h0M167.0 49.0h0M164.8 52.0h0M147.5 73.5h0M63.6 74.8h0M28.6 51.0h0M113.4 31.2h0M89.7 39.3h0M150.9 35.3h0M75.4 157.6h0M8.9 41.9h0M37.9 23.9h0M98.8 67.4h0M2.5 21.5h0M98.5 23.3h0M102.0 37.3h0M71.4 2.9h0M119.3 143.1h0M151.1 45.7h0M170.3 61.7h0M57.2 102.6h0M167.9 71.7h0M53.3 54.3h0M2.2 27.4h0M85.5 32.8h0M162.2 75.9h0M60.5 177.7h0M48.1 52.2h0M73.9 165.0h0M90.8 169.8h0M40.4 33.0h0M57.5 89.5h0M81.3 58.7h0M58.7 117.8h0M58.2 61.7h0M47.1 57.4h0M33.4 33.5h0M99.4 66.8h0M63.2 53.7h0M70.8 126.5h0M70.5 146.4h0M107.3 118.2h0M55.3 8.3h0M84.7 32.4h0M67.3 143.7h0M57.4 77.6h0M140.9 63.1h0M143.4 38.3h0M55.1 23.6h0M126.6 17.4h0M104.6 148.7h0M182.5 71.8h0M30.2 54.2h0M177.9 52.6h0M44.8 34.7h0M120.2 31.2h0M0.1 18.7h0M164.0 44.8h0M22.1 48.3h0M71.8 113.6h0M45.1 3.2h0M83.6 21.6h0M160.4 47.6h0M23.6 29.5h0M57.8 156.8h0M117.0 74.1h0M171.4 81.4h0M106.0 90.3h0M4.2 30.0h0M161.2 62.3h0M152.4 43.3h0M116.7 35.5h0M96.3 83.6h0M108.9 154.7h0M42.2 63.4h0M53.3 67.6h0M139.9 68.1h0M185.6 88.8h0M113.4 142.5h0M95.6 133.5h0M15.0 10.8h0M32.3 55.3h0M102.2 90.0h0M155.8 86.9h0M78.1 67.0h0M152.9 85.2h0M66.9 179.2h0M15.0 59.7h0M61.2 81.0h0M96.9 67.9h0M96.0 49.3h0M88.6 157.4h0M143.6 43.8h0M181.4 72.6h0M96.8 78.7h0M117.8 66.1h0M89.4 100.4h0M65.9 28.0h0M18.7 34.1h0M43.1 2.8h0M140.3 30.1h0M74.2 76.5h0M191.5 81.3h0M89.5 31.2h0M104.1 51.0h0M166.7 83.2h0M9.4 39.9h0M155.4 77.7h0M119.9 141.5h0M11.5 49.6h0M75.7 102.1h0M127.2 43.3h0M47.5 61.7h0M114.6 138.6h0M66.1 28.0h0M38.0 42.2h0M76.6 109.5h0M118.2 30.8h0M151.4 86.5h0M103.7 34.6h0M106.8 51.9h0M50.2 39.7h0M115.4 94.1h0M54.5 144.3h0M92.4 51.3h0M42.6 18.2h0M76.4 116.8h0M46.3 55.9h0M73.1 8.5h0M4.3 50.1h0M121.9 73.4h0M64.8 155.3h0M118.4 142.7h0M72.7 94.6h0M17.4 41.1h0M109.1 49.1h0M142.1 54.6h0M164.1 38.3h0M76.2 53.6h0M103.9 155.9h0M101.9 117.3h0M123.4 81.1h0M81.6 70.3h0M124.7 46.3h0M178.2 88.1h0M57.5 133.8h0M60.6 12.4h0M78.6 181.4h0M82.0 31.5h0M118.5 145.0h0M10.2 10.6h0M89.8 115.3h0M120.5 77.4h0M108.8 25.9h0M72.1 94.1h0M98.7 30.7h0M81.0 105.2h0M69.7 158.1h0M82.8 97.2h0M81.3 104.5h0M72.2 156.4h0M75.3 137.3h0M72.1 133.4h0M86.4 69.7h0M81.5 93.5h0M76.2 150.3h0M72.0 138.3h0M80.2 115.6h0M68.7 188.1h0M80.8 86.1h0M78.1 103.9h0M70.5 158.6h0M85.1 88.5h0M70.3 152.3h0M75.8 115.7h0M86.2 87.1h0M82.9 108.6h0M78.0 134.3h0M67.7 179.7h0M89.9 77.1h0M78.5 114.3h0M66.1 186.2h0M72.8 142.9h0M73.1 163.5h0M70.0 182.7h0M69.3 180.7h0M86.7 82.4h0M81.2 120.7h0M80.0 86.3h0M74.9 139.6h0M72.9 152.3h0M70.1 169.2h0M82.6 92.3h0M74.4 134.9h0M72.3 144.4h0M74.7 134.1h0M74.2 170.6h0M69.3 152.9h0M77.9 119.6h0M85.5 100.2h0M73.0 177.2h0M69.2 166.0h0M88.6 67.7h0M69.3 165.0h0M78.2 115.6h0M71.2 161.6h0M73.9 141.9h0M79.3 127.6h0M73.5 161.5h0M80.5 120.6h0M75.1 155.6h0M80.7 97.5h0M67.4 170.2h0M78.0 124.9h0M79.1 101.1h0M81.4 126.9h0M77.0 110.9h0M83.2 107.5h0M73.5 151.9h0M67.6 177.1h0M82.7 116.6h0M79.8 97.0h0M77.6 114.1h0M70.3 170.1h0M75.2 118.5h0M72.4 165.0h0M73.6 142.6h0M78.0 132.6h0M81.2 96.7h0M67.6 183.3h0M73.4 166.9h0M76.9 108.8h0M82.8 91.8h0M75.6 123.4h0M82.9 83.6h0M75.8 117.1h0M82.8 104.6h0M84.1 103.5h0M72.9 153.5h0M76.0 126.7h0M70.0 163.4h0M68.0 166.6h0M78.5 115.5h0M85.2 70.5h0M73.4 143.5h0M84.6 82.4h0M90.1 75.9h0M67.2 180.5h0M85.7 95.8h0M68.5 160.9h0M70.1 154.0h0M66.9 186.6h0M77.4 131.8h0M75.9 119.0h0M86.9 90.5h0M69.8 165.4h0M68.7 173.6h0M74.5 164.3h0M75.0 156.8h0M82.0 91.7h0M69.8 166.2h0M85.9 72.7h0M75.8 123.6h0M87.8 85.9h0M83.3 108.5h0M82.1 113.5h0M87.5 152.4h0M91.4 106.5h0M86.8 140.4h0M89.2 138.2h0M88.3 106.1h0M90.3 100.9h0M82.5 180.2h0M91.9 118.4h0M90.0 133.2h0M87.7 121.5h0M84.1 163.1h0M87.3 117.9h0M86.1 121.3h0M87.8 135.7h0M91.1 102.0h0M87.9 130.6h0M82.9 164.5h0M88.3 106.7h0M86.2 154.6h0M82.5 175.5h0M92.3 122.2h0M84.7 144.0h0M95.6 96.6h0M93.1 77.1h0M87.8 139.7h0M83.0 153.5h0M79.8 178.6h0M88.5 113.6h0M84.7 182.6h0M93.4 74.1h0M82.2 155.4h0M94.3 92.6h0M84.9 182.4h0M92.0 94.2h0M88.6 120.0h0M86.1 158.8h0M96.1 89.8h0M86.3 143.9h0M84.1 155.1h0M96.7 78.0h0M82.5 180.6h0M83.4 161.2h0M94.6 89.6h0M84.9 173.6h0M84.3 154.2h0M90.3 131.5h0M86.2 129.3h0M90.0 136.2h0M87.2 119.1h0M86.2 142.5h0M71.7 111.4h0M94.8 84.7h0M58.8 176.9h0M97.7 94.5h0M66.3 156.3h0M104.3 176.7h0M98.7 133.3h0M114.6 101.6h0M68.1 176.5h0M105.4 153.1h0M119.8 88.8h0M74.5 92.0h0M123.2 78.1h0M91.5 119.6h0M73.3 121.4h0M95.2 142.3h0M93.1 117.9h0M71.7 159.8h0M67.5 119.0h0M52.4 129.3h0M75.2 127.1h0M88.6 165.1h0M76.0 121.5h0M75.2 165.3h0M90.5 138.6h0M80.8 69.5h0M95.9 163.5h0M62.1 153.4h0M121.2 94.0h0M115.7 130.0h0M92.6 140.5h0M87.0 68.5h0M88.7 158.0h0M102.7 74.3h0M100.9 83.8h0M87.8 140.2h0M77.1 101.0h0M114.7 134.6h0M108.2 137.9h0M78.8 101.1h0M87.4 183.0h0M76.1 102.3h0M96.5 71.4h0M106.2 84.0h0M98.9 90.5h0M94.0 142.2h0M71.0 145.8h0M88.7 160.8h0M77.7 90.9h0M103.3 66.5h0M57.2 110.2h0M83.9 106.6h0M101.0 129.4h0M92.8 126.6h0M69.8 61.5h0M112.3 72.3h0M127.3 75.6h0M119.9 75.2h0M96.1 148.8h0M118.7 142.3h0M62.5 121.2h0M106.0 93.4h0M67.7 88.8h0M71.4 89.5h0M87.9 111.3h0M69.9 78.7h0M102.0 177.1h0M114.6 77.4h0M56.2 142.9h0M60.2 138.2h0M60.2 102.1h0M103.8 75.0h0M83.0 107.6h0M90.5 181.1h0M102.5 115.3h0M118.0 102.6h0M105.9 165.7h0M93.4 105.3h0M118.1 114.1h0M81.4 105.1h0" fill="none" stroke="#d8404c" stroke-opacity="0.62" stroke-width="1.35" stroke-linecap="round"/></g>
<text transform="translate(602.20 1628.00) scale(1 1.040)" font-size="26.9" text-anchor="middle" fill="#000" stroke="#000" stroke-width="0.3">Astro 3</text>
<g transform="translate(512.5 1635.0) scale(0.982)"><use href="#brain"/><path d="M105.2 37.4h0M66.3 34.4h0M125.9 71.5h0M46.0 61.2h0M73.1 50.4h0M104.4 124.3h0M84.7 69.5h0M133.8 74.7h0M59.4 70.0h0M108.9 96.0h0M5.8 8.6h0M55.4 18.5h0M98.9 99.0h0M131.4 94.0h0M79.6 119.7h0M83.7 18.4h0M115.8 130.8h0M72.0 58.4h0M111.4 107.1h0M17.8 50.6h0M43.8 60.4h0M132.0 51.1h0M85.1 7.4h0M100.8 75.7h0M19.4 56.3h0M53.1 126.9h0M58.9 47.8h0M113.3 64.2h0M68.2 89.6h0M127.5 27.9h0M71.9 139.2h0M164.1 60.9h0M102.6 161.1h0M71.4 12.9h0M96.8 63.2h0M98.3 61.9h0M67.7 75.5h0M176.4 48.9h0M115.8 145.7h0M38.3 12.9h0M39.7 56.9h0M92.7 45.9h0M103.5 33.4h0M67.5 93.5h0M118.4 63.0h0M90.9 56.1h0M94.3 15.4h0M86.2 23.4h0M113.5 132.2h0M55.5 11.0h0M72.0 119.7h0M74.9 103.7h0M65.6 138.9h0M73.4 50.0h0M85.5 56.0h0M71.4 134.8h0M153.9 75.2h0M52.4 38.0h0M159.0 52.9h0M75.0 155.6h0M95.4 40.3h0M111.7 104.5h0M110.9 104.5h0M66.4 191.0h0M29.9 50.5h0M80.3 106.9h0M83.5 34.5h0M21.2 62.2h0M90.8 71.5h0M99.2 156.8h0M43.9 6.4h0M64.7 71.9h0M127.5 49.5h0M85.0 149.9h0M85.7 66.2h0M53.9 3.8h0M63.8 93.8h0M154.5 68.2h0M89.2 152.2h0M42.6 55.9h0M104.4 58.1h0M178.4 82.4h0M98.7 125.1h0M123.2 22.0h0M94.5 122.5h0M29.9 5.4h0M125.3 88.1h0M12.3 34.7h0M9.8 46.8h0M146.9 42.0h0M89.6 98.1h0M106.1 107.0h0M91.6 44.6h0M77.7 6.6h0M16.5 61.5h0M89.5 18.9h0M155.7 80.7h0M159.6 55.5h0M159.1 34.5h0M160.3 76.6h0M94.7 55.9h0M83.5 147.3h0M147.0 87.0h0M118.2 31.7h0M117.2 129.7h0M81.8 119.4h0M56.9 117.9h0M96.2 32.8h0M107.5 86.6h0M47.1 38.5h0M24.9 19.9h0M134.0 30.2h0M79.2 76.7h0M94.3 116.9h0M37.0 23.2h0M38.4 34.6h0M51.7 64.0h0M103.8 94.9h0M59.7 85.6h0M93.2 45.1h0M29.7 29.2h0M180.3 70.5h0M54.8 53.4h0M119.8 115.0h0M55.4 28.8h0M61.8 56.1h0M83.9 156.5h0M133.6 92.2h0M166.6 70.4h0M114.8 76.0h0M85.1 183.4h0M154.9 60.1h0M160.1 55.9h0M190.0 85.7h0M38.9 62.0h0M89.7 130.4h0M33.4 26.7h0M27.5 53.3h0M97.6 19.2h0M8.5 56.1h0M59.2 131.2h0M80.7 84.5h0M57.6 62.9h0M115.3 103.6h0M156.3 82.3h0M71.6 113.9h0M64.7 81.3h0M109.8 18.8h0M114.0 82.1h0M88.6 137.6h0M174.2 45.6h0M181.6 62.6h0M124.2 50.0h0M102.8 110.4h0M23.8 34.7h0M114.0 130.9h0M75.1 82.2h0M119.8 150.5h0M95.1 30.4h0M72.0 83.7h0M171.8 84.6h0M72.0 23.2h0M3.8 44.3h0M129.3 69.9h0M137.0 36.1h0M78.8 108.3h0M134.7 66.7h0M72.2 41.5h0M79.0 31.8h0M149.7 48.6h0M182.7 56.4h0M106.4 101.2h0M50.9 65.4h0M152.7 35.6h0M112.0 35.0h0M114.4 36.0h0M130.6 86.9h0M177.8 76.5h0M136.3 48.0h0M42.0 34.1h0M57.4 57.7h0M91.1 172.6h0M146.1 53.8h0M72.0 96.2h0M86.4 175.1h0M33.2 38.9h0M144.1 32.9h0M118.5 137.8h0M81.6 103.6h0M126.3 37.2h0M65.4 102.9h0M186.2 84.2h0M10.1 21.3h0M77.6 37.3h0M172.2 86.3h0M161.9 76.7h0M64.1 180.4h0M88.6 139.3h0M60.2 107.8h0M81.4 166.5h0M68.8 57.8h0M80.9 18.1h0M101.1 101.8h0M68.4 49.4h0M67.1 108.9h0M183.5 77.6h0M95.7 82.7h0M157.4 62.3h0M141.7 43.1h0M154.3 84.5h0M97.6 111.0h0M51.9 124.4h0M108.2 106.6h0M54.4 71.4h0M128.6 54.1h0M83.2 178.6h0M61.4 101.7h0M67.8 133.7h0M134.6 36.6h0M9.1 43.0h0M147.7 86.5h0M70.5 170.0h0M85.3 157.3h0M16.1 38.9h0M72.1 151.7h0M114.4 89.0h0M181.0 75.5h0M0.6 44.5h0M144.0 75.9h0M78.3 24.6h0M40.8 22.8h0M69.8 144.8h0M185.5 75.1h0M23.0 30.7h0M92.0 13.0h0M88.8 18.8h0M105.6 63.3h0M121.3 73.2h0M48.2 34.0h0M85.8 144.7h0M68.5 99.2h0M102.6 49.8h0M99.7 94.0h0M73.7 134.1h0M128.2 86.0h0M58.6 179.1h0M74.3 91.7h0M105.8 33.8h0M112.2 161.9h0M85.3 84.7h0M51.2 29.1h0M49.7 8.1h0M55.2 134.4h0M25.6 8.2h0M16.2 13.5h0M95.9 159.8h0M100.4 42.7h0M31.0 36.4h0M123.0 67.8h0M114.5 43.0h0M37.8 53.4h0M37.2 55.2h0M100.8 49.8h0M60.2 5.8h0M90.5 160.0h0M60.3 57.8h0M75.6 110.3h0M68.0 185.6h0M70.2 152.3h0M95.9 64.2h0M95.1 39.5h0M104.4 121.7h0M90.4 151.2h0M65.8 125.8h0M92.7 178.5h0M62.4 121.9h0M15.1 7.8h0M115.7 52.7h0M95.0 14.9h0M132.0 38.0h0M95.5 77.7h0M92.8 144.0h0M155.4 88.5h0M82.1 110.9h0M47.8 66.1h0M103.8 53.9h0M61.1 99.6h0M59.8 110.7h0M15.7 13.2h0M58.2 37.9h0M84.3 49.8h0M90.8 151.8h0M73.0 105.9h0M117.0 59.3h0M75.5 137.8h0M110.8 150.4h0M19.6 36.9h0M67.6 78.5h0M4.1 47.9h0M109.9 34.2h0M99.3 171.5h0M152.4 63.7h0M177.1 64.2h0M101.9 31.7h0M13.0 62.2h0M110.1 148.4h0M63.2 12.7h0M95.1 165.3h0M147.5 47.9h0M86.3 125.7h0M98.2 74.7h0M36.5 62.6h0M92.2 167.1h0M102.8 26.1h0M12.1 57.6h0M22.9 19.1h0M91.3 43.7h0M55.8 13.7h0M101.5 93.3h0M86.7 179.9h0M91.3 163.9h0M101.4 86.8h0M28.2 39.1h0M101.9 182.7h0M68.9 183.7h0M97.5 127.8h0M66.5 120.4h0M49.2 28.4h0M49.1 14.3h0M98.6 121.4h0M141.2 66.2h0M122.9 70.2h0M80.2 55.1h0M11.7 33.5h0M108.3 43.3h0M46.4 32.0h0M71.0 145.4h0M143.5 38.4h0M147.8 52.7h0M87.7 142.6h0M82.7 88.6h0M59.7 178.0h0M36.4 11.2h0M63.0 114.2h0M119.4 59.8h0M82.4 117.6h0M115.4 97.7h0M77.4 46.6h0M99.1 122.0h0M55.4 39.2h0M58.2 99.0h0M11.8 43.0h0M143.0 84.1h0M66.5 94.1h0M66.0 28.8h0M60.0 190.4h0M76.1 120.7h0M58.1 9.2h0M153.8 84.5h0M108.6 117.2h0M53.5 10.2h0M72.9 79.9h0M93.7 165.9h0M132.3 52.5h0M71.8 125.8h0M115.5 73.4h0M62.0 167.7h0M65.2 122.4h0M107.6 95.2h0M25.7 25.5h0M80.7 78.9h0M55.9 122.6h0M105.1 131.8h0M70.8 45.4h0M80.2 107.6h0M158.5 61.4h0M166.5 81.9h0M34.1 50.4h0M50.7 53.0h0M101.3 52.7h0" fill="none" stroke="#d8404c" stroke-opacity="0.62" stroke-width="1.35" stroke-linecap="round"/></g>
<text transform="translate(799.70 1626.30) scale(1 1.040)" font-size="26.9" text-anchor="middle" fill="#000" stroke="#000" stroke-width="0.3">Endo 1</text>
<g transform="translate(711.2 1634.5) scale(0.982)"><use href="#brain"/><path d="M105.8 113.6h0M41.9 35.9h0M92.4 115.6h0M26.3 45.3h0M125.0 39.9h0M67.4 10.5h0M67.6 71.4h0M109.4 20.4h0M138.3 75.9h0M42.1 44.1h0M84.0 21.3h0M54.7 116.7h0M62.9 25.5h0M69.4 32.2h0M58.4 77.0h0M107.2 94.2h0M154.7 42.6h0M92.4 147.7h0M157.9 85.9h0M60.6 135.0h0M59.4 51.1h0M119.0 102.1h0M102.1 100.7h0M70.4 54.3h0M19.9 50.6h0M157.0 80.3h0M76.8 146.5h0M25.8 50.8h0M17.1 30.2h0M66.2 170.6h0M93.6 29.3h0M141.8 30.5h0M76.6 76.7h0M116.0 28.8h0M64.0 73.2h0M132.4 25.6h0M86.8 11.0h0M160.6 54.0h0M96.4 161.6h0M70.1 6.6h0M66.1 105.3h0M148.7 53.3h0M119.1 97.0h0M138.1 47.5h0M135.0 19.6h0M85.1 94.4h0M141.6 24.9h0M63.9 151.6h0M76.8 15.3h0M79.6 71.6h0M71.2 42.4h0M52.1 140.3h0M88.1 26.0h0M113.7 117.9h0M170.5 46.4h0M52.1 127.7h0M21.9 33.6h0M56.0 7.8h0M130.9 89.5h0M91.0 96.7h0M42.9 41.4h0M89.4 66.2h0M82.4 74.3h0M65.3 90.3h0M164.0 53.0h0M136.8 88.3h0M8.5 40.5h0M61.1 12.5h0M187.2 67.5h0M77.8 90.7h0M90.3 46.5h0M99.7 54.4h0M110.0 106.1h0M34.3 6.0h0M128.4 91.1h0M43.3 39.2h0M87.1 161.9h0M145.4 66.9h0M183.6 53.9h0M58.2 47.6h0M79.5 112.0h0M88.6 73.9h0M31.0 56.4h0M156.6 67.9h0M112.6 57.7h0M35.8 60.2h0M166.6 57.2h0M55.9 47.8h0M117.7 82.4h0M156.2 60.5h0M91.1 108.3h0M60.2 13.8h0M44.5 22.6h0M117.6 27.4h0M139.0 80.9h0M114.4 36.9h0M94.2 180.8h0M5.1 51.1h0M113.6 149.8h0M33.1 33.1h0M136.8 53.5h0M97.4 104.4h0M105.8 40.4h0M67.4 6.0h0M57.1 62.2h0M76.7 145.8h0M85.9 19.6h0M89.3 133.2h0M95.4 137.0h0M23.5 62.2h0M131.4 24.6h0M12.5 12.5h0M97.1 148.4h0M109.4 18.5h0M39.8 56.5h0M152.4 86.4h0M76.3 141.1h0M52.4 119.1h0M120.3 125.6h0M54.4 147.7h0M165.8 88.1h0M67.8 109.3h0M87.5 51.8h0M91.1 70.1h0M116.0 147.2h0M50.7 2.3h0M13.0 12.6h0M82.5 32.4h0M50.4 3.0h0M54.7 46.8h0M96.9 146.3h0M52.7 13.5h0M50.6 136.8h0M118.9 70.8h0M138.1 29.7h0M136.6 30.1h0M66.7 169.9h0M87.9 49.6h0M63.0 145.8h0M144.2 73.8h0M98.7 75.9h0M95.7 149.9h0M151.5 56.6h0M88.6 152.8h0M138.6 57.3h0M188.1 60.5h0M107.8 46.5h0M139.4 78.0h0M98.4 161.3h0M89.5 103.3h0M63.5 78.1h0M58.2 142.1h0M136.5 63.3h0M70.3 13.2h0M174.7 52.6h0M19.6 37.2h0M108.2 77.9h0M32.0 28.8h0M119.3 134.5h0M101.7 151.4h0M100.0 131.7h0M10.8 28.8h0M78.1 118.0h0M176.5 56.2h0M45.5 14.8h0M99.1 15.4h0M77.7 28.4h0M8.0 33.5h0M102.2 76.3h0M138.5 55.2h0M34.9 44.7h0M21.5 22.7h0M106.4 168.9h0M106.0 150.5h0M143.2 41.5h0M78.5 182.2h0M185.3 79.9h0M64.5 152.1h0M48.4 29.4h0M115.7 128.0h0M84.1 149.2h0M181.2 87.9h0M129.9 72.2h0M118.8 66.5h0M68.8 90.5h0M115.2 75.8h0M62.0 111.3h0M115.8 111.3h0M107.9 28.7h0M51.8 69.7h0M175.8 63.8h0M56.1 41.8h0M17.1 20.7h0M148.7 75.3h0M15.1 59.1h0M101.3 64.3h0M107.7 102.9h0M72.0 173.4h0M77.5 73.1h0M69.5 38.1h0M144.4 42.4h0M102.0 121.0h0M122.1 43.2h0M40.4 33.0h0M133.3 63.9h0M106.5 129.1h0M118.7 111.2h0M14.3 11.2h0M0.8 15.7h0M56.9 128.9h0M167.8 41.4h0M18.6 47.4h0M77.3 55.2h0M146.9 60.0h0M81.5 99.2h0M30.6 52.2h0M81.0 100.1h0M66.2 186.4h0M118.5 85.0h0M79.2 56.9h0M43.0 70.2h0M96.3 167.5h0M74.3 63.7h0M9.5 38.2h0M50.6 150.3h0M71.7 102.9h0M24.6 45.1h0M111.6 24.7h0M90.4 103.9h0M20.9 24.0h0M47.3 32.0h0M65.4 34.1h0M115.5 104.1h0M109.0 26.5h0M75.1 152.5h0M107.7 28.3h0M178.0 60.7h0M60.3 89.4h0M64.2 106.1h0M145.3 37.9h0M114.8 37.8h0M103.2 71.6h0M14.3 42.1h0M170.5 70.6h0M11.2 62.6h0M131.9 61.2h0M36.9 61.4h0M61.5 77.3h0M84.1 68.7h0M100.1 125.0h0M60.8 27.1h0M73.4 25.5h0M60.4 147.1h0M35.2 45.6h0M46.7 17.9h0M35.2 11.5h0M120.2 46.0h0M86.4 95.4h0M58.3 101.5h0M36.3 60.1h0M91.3 110.7h0M71.0 26.0h0M110.2 75.6h0M58.8 148.6h0M190.7 88.4h0M5.3 44.9h0M30.6 6.6h0M54.6 42.6h0M82.3 15.2h0M149.9 53.5h0M96.5 15.6h0M104.1 141.7h0M36.2 3.7h0M69.5 35.6h0M46.9 17.0h0M140.3 54.5h0M88.5 114.8h0M53.6 26.4h0M70.8 19.4h0M104.9 153.6h0M58.0 152.9h0M33.0 59.5h0M5.3 36.4h0M68.0 35.0h0M87.3 120.1h0M1.9 44.7h0M86.2 175.1h0M140.1 44.3h0M82.8 174.3h0M26.0 5.9h0M42.0 34.1h0M110.5 161.9h0M52.8 23.9h0M36.2 2.9h0M47.0 62.3h0M85.0 152.1h0M30.0 26.9h0M64.9 121.9h0M51.5 50.8h0M52.7 129.3h0M83.6 69.0h0M59.2 0.8h0M88.7 162.9h0M53.6 57.0h0M75.4 94.0h0M12.7 34.0h0M72.0 116.3h0M96.1 130.8h0M49.2 62.9h0M108.8 132.5h0M98.8 56.8h0M79.8 173.9h0M112.5 110.8h0M43.2 61.7h0M61.4 43.7h0M127.7 18.2h0M1.8 51.3h0M89.3 129.7h0M66.7 157.1h0M30.5 6.5h0M85.0 49.1h0M101.8 90.9h0M0.7 54.3h0M49.5 70.4h0M146.7 78.9h0M84.5 68.6h0M33.5 35.5h0M113.5 122.8h0M32.9 53.6h0M127.7 17.3h0M64.5 155.6h0M32.3 29.9h0M26.6 14.3h0M98.8 29.9h0M156.4 43.4h0M1.6 22.5h0M111.8 35.6h0M69.8 34.6h0M65.8 88.7h0M89.1 80.7h0M79.5 78.5h0M2.9 39.3h0M107.9 109.9h0M102.9 175.5h0M54.9 124.5h0M107.7 99.0h0M136.3 76.9h0M110.1 53.2h0M101.4 112.0h0M151.4 72.3h0M86.3 174.6h0M189.8 88.8h0M83.3 102.8h0M74.0 10.8h0M102.4 121.0h0M71.0 176.3h0M73.2 115.4h0M72.0 133.5h0M93.5 74.4h0M88.9 110.1h0M95.4 94.3h0M92.8 153.1h0M170.8 74.7h0M62.7 49.5h0M105.2 74.4h0M97.8 115.8h0M105.9 160.5h0M98.8 26.7h0M9.5 31.1h0M87.9 46.1h0M91.9 104.1h0M20.4 14.8h0M66.4 185.7h0M89.4 74.1h0M13.0 24.7h0M6.5 29.2h0M80.7 80.5h0M99.7 150.6h0M181.0 83.7h0M118.2 21.1h0M117.0 82.2h0M65.6 105.9h0M75.7 126.9h0M88.1 110.1h0M59.8 163.9h0M86.4 182.1h0M181.0 75.5h0M70.3 132.7h0M187.1 88.8h0M111.3 86.0h0M51.0 149.8h0M109.2 25.5h0M141.8 67.6h0M157.6 49.1h0M78.3 61.4h0M81.8 178.6h0M162.8 68.2h0M183.5 70.9h0M28.4 57.2h0M151.6 85.1h0M77.4 128.2h0M156.4 85.2h0M93.7 10.7h0M152.0 87.8h0M116.2 88.2h0M72.1 74.2h0M12.7 45.5h0M72.3 129.5h0M161.4 50.3h0M85.8 180.9h0M110.8 39.7h0M7.5 50.1h0M16.3 27.0h0M61.9 11.9h0M145.5 44.8h0M85.9 66.3h0M104.7 139.2h0M109.3 159.2h0M143.4 55.9h0M129.4 76.9h0M115.2 55.0h0M102.6 33.0h0M111.5 147.0h0M57.0 41.5h0M67.5 133.8h0M117.8 28.4h0M170.2 58.7h0M25.0 15.2h0M26.4 42.1h0M67.1 136.7h0M49.8 64.9h0M159.7 51.6h0M71.9 63.3h0M17.9 63.2h0M79.3 137.2h0M34.3 29.1h0M135.0 57.2h0M92.7 133.6h0M117.3 104.4h0M134.5 39.0h0M64.1 47.8h0M116.4 108.3h0M97.2 115.9h0M112.0 36.4h0M74.3 2.5h0M74.2 91.3h0M107.0 99.2h0M75.1 133.1h0M85.5 137.7h0M128.4 43.0h0M17.8 54.1h0M99.5 49.1h0M161.7 88.7h0M71.6 47.7h0M102.4 143.4h0M138.5 55.7h0M88.7 178.6h0M37.5 21.5h0M125.2 81.0h0M31.0 35.7h0M107.8 135.0h0M144.0 59.1h0M75.3 14.3h0M149.4 87.3h0M31.0 60.2h0M136.4 82.1h0M95.1 169.3h0M58.7 59.6h0M109.4 31.9h0M89.0 8.6h0M21.8 18.1h0M151.7 73.6h0M82.0 28.0h0M65.1 9.7h0M40.8 43.6h0M11.0 27.5h0M132.9 29.5h0M9.4 39.2h0M95.9 24.4h0M83.3 63.3h0M32.0 60.4h0M168.4 70.3h0M99.4 54.2h0M77.1 59.3h0M110.7 25.3h0M116.7 54.5h0M71.1 125.8h0M98.9 124.3h0M150.8 53.1h0M24.6 54.0h0M104.2 165.8h0M65.4 35.6h0M85.9 98.4h0M143.9 32.8h0M190.6 71.6h0M3.0 46.5h0M87.4 147.3h0M79.1 60.1h0M99.9 126.4h0M151.9 68.9h0M112.1 73.7h0M115.1 109.3h0M125.3 78.1h0M64.0 143.9h0M37.8 24.7h0M171.0 53.0h0M55.2 62.3h0M59.9 161.1h0M61.1 23.3h0M86.6 65.4h0M73.8 76.4h0M151.7 52.1h0M53.1 21.0h0M82.4 83.1h0M66.1 123.8h0M141.6 67.9h0M160.4 69.4h0M78.9 57.7h0M82.1 72.2h0M70.1 84.9h0M5.2 35.1h0M12.5 36.0h0M60.8 124.7h0M72.5 47.0h0M164.8 44.3h0M12.4 58.7h0M44.2 45.2h0M109.1 21.8h0M66.2 160.6h0M148.1 46.8h0M88.6 51.5h0M54.6 24.3h0M163.9 37.9h0M90.1 54.5h0M166.7 80.2h0M145.0 77.1h0M93.2 16.9h0M161.1 74.7h0M24.6 41.5h0M24.0 25.5h0M102.1 94.9h0M172.9 68.0h0M108.4 50.4h0M154.7 72.6h0M10.5 47.2h0M109.0 60.8h0M107.2 131.2h0M71.4 82.8h0M141.2 45.6h0M174.9 84.9h0M37.0 35.5h0M87.8 79.7h0M99.0 170.5h0M13.8 51.6h0M139.9 70.1h0M8.7 20.9h0M107.8 31.7h0M76.4 27.6h0M134.0 35.0h0M81.7 75.2h0M141.3 22.2h0M101.9 116.0h0M69.8 148.0h0M54.5 54.2h0M81.6 110.7h0M13.4 32.2h0M76.3 102.0h0M104.7 71.9h0M58.5 116.6h0M82.7 172.9h0M55.9 134.7h0M104.4 126.7h0M53.3 32.1h0M107.2 132.1h0M68.2 63.0h0M171.9 85.4h0M80.3 122.0h0M107.1 134.1h0M23.0 21.7h0M73.9 164.6h0M144.9 44.9h0M125.5 80.7h0M86.1 124.6h0M94.1 46.7h0M167.8 67.3h0M104.9 131.6h0M111.7 70.6h0M159.2 88.8h0M79.1 77.5h0M58.7 85.7h0M73.2 168.4h0M106.3 67.8h0M120.0 132.1h0M98.1 145.0h0M64.2 115.6h0M83.0 19.8h0M118.6 145.9h0M59.0 98.9h0M162.1 47.1h0M152.9 70.8h0M105.6 77.9h0M143.6 62.8h0M149.6 65.1h0M0.4 37.3h0M37.1 7.0h0M19.0 14.1h0M94.4 109.4h0M84.2 60.3h0M62.9 123.7h0M90.0 23.9h0M71.4 89.2h0M35.3 41.8h0M61.8 20.2h0M38.9 3.4h0M117.9 132.9h0M73.0 20.7h0M163.9 44.0h0M109.7 23.3h0M0.9 32.3h0M74.6 60.2h0M140.8 45.9h0M177.0 64.9h0M12.9 59.8h0M119.5 145.9h0M83.2 175.0h0M3.0 45.1h0M13.5 8.3h0M99.6 49.6h0M95.1 67.5h0M144.1 58.5h0M40.1 22.1h0M80.2 12.4h0M133.3 94.5h0M90.0 34.7h0M72.2 171.6h0M100.0 27.5h0M104.5 108.4h0M52.7 137.9h0M94.1 96.0h0M59.9 138.5h0M144.0 75.6h0M60.8 128.0h0M143.2 31.6h0M4.4 43.7h0M67.0 103.6h0M67.9 104.9h0M100.3 56.7h0M39.1 42.3h0M69.7 14.3h0M90.8 60.2h0" fill="none" stroke="#d8404c" stroke-opacity="0.62" stroke-width="1.35" stroke-linecap="round"/></g>
<text transform="translate(1002.80 1626.30) scale(1 1.040)" font-size="26.9" text-anchor="middle" fill="#000" stroke="#000" stroke-width="0.3">Endo 2</text>
<g transform="translate(915.5 1635.0) scale(0.982)"><use href="#brain"/><path d="M94.3 159.8h0M144.7 78.5h0M76.1 65.9h0M75.7 82.2h0M85.7 87.4h0M159.8 79.0h0M96.7 176.6h0M115.9 86.9h0M99.7 54.0h0M154.5 50.9h0M137.8 54.1h0M92.9 157.9h0M1.3 45.7h0M25.0 62.2h0M52.2 148.1h0M26.5 5.9h0M103.4 177.9h0M90.1 14.9h0M26.3 58.3h0M12.5 49.8h0M141.3 84.9h0M182.9 70.6h0M109.8 54.2h0M116.3 23.9h0M107.4 127.5h0M48.4 11.8h0M77.0 52.6h0M8.2 37.9h0M94.6 86.0h0M30.3 5.8h0M126.6 23.7h0M56.9 44.8h0M137.6 71.8h0M63.1 52.0h0M120.4 89.3h0M79.1 114.5h0M92.2 167.4h0M138.5 29.2h0M78.6 139.4h0M59.6 159.7h0M35.1 47.2h0M114.2 147.0h0M89.2 73.4h0M183.9 60.6h0M66.0 34.8h0M158.5 79.2h0M192.4 80.3h0M42.3 59.3h0M77.0 53.9h0M77.8 82.7h0M71.9 148.8h0M66.8 46.1h0M104.1 62.8h0M166.6 40.1h0M105.2 173.7h0M21.2 40.5h0M185.6 75.2h0M96.2 75.0h0M100.9 166.2h0M32.0 9.0h0M177.6 74.0h0M119.0 108.3h0M148.5 39.4h0M112.7 105.2h0M24.4 29.4h0M53.9 1.9h0M62.7 51.6h0M71.6 41.3h0M106.5 140.6h0M128.5 90.4h0M119.0 46.5h0M44.3 43.7h0M175.7 49.6h0M137.9 71.8h0M172.1 88.2h0M70.3 181.9h0M83.5 73.5h0M64.9 162.0h0M9.8 50.8h0M99.7 18.7h0M96.8 103.3h0M92.6 111.3h0M110.3 65.4h0M136.1 75.4h0M44.1 25.2h0M81.0 16.4h0M60.2 97.6h0M55.6 24.3h0M26.4 34.0h0M16.5 63.8h0M101.9 143.6h0M97.5 101.0h0M85.0 5.4h0M41.1 4.1h0M111.5 133.4h0M74.8 135.9h0M63.8 113.7h0M90.0 95.9h0M27.5 31.4h0M66.5 35.3h0M107.5 166.9h0M63.4 147.2h0M52.8 61.2h0M178.0 88.4h0M164.8 77.3h0M96.5 177.3h0M47.2 70.6h0M35.9 57.5h0M175.9 74.3h0M91.4 169.4h0M133.1 76.9h0M48.0 59.2h0M26.1 28.8h0M86.2 144.7h0M144.0 37.9h0M71.3 5.2h0M89.3 28.4h0M69.1 129.1h0M153.3 45.3h0M84.0 90.1h0M99.5 115.0h0M110.5 162.7h0M162.7 57.8h0M100.6 81.4h0M56.2 66.3h0M74.0 73.1h0M138.8 87.5h0M131.2 56.1h0M58.3 76.5h0M76.4 79.2h0M59.7 119.3h0M100.1 149.7h0M166.4 64.2h0M167.0 70.8h0M192.6 79.1h0M57.6 37.2h0M3.0 42.7h0M87.3 28.9h0M95.5 119.4h0M46.6 19.1h0M72.9 149.3h0M81.2 72.7h0M142.4 37.7h0M92.5 136.7h0M167.7 68.0h0M149.5 57.1h0M83.5 160.3h0M141.1 71.3h0M17.1 59.3h0M76.0 150.0h0M37.8 19.7h0M106.5 25.9h0M165.9 49.6h0M73.7 165.4h0M104.2 72.5h0M128.0 61.6h0M71.8 136.6h0M71.7 57.4h0M14.1 42.9h0M113.1 146.2h0M13.7 29.9h0M104.8 112.7h0M86.9 22.5h0M54.2 14.5h0M69.1 137.0h0M181.8 59.3h0M65.4 32.4h0M25.4 52.5h0M183.6 88.2h0M16.6 6.5h0M86.2 55.7h0M55.4 66.7h0M113.4 123.4h0M66.1 147.3h0M48.3 68.6h0M38.9 49.2h0M51.0 49.5h0M83.2 148.9h0M77.1 11.2h0M144.0 31.4h0M168.5 63.1h0M17.5 54.1h0M43.5 36.5h0M72.1 135.9h0M10.2 12.6h0M64.6 73.5h0M12.1 20.1h0M140.2 53.8h0M83.6 110.9h0M57.3 103.6h0M154.4 33.9h0M65.5 167.9h0M179.4 77.3h0M104.7 21.0h0M118.1 121.4h0M168.2 53.7h0M103.1 52.4h0M142.9 44.5h0M156.7 53.1h0M98.5 35.5h0M89.2 43.4h0M83.2 18.9h0M91.8 98.4h0M24.7 56.7h0M80.0 71.0h0M192.6 82.9h0M51.4 41.7h0M90.2 170.7h0M80.0 75.1h0M29.4 19.4h0M155.9 80.2h0M138.4 33.8h0M73.3 47.2h0M27.8 26.8h0M66.0 125.4h0M71.5 117.8h0M90.9 148.5h0M173.0 52.9h0M5.3 38.5h0M95.9 135.4h0M14.3 52.0h0M86.9 165.8h0M108.9 161.3h0M26.9 32.3h0M83.8 25.6h0M155.1 34.2h0M62.9 100.6h0M84.3 42.2h0M134.1 46.7h0M59.7 190.9h0M55.5 25.0h0M103.8 33.3h0M131.0 74.3h0M116.5 149.3h0M83.6 86.0h0M90.7 157.4h0M157.8 67.3h0M61.3 71.3h0M157.7 88.4h0M99.9 139.1h0M103.1 149.6h0M7.5 41.9h0M113.0 145.0h0M18.6 11.1h0M7.7 17.8h0M80.6 83.6h0M86.1 44.3h0M91.9 181.6h0M63.8 5.2h0M143.7 39.8h0M18.7 9.5h0M73.3 118.3h0M87.8 23.9h0M153.0 75.6h0M135.2 53.3h0M129.9 83.2h0M77.2 65.6h0M107.7 61.9h0M45.5 38.1h0M152.5 40.1h0M59.3 158.2h0M106.8 26.3h0M166.7 70.7h0M100.0 129.2h0M73.4 78.6h0M72.1 35.0h0M81.4 41.0h0M138.3 45.8h0M140.3 75.1h0M83.7 6.0h0M57.5 18.5h0M38.2 6.2h0M98.3 122.1h0M116.2 42.7h0M93.8 108.7h0M106.5 69.9h0M84.9 5.3h0M16.8 19.4h0M63.3 133.6h0M98.1 20.7h0M65.3 92.9h0M118.8 101.8h0M82.0 31.9h0M156.5 82.0h0M148.5 76.5h0M79.4 89.1h0M96.8 125.9h0M68.6 75.7h0M86.5 71.4h0M99.5 104.9h0M177.5 63.6h0M80.5 111.7h0M11.4 13.0h0M105.1 138.4h0M118.6 44.3h0M148.2 49.2h0M15.4 24.2h0M142.3 78.8h0M79.9 33.8h0M138.8 68.2h0" fill="none" stroke="#d8404c" stroke-opacity="0.62" stroke-width="1.35" stroke-linecap="round"/></g>
<text transform="translate(1206.20 1625.20) scale(1 1.040)" font-size="26.9" text-anchor="middle" fill="#000" stroke="#000" stroke-width="0.3">Endo 3</text>
<g transform="translate(1118.7 1634.5) scale(0.982)"><use href="#brain"/><path d="M50.5 142.5h0M86.0 28.3h0M87.1 22.7h0M44.3 34.1h0M20.6 20.7h0M102.8 89.3h0M71.3 25.5h0M33.8 10.9h0M96.2 171.5h0M74.9 110.3h0M92.7 169.6h0M0.6 18.0h0M76.6 120.4h0M79.5 176.5h0M53.9 149.1h0M86.4 42.2h0M66.7 90.7h0M138.4 73.2h0M185.2 72.2h0M36.0 50.2h0M72.1 111.1h0M77.0 82.9h0M171.5 76.6h0M113.8 72.4h0M88.6 14.5h0M169.3 60.9h0M145.5 69.0h0M124.9 44.6h0M86.9 67.1h0M27.4 12.2h0M118.6 39.0h0M48.0 27.1h0M84.5 93.7h0M116.4 63.2h0M113.7 79.0h0M72.7 40.0h0M26.4 4.5h0M70.0 112.6h0M132.6 53.6h0M67.3 96.3h0M42.6 62.7h0M46.8 20.6h0M78.7 104.1h0M189.6 62.8h0M91.6 173.3h0M43.9 68.5h0M52.4 143.1h0M51.4 115.2h0M96.1 18.9h0M16.4 52.6h0M169.3 64.1h0M117.8 112.0h0M104.0 34.3h0M115.6 32.1h0M173.5 54.7h0M101.2 41.9h0M104.6 68.1h0M62.8 74.0h0M52.2 126.2h0M53.5 3.0h0M163.2 47.0h0M75.3 165.2h0M111.3 80.7h0M188.6 73.2h0M56.3 7.4h0M111.1 126.6h0M66.4 10.4h0M105.8 59.5h0M73.2 115.6h0M143.0 33.0h0M3.2 51.7h0M70.2 47.6h0M82.1 30.3h0M113.0 32.1h0M82.4 85.0h0M99.9 51.5h0M1.7 19.9h0M101.8 98.6h0M104.1 72.9h0M71.9 20.4h0M84.9 87.1h0M165.1 77.6h0M72.1 9.4h0M102.0 124.8h0M46.0 13.3h0M54.5 143.5h0M148.0 38.6h0M181.0 78.3h0M83.4 177.8h0M59.4 61.2h0M107.8 116.6h0M78.3 64.8h0M108.4 161.7h0M109.3 145.9h0M64.9 97.3h0M150.1 31.0h0M52.1 3.9h0M101.9 54.2h0M44.8 56.6h0M64.8 44.2h0M27.0 48.5h0M117.4 133.3h0M139.2 44.5h0M167.5 68.9h0M60.7 60.3h0M107.0 46.3h0M20.8 6.0h0M142.6 84.3h0M78.2 2.9h0M2.2 47.7h0M12.0 34.7h0M115.1 140.8h0M90.8 179.3h0M58.0 145.8h0M42.6 14.7h0M89.5 177.9h0M92.8 97.3h0M66.0 51.7h0M38.0 48.6h0M69.4 24.1h0M60.5 145.0h0M127.7 71.1h0M5.6 22.5h0M117.0 135.2h0M119.1 70.2h0M124.5 41.0h0M70.2 7.8h0M79.6 11.9h0M86.9 160.9h0M132.5 78.7h0M71.7 190.6h0M121.4 63.4h0M104.2 126.8h0M91.9 183.6h0M20.3 50.1h0M59.0 143.2h0M84.3 174.8h0M92.8 144.7h0M61.0 185.5h0M64.9 118.1h0M71.4 35.8h0M60.7 63.5h0M116.2 33.1h0M80.3 102.3h0M85.8 124.4h0M59.6 88.6h0M81.1 15.0h0M0.9 15.2h0M112.9 143.0h0M103.1 54.2h0M61.9 190.6h0M67.7 173.7h0M86.0 96.6h0M27.6 53.8h0M88.4 85.2h0M78.9 133.8h0M24.1 19.0h0M107.9 102.2h0M163.7 64.3h0M66.1 14.5h0M128.5 53.0h0M80.8 28.4h0M72.6 97.3h0M109.2 122.8h0M21.1 36.0h0M54.4 7.7h0M31.5 19.4h0M18.7 62.7h0M119.7 104.3h0M54.6 32.9h0M82.1 68.3h0M59.3 175.2h0M110.1 82.3h0M76.3 55.8h0M105.1 20.4h0M36.8 7.8h0M90.1 164.4h0M94.7 46.3h0M85.9 30.6h0M94.7 103.4h0M148.7 82.1h0M34.4 62.4h0M69.4 6.8h0M102.6 89.1h0M148.5 47.9h0M124.3 53.6h0M95.0 126.7h0M22.1 5.3h0M12.8 42.9h0M115.2 117.1h0M110.0 44.7h0M66.7 135.5h0M148.8 66.4h0M22.7 12.2h0M74.9 113.7h0M11.9 18.1h0M178.0 73.9h0M79.1 179.5h0M38.6 63.0h0M96.8 113.9h0M77.0 90.5h0M165.7 73.0h0M62.7 160.2h0M105.8 25.1h0M72.5 100.3h0M64.0 80.2h0M165.5 63.8h0M144.2 30.0h0M59.0 35.8h0M182.6 62.5h0M128.3 43.4h0M40.8 34.9h0M138.8 47.2h0M101.9 51.5h0M108.9 23.6h0M61.6 165.9h0M49.3 37.1h0M21.4 33.0h0M161.5 36.8h0M42.9 6.6h0M32.1 27.6h0M58.5 2.5h0M157.9 80.0h0M137.0 75.5h0M116.0 24.3h0M62.7 70.0h0M83.4 73.8h0M182.1 63.1h0M10.8 31.2h0M65.8 170.7h0M100.6 59.0h0M62.9 43.2h0M53.6 121.4h0M88.9 16.0h0M70.1 124.8h0M135.9 53.8h0M69.2 48.5h0M80.6 112.7h0M90.6 137.8h0M139.7 56.3h0M158.9 56.2h0M76.4 137.9h0M89.2 139.9h0M186.0 76.6h0M55.3 61.6h0M120.1 110.2h0M45.2 44.9h0M41.9 38.3h0M80.3 72.6h0M58.6 136.3h0M98.3 114.6h0M42.0 48.8h0M51.3 72.2h0M61.5 158.5h0M59.2 133.6h0M139.8 81.1h0M113.3 127.5h0M110.5 164.5h0M68.8 54.0h0M2.4 24.9h0M70.7 87.5h0M142.8 40.4h0M147.1 62.1h0M69.9 121.3h0M55.8 132.5h0M110.2 103.6h0M62.0 139.0h0M52.3 53.4h0M86.3 6.7h0M74.0 98.2h0M43.4 30.1h0M117.2 80.5h0M66.2 123.3h0M85.7 77.0h0M145.6 44.2h0M74.2 133.7h0M84.9 4.5h0M94.9 17.9h0M54.4 44.1h0M138.3 35.8h0M153.1 67.2h0M17.6 44.2h0M113.4 102.1h0M94.9 33.7h0M90.7 117.2h0M102.3 176.2h0M62.5 46.6h0M146.1 84.7h0M43.7 4.1h0M67.3 5.6h0M63.1 78.5h0M69.3 133.7h0M187.9 58.1h0M104.9 166.4h0M100.3 123.8h0M63.2 61.1h0M49.4 1.5h0M149.3 78.6h0M148.6 41.3h0M136.9 59.6h0M108.7 108.1h0M69.6 19.9h0M26.4 54.0h0M74.2 26.8h0M75.0 52.9h0M61.9 46.6h0M76.8 141.9h0M73.8 124.6h0M102.9 176.1h0M76.5 14.6h0M17.3 23.6h0M92.4 171.4h0M127.8 21.5h0M147.2 27.0h0M22.2 12.1h0M104.9 126.4h0M86.7 37.0h0M49.1 52.8h0M137.0 24.5h0M167.0 68.5h0M116.3 23.9h0M65.8 156.7h0M8.6 48.8h0M93.3 51.8h0M112.7 99.0h0M45.6 71.3h0M28.2 30.5h0M26.1 28.9h0M63.0 138.3h0M96.5 112.1h0M5.1 26.9h0M2.9 35.0h0M34.8 17.9h0M6.4 21.4h0M12.0 39.3h0M19.0 34.3h0M3.0 28.2h0M40.7 17.3h0M35.2 24.7h0M21.3 14.4h0M36.0 26.4h0M40.8 13.1h0M13.1 28.9h0M41.3 8.0h0M43.3 12.5h0M39.1 32.1h0M4.0 26.9h0M28.9 19.3h0M38.8 12.4h0M41.5 19.2h0M19.9 23.1h0M20.9 19.3h0M38.2 25.5h0M27.0 35.0h0M30.3 31.0h0M48.3 16.4h0M3.8 23.4h0M25.4 25.9h0M9.6 10.5h0M15.4 37.7h0M21.1 38.1h0M25.4 20.8h0M24.9 33.1h0M40.2 30.1h0M46.0 12.2h0M22.2 11.2h0M19.4 17.1h0M35.5 15.8h0M44.4 8.2h0M37.3 25.7h0M27.1 14.4h0M27.3 30.5h0M43.4 19.9h0M34.5 14.9h0M15.7 5.7h0M43.3 18.9h0M30.7 26.1h0M23.4 16.4h0M4.5 29.1h0M12.6 36.0h0M24.6 39.5h0M10.9 25.1h0M19.7 32.5h0M9.0 27.4h0M15.1 22.3h0M40.3 6.3h0M13.9 9.6h0M45.5 33.1h0M34.8 12.7h0M17.9 26.1h0" fill="none" stroke="#d8404c" stroke-opacity="0.62" stroke-width="1.35" stroke-linecap="round"/></g>
<text transform="translate(1407.90 1626.30) scale(1 1.040)" font-size="26.9" text-anchor="middle" fill="#000" stroke="#000" stroke-width="0.3">Endo 4</text>
<g transform="translate(1320.5 1635.5) scale(0.982)"><use href="#brain"/><path d="M119.2 55.6h0M67.9 74.3h0M32.6 63.6h0M108.1 134.3h0M163.7 55.3h0M83.6 14.8h0M131.6 38.7h0M58.1 148.8h0M188.6 59.0h0M117.4 120.5h0M66.3 180.2h0M175.3 80.0h0M102.8 104.7h0M90.3 51.9h0M67.3 49.5h0M16.0 36.7h0M149.1 45.8h0M131.3 70.8h0" fill="none" stroke="#d8404c" stroke-opacity="0.62" stroke-width="1.35" stroke-linecap="round"/></g>
<text transform="translate(1613.20 1631.50) scale(1 1.040)" font-size="26.9" text-anchor="middle" fill="#000" stroke="#000" stroke-width="0.3">Endo 5</text>
<g transform="translate(1527.1 1640.2) scale(0.982)"><use href="#brain"/><path d="M131.2 67.9h0M99.9 167.8h0M139.0 55.9h0M114.5 40.3h0M99.5 128.6h0M20.1 44.1h0M133.0 70.6h0M73.6 111.7h0M108.0 76.9h0M104.4 74.2h0M91.4 95.2h0M130.9 66.0h0M85.0 48.6h0M78.1 66.3h0M57.8 107.7h0M144.1 58.5h0M74.8 164.7h0M118.8 145.8h0M143.9 38.6h0M175.8 80.2h0M67.9 76.6h0M97.8 137.4h0M69.5 128.6h0M106.4 47.1h0M67.2 89.5h0M36.6 5.9h0M121.0 93.6h0M127.9 63.5h0M9.2 17.6h0M133.1 61.7h0M41.9 38.3h0M154.5 76.4h0M55.5 144.7h0M89.9 122.3h0M13.4 27.3h0M61.5 149.2h0M10.0 25.4h0M35.1 54.5h0M103.8 55.8h0M70.5 158.3h0M123.3 49.2h0M162.8 84.3h0M104.7 153.8h0M117.7 120.1h0M114.5 40.7h0M121.6 32.3h0M102.0 67.1h0M95.4 181.2h0M122.1 51.5h0M130.6 34.3h0M68.8 146.6h0M58.2 33.8h0M68.4 112.9h0M76.4 116.9h0M22.1 13.5h0M104.3 73.7h0M27.0 57.9h0M81.2 108.6h0M86.2 178.2h0M57.6 81.6h0M4.4 48.2h0M122.1 31.7h0M29.5 64.2h0M182.4 66.4h0M64.0 181.0h0M140.7 35.0h0M57.7 103.2h0M66.1 170.2h0M62.0 107.6h0M43.3 5.6h0M71.0 21.8h0M163.7 52.7h0M50.5 62.8h0M104.0 26.8h0M76.1 28.3h0M159.8 50.9h0M110.2 36.9h0M131.5 81.9h0M100.5 164.3h0M62.3 129.8h0M63.5 17.2h0M27.5 29.6h0M59.8 74.7h0M102.3 136.7h0M110.0 82.5h0M41.0 63.1h0M109.9 98.7h0M91.9 172.2h0M31.6 44.2h0M45.9 39.3h0M138.3 35.4h0M181.4 69.5h0M81.6 69.0h0M171.5 56.1h0M34.3 18.3h0M70.0 163.1h0M64.1 111.9h0M48.4 4.5h0M144.6 58.1h0M79.1 77.5h0M159.7 35.9h0M106.3 120.4h0M72.8 152.3h0M61.6 164.9h0M68.3 178.7h0M159.6 45.1h0M59.6 72.4h0M64.9 31.6h0M177.8 58.8h0M78.8 55.6h0M24.8 23.2h0M125.3 31.6h0M86.1 131.1h0M37.7 49.2h0M114.2 41.6h0M12.6 44.3h0M96.4 135.3h0M13.9 28.8h0M143.4 81.4h0M51.4 41.6h0M115.2 130.1h0M48.3 55.0h0M128.1 84.5h0M128.4 22.1h0M77.8 23.9h0M26.7 21.2h0M125.6 81.8h0M107.6 156.5h0M71.0 38.1h0M55.8 43.4h0M115.1 26.6h0M85.3 28.3h0M89.0 31.3h0M129.7 86.3h0M81.5 127.0h0M58.1 63.7h0M96.1 176.1h0M67.0 144.1h0M110.4 131.2h0M71.2 66.7h0M73.0 110.6h0M69.5 56.4h0M63.9 185.7h0M97.3 163.2h0M91.7 152.8h0M105.2 156.4h0M114.1 92.3h0M149.0 87.0h0M119.3 60.7h0M177.9 72.3h0M92.1 123.6h0M113.9 27.6h0M28.0 22.0h0M78.7 23.9h0M62.7 64.0h0M34.5 11.5h0M82.4 39.6h0M82.8 176.1h0M190.2 85.4h0M130.3 52.2h0M21.1 46.2h0M122.3 92.1h0M96.0 135.4h0M66.6 137.3h0M145.0 78.5h0M96.9 72.9h0M117.9 119.5h0M14.9 41.2h0M43.2 12.7h0M103.0 111.9h0M184.3 77.7h0M119.0 29.8h0M59.6 175.8h0M3.7 49.7h0M133.0 61.1h0M93.0 102.9h0M181.7 87.7h0M39.7 56.9h0M66.4 102.2h0M69.7 80.4h0M143.8 81.4h0M75.9 37.7h0M67.4 89.4h0M56.9 150.2h0M39.4 54.5h0M62.8 124.2h0M122.0 27.7h0M107.7 25.7h0M90.2 31.4h0M0.7 36.7h0M87.9 81.0h0M105.0 133.8h0M71.3 35.1h0M46.3 3.0h0M74.9 139.2h0M147.3 53.4h0M123.9 30.7h0M121.4 28.0h0M26.6 7.8h0M135.6 73.2h0M69.3 175.4h0M79.3 96.3h0M130.2 75.0h0M161.1 64.1h0M58.7 128.0h0M113.9 63.9h0M119.2 31.0h0M81.8 86.4h0M23.5 16.7h0M86.5 40.0h0M69.2 71.0h0M63.7 108.2h0M172.8 83.7h0M75.1 22.1h0M153.8 49.7h0M44.2 41.0h0M59.9 15.8h0M50.4 36.6h0M130.4 58.8h0M137.6 73.5h0M89.6 174.4h0M43.6 21.1h0M31.5 21.0h0M11.4 51.6h0M118.1 60.2h0M76.2 158.5h0M37.4 36.1h0M65.3 133.4h0M104.9 115.6h0M119.4 80.5h0M73.8 112.9h0M125.0 89.7h0M171.4 79.2h0M92.1 123.4h0M54.2 130.7h0M87.9 116.6h0M73.1 178.6h0M90.3 169.7h0M93.2 141.4h0M79.2 22.7h0M116.7 77.0h0M122.0 43.3h0M16.1 22.3h0M151.9 49.7h0M145.9 79.8h0M75.8 8.6h0M149.7 38.5h0M154.4 70.5h0M119.3 47.7h0M74.4 119.9h0M80.9 14.4h0M26.9 62.6h0M51.6 4.0h0M102.4 48.5h0M60.3 91.0h0M32.1 33.3h0M99.8 150.9h0M51.1 115.4h0M81.4 117.2h0M53.8 126.3h0M130.4 70.1h0M82.4 57.0h0M33.6 14.9h0M71.5 30.0h0M55.3 59.2h0M116.7 26.4h0M84.5 71.7h0M166.8 46.2h0M136.2 28.6h0M89.1 135.6h0M78.7 55.7h0M77.5 85.0h0M135.2 24.9h0M16.4 41.6h0M157.3 84.2h0M51.4 13.2h0M166.3 74.5h0M115.2 91.5h0M122.5 29.6h0M18.1 8.2h0M162.9 42.6h0M58.4 61.2h0M98.1 174.2h0M168.1 40.8h0M16.3 54.1h0M58.9 4.5h0M106.0 67.9h0M100.5 141.3h0M50.1 58.3h0M123.9 63.0h0M139.5 22.2h0M91.5 135.1h0M137.1 87.8h0M94.1 125.1h0M5.1 54.2h0M50.9 36.6h0M79.2 124.8h0M113.3 138.2h0M66.2 122.2h0M11.6 48.1h0M113.9 103.9h0M39.4 34.4h0M123.5 41.5h0M144.6 55.1h0M60.9 52.0h0M63.1 98.2h0M92.1 91.9h0M175.3 80.5h0M54.7 129.7h0M136.3 40.3h0M13.0 42.8h0M26.5 10.9h0M158.9 64.1h0M86.7 150.7h0M97.8 169.4h0M41.8 40.1h0M147.6 29.7h0M69.6 155.6h0M104.6 87.1h0M87.8 110.9h0M152.1 53.0h0M77.7 123.8h0M57.6 163.4h0M72.3 92.6h0M90.4 100.8h0M63.6 95.0h0M94.1 92.9h0M66.6 76.3h0M31.0 13.4h0M183.1 62.5h0M87.6 10.0h0M94.5 16.1h0M63.1 188.7h0M176.7 75.2h0M93.9 22.3h0M76.5 130.3h0M105.2 81.0h0M24.7 62.2h0M93.6 20.2h0M43.6 37.6h0M77.1 74.4h0M188.4 79.9h0M78.2 128.5h0M84.6 142.2h0M81.5 101.1h0M106.6 38.5h0M90.9 105.2h0M67.0 181.9h0M130.8 21.9h0M77.6 104.0h0M90.5 138.5h0M173.4 78.9h0M80.5 127.2h0M106.6 132.1h0M99.7 134.3h0M18.9 7.3h0M82.2 50.4h0M67.8 27.9h0M96.6 143.7h0M4.8 42.0h0M61.4 129.5h0M61.7 131.1h0M114.6 132.2h0M18.5 36.6h0M27.8 29.6h0M127.3 30.1h0M74.6 110.5h0M174.5 82.0h0M160.8 72.3h0M76.2 138.0h0M78.3 117.2h0M76.8 70.8h0M176.3 74.6h0M61.1 150.7h0M107.8 98.5h0M65.1 64.2h0M83.5 74.3h0M98.6 165.6h0M57.1 140.5h0M65.3 168.0h0" fill="none" stroke="#d8404c" stroke-opacity="0.62" stroke-width="1.35" stroke-linecap="round"/></g>
<text transform="translate(208.40 1873.40) scale(1 1.040)" font-size="26.9" text-anchor="middle" fill="#000" stroke="#000" stroke-width="0.3">Microglia 1</text>
<g transform="translate(108.9 1882.0) scale(0.982)"><use href="#brain"/><path d="M110.2 133.7h0M165.2 76.4h0M40.3 63.5h0M74.9 43.4h0M184.4 57.2h0M101.3 116.0h0M183.4 54.6h0M77.1 81.5h0M56.9 65.0h0M68.5 89.2h0M79.2 68.8h0M66.5 165.1h0M85.5 19.6h0M12.2 54.2h0M123.9 49.0h0M147.8 31.6h0M66.4 102.2h0M64.5 89.6h0M105.9 150.4h0M55.8 23.0h0M103.5 163.2h0M52.7 65.2h0M105.7 50.7h0M145.9 37.8h0M69.3 168.3h0M160.7 51.1h0M71.2 5.0h0M79.9 17.0h0M149.0 39.7h0M73.8 82.3h0M142.1 55.6h0M122.5 46.3h0M24.4 30.7h0M55.3 14.4h0M132.5 29.5h0M143.3 54.6h0M132.6 78.0h0M110.9 95.4h0M123.0 50.6h0M68.4 10.3h0M114.6 132.5h0M142.3 88.6h0M93.4 166.1h0M122.4 92.4h0M95.3 76.5h0M65.1 189.9h0M31.6 28.2h0M78.4 53.1h0M114.9 68.6h0M10.5 56.3h0M173.4 70.7h0M75.3 65.6h0M90.6 104.6h0M136.6 21.0h0M11.6 55.7h0M18.6 52.8h0M96.5 175.8h0M58.4 45.5h0M7.3 16.7h0M73.9 104.3h0M59.8 122.5h0M100.7 127.6h0M104.5 83.1h0M62.6 113.8h0M110.2 108.7h0M115.1 97.0h0M190.6 88.5h0M106.0 26.4h0M44.7 72.0h0M6.7 9.7h0M86.5 146.9h0M41.7 7.3h0M71.6 52.2h0M105.1 87.0h0M72.5 149.0h0M59.5 131.5h0M8.5 11.5h0M53.7 7.6h0M76.9 55.0h0M19.3 15.2h0M12.1 45.5h0M39.7 22.2h0M127.0 22.7h0M21.6 13.2h0M139.4 79.7h0M165.8 80.0h0M40.7 12.7h0M95.1 133.0h0M118.3 96.9h0M121.7 59.3h0M81.6 33.3h0M127.9 78.6h0M76.4 51.3h0M94.1 21.6h0M124.7 32.6h0M41.2 15.0h0M64.8 84.8h0M112.3 37.0h0M91.5 13.1h0M155.3 32.6h0M74.5 95.2h0M1.0 17.4h0M72.8 41.6h0M127.4 18.0h0M140.3 36.1h0M107.9 18.5h0M55.1 145.7h0M136.0 70.6h0M70.7 53.3h0M111.6 50.4h0M63.9 132.2h0M59.6 11.7h0M70.7 63.1h0M45.9 21.1h0M93.5 108.0h0M80.1 177.7h0M144.3 69.3h0M79.7 107.7h0M71.3 6.1h0M77.1 82.7h0M70.5 20.3h0M189.4 80.6h0M47.3 6.2h0M109.9 61.4h0M112.9 64.3h0M83.1 63.1h0M97.1 66.9h0M41.7 10.6h0M90.0 70.2h0M103.8 91.6h0M84.9 144.1h0M151.1 84.2h0M142.1 76.0h0M1.7 42.5h0M62.4 34.4h0M167.0 67.9h0M75.8 113.8h0M160.5 65.5h0M64.4 116.3h0M122.7 66.2h0M75.3 39.8h0M105.2 57.7h0M163.5 86.5h0M80.7 18.8h0M66.9 50.2h0M145.1 48.5h0M143.6 38.9h0M83.4 70.6h0M56.0 1.5h0M136.7 42.9h0M89.3 118.2h0M146.7 58.6h0M16.1 25.5h0M186.2 84.2h0M10.8 44.1h0M90.1 27.0h0M92.7 54.5h0M118.9 109.4h0M85.2 5.1h0M79.8 90.3h0M66.2 82.0h0M171.2 61.2h0M170.3 80.1h0M46.5 55.8h0M80.2 131.4h0M47.7 38.0h0M143.3 79.2h0M137.6 40.5h0M131.8 33.5h0M59.0 64.1h0M68.3 135.8h0M80.2 119.5h0M59.0 9.0h0M18.1 38.9h0M166.6 40.1h0M156.1 81.0h0M110.3 68.7h0M108.6 115.8h0M67.9 76.9h0M69.4 88.0h0M85.9 59.7h0M153.4 51.0h0M64.8 138.1h0M108.7 111.2h0M96.1 177.6h0M6.5 25.9h0M100.8 169.6h0M52.1 149.1h0M109.1 143.9h0M73.7 7.2h0M89.9 77.1h0M63.4 144.4h0M94.4 31.5h0M7.3 33.1h0M66.7 178.1h0M71.0 176.3h0M70.3 32.3h0M127.9 70.4h0M91.0 33.1h0M83.1 169.7h0M163.8 38.1h0M163.8 61.7h0M77.3 119.6h0M104.3 65.5h0M72.4 122.1h0M17.3 8.0h0M103.1 73.3h0M138.7 88.0h0M24.3 5.6h0M81.6 68.8h0M94.7 87.9h0M45.4 66.3h0M55.9 14.9h0M106.3 20.1h0M5.3 36.4h0M94.4 42.3h0M122.6 68.3h0M89.2 151.4h0M6.9 27.2h0M110.4 142.2h0M139.2 75.7h0M55.4 136.5h0M89.3 141.7h0M5.6 25.5h0M76.2 24.0h0M181.3 57.5h0M168.2 88.3h0M66.0 62.2h0M75.1 45.3h0M92.4 55.7h0M172.5 87.4h0M37.3 50.2h0M171.8 72.2h0M73.5 102.2h0M109.6 152.2h0M168.3 47.3h0M58.4 21.4h0M53.5 57.2h0M114.7 51.2h0M57.1 140.5h0M143.1 23.8h0M145.4 81.0h0M182.1 80.7h0M62.7 166.4h0M170.1 61.1h0M111.1 162.5h0M31.7 9.7h0M22.4 46.1h0M55.1 60.2h0M128.8 62.6h0M65.4 91.5h0M134.1 72.5h0M6.0 25.1h0M49.2 62.7h0M72.8 119.0h0M102.7 90.8h0M162.6 50.6h0M71.6 145.1h0M37.1 58.6h0M144.5 57.2h0M148.9 62.7h0M70.0 137.7h0M30.2 24.0h0M39.7 2.0h0M82.3 87.6h0M110.0 159.2h0M96.4 66.2h0M4.5 10.5h0M42.6 67.6h0M125.5 50.1h0M96.0 94.5h0M167.6 51.5h0M26.9 36.1h0M96.5 66.1h0M157.1 48.3h0M21.4 43.1h0M89.1 152.4h0M58.2 57.8h0M105.8 133.5h0M78.0 89.7h0M99.9 144.6h0M45.7 69.8h0M118.6 99.2h0M133.9 30.4h0M96.6 182.5h0M98.9 31.8h0M70.9 174.8h0M145.4 65.9h0M70.4 24.9h0M50.4 47.8h0M51.4 119.7h0M65.4 97.3h0M117.0 137.7h0M118.5 55.3h0M98.6 54.2h0M57.9 73.4h0M58.9 104.9h0M85.1 44.5h0M139.4 79.7h0M110.6 43.8h0M87.9 158.9h0M138.5 26.2h0M111.4 40.7h0M80.1 74.0h0M121.7 26.0h0M50.4 23.6h0M9.1 57.6h0M76.1 153.2h0M23.7 20.0h0M53.3 126.1h0M112.8 162.9h0M58.5 47.8h0M115.0 147.8h0M110.3 33.0h0M109.1 49.5h0M69.0 110.3h0M50.8 32.6h0M81.1 177.1h0M39.3 58.0h0M94.7 118.6h0M100.8 166.3h0M77.5 37.0h0M60.2 53.0h0M76.0 104.3h0M66.9 107.1h0M29.2 52.1h0M101.5 160.9h0M72.4 135.3h0M111.2 43.6h0M109.3 26.0h0M61.9 3.1h0M98.3 176.0h0M157.0 33.6h0M68.0 82.5h0M31.0 31.5h0M58.5 90.2h0M77.9 108.5h0M149.8 64.0h0M8.6 48.7h0M96.3 71.4h0M87.9 144.4h0M106.2 152.7h0M82.3 54.3h0M17.8 26.6h0M62.9 65.6h0M73.6 67.7h0M52.6 139.4h0M164.9 39.8h0M112.4 77.5h0M73.9 160.5h0M66.6 101.7h0M67.0 123.4h0M104.4 108.3h0M10.0 8.9h0M62.8 154.9h0M74.7 149.3h0M98.4 182.2h0M15.8 18.8h0M17.0 23.2h0M26.9 32.0h0M81.0 93.9h0M4.7 46.2h0M85.0 11.2h0M97.9 140.7h0M62.4 111.2h0M60.5 106.4h0M162.0 47.1h0M27.7 3.4h0M75.8 21.7h0M109.0 24.6h0M53.8 46.0h0M54.5 14.1h0M100.2 57.2h0M39.8 16.2h0M39.7 7.5h0M31.2 8.2h0M25.0 13.3h0M148.7 59.7h0M75.9 58.6h0M87.8 134.8h0M54.2 68.1h0M132.2 19.4h0M68.3 62.4h0M93.2 41.1h0M93.7 148.4h0M35.9 16.1h0M80.0 100.9h0M148.2 50.2h0M134.7 24.0h0M14.6 11.4h0M59.7 95.5h0M81.9 92.9h0M112.8 71.9h0M78.0 29.4h0M20.8 51.5h0M136.3 27.8h0M149.2 67.5h0M162.4 45.4h0M185.6 64.4h0M176.9 79.4h0M111.2 127.4h0M16.0 56.4h0M165.9 86.9h0M76.5 153.4h0M81.5 170.0h0M57.6 9.3h0M89.6 122.9h0M179.3 49.7h0M108.9 123.1h0M69.6 147.7h0M97.8 121.6h0M8.3 19.2h0M74.8 16.8h0M74.1 16.1h0M41.1 23.8h0M188.2 70.0h0M66.5 156.6h0M91.2 11.5h0M143.4 58.5h0M42.5 23.2h0M39.1 55.8h0M83.8 11.0h0M104.3 138.0h0M103.8 140.2h0M99.1 120.3h0M84.7 93.2h0M117.0 102.7h0M72.4 70.5h0M174.9 70.5h0M189.8 76.3h0M88.8 12.6h0M133.0 47.6h0M80.7 37.8h0M79.5 109.8h0M85.4 177.4h0M107.1 119.4h0M130.8 24.7h0M78.7 84.8h0M162.8 60.0h0M86.8 147.3h0M148.8 85.9h0M75.2 24.2h0M77.8 17.6h0M41.0 3.9h0M92.1 13.4h0M56.7 151.3h0M96.1 100.0h0M89.8 64.6h0M139.4 68.9h0M90.2 173.4h0M145.9 40.9h0M106.7 82.4h0M129.1 28.6h0M26.0 41.4h0M98.9 110.9h0M139.4 27.6h0M146.1 62.3h0M65.1 149.1h0M151.2 48.6h0M129.7 68.8h0M168.6 87.4h0M63.4 115.4h0M3.1 51.2h0M61.8 82.5h0M86.5 145.1h0M90.0 99.9h0M50.9 130.1h0M143.4 68.8h0M69.3 187.6h0M55.9 119.7h0M62.0 90.7h0M76.0 63.0h0M34.4 41.0h0M107.5 166.9h0M123.7 35.5h0M96.6 111.1h0M88.9 7.5h0M120.0 53.1h0M86.5 138.3h0M67.4 183.8h0" fill="none" stroke="#d8404c" stroke-opacity="0.62" stroke-width="1.35" stroke-linecap="round"/></g>
<text transform="translate(406.20 1873.40) scale(1 1.040)" font-size="26.9" text-anchor="middle" fill="#000" stroke="#000" stroke-width="0.3">Microglia 2</text>
<g transform="translate(306.6 1882.0) scale(0.982)"><use href="#brain"/><path d="M100.6 181.7h0M179.3 54.5h0M93.8 154.4h0M187.5 68.8h0M106.9 119.5h0M92.9 137.9h0M96.8 15.3h0M22.2 10.5h0M52.1 139.0h0M157.5 70.7h0M167.0 86.3h0M104.9 134.8h0M70.2 41.9h0M87.9 121.9h0M88.7 146.9h0M123.9 65.2h0M114.4 137.7h0M148.1 61.1h0M22.7 14.0h0M116.4 118.4h0M58.3 172.7h0M137.0 58.1h0M97.2 57.7h0M12.9 11.0h0M67.7 171.3h0M81.4 104.9h0M83.0 31.0h0M64.5 167.6h0M85.1 86.0h0M59.5 96.1h0M83.2 89.3h0M186.0 86.2h0M66.8 30.1h0M58.2 66.3h0M79.7 124.9h0M166.7 60.5h0M57.3 99.1h0M50.8 139.0h0M149.1 61.2h0M145.7 78.6h0M50.8 36.3h0M9.1 8.3h0M6.7 47.6h0M87.0 145.8h0M112.0 160.6h0M117.2 100.8h0M112.8 121.1h0M9.1 12.7h0M108.3 103.3h0M73.8 108.1h0M13.9 63.9h0M23.3 43.2h0M50.2 136.2h0M89.9 122.3h0M87.9 12.5h0M122.9 18.6h0M81.9 44.5h0M74.2 80.9h0M30.4 7.6h0M101.9 35.3h0M65.7 13.3h0M80.4 63.8h0M22.1 28.9h0M144.9 44.8h0M67.4 103.0h0M125.3 67.8h0M26.2 34.0h0M88.8 47.0h0M181.1 78.7h0M90.2 15.2h0M61.1 143.4h0M113.8 87.7h0M178.6 62.9h0M69.4 44.9h0M153.5 86.0h0M84.8 30.1h0M60.9 76.8h0M123.8 92.1h0M52.5 0.9h0M96.0 168.7h0M79.4 86.3h0M105.6 180.2h0M13.9 35.3h0M43.1 49.3h0M86.9 23.0h0M168.2 78.9h0M31.6 15.1h0M61.4 186.8h0M22.2 52.4h0M7.9 62.6h0M131.3 34.5h0M103.4 76.4h0M93.0 122.0h0M84.2 110.6h0M150.1 53.9h0M96.1 118.6h0M98.7 64.6h0M101.1 55.5h0M51.7 66.8h0M155.5 80.8h0M33.8 45.3h0M42.8 53.1h0M120.7 93.8h0M92.2 160.2h0M80.0 42.2h0M46.5 67.7h0M97.0 63.9h0M15.4 44.8h0M43.5 46.4h0M72.7 149.7h0M63.2 77.3h0M27.2 7.5h0M133.7 82.2h0M95.2 64.1h0M8.9 52.0h0M59.8 145.1h0M127.1 93.1h0M146.3 52.6h0M121.4 87.8h0M146.1 69.0h0M78.9 84.3h0M99.7 174.3h0M65.6 101.8h0M13.1 19.4h0M31.9 43.7h0M59.4 14.1h0M91.1 103.9h0M8.3 52.6h0M19.6 26.6h0M111.3 34.2h0M81.2 44.9h0M118.8 88.4h0M117.3 144.6h0M82.9 14.4h0M56.9 66.6h0M54.4 48.8h0M138.1 76.6h0M69.2 171.1h0M79.8 105.7h0M90.6 116.6h0M5.3 47.3h0M119.0 102.1h0M72.5 186.3h0M107.4 118.9h0M127.0 76.8h0M48.7 23.9h0M61.6 139.6h0M120.1 117.3h0M125.1 60.6h0M72.2 21.3h0M99.1 181.2h0M50.5 137.4h0M60.6 42.5h0M73.0 101.1h0M17.2 22.0h0M54.2 16.6h0M60.7 171.6h0M126.5 76.8h0M74.9 92.3h0M74.4 97.1h0M29.1 29.3h0M132.9 94.9h0M82.3 47.8h0M166.3 71.8h0M76.2 93.1h0M12.1 12.6h0M107.6 103.0h0M156.3 38.1h0M149.5 31.3h0M183.9 80.7h0M76.3 82.7h0M65.8 189.1h0M124.4 72.1h0M99.7 130.1h0M98.6 75.6h0M71.6 66.6h0M51.7 131.6h0M85.7 67.4h0M98.9 87.4h0M59.6 64.7h0M116.6 97.2h0M173.9 61.5h0M66.2 77.2h0M136.6 58.9h0M185.1 71.3h0M106.4 131.3h0M7.8 49.4h0M188.2 64.4h0M116.2 17.8h0M80.3 45.4h0M62.9 137.8h0M190.8 65.3h0M117.4 100.2h0M141.1 76.6h0M71.7 172.8h0M156.6 78.9h0M29.3 10.3h0M95.7 101.5h0M188.6 69.1h0M99.9 23.6h0M85.8 135.0h0M129.2 54.4h0M69.2 166.9h0M112.1 23.3h0M88.9 80.8h0M73.8 75.4h0M64.3 69.8h0M77.8 134.1h0M62.3 59.0h0M86.0 129.1h0M79.4 72.6h0M30.7 8.5h0M61.9 145.1h0M174.1 62.2h0M85.9 122.7h0M92.8 94.1h0M61.7 169.2h0M101.6 50.7h0M83.6 183.6h0M131.7 78.2h0M167.8 66.4h0M94.5 95.6h0M130.7 85.8h0M99.5 80.4h0M154.4 70.5h0M68.3 160.8h0M130.4 25.0h0M99.7 133.4h0M59.0 14.9h0M97.3 124.0h0M131.3 45.1h0M63.3 89.3h0M171.5 81.0h0M126.8 37.9h0M9.8 44.3h0M69.7 189.4h0M103.2 119.9h0M75.2 106.6h0M52.3 128.3h0M68.1 151.7h0M94.2 174.6h0M191.7 69.0h0M132.3 65.1h0M77.7 94.9h0M6.5 52.1h0M1.4 27.2h0M57.6 106.5h0M95.0 124.9h0M94.4 156.5h0M83.6 154.7h0M66.6 38.5h0M75.9 126.7h0M132.1 83.0h0M92.1 182.2h0M6.8 13.8h0M70.8 126.6h0M118.2 21.6h0M130.4 68.4h0M65.9 8.0h0M52.5 7.5h0M45.9 5.3h0M86.2 70.5h0M59.3 151.0h0M100.2 71.5h0M44.9 4.3h0M8.7 36.3h0M118.1 17.9h0M94.5 144.0h0M47.1 40.3h0M96.3 34.1h0M184.6 77.5h0M74.2 156.8h0M108.5 107.7h0M79.3 109.0h0M137.2 69.1h0M171.0 57.7h0M88.3 177.0h0M112.4 72.9h0M79.3 22.8h0M44.2 25.6h0M5.5 11.8h0M109.1 92.6h0M54.3 68.8h0M44.6 48.7h0M182.7 87.3h0M100.6 26.0h0M89.3 19.2h0M169.0 68.5h0M61.4 58.6h0M59.3 172.8h0M110.8 153.6h0M84.9 154.0h0M123.9 42.5h0M120.1 135.2h0M29.5 55.1h0M88.9 82.1h0M105.0 156.6h0M158.3 66.7h0M124.5 53.1h0M91.5 178.2h0" fill="none" stroke="#d8404c" stroke-opacity="0.62" stroke-width="1.35" stroke-linecap="round"/></g>
<text transform="translate(602.00 1873.40) scale(1 1.040)" font-size="26.9" text-anchor="middle" fill="#000" stroke="#000" stroke-width="0.3">Oligo 1</text>
<g transform="translate(512.5 1881.6) scale(0.982)"><use href="#brain"/><path d="M103.5 155.5h0M154.8 57.6h0M166.0 76.0h0M84.2 154.7h0M125.3 46.7h0M105.7 82.4h0M168.7 42.4h0M85.9 69.2h0M78.3 119.7h0M117.8 45.2h0M160.1 60.8h0M155.0 73.1h0M65.6 36.8h0M68.1 122.9h0M72.3 105.7h0M73.0 127.8h0M138.0 35.8h0M64.5 21.5h0M86.6 70.8h0M94.8 19.6h0M34.6 38.7h0M61.0 7.6h0M60.4 65.1h0M88.7 139.4h0M190.1 64.3h0M145.5 47.9h0M53.6 21.4h0M67.3 146.5h0M128.7 90.6h0M83.0 177.9h0M127.0 47.4h0M91.9 141.1h0M71.3 2.3h0M169.0 46.3h0M20.7 7.7h0M111.6 131.3h0M66.2 18.2h0M66.5 48.4h0M68.6 179.1h0M104.6 20.0h0M142.1 35.6h0M96.5 125.5h0M69.6 112.5h0M66.5 69.9h0M105.8 45.4h0M172.1 50.6h0M98.2 38.8h0M180.8 59.9h0M187.0 65.7h0M157.7 68.4h0M159.6 71.5h0M112.8 61.2h0M179.9 65.0h0M105.3 34.6h0M116.7 39.7h0M80.6 65.3h0M117.0 133.2h0M45.6 40.7h0M109.0 160.6h0M29.6 21.7h0M48.4 50.1h0M37.8 20.8h0M73.0 175.4h0M148.8 75.4h0M80.3 76.2h0M28.8 19.1h0M106.5 68.0h0M180.9 80.8h0M132.2 73.6h0M80.7 83.3h0M67.5 79.9h0M190.0 61.4h0M78.4 105.9h0M129.3 37.9h0M23.0 49.6h0M146.3 88.9h0M167.8 72.1h0M120.5 69.4h0M54.3 29.9h0M173.2 73.6h0M107.6 146.5h0M114.9 105.0h0M63.0 124.2h0M128.4 19.1h0M113.7 110.7h0M145.5 25.5h0M139.4 48.6h0M89.2 38.4h0M109.8 41.5h0M154.5 61.0h0M116.9 145.0h0M90.2 17.2h0M67.5 86.3h0M140.8 50.6h0M17.0 25.8h0M18.3 20.8h0M184.8 71.4h0M71.3 191.8h0M77.5 80.7h0M116.3 66.1h0M151.4 45.1h0M63.9 190.1h0M26.4 15.6h0M96.3 13.8h0M40.6 52.3h0M146.3 65.6h0M78.5 184.9h0M4.8 10.6h0M19.6 14.6h0M103.2 75.1h0M55.0 31.3h0M84.0 28.4h0M62.3 51.0h0M64.1 162.6h0M18.0 42.3h0M8.8 52.7h0M119.2 89.4h0M74.4 36.4h0M150.8 33.7h0M18.7 22.1h0M125.8 44.6h0M140.0 88.2h0M156.5 64.7h0M162.9 86.5h0M15.6 28.4h0M120.2 29.4h0M60.8 89.4h0M175.4 76.5h0M54.4 146.6h0M30.9 39.0h0M128.0 78.2h0M135.4 86.1h0M84.3 67.1h0M88.7 159.5h0M87.1 134.5h0M74.0 29.1h0M138.1 72.3h0M116.0 99.5h0M67.8 47.3h0M86.6 162.0h0M54.1 122.4h0M60.0 148.5h0M25.1 46.7h0M173.9 87.0h0M21.5 11.1h0M83.0 93.0h0M147.1 68.6h0M92.7 154.2h0M145.0 53.7h0M55.6 149.2h0M110.6 92.4h0M59.5 127.6h0M114.9 146.2h0M100.1 131.9h0M51.2 49.2h0M98.4 109.1h0M86.7 43.9h0M80.3 6.4h0M112.0 92.9h0M128.8 39.8h0M54.9 29.7h0M81.7 181.2h0M48.2 17.5h0M51.3 24.9h0M30.8 25.9h0M70.5 62.3h0M119.5 73.1h0M27.1 64.1h0M44.4 64.1h0M17.9 15.9h0M127.5 90.3h0M61.3 81.7h0M102.3 105.4h0M135.9 72.0h0M73.8 124.6h0M96.9 91.9h0M110.8 143.1h0M140.0 81.9h0M4.8 42.0h0M63.1 25.3h0M83.4 62.9h0M53.6 11.3h0M83.7 78.5h0M72.6 154.8h0M92.7 156.8h0M13.8 53.8h0M96.3 172.8h0M184.4 76.8h0M8.5 38.3h0M37.0 57.1h0M79.5 97.5h0M155.0 60.0h0M60.5 14.3h0M115.6 73.3h0M72.2 34.1h0M142.2 84.1h0M98.2 77.2h0M94.6 142.0h0M137.2 59.4h0M134.3 25.2h0M71.3 125.6h0M99.7 133.9h0M89.9 24.2h0M120.3 65.4h0M90.6 15.0h0M117.3 130.5h0M107.2 127.3h0M25.8 54.6h0M102.7 147.3h0M58.6 31.5h0M157.0 81.5h0M81.7 54.1h0M54.9 61.5h0M75.5 28.4h0M155.6 72.5h0M65.3 93.5h0M144.6 68.5h0M109.5 80.0h0M55.1 65.6h0M190.3 81.3h0M106.5 101.0h0M131.4 84.5h0M102.8 112.4h0M62.7 133.7h0M98.6 79.1h0M62.4 12.3h0M161.3 48.1h0M66.1 179.6h0M127.3 66.8h0M140.4 78.6h0M45.4 70.9h0M78.2 105.5h0M179.2 50.6h0M86.8 91.8h0M75.6 65.4h0M131.9 69.7h0M66.2 77.9h0M92.1 27.0h0M70.7 172.2h0M101.8 80.1h0M175.7 81.9h0M98.1 32.7h0M71.4 181.0h0M21.0 60.3h0M50.5 35.5h0M167.3 74.9h0M85.0 50.0h0M35.8 25.1h0M38.1 20.5h0M80.4 65.1h0M89.3 126.7h0M53.0 55.0h0M184.2 83.4h0M66.4 136.5h0M102.6 147.7h0M148.8 72.5h0M33.8 22.2h0M91.5 22.8h0M94.8 107.7h0M117.3 136.9h0M93.3 171.1h0M89.7 171.9h0M107.9 93.0h0M106.9 36.4h0M77.7 97.6h0M81.6 68.8h0M61.4 88.9h0M95.8 50.4h0M101.6 177.8h0M103.9 43.2h0M165.2 59.2h0M88.5 142.2h0M125.6 71.5h0M139.6 70.9h0M161.3 77.9h0M23.9 41.3h0M83.1 104.4h0M110.5 58.6h0M72.4 73.4h0M43.2 1.5h0M186.7 56.8h0M163.5 83.4h0M60.1 41.8h0M61.9 115.7h0M63.8 21.1h0M77.9 36.5h0M98.1 119.3h0M31.0 43.5h0M73.9 94.2h0M100.3 141.0h0M151.6 45.5h0M80.4 78.4h0M53.3 142.4h0M157.4 84.9h0M92.1 124.6h0M60.5 67.8h0M12.8 8.5h0M69.3 175.2h0M43.5 36.6h0M63.8 138.1h0M44.3 69.2h0M51.1 65.5h0M37.2 54.7h0M37.8 45.9h0M71.2 71.0h0M66.4 71.3h0M73.2 54.5h0M42.0 50.4h0M60.5 71.3h0M67.4 68.1h0M69.2 48.5h0M68.4 61.6h0M65.1 46.6h0M58.8 44.1h0M46.3 40.2h0M50.8 47.8h0M44.3 53.2h0M66.3 69.7h0M66.0 49.5h0M57.7 60.7h0M72.5 49.6h0M51.9 66.9h0M68.6 47.7h0M49.9 52.8h0M57.5 63.6h0M37.3 44.0h0M57.2 55.2h0M43.0 51.6h0M37.0 57.7h0M72.3 40.2h0M60.1 66.7h0M47.2 71.7h0M73.1 65.2h0M50.4 71.8h0M68.4 54.6h0M50.4 40.7h0M60.7 48.9h0M42.5 69.3h0M72.9 55.3h0M52.6 71.0h0M40.8 52.9h0M54.5 64.4h0M73.1 46.1h0M61.1 44.8h0M57.9 56.3h0M35.3 56.5h0M44.6 54.4h0M72.6 42.6h0M55.5 40.0h0M58.9 53.6h0M48.5 40.9h0M61.6 54.0h0M36.3 56.7h0M72.5 71.2h0M65.3 44.6h0M43.5 41.7h0M39.4 45.5h0M59.5 41.0h0M67.5 45.6h0M57.9 46.7h0M58.3 41.8h0M48.2 61.7h0M62.5 52.3h0M64.6 42.4h0M57.9 62.5h0M55.1 55.2h0M36.3 60.1h0M44.2 48.2h0M35.2 60.0h0M58.0 53.7h0M51.2 41.1h0M56.4 40.4h0M38.3 50.4h0M70.6 42.7h0M57.2 65.6h0M60.1 68.1h0M59.5 62.6h0M45.8 52.6h0M35.5 53.7h0M70.7 63.6h0M118.1 92.5h0M115.4 118.2h0M130.0 72.6h0M109.7 95.0h0M100.4 146.0h0M120.2 69.3h0M67.0 79.8h0M69.5 69.3h0M60.4 89.2h0M59.9 142.9h0M65.8 51.2h0M64.3 48.2h0M61.4 48.8h0M63.4 72.9h0M119.0 142.8h0M114.3 85.6h0M111.3 131.7h0M109.5 126.7h0M75.5 55.3h0M70.0 51.1h0M123.2 72.4h0M57.5 130.3h0M56.3 132.7h0M63.2 109.1h0M137.4 72.1h0M49.8 65.6h0M120.2 141.2h0M133.5 69.8h0M112.1 134.7h0M109.3 129.2h0M122.6 65.6h0M128.1 63.5h0M113.6 92.7h0M50.5 127.6h0M110.5 119.0h0M115.1 138.8h0M59.0 112.8h0M52.1 139.0h0M57.7 61.1h0M65.5 91.1h0M120.0 82.5h0M71.0 72.6h0M77.9 47.5h0M103.5 150.4h0M120.0 121.5h0M133.7 85.8h0M57.3 44.6h0M116.4 72.6h0M58.5 56.5h0M57.8 123.8h0M113.0 111.4h0M114.9 139.1h0M55.2 68.4h0M116.3 67.7h0M114.5 115.8h0M114.5 93.4h0M52.9 66.8h0M63.1 123.8h0M128.7 82.0h0M116.0 118.4h0M53.2 64.0h0M106.6 109.2h0M131.9 70.2h0M64.8 140.2h0M118.6 93.7h0M109.3 140.3h0M125.8 63.6h0M110.4 95.9h0M68.8 72.8h0M109.3 93.4h0M131.7 77.4h0M115.0 68.8h0M111.4 90.7h0M123.7 89.7h0M100.1 140.8h0M64.0 76.6h0M112.7 77.9h0M59.1 104.0h0M117.5 120.0h0M117.9 70.3h0M48.7 68.7h0M111.9 87.9h0M48.3 66.9h0M58.2 45.7h0M61.4 91.6h0M59.5 67.1h0M117.3 64.2h0M59.6 145.0h0M116.4 110.6h0M51.0 61.0h0M106.3 125.9h0M128.0 85.3h0M62.7 105.1h0M65.4 69.4h0M103.8 152.4h0M61.4 121.5h0M59.7 64.0h0M59.6 46.4h0M51.1 50.5h0M136.5 82.5h0M60.4 79.0h0M126.8 70.3h0M109.5 146.2h0M56.2 63.7h0M57.7 53.2h0M57.8 72.0h0M107.9 160.2h0M104.8 102.6h0M63.0 59.9h0M130.1 61.7h0M27.6 52.0h0M15.7 55.8h0M42.4 40.7h0M37.3 42.3h0M37.2 54.2h0M55.1 30.1h0M24.2 46.0h0M28.5 58.6h0M28.9 34.9h0M29.4 19.4h0M26.5 42.4h0M34.6 43.2h0M21.1 52.4h0M38.6 35.7h0M18.1 31.8h0M24.8 22.0h0M46.9 17.9h0M15.3 37.5h0M46.3 24.0h0M6.4 30.7h0M32.5 46.3h0M31.2 17.0h0M14.5 49.5h0M29.7 19.4h0M12.6 26.9h0M61.3 34.5h0M19.8 38.6h0M6.3 48.6h0M14.5 26.4h0M56.2 32.7h0M45.8 41.5h0M25.3 37.6h0M14.8 36.8h0M23.9 33.5h0M14.0 49.3h0M14.7 35.0h0M25.0 59.4h0M41.9 27.0h0M51.2 14.0h0M53.6 42.8h0M36.7 9.6h0M36.3 22.2h0M35.0 52.7h0M23.5 31.3h0M9.7 48.6h0M6.4 38.2h0M53.7 42.8h0M32.5 18.1h0M9.1 21.7h0M29.3 34.4h0" fill="none" stroke="#d8404c" stroke-opacity="0.62" stroke-width="1.35" stroke-linecap="round"/></g>
<text transform="translate(800.60 1871.70) scale(1 1.040)" font-size="26.9" text-anchor="middle" fill="#000" stroke="#000" stroke-width="0.3">Oligo 2</text>
<g transform="translate(711.2 1881.3) scale(0.982)"><use href="#brain"/><path d="M101.2 122.5h0M71.3 41.7h0M115.6 42.6h0M87.3 7.0h0M60.0 41.2h0M82.4 17.0h0M98.5 122.4h0M12.5 11.5h0M97.0 59.4h0M43.9 34.9h0M59.2 20.5h0M115.2 20.3h0M161.1 80.9h0M109.3 127.4h0M106.6 43.3h0M74.4 35.7h0M71.9 86.1h0M114.0 56.1h0M164.7 73.4h0M87.4 136.6h0M36.3 28.1h0M47.6 10.7h0M172.2 74.3h0M87.0 32.5h0M33.7 32.3h0M162.1 50.4h0M23.1 22.5h0M66.2 37.7h0M190.1 79.5h0M122.9 18.6h0M70.9 36.3h0M58.1 178.1h0M111.2 20.6h0M23.2 28.4h0M116.9 92.6h0M147.2 77.0h0M147.6 34.0h0M75.5 56.7h0M46.8 52.4h0M109.0 146.9h0M90.3 26.3h0M68.7 160.6h0M109.0 36.1h0M137.2 72.2h0M97.0 43.4h0M56.7 25.7h0M8.8 27.7h0M144.7 55.8h0M62.4 137.3h0M89.7 39.3h0M120.5 59.8h0M94.4 35.0h0M107.8 74.3h0M42.7 55.2h0M124.7 61.7h0M110.4 21.3h0M149.7 31.7h0M61.9 21.5h0M74.3 102.9h0M94.8 75.5h0M31.9 57.8h0M95.1 153.3h0M99.3 23.3h0M50.5 64.8h0M25.7 20.3h0M111.0 96.6h0M88.0 168.9h0M59.9 80.2h0M137.2 72.7h0M3.6 21.9h0M101.5 120.0h0M112.0 86.1h0M103.0 111.9h0M27.7 35.2h0M169.3 82.8h0M183.0 83.4h0M110.7 143.1h0M108.7 99.6h0M43.8 69.1h0M84.9 176.8h0M103.7 81.7h0M113.2 50.7h0M190.0 77.5h0M59.9 164.1h0M109.5 161.3h0M115.3 31.0h0M63.6 82.6h0M16.0 56.4h0M63.7 90.5h0M148.4 35.6h0M76.3 128.3h0M169.6 87.1h0M95.0 130.8h0M176.7 87.6h0M80.2 70.7h0M63.4 115.1h0M70.7 158.7h0M85.3 178.3h0M54.1 33.2h0M40.5 55.5h0M58.2 171.9h0M109.7 32.8h0M51.6 68.2h0M132.7 89.2h0M11.4 58.5h0M111.5 57.0h0M157.7 88.5h0M53.8 37.1h0M110.7 164.2h0M144.4 36.0h0M71.9 85.0h0M108.7 137.8h0M162.7 65.3h0M116.4 115.2h0M52.3 16.4h0M52.5 26.8h0M190.0 66.9h0M113.8 38.7h0M145.0 30.5h0M41.6 59.5h0M109.3 35.6h0M89.1 13.1h0M83.8 31.1h0M89.4 148.4h0M52.3 138.0h0M107.7 70.9h0M90.2 124.2h0M88.4 182.5h0M57.2 101.1h0M163.2 54.0h0M74.8 35.1h0M42.9 71.3h0M125.0 68.5h0M84.9 19.6h0M104.5 117.3h0M167.8 83.2h0M139.6 66.6h0M58.8 144.2h0M74.3 41.4h0M93.6 96.0h0M74.1 172.8h0M6.5 12.7h0M163.8 84.8h0M93.7 31.4h0M85.8 128.7h0M182.0 79.5h0M69.0 168.5h0M165.9 68.0h0M176.2 77.0h0M147.1 30.4h0M80.9 100.6h0M27.7 46.0h0M66.5 51.3h0M61.6 118.8h0M158.5 51.9h0M90.3 156.1h0M58.0 142.9h0M119.4 76.0h0M173.0 78.0h0M74.3 12.2h0M24.1 5.1h0M82.3 67.2h0M120.9 81.1h0M104.5 114.6h0M5.6 12.9h0M95.5 135.6h0M186.2 88.1h0M45.5 14.5h0M61.7 67.5h0M101.4 86.8h0M80.9 21.3h0M53.5 25.9h0M130.1 86.8h0M81.8 182.3h0M115.6 115.6h0M43.3 55.8h0M59.2 136.1h0M42.1 21.0h0M3.5 28.2h0M33.2 32.1h0M97.8 95.1h0M84.0 103.7h0M103.2 109.7h0M116.5 124.1h0M80.1 7.1h0M57.2 135.4h0M133.6 36.7h0M17.1 54.5h0M131.3 83.9h0M82.6 64.1h0M93.2 11.0h0M91.9 136.2h0M104.7 111.3h0M44.8 24.6h0M87.5 132.0h0M65.0 186.4h0M150.5 84.7h0M37.3 18.1h0M94.1 15.0h0M163.1 80.0h0M62.2 94.1h0M130.7 33.9h0M105.0 55.2h0M155.4 48.6h0M62.0 33.3h0M52.7 126.0h0M5.3 44.9h0M189.1 74.0h0M2.0 24.1h0M85.5 86.1h0M19.9 61.3h0M67.0 98.9h0M80.6 171.7h0M123.8 93.2h0M34.1 21.2h0M120.2 65.4h0M87.6 18.2h0M70.7 101.8h0M32.3 22.3h0M99.4 127.7h0M124.8 69.0h0M36.0 21.2h0M115.0 22.9h0M116.5 78.0h0M93.2 13.0h0M104.8 28.1h0M39.9 17.5h0M180.0 71.2h0M126.2 21.9h0M59.0 74.8h0M80.7 32.8h0M98.9 152.1h0M115.2 83.7h0M86.2 146.4h0M140.5 68.9h0M146.7 54.3h0M73.7 13.5h0M133.7 91.4h0M72.4 143.0h0M108.0 146.4h0M60.1 67.6h0M63.3 146.4h0M77.2 5.9h0M144.2 46.1h0M87.5 77.7h0M100.3 126.7h0M89.2 73.6h0M159.2 68.4h0M157.8 50.1h0M55.5 31.8h0M28.5 61.1h0M93.0 177.6h0M174.6 77.0h0M123.9 18.6h0M10.4 32.6h0M50.9 7.7h0M120.5 35.0h0M91.2 16.0h0M101.8 173.9h0M96.0 63.2h0M98.9 120.5h0M77.5 142.0h0M104.5 145.5h0M87.9 83.0h0M163.3 64.3h0M96.2 99.3h0M103.8 113.0h0M70.7 140.5h0M160.2 62.8h0M134.4 42.2h0M137.5 68.1h0M46.7 22.2h0M48.2 57.6h0M58.9 79.3h0M142.1 54.6h0M28.5 3.0h0M188.1 59.5h0M84.4 69.8h0M56.1 32.7h0M63.4 189.7h0M120.6 32.1h0M126.0 84.5h0M149.3 27.7h0M88.9 13.2h0M106.0 76.1h0M139.1 74.8h0M63.1 171.5h0M85.2 133.5h0M52.6 115.0h0M107.6 135.9h0M68.1 46.2h0M115.4 54.2h0M55.6 8.2h0M2.8 25.6h0M69.5 10.4h0M104.5 117.7h0M70.6 159.5h0M189.5 65.0h0M57.9 159.7h0M113.2 48.2h0M17.7 42.3h0M47.4 39.8h0M63.2 33.7h0M19.1 55.6h0M13.0 48.8h0M41.4 21.7h0M18.7 63.4h0M49.3 21.9h0M24.9 48.7h0M45.9 33.8h0M17.3 33.6h0M34.1 59.4h0M19.2 35.9h0M60.7 20.4h0M22.1 49.6h0M7.3 42.5h0M7.8 42.8h0M11.9 60.4h0M35.7 27.2h0M47.5 36.3h0M4.9 52.1h0M22.8 45.8h0M7.2 38.8h0M54.1 25.4h0M19.4 35.2h0M21.7 36.8h0M2.6 30.5h0M68.1 28.7h0M48.9 29.2h0M26.3 58.0h0M39.4 39.9h0M10.5 57.3h0M25.9 39.7h0M15.2 32.2h0M26.3 61.1h0M41.3 15.7h0M6.9 48.4h0M52.6 38.5h0M19.1 47.2h0M74.8 22.9h0M25.9 52.6h0M24.6 50.9h0M18.1 60.8h0M47.1 47.1h0M34.5 28.6h0M26.5 54.0h0M34.0 51.8h0M35.7 43.5h0M2.9 52.6h0M52.3 22.8h0M17.7 45.5h0M33.2 35.6h0M64.1 34.3h0M69.8 26.1h0M32.7 26.0h0M52.9 41.8h0M53.9 25.8h0M41.2 45.0h0M14.3 45.4h0M33.2 37.9h0M65.1 33.9h0M35.7 28.3h0M45.5 40.2h0M16.5 39.1h0M34.0 52.5h0M38.0 48.0h0M36.9 36.6h0M32.7 54.1h0M40.2 24.0h0M42.2 30.3h0M25.5 49.3h0M24.0 48.9h0M53.2 40.7h0M35.0 24.9h0M16.7 37.9h0M20.2 24.9h0M42.2 34.8h0M29.6 47.8h0M19.1 35.8h0M50.7 18.7h0M53.3 31.4h0M12.5 46.6h0M65.6 24.7h0M25.8 28.3h0M53.0 22.9h0M9.6 61.2h0M13.7 22.6h0M31.2 27.0h0M27.5 59.8h0M52.2 23.4h0M16.9 28.7h0M24.1 38.7h0M33.3 39.1h0M36.1 40.5h0M40.8 50.5h0M10.5 58.1h0M54.4 34.3h0M73.9 22.0h0M21.1 52.4h0M9.5 49.9h0M35.3 23.8h0M63.7 22.0h0M31.2 21.9h0M14.0 57.2h0M51.2 19.4h0M33.9 44.1h0M1.7 35.2h0M39.4 35.0h0M15.9 45.6h0M45.0 35.8h0M65.3 19.9h0M42.0 35.5h0M61.3 24.9h0M48.6 27.5h0M33.2 32.8h0M52.2 43.8h0M38.7 54.6h0M41.8 51.6h0M11.0 40.6h0M26.4 60.5h0M4.5 47.2h0M29.8 26.4h0M20.5 62.8h0M18.4 26.1h0M26.5 38.6h0M29.6 45.6h0M15.5 30.1h0M45.5 49.4h0M22.0 30.0h0M31.3 46.4h0M1.0 50.9h0M28.5 51.3h0M29.7 32.4h0M23.4 27.2h0M14.9 43.8h0M63.3 34.5h0M75.9 23.9h0M3.0 47.6h0M8.2 51.8h0M55.5 15.1h0M38.3 45.7h0M15.4 57.4h0M42.4 30.8h0M55.7 22.1h0M59.4 18.9h0M43.7 17.2h0M14.0 39.2h0M11.0 36.3h0M44.1 39.0h0M41.9 27.3h0M177.1 86.4h0M152.5 87.1h0M141.4 63.4h0M144.8 56.7h0M134.5 58.6h0M160.2 85.9h0M152.7 71.8h0M146.2 60.8h0M158.7 87.1h0M153.5 64.9h0M142.8 58.0h0M164.0 82.8h0M157.3 80.8h0M132.2 54.6h0M133.8 57.2h0M151.0 67.1h0M140.6 57.8h0M156.3 61.0h0M169.8 85.9h0M161.8 87.0h0M150.0 73.4h0M153.5 73.3h0M154.3 81.9h0M151.2 69.5h0M159.2 81.6h0M182.2 85.6h0M145.5 58.4h0M137.8 57.2h0M165.9 85.9h0M154.7 69.7h0M149.2 56.8h0M146.1 76.8h0M157.1 69.9h0M145.7 63.8h0M161.9 71.7h0M161.8 64.8h0M144.8 64.5h0M159.8 75.2h0M150.3 87.6h0M143.3 56.1h0M127.3 43.7h0M164.8 87.9h0M141.0 63.8h0M134.5 56.5h0M156.9 86.9h0M167.7 83.0h0M164.8 75.0h0M133.4 59.2h0M154.4 66.1h0M174.6 88.0h0M142.6 64.5h0M176.2 86.5h0M138.2 66.8h0M158.1 73.5h0M149.6 80.5h0M155.2 71.3h0M134.7 57.9h0M167.9 84.2h0M144.7 80.0h0M152.8 76.5h0M137.4 69.3h0M159.9 70.8h0M146.2 57.5h0M143.9 84.8h0M143.4 82.4h0M152.0 69.9h0M151.9 86.6h0M144.3 57.3h0M138.6 61.4h0M146.4 62.9h0" fill="none" stroke="#d8404c" stroke-opacity="0.62" stroke-width="1.35" stroke-linecap="round"/></g>
<text transform="translate(1000.80 1872.20) scale(1 1.040)" font-size="26.9" text-anchor="middle" fill="#000" stroke="#000" stroke-width="0.3">OPC 1</text>
<g transform="translate(915.5 1881.5) scale(0.982)"><use href="#brain"/><path d="M157.1 72.9h0M131.7 80.4h0M72.6 81.5h0M71.4 160.1h0M95.4 78.2h0M104.4 24.1h0M114.9 59.4h0M71.6 113.2h0M66.3 107.7h0M88.0 156.7h0M80.0 27.1h0M192.2 67.8h0M59.0 41.8h0M118.2 77.0h0M70.3 86.7h0M114.0 23.6h0M60.0 125.9h0M169.2 49.7h0M148.5 59.5h0M97.1 15.2h0M105.7 158.0h0M94.0 171.2h0M42.4 39.4h0M0.9 20.5h0M81.0 9.2h0M103.8 21.6h0M97.0 117.2h0M162.9 44.1h0M163.2 87.8h0M72.6 116.1h0M57.8 45.6h0M126.8 87.0h0M19.1 48.1h0M68.0 142.4h0M87.3 81.9h0M85.1 141.3h0M68.3 56.3h0M97.1 86.9h0M84.5 62.7h0M24.0 18.9h0M119.2 83.5h0M130.7 48.5h0M79.6 72.8h0M103.1 135.7h0M18.5 54.4h0M19.7 22.4h0M59.5 87.2h0M54.8 18.7h0M0.6 37.4h0M170.9 54.4h0M53.5 45.3h0M22.7 45.1h0M100.0 149.2h0M140.5 85.3h0M101.0 57.6h0M146.5 65.3h0M110.9 26.2h0M178.8 58.1h0M85.6 43.2h0M85.7 5.8h0M187.6 65.1h0M84.2 170.4h0M105.1 143.0h0M142.6 32.7h0M172.5 68.6h0M163.4 86.4h0M120.1 125.3h0M94.0 53.3h0M120.3 38.8h0M21.5 50.3h0M53.2 14.1h0M21.4 26.5h0M12.5 12.8h0M29.6 7.2h0M189.4 75.8h0M18.6 41.0h0M169.4 47.9h0M150.8 40.4h0M63.4 164.9h0M181.6 53.5h0M30.1 43.1h0M34.1 50.2h0M77.8 21.5h0M56.9 152.5h0M59.4 187.9h0M101.0 86.1h0M65.4 67.3h0M25.0 60.0h0M62.7 56.6h0M103.6 31.6h0M186.3 82.6h0M151.6 85.9h0M152.0 84.9h0M114.5 84.4h0M169.9 83.7h0M100.1 89.5h0M106.5 103.4h0M102.5 181.7h0M175.1 54.7h0M93.8 80.2h0M71.3 47.0h0M101.2 166.2h0M32.9 50.9h0M59.4 183.3h0M163.1 38.1h0M125.0 91.5h0M126.2 81.1h0M75.8 93.3h0M77.3 136.1h0M59.0 109.0h0M169.8 43.6h0M93.1 101.5h0M168.9 80.9h0M119.4 77.1h0M55.1 1.4h0M72.4 95.8h0M85.5 64.6h0M33.7 42.8h0M67.3 20.5h0M14.6 61.5h0M173.3 45.3h0M33.0 16.7h0M118.5 90.9h0M46.4 51.2h0M105.3 52.7h0M88.6 156.7h0M60.9 97.2h0M102.8 46.8h0M107.9 60.6h0M85.1 131.0h0M125.7 22.2h0M172.1 77.6h0M62.4 78.7h0M127.5 40.2h0M0.3 28.6h0M87.6 31.6h0M86.9 84.0h0M101.5 77.5h0M75.2 146.1h0M186.5 77.3h0M89.3 178.8h0M113.9 141.1h0M114.2 137.9h0M98.3 114.6h0M65.4 189.5h0M182.0 57.5h0M53.5 51.0h0M103.6 181.8h0M88.0 72.8h0M122.5 55.5h0M24.2 33.4h0M83.9 109.5h0M131.1 72.0h0M86.4 75.1h0M108.3 80.9h0M122.1 45.0h0M6.8 32.7h0M61.9 10.7h0M66.1 182.7h0M74.4 87.8h0M122.3 58.2h0M102.8 143.9h0M152.1 35.8h0M131.5 45.1h0M169.0 87.1h0M149.5 39.2h0M86.3 155.0h0M125.1 23.7h0M92.3 165.4h0M46.1 63.0h0M116.1 21.1h0M6.0 8.9h0M19.8 30.0h0M70.2 59.4h0M72.3 160.2h0M127.8 58.7h0M110.0 39.5h0M176.8 62.5h0M77.4 13.5h0M102.5 173.6h0M61.5 0.8h0M105.4 109.1h0M94.3 151.2h0M88.1 147.9h0M71.5 67.4h0M118.5 30.1h0M153.9 79.1h0M70.0 108.7h0M121.5 86.6h0M97.6 60.5h0M29.5 17.9h0M102.5 180.3h0M115.7 126.8h0M157.8 48.3h0M28.3 17.1h0M87.5 20.8h0M62.3 91.5h0M71.3 85.3h0M77.0 80.3h0M69.7 28.9h0M69.9 84.8h0M85.8 135.7h0M70.9 34.0h0M57.6 37.2h0M154.5 71.6h0M54.3 46.4h0M112.1 74.7h0M60.1 113.9h0M151.9 83.9h0M70.0 40.1h0M0.6 22.3h0M145.3 77.8h0M80.3 92.8h0M75.3 101.4h0M65.2 160.9h0M6.7 52.0h0M106.3 98.1h0M111.7 101.8h0M89.6 169.9h0M69.9 29.9h0M69.9 26.9h0M71.4 43.7h0M97.4 73.9h0M68.2 134.0h0M73.7 165.9h0M79.2 89.6h0M116.7 61.4h0M67.8 45.6h0M85.9 24.6h0M82.0 83.8h0M147.5 47.5h0M73.7 126.5h0M71.0 92.4h0M106.3 135.9h0M66.6 97.2h0M82.9 77.0h0M135.8 51.8h0M58.4 63.8h0M146.0 88.6h0M88.0 75.5h0M98.7 63.1h0M138.0 66.1h0M79.1 120.1h0M89.6 111.8h0M139.4 42.0h0M126.1 63.4h0M61.6 186.7h0M26.2 53.6h0M101.7 150.2h0M70.3 86.9h0M68.2 118.4h0M130.3 75.4h0M82.6 176.8h0M9.6 53.2h0M64.5 36.2h0M68.0 174.0h0M78.5 59.2h0M45.0 26.0h0M79.1 65.4h0M125.9 60.0h0M105.6 117.2h0M111.1 87.5h0M103.7 115.1h0M74.4 63.9h0M112.6 135.1h0M83.7 90.1h0M119.4 100.9h0M162.6 57.2h0M83.3 49.9h0M124.9 54.3h0M142.8 50.2h0M164.2 68.2h0M79.0 120.5h0M112.9 18.4h0M71.6 97.3h0M166.2 69.9h0M65.0 54.3h0M61.7 121.4h0M54.2 42.0h0M80.5 67.3h0M108.4 92.3h0M123.6 59.5h0M61.8 127.2h0M162.8 66.9h0M24.9 41.7h0M103.9 175.4h0M5.2 25.5h0M104.1 139.1h0M86.1 168.0h0M117.6 36.4h0M15.3 32.1h0M77.3 124.7h0M8.4 12.2h0M154.3 57.0h0M83.6 47.1h0M164.4 84.6h0M61.0 21.9h0M63.3 24.8h0M28.5 49.3h0M130.1 62.5h0M177.0 75.0h0M65.6 73.9h0M131.0 61.6h0M53.6 47.3h0M136.0 53.8h0M74.1 35.7h0M96.8 99.1h0M47.0 10.1h0M10.8 18.6h0M133.8 42.2h0M124.5 46.3h0M181.1 69.1h0M11.7 44.3h0M167.5 74.4h0M121.9 47.2h0M108.0 74.9h0M92.3 141.0h0M13.1 38.5h0M19.9 26.7h0M104.8 25.1h0M16.8 25.6h0M9.7 33.6h0M44.0 2.9h0M80.7 65.3h0M156.3 88.6h0M96.8 20.6h0M83.6 53.4h0M73.2 13.2h0M102.1 172.7h0M106.4 23.6h0" fill="none" stroke="#d8404c" stroke-opacity="0.62" stroke-width="1.35" stroke-linecap="round"/></g>
<text transform="translate(1204.80 1871.10) scale(1 1.040)" font-size="26.9" text-anchor="middle" fill="#000" stroke="#000" stroke-width="0.3">OPC 2</text>
<g transform="translate(1118.7 1881.5) scale(0.982)"><use href="#brain"/><path d="M32.7 31.8h0M75.4 46.6h0M75.5 88.0h0M97.1 95.2h0M94.0 182.4h0M66.9 187.9h0M72.9 80.5h0M114.1 100.1h0M81.2 94.7h0M44.3 72.3h0M130.2 33.4h0M57.6 131.6h0M70.4 74.6h0M129.8 80.8h0M179.2 87.8h0M100.5 40.6h0M35.9 16.5h0M94.0 29.1h0M82.1 72.2h0M73.5 154.7h0M61.4 122.0h0M23.0 20.5h0M29.3 14.2h0M185.3 63.2h0M102.1 181.5h0M27.3 58.7h0M74.2 38.4h0M143.4 56.4h0M154.6 40.5h0M189.0 83.2h0M68.6 19.0h0M66.0 125.0h0M85.5 161.5h0M93.3 62.9h0M113.0 65.0h0M37.8 21.7h0M102.1 120.6h0M108.9 96.0h0M148.5 62.4h0M119.8 45.9h0M124.6 95.4h0M83.4 37.9h0M30.2 41.6h0M28.8 42.4h0M121.0 37.7h0M109.1 39.5h0M1.5 27.0h0M76.2 60.7h0M86.7 158.7h0M65.7 63.3h0M191.8 72.5h0M88.7 33.4h0M88.8 47.1h0M116.8 62.5h0M60.1 96.6h0M177.1 69.9h0M169.2 68.4h0M117.3 19.0h0M90.3 23.9h0M139.7 81.1h0M153.5 52.6h0M25.2 25.8h0M169.8 66.2h0M135.0 68.4h0M49.8 55.8h0M177.6 87.0h0M43.5 52.9h0M114.4 31.4h0M83.1 47.9h0M21.3 35.7h0M67.9 74.3h0M78.0 49.8h0M92.7 183.3h0M175.1 60.1h0M98.9 135.6h0M62.1 107.7h0M34.4 37.9h0M50.4 58.1h0M97.5 31.2h0M42.3 51.3h0M175.0 59.8h0M27.4 15.6h0M164.0 73.6h0M103.5 34.2h0M31.2 54.4h0M172.5 56.0h0M144.2 69.6h0M78.3 102.9h0M145.4 76.9h0M44.7 30.2h0M28.5 31.4h0M172.7 77.0h0M111.8 86.3h0M81.3 77.1h0M187.6 65.1h0M126.6 23.3h0M91.4 128.2h0M102.5 182.6h0M12.0 19.0h0M44.4 38.9h0M116.4 118.4h0M182.6 62.5h0M63.4 81.3h0M73.4 51.9h0M113.0 100.4h0M115.9 113.3h0M54.3 27.8h0M101.1 50.3h0M93.1 168.8h0M114.7 135.7h0M49.2 48.9h0M144.6 70.6h0M92.5 37.1h0M35.1 62.8h0M93.0 119.9h0M139.8 25.7h0M101.7 126.6h0M90.5 152.5h0M83.5 87.8h0M103.7 131.2h0M71.8 26.4h0M57.1 150.6h0M21.7 20.6h0M93.6 92.4h0M58.7 80.2h0M122.8 62.6h0M100.5 164.2h0M30.1 25.2h0M130.1 73.4h0M95.0 118.4h0M183.0 71.5h0M64.8 4.4h0M82.5 180.6h0M8.1 26.9h0M131.3 29.2h0M58.7 147.8h0M98.7 160.6h0M92.1 150.3h0M117.3 84.4h0M2.2 12.1h0M110.7 54.8h0M105.0 151.4h0M126.6 91.1h0M111.5 68.6h0M99.8 28.4h0M103.4 178.4h0M81.2 36.9h0M39.5 4.8h0M41.7 29.1h0M171.5 79.0h0M61.3 120.7h0M140.3 49.4h0M65.4 172.1h0M167.0 70.8h0M31.4 54.8h0M138.4 49.4h0M86.5 18.6h0M187.4 88.5h0M95.0 50.3h0M146.1 72.8h0M87.3 141.7h0M104.1 135.7h0M115.0 71.4h0M91.4 37.4h0M106.4 104.2h0M73.7 137.8h0M128.0 42.5h0M56.3 48.5h0M114.1 47.7h0M54.6 117.1h0M72.3 118.6h0M68.7 66.5h0M147.4 49.0h0M38.7 1.9h0M101.2 133.4h0M71.8 143.8h0M143.7 23.7h0M131.1 89.8h0M109.3 141.6h0M59.0 134.4h0M57.6 83.7h0M115.6 37.3h0M7.0 34.9h0M100.3 75.5h0M98.9 24.9h0M105.4 28.7h0M68.1 45.6h0M68.7 185.8h0M175.1 81.7h0M161.5 52.4h0M164.6 61.9h0M69.7 17.7h0M72.3 59.2h0M77.8 36.0h0M107.0 94.0h0M183.9 54.6h0M73.0 83.1h0M59.1 100.0h0M126.9 60.2h0M20.6 15.0h0" fill="none" stroke="#d8404c" stroke-opacity="0.62" stroke-width="1.35" stroke-linecap="round"/></g>
<text transform="translate(1405.30 1872.20) scale(1 1.040)" font-size="26.9" text-anchor="middle" fill="#000" stroke="#000" stroke-width="0.3">VLMC</text>
<g transform="translate(1320.5 1882.0) scale(0.982)"><use href="#brain"/><path d="M0.4 14.8h0M0.5 13.7h0M1.0 13.3h0M1.8 12.5h0M1.8 11.7h0M2.5 11.1h0M2.9 9.4h0M3.5 8.8h0M4.3 8.7h0M6.2 8.5h0M6.8 8.5h0M7.6 8.3h0M9.1 7.6h0M9.5 7.1h0M10.1 7.1h0M11.1 7.2h0M12.2 6.7h0M13.7 6.2h0M14.4 5.8h0M15.9 5.4h0M16.8 5.1h0M17.3 5.2h0M18.1 4.9h0M19.4 4.2h0M19.9 4.5h0M22.3 4.4h0M22.8 3.6h0M24.1 4.3h0M24.4 3.9h0M25.4 3.4h0M26.1 3.4h0M27.0 3.4h0M27.6 2.8h0M28.7 3.0h0M29.6 3.0h0M30.7 2.3h0M32.2 2.3h0M32.5 2.1h0M33.1 2.3h0M34.0 2.3h0M34.8 1.4h0M35.7 1.7h0M37.5 1.9h0M37.9 1.5h0M38.6 1.3h0M40.4 1.4h0M41.1 1.5h0M42.1 1.2h0M43.2 1.5h0M44.1 1.0h0M44.4 1.3h0M45.2 1.1h0M47.0 0.8h0M47.4 1.1h0M48.4 0.9h0M49.0 0.7h0M50.0 0.7h0M50.4 0.9h0M51.3 0.5h0M52.4 0.4h0M52.9 0.8h0M54.7 -0.1h0M55.1 0.5h0M55.9 0.5h0M57.2 0.5h0M57.9 0.5h0M59.4 0.8h0M60.5 0.5h0M62.3 1.0h0M62.8 0.7h0M63.5 0.3h0M64.0 0.8h0M64.7 0.8h0M66.3 1.1h0M66.6 0.6h0M67.6 1.1h0M68.4 1.0h0M70.6 1.3h0M71.7 1.9h0M72.4 1.7h0M73.3 1.5h0M74.3 1.8h0M76.4 2.3h0M76.8 2.6h0M77.9 2.4h0M78.8 2.7h0M79.5 2.7h0M79.9 3.0h0M80.9 3.2h0M81.6 3.6h0M82.5 3.7h0M84.4 4.0h0M84.8 4.0h0M85.4 4.4h0M86.6 4.4h0M86.9 4.9h0M87.4 5.5h0M89.1 6.1h0M89.3 6.3h0M90.4 7.4h0M91.1 8.1h0M91.6 7.8h0M92.7 8.2h0M93.2 9.3h0M94.4 9.3h0M94.9 10.6h0M97.1 13.0h0M97.4 13.6h0M98.0 13.7h0M98.3 13.8h0M99.1 15.1h0M99.8 15.9h0M100.2 17.7h0M100.5 18.1h0M101.1 19.7h0M101.5 19.8h0M101.7 21.8h0M101.6 23.5h0M101.4 23.9h0M101.3 25.1h0M100.9 26.5h0M100.4 27.9h0M101.0 28.2h0M100.3 29.7h0M100.5 31.2h0M100.1 31.8h0M99.8 32.5h0M99.7 34.3h0M99.7 35.3h0M99.0 36.5h0M99.1 37.5h0M98.7 37.9h0M98.1 39.8h0M97.8 40.8h0M98.4 42.0h0M97.2 44.0h0M97.2 44.4h0M97.2 45.5h0M97.0 46.1h0M96.2 49.9h0M96.5 50.8h0M96.1 51.1h0M95.5 52.9h0M95.4 53.2h0M95.6 54.5h0M95.3 55.0h0M95.2 56.3h0M94.9 56.6h0M94.8 57.5h0M94.3 58.0h0M94.0 59.4h0M94.3 59.9h0M93.7 60.8h0M93.7 61.6h0M93.7 62.6h0M93.3 63.0h0M92.8 64.1h0M92.7 65.0h0M92.7 66.3h0M92.1 68.1h0M91.5 69.0h0M91.7 69.1h0M91.8 70.5h0M90.9 70.8h0M90.9 72.0h0M90.9 72.7h0M90.5 73.1h0M90.7 74.2h0M90.1 74.8h0M90.0 76.7h0M89.7 79.1h0M89.7 79.9h0M89.3 80.4h0M89.5 81.2h0M88.8 81.8h0M88.8 82.4h0M88.7 83.5h0M88.8 84.8h0M89.0 85.2h0M88.4 85.7h0M88.1 87.0h0M87.7 87.7h0M87.9 88.5h0M88.0 88.7h0M87.3 89.2h0M88.2 90.5h0M87.5 91.3h0M87.8 91.9h0M87.3 92.6h0M87.6 93.6h0M87.0 94.5h0M86.9 95.4h0M87.0 96.4h0M86.1 97.2h0M86.4 97.5h0M85.9 98.9h0M86.1 99.3h0M85.8 100.8h0M85.8 101.6h0M85.6 103.2h0M85.3 104.1h0M85.1 104.9h0M84.5 109.9h0M83.8 113.2h0M83.2 118.0h0M82.6 119.2h0M82.0 123.9h0M79.8 138.0h0M79.8 138.7h0M79.6 139.3h0M79.3 141.9h0M79.0 142.6h0M78.7 144.8h0M78.4 148.4h0M78.2 149.4h0M77.8 151.3h0M77.8 152.6h0M77.0 155.0h0M76.8 156.1h0M76.4 159.1h0M76.3 161.0h0M75.5 166.0h0M75.2 169.1h0M74.6 171.3h0M74.8 171.8h0M74.1 173.3h0M74.0 174.7h0M73.7 177.1h0M73.6 177.2h0M73.3 179.9h0M73.0 180.6h0M73.8 182.0h0M73.1 182.5h0M72.6 183.5h0M72.7 184.8h0M72.6 187.0h0M192.1 66.8h0M192.2 65.6h0M192.1 64.5h0M191.8 63.7h0M191.5 63.4h0M191.3 62.5h0M191.0 61.9h0M190.7 60.9h0M189.4 59.0h0M189.0 58.3h0M188.1 57.4h0M187.6 57.1h0M186.0 55.9h0M184.8 54.4h0M184.4 53.7h0M183.6 53.4h0M183.6 52.6h0M182.6 52.3h0M182.0 51.9h0M181.3 50.8h0M180.4 50.4h0M180.4 50.3h0M179.8 49.4h0M178.1 48.9h0M177.2 48.8h0M177.1 47.7h0M176.3 47.0h0M175.3 46.8h0M173.5 45.5h0M173.4 44.2h0M172.3 44.1h0M171.4 43.4h0M171.5 42.8h0M170.5 42.6h0M169.0 41.3h0M168.2 40.6h0M167.7 40.2h0M167.2 39.9h0M166.5 39.5h0M165.4 39.1h0M164.9 38.5h0M164.6 38.1h0M163.8 37.6h0M163.3 37.1h0M162.6 36.5h0M161.2 36.1h0M160.7 35.1h0M160.3 35.2h0M158.0 33.8h0M157.8 33.4h0M156.1 32.6h0M155.8 31.5h0M154.3 30.9h0M153.7 30.3h0M153.1 30.1h0M153.0 29.6h0M151.5 29.1h0M151.2 28.7h0M150.5 27.8h0M150.4 28.0h0M148.7 27.1h0M147.8 26.8h0M147.4 26.0h0M146.3 25.2h0M146.2 25.1h0M144.3 24.5h0M144.3 23.6h0M142.9 23.2h0M141.6 22.4h0M141.3 21.9h0M140.7 21.5h0M139.6 21.3h0M138.5 21.1h0M138.5 20.7h0M137.6 20.4h0M136.4 20.6h0M136.0 20.1h0M135.4 19.8h0M134.6 20.1h0M132.9 18.7h0M132.6 18.4h0M131.7 18.4h0M131.0 18.1h0M130.1 17.7h0M128.5 17.2h0M128.2 17.2h0M125.3 16.8h0M124.5 16.9h0M123.5 16.5h0M123.0 16.3h0M122.4 16.6h0M121.2 16.6h0M119.7 16.1h0M119.1 16.5h0M117.9 16.3h0M117.6 16.4h0M115.9 16.7h0M115.6 16.8h0M112.9 17.1h0M112.0 17.2h0M111.0 17.2h0M110.2 17.5h0M109.4 17.1h0M108.8 17.7h0M108.0 18.2h0M107.5 17.9h0M106.7 18.6h0M106.2 19.0h0M104.4 20.8h0M103.4 23.7h0M103.0 27.0h0M102.3 29.5h0M101.4 33.8h0M97.4 54.5h0M97.2 55.1h0M96.6 56.3h0M95.9 60.1h0M95.3 62.6h0M95.1 64.0h0M94.7 67.2h0M94.0 68.0h0M93.1 73.4h0M93.0 74.7h0M92.7 75.6h0M92.6 77.3h0M92.5 78.2h0M91.9 80.2h0M91.6 82.5h0M91.1 85.8h0M90.7 89.5h0M90.5 89.7h0M90.4 91.0h0M89.8 91.6h0M89.6 98.1h0M88.7 103.4h0M86.9 114.5h0M86.3 121.5h0M83.8 136.6h0M82.6 146.6h0M82.1 152.9h0M81.8 155.8h0M74.6 124.5h0M159.8 48.9h0M127.2 76.8h0M93.8 106.1h0M29.8 57.1h0M173.7 60.3h0" fill="none" stroke="#c8242c" stroke-opacity="0.90" stroke-width="1.80" stroke-linecap="round"/></g>
<path d="M161.38 2258.5V2279.0M161.38 2687.0V2706M191.82 2258.5V2279.0M191.82 2687.0V2706M222.28 2258.5V2279.0M222.28 2687.0V2706M252.72 2258.5V2279.0M252.72 2687.0V2706M283.18 2258.5V2279.0M283.18 2687.0V2706M313.62 2258.5V2279.0M313.62 2687.0V2706M344.07 2258.5V2279.0M344.07 2687.0V2706M374.52 2258.5V2279.0M374.52 2687.0V2706M404.98 2258.5V2279.0M404.98 2687.0V2706M435.43 2258.5V2279.0M435.43 2687.0V2706M465.88 2258.5V2279.0M465.88 2687.0V2706M496.32 2258.5V2279.0M496.32 2687.0V2706M526.77 2258.5V2279.0M526.77 2687.0V2706M557.22 2258.5V2279.0M557.22 2687.0V2706M587.67 2258.5V2279.0M587.67 2687.0V2706M618.12 2258.5V2279.0M618.12 2687.0V2706M648.58 2258.5V2279.0M648.58 2687.0V2706M679.02 2258.5V2279.0M679.02 2687.0V2706M709.48 2258.5V2279.0M709.48 2687.0V2706M739.92 2258.5V2279.0M739.92 2687.0V2706M770.38 2258.5V2279.0M770.38 2687.0V2706M800.82 2258.5V2279.0M800.82 2687.0V2706M831.27 2258.5V2279.0M831.27 2687.0V2706M861.73 2258.5V2279.0M861.73 2687.0V2706M892.17 2258.5V2279.0M892.17 2687.0V2706M922.62 2258.5V2279.0M922.62 2687.0V2706M953.07 2258.5V2279.0M953.07 2687.0V2706M983.52 2258.5V2279.0M983.52 2687.0V2706M1013.98 2258.5V2279.0M1013.98 2687.0V2706M1044.42 2258.5V2279.0M1044.42 2687.0V2706M1074.88 2258.5V2279.0M1074.88 2687.0V2706M1105.32 2258.5V2279.0M1105.32 2687.0V2706M1135.78 2258.5V2279.0M1135.78 2687.0V2706M1166.22 2258.5V2279.0M1166.22 2687.0V2706M1196.67 2258.5V2279.0M1196.67 2687.0V2706M1227.12 2258.5V2279.0M1227.12 2687.0V2706M1257.58 2258.5V2279.0M1257.58 2687.0V2706M1288.02 2258.5V2279.0M1288.02 2687.0V2706M1318.47 2258.5V2279.0M1318.47 2687.0V2706M1348.92 2258.5V2279.0M1348.92 2687.0V2706M1379.38 2258.5V2279.0M1379.38 2687.0V2706M1409.83 2258.5V2279.0M1409.83 2687.0V2706M1440.27 2258.5V2279.0M1440.27 2687.0V2706M1470.72 2258.5V2279.0M1470.72 2687.0V2706M1501.17 2258.5V2279.0M1501.17 2687.0V2706M1531.62 2258.5V2279.0M1531.62 2687.0V2706M1562.08 2258.5V2279.0M1562.08 2687.0V2706M1592.52 2258.5V2279.0M1592.52 2687.0V2706M1622.97 2258.5V2279.0M1622.97 2687.0V2706M1653.42 2258.5V2279.0M1653.42 2687.0V2706M1683.88 2258.5V2279.0M1683.88 2687.0V2706M1714.33 2258.5V2279.0M1714.33 2687.0V2706" stroke="#dcdcdc" stroke-width="3.1" fill="none"/>
<path d="M148.00 2279.00h26.75v75.31h-26.75zM178.45 2279.00h26.75v29.90h-26.75zM208.90 2279.00h26.75v13.94h-26.75zM239.35 2279.00h26.75v4.50h-26.75zM269.80 2279.00h26.75v10.12h-26.75zM300.25 2279.00h26.75v22.48h-26.75zM330.70 2279.00h26.75v43.83h-26.75zM361.15 2279.00h26.75v12.81h-26.75zM391.60 2279.00h26.75v64.74h-26.75zM422.05 2279.00h26.75v28.10h-26.75zM452.50 2279.00h26.75v12.81h-26.75zM482.95 2279.00h26.75v28.10h-26.75zM513.40 2279.00h26.75v13.94h-26.75zM543.85 2279.00h26.75v24.73h-26.75zM574.30 2279.00h26.75v39.79h-26.75zM604.75 2279.00h26.75v18.43h-26.75zM635.20 2279.00h26.75v1.80h-26.75zM665.65 2279.00h26.75v10.79h-26.75zM696.10 2279.00h26.75v10.79h-26.75zM726.55 2279.00h26.75v22.48h-26.75zM757.00 2279.00h26.75v19.11h-26.75zM787.45 2279.00h26.75v15.29h-26.75zM817.90 2279.00h26.75v14.61h-26.75zM848.35 2279.00h26.75v22.48h-26.75zM878.80 2279.00h26.75v30.35h-26.75zM909.25 2279.00h26.75v17.98h-26.75zM939.70 2279.00h26.75v11.69h-26.75zM970.15 2279.00h26.75v22.48h-26.75zM1000.60 2279.00h26.75v24.73h-26.75zM1031.05 2279.00h26.75v26.53h-26.75zM1061.50 2279.00h26.75v16.86h-26.75zM1091.95 2279.00h26.75v16.86h-26.75zM1122.40 2279.00h26.75v19.11h-26.75zM1152.85 2279.00h26.75v19.11h-26.75zM1183.30 2279.00h26.75v29.90h-26.75zM1213.75 2279.00h26.75v18.43h-26.75zM1244.20 2279.00h26.75v18.43h-26.75zM1274.65 2279.00h26.75v20.68h-26.75zM1305.10 2279.00h26.75v22.48h-26.75zM1335.55 2279.00h26.75v12.36h-26.75zM1366.00 2279.00h26.75v16.19h-26.75zM1396.45 2279.00h26.75v11.69h-26.75zM1426.90 2279.00h26.75v16.86h-26.75zM1457.35 2279.00h26.75v17.53h-26.75zM1487.80 2279.00h26.75v16.19h-26.75zM1518.25 2279.00h26.75v16.86h-26.75zM1548.70 2279.00h26.75v22.48h-26.75zM1579.15 2279.00h26.75v11.69h-26.75zM1609.60 2279.00h26.75v9.44h-26.75zM1640.05 2279.00h26.75v17.98h-26.75zM1670.50 2279.00h26.75v23.60h-26.75zM1700.95 2279.00h26.75v17.98h-26.75z" fill="#332288"/>
<path d="M148.00 2354.31h26.75v18.66h-26.75zM178.45 2308.90h26.75v6.52h-26.75zM208.90 2292.94h26.75v4.05h-26.75zM239.35 2283.50h26.75v1.57h-26.75zM269.80 2289.12h26.75v0.45h-26.75zM300.25 2301.48h26.75v0.67h-26.75zM330.70 2322.83h26.75v48.78h-26.75zM361.15 2291.81h26.75v10.79h-26.75zM391.60 2343.74h26.75v4.95h-26.75zM422.05 2307.10h26.75v0.45h-26.75zM452.50 2291.81h26.75v1.12h-26.75zM482.95 2307.10h26.75v15.29h-26.75zM513.40 2292.94h26.75v0.67h-26.75zM543.85 2303.73h26.75v31.02h-26.75zM574.30 2318.79h26.75v8.54h-26.75zM604.75 2297.43h26.75v10.12h-26.75zM635.20 2280.80h26.75v0.45h-26.75zM665.65 2289.79h26.75v2.02h-26.75zM696.10 2289.79h26.75v10.12h-26.75zM726.55 2301.48h26.75v10.79h-26.75zM757.00 2298.11h26.75v14.61h-26.75zM787.45 2294.29h26.75v1.57h-26.75zM817.90 2293.61h26.75v3.37h-26.75zM848.35 2301.48h26.75v17.31h-26.75zM878.80 2309.35h26.75v24.28h-26.75zM909.25 2296.98h26.75v14.61h-26.75zM939.70 2290.69h26.75v4.50h-26.75zM970.15 2301.48h26.75v14.16h-26.75zM1000.60 2303.73h26.75v52.15h-26.75zM1031.05 2305.53h26.75v13.26h-26.75zM1061.50 2295.86h26.75v7.19h-26.75zM1091.95 2295.86h26.75v20.23h-26.75zM1122.40 2298.11h26.75v11.24h-26.75zM1152.85 2298.11h26.75v6.74h-26.75zM1183.30 2308.90h26.75v12.81h-26.75zM1213.75 2297.43h26.75v5.84h-26.75zM1244.20 2297.43h26.75v10.12h-26.75zM1274.65 2299.68h26.75v11.91h-26.75zM1305.10 2301.48h26.75v30.35h-26.75zM1335.55 2291.36h26.75v10.12h-26.75zM1366.00 2295.19h26.75v12.59h-26.75zM1396.45 2290.69h26.75v11.24h-26.75zM1426.90 2295.86h26.75v14.61h-26.75zM1457.35 2296.53h26.75v12.81h-26.75zM1487.80 2295.19h26.75v10.79h-26.75zM1518.25 2295.86h26.75v14.61h-26.75zM1548.70 2301.48h26.75v7.19h-26.75zM1579.15 2290.69h26.75v15.29h-26.75zM1609.60 2288.44h26.75v10.12h-26.75zM1640.05 2296.98h26.75v19.56h-26.75zM1670.50 2302.60h26.75v13.04h-26.75zM1700.95 2296.98h26.75v15.06h-26.75z" fill="#88CCEE"/>
<path d="M148.00 2372.96h26.75v125.21h-26.75zM178.45 2315.42h26.75v29.45h-26.75zM208.90 2296.98h26.75v15.29h-26.75zM239.35 2285.07h26.75v4.72h-26.75zM269.80 2289.57h26.75v6.29h-26.75zM300.25 2302.15h26.75v24.05h-26.75zM330.70 2371.61h26.75v174.89h-26.75zM361.15 2302.60h26.75v29.22h-26.75zM391.60 2348.69h26.75v123.19h-26.75zM422.05 2307.55h26.75v29.45h-26.75zM452.50 2292.94h26.75v9.67h-26.75zM482.95 2322.39h26.75v64.07h-26.75zM513.40 2293.61h26.75v20.91h-26.75zM543.85 2334.75h26.75v187.03h-26.75zM574.30 2327.33h26.75v131.95h-26.75zM604.75 2307.55h26.75v74.86h-26.75zM635.20 2281.25h26.75v2.25h-26.75zM665.65 2291.81h26.75v38.89h-26.75zM696.10 2299.91h26.75v26.75h-26.75zM726.55 2312.27h26.75v37.99h-26.75zM757.00 2312.72h26.75v44.28h-26.75zM787.45 2295.86h26.75v20.91h-26.75zM817.90 2296.98h26.75v26.30h-26.75zM848.35 2318.79h26.75v113.52h-26.75zM878.80 2333.62h26.75v104.53h-26.75zM909.25 2311.60h26.75v125.88h-26.75zM939.70 2295.19h26.75v14.16h-26.75zM970.15 2315.64h26.75v67.89h-26.75zM1000.60 2355.88h26.75v106.33h-26.75zM1031.05 2318.79h26.75v65.86h-26.75zM1061.50 2303.05h26.75v66.99h-26.75zM1091.95 2316.09h26.75v66.31h-26.75zM1122.40 2309.35h26.75v62.94h-26.75zM1152.85 2304.85h26.75v34.39h-26.75zM1183.30 2321.71h26.75v97.34h-26.75zM1213.75 2303.28h26.75v43.83h-26.75zM1244.20 2307.55h26.75v46.76h-26.75zM1274.65 2311.60h26.75v49.45h-26.75zM1305.10 2331.83h26.75v80.25h-26.75zM1335.55 2301.48h26.75v40.46h-26.75zM1366.00 2307.77h26.75v46.98h-26.75zM1396.45 2301.93h26.75v34.39h-26.75zM1426.90 2310.47h26.75v40.01h-26.75zM1457.35 2309.35h26.75v58.00h-26.75zM1487.80 2305.98h26.75v38.89h-26.75zM1518.25 2310.47h26.75v46.08h-26.75zM1548.70 2308.67h26.75v34.39h-26.75zM1579.15 2305.98h26.75v44.51h-26.75zM1609.60 2298.56h26.75v28.10h-26.75zM1640.05 2316.54h26.75v58.67h-26.75zM1670.50 2315.64h26.75v63.84h-26.75zM1700.95 2312.04h26.75v46.76h-26.75z" fill="#44AA99"/>
<path d="M148.00 2498.17h26.75v100.03h-26.75zM178.45 2344.86h26.75v77.55h-26.75zM208.90 2312.27h26.75v31.47h-26.75zM239.35 2289.79h26.75v12.81h-26.75zM269.80 2295.86h26.75v20.23h-26.75zM300.25 2326.21h26.75v75.76h-26.75zM330.70 2546.50h26.75v74.18h-26.75zM361.15 2331.83h26.75v22.93h-26.75zM391.60 2471.87h26.75v113.30h-26.75zM422.05 2337.00h26.75v32.37h-26.75zM452.50 2302.60h26.75v26.98h-26.75zM482.95 2386.45h26.75v51.03h-26.75zM513.40 2314.52h26.75v26.98h-26.75zM543.85 2521.78h26.75v61.82h-26.75zM574.30 2459.28h26.75v82.05h-26.75zM604.75 2382.40h26.75v25.85h-26.75zM635.20 2283.50h26.75v4.50h-26.75zM665.65 2330.70h26.75v44.28h-26.75zM696.10 2326.66h26.75v37.77h-26.75zM726.55 2350.26h26.75v37.77h-26.75zM757.00 2357.00h26.75v86.10h-26.75zM787.45 2316.77h26.75v25.18h-26.75zM817.90 2323.28h26.75v37.09h-26.75zM848.35 2432.31h26.75v46.31h-26.75zM878.80 2438.15h26.75v59.57h-26.75zM909.25 2437.48h26.75v45.63h-26.75zM939.70 2309.35h26.75v20.23h-26.75zM970.15 2383.53h26.75v53.28h-26.75zM1000.60 2462.21h26.75v45.63h-26.75zM1031.05 2384.65h26.75v51.70h-26.75zM1061.50 2370.04h26.75v38.89h-26.75zM1091.95 2382.40h26.75v46.08h-26.75zM1122.40 2372.29h26.75v55.07h-26.75zM1152.85 2339.24h26.75v44.28h-26.75zM1183.30 2419.05h26.75v70.81h-26.75zM1213.75 2347.11h26.75v53.73h-26.75zM1244.20 2354.31h26.75v52.15h-26.75zM1274.65 2361.05h26.75v47.88h-26.75zM1305.10 2412.08h26.75v59.80h-26.75zM1335.55 2341.94h26.75v41.59h-26.75zM1366.00 2354.76h26.75v43.83h-26.75zM1396.45 2336.32h26.75v40.91h-26.75zM1426.90 2350.48h26.75v44.96h-26.75zM1457.35 2367.34h26.75v52.83h-26.75zM1487.80 2344.86h26.75v44.96h-26.75zM1518.25 2356.55h26.75v49.45h-26.75zM1548.70 2343.07h26.75v42.71h-26.75zM1579.15 2350.48h26.75v22.48h-26.75zM1609.60 2326.66h26.75v22.03h-26.75zM1640.05 2375.21h26.75v48.33h-26.75zM1670.50 2379.48h26.75v47.43h-26.75zM1700.95 2358.80h26.75v55.75h-26.75z" fill="#117733"/>
<path d="M148.00 2598.21h26.75v26.98h-26.75zM178.45 2422.42h26.75v53.73h-26.75zM208.90 2343.74h26.75v33.04h-26.75zM239.35 2302.60h26.75v22.48h-26.75zM269.80 2316.09h26.75v22.48h-26.75zM300.25 2401.96h26.75v49.68h-26.75zM330.70 2620.69h26.75v25.40h-26.75zM361.15 2354.76h26.75v32.15h-26.75zM391.60 2585.17h26.75v34.84h-26.75zM422.05 2369.37h26.75v32.15h-26.75zM452.50 2329.58h26.75v37.09h-26.75zM482.95 2437.48h26.75v39.34h-26.75zM513.40 2341.49h26.75v26.75h-26.75zM543.85 2583.60h26.75v25.40h-26.75zM574.30 2541.33h26.75v42.26h-26.75zM604.75 2408.26h26.75v27.65h-26.75zM635.20 2287.99h26.75v15.74h-26.75zM665.65 2374.99h26.75v38.89h-26.75zM696.10 2364.42h26.75v25.85h-26.75zM726.55 2388.02h26.75v38.89h-26.75zM757.00 2443.10h26.75v43.83h-26.75zM787.45 2341.94h26.75v32.15h-26.75zM817.90 2360.38h26.75v33.94h-26.75zM848.35 2478.62h26.75v35.29h-26.75zM878.80 2497.72h26.75v36.87h-26.75zM909.25 2483.11h26.75v13.94h-26.75zM939.70 2329.58h26.75v28.55h-26.75zM970.15 2436.80h26.75v32.15h-26.75zM1000.60 2507.84h26.75v22.48h-26.75zM1031.05 2436.36h26.75v28.10h-26.75zM1061.50 2408.93h26.75v33.72h-26.75zM1091.95 2428.49h26.75v30.80h-26.75zM1122.40 2427.36h26.75v37.09h-26.75zM1152.85 2383.53h26.75v30.35h-26.75zM1183.30 2489.86h26.75v35.97h-26.75zM1213.75 2400.84h26.75v36.64h-26.75zM1244.20 2406.46h26.75v33.27h-26.75zM1274.65 2408.93h26.75v36.42h-26.75zM1305.10 2471.87h26.75v35.97h-26.75zM1335.55 2383.53h26.75v31.47h-26.75zM1366.00 2398.59h26.75v33.94h-26.75zM1396.45 2377.23h26.75v34.84h-26.75zM1426.90 2395.44h26.75v29.67h-26.75zM1457.35 2420.17h26.75v32.37h-26.75zM1487.80 2389.82h26.75v37.09h-26.75zM1518.25 2406.01h26.75v33.04h-26.75zM1548.70 2385.78h26.75v33.72h-26.75zM1579.15 2372.96h26.75v22.93h-26.75zM1609.60 2348.69h26.75v22.03h-26.75zM1640.05 2423.54h26.75v35.29h-26.75zM1670.50 2426.91h26.75v37.09h-26.75zM1700.95 2414.55h26.75v46.98h-26.75z" fill="#999933"/>
<path d="M148.00 2625.18h26.75v10.12h-26.75zM178.45 2476.14h26.75v7.87h-26.75zM208.90 2376.79h26.75v5.62h-26.75zM239.35 2325.08h26.75v5.17h-26.75zM269.80 2338.57h26.75v8.54h-26.75zM300.25 2451.64h26.75v6.07h-26.75zM330.70 2646.09h26.75v12.14h-26.75zM361.15 2386.90h26.75v2.92h-26.75zM391.60 2620.01h26.75v8.99h-26.75zM422.05 2401.51h26.75v10.79h-26.75zM452.50 2366.67h26.75v5.17h-26.75zM482.95 2476.82h26.75v6.74h-26.75zM513.40 2368.24h26.75v2.47h-26.75zM543.85 2609.00h26.75v13.49h-26.75zM574.30 2583.60h26.75v14.16h-26.75zM604.75 2435.91h26.75v4.95h-26.75zM635.20 2303.73h26.75v1.80h-26.75zM665.65 2413.88h26.75v9.44h-26.75zM696.10 2390.27h26.75v5.62h-26.75zM726.55 2426.91h26.75v5.62h-26.75zM757.00 2486.93h26.75v12.36h-26.75zM787.45 2374.09h26.75v3.82h-26.75zM817.90 2394.32h26.75v4.27h-26.75zM848.35 2513.91h26.75v7.42h-26.75zM878.80 2534.59h26.75v10.79h-26.75zM909.25 2497.05h26.75v14.16h-26.75zM939.70 2358.13h26.75v4.05h-26.75zM970.15 2468.95h26.75v6.29h-26.75zM1000.60 2530.32h26.75v14.39h-26.75zM1031.05 2464.45h26.75v7.42h-26.75zM1061.50 2442.65h26.75v4.95h-26.75zM1091.95 2459.28h26.75v5.62h-26.75zM1122.40 2464.45h26.75v5.17h-26.75zM1152.85 2413.88h26.75v4.50h-26.75zM1183.30 2525.82h26.75v8.32h-26.75zM1213.75 2437.48h26.75v8.54h-26.75zM1244.20 2439.73h26.75v8.54h-26.75zM1274.65 2445.35h26.75v7.87h-26.75zM1305.10 2507.84h26.75v12.81h-26.75zM1335.55 2415.00h26.75v6.29h-26.75zM1366.00 2432.53h26.75v7.87h-26.75zM1396.45 2412.08h26.75v8.54h-26.75zM1426.90 2425.12h26.75v6.74h-26.75zM1457.35 2452.54h26.75v16.41h-26.75zM1487.80 2426.91h26.75v8.32h-26.75zM1518.25 2439.05h26.75v7.87h-26.75zM1548.70 2419.50h26.75v5.17h-26.75zM1579.15 2395.89h26.75v4.95h-26.75zM1609.60 2370.72h26.75v4.50h-26.75zM1640.05 2458.83h26.75v6.74h-26.75zM1670.50 2464.00h26.75v7.64h-26.75zM1700.95 2461.53h26.75v12.36h-26.75z" fill="#DDCC77"/>
<path d="M148.00 2635.30h26.75v44.51h-26.75zM178.45 2484.01h26.75v146.34h-26.75zM208.90 2382.40h26.75v215.35h-26.75zM239.35 2330.25h26.75v207.26h-26.75zM269.80 2347.11h26.75v169.04h-26.75zM300.25 2457.71h26.75v167.47h-26.75zM330.70 2658.23h26.75v24.28h-26.75zM361.15 2389.82h26.75v166.12h-26.75zM391.60 2629.00h26.75v42.26h-26.75zM422.05 2412.30h26.75v129.71h-26.75zM452.50 2371.84h26.75v182.98h-26.75zM482.95 2483.56h26.75v129.26h-26.75zM513.40 2370.72h26.75v144.32h-26.75zM543.85 2622.48h26.75v45.41h-26.75zM574.30 2597.76h26.75v67.89h-26.75zM604.75 2440.85h26.75v98.46h-26.75zM635.20 2305.53h26.75v163.42h-26.75zM665.65 2423.32h26.75v151.29h-26.75zM696.10 2395.89h26.75v161.18h-26.75zM726.55 2432.53h26.75v168.60h-26.75zM757.00 2499.30h26.75v131.05h-26.75zM787.45 2377.91h26.75v174.89h-26.75zM817.90 2398.59h26.75v159.60h-26.75zM848.35 2521.33h26.75v88.57h-26.75zM878.80 2545.38h26.75v95.09h-26.75zM909.25 2511.21h26.75v125.66h-26.75zM939.70 2362.17h26.75v159.15h-26.75zM970.15 2475.24h26.75v140.95h-26.75zM1000.60 2544.71h26.75v89.02h-26.75zM1031.05 2471.87h26.75v128.13h-26.75zM1061.50 2447.60h26.75v110.82h-26.75zM1091.95 2464.90h26.75v107.00h-26.75zM1122.40 2469.62h26.75v126.78h-26.75zM1152.85 2418.37h26.75v152.86h-26.75zM1183.30 2534.14h26.75v91.04h-26.75zM1213.75 2446.02h26.75v157.36h-26.75zM1244.20 2448.27h26.75v142.74h-26.75zM1274.65 2453.21h26.75v149.04h-26.75zM1305.10 2520.65h26.75v103.40h-26.75zM1335.55 2421.29h26.75v144.32h-26.75zM1366.00 2440.40h26.75v143.19h-26.75zM1396.45 2420.62h26.75v155.11h-26.75zM1426.90 2431.86h26.75v148.36h-26.75zM1457.35 2468.95h26.75v129.26h-26.75zM1487.80 2435.23h26.75v144.54h-26.75zM1518.25 2446.92h26.75v140.50h-26.75zM1548.70 2424.67h26.75v158.25h-26.75zM1579.15 2400.84h26.75v119.37h-26.75zM1609.60 2375.21h26.75v141.62h-26.75zM1640.05 2465.58h26.75v134.43h-26.75zM1670.50 2471.65h26.75v136.22h-26.75zM1700.95 2473.90h26.75v160.95h-26.75z" fill="#CC6677"/>
<path d="M148.00 2679.81h26.75v7.19h-26.75zM178.45 2630.35h26.75v56.65h-26.75zM208.90 2597.76h26.75v89.24h-26.75zM239.35 2537.51h26.75v149.49h-26.75zM269.80 2516.16h26.75v170.84h-26.75zM300.25 2625.18h26.75v61.82h-26.75zM330.70 2682.50h26.75v4.50h-26.75zM361.15 2555.95h26.75v131.05h-26.75zM391.60 2671.26h26.75v15.74h-26.75zM422.05 2542.01h26.75v144.99h-26.75zM452.50 2554.82h26.75v132.18h-26.75zM482.95 2612.82h26.75v74.18h-26.75zM513.40 2515.03h26.75v171.97h-26.75zM543.85 2667.89h26.75v19.11h-26.75zM574.30 2665.64h26.75v21.36h-26.75zM604.75 2539.31h26.75v147.69h-26.75zM635.20 2468.95h26.75v218.05h-26.75zM665.65 2574.60h26.75v112.40h-26.75zM696.10 2557.07h26.75v129.93h-26.75zM726.55 2601.13h26.75v85.87h-26.75zM757.00 2630.35h26.75v56.65h-26.75zM787.45 2552.80h26.75v134.20h-26.75zM817.90 2558.19h26.75v128.81h-26.75zM848.35 2609.90h26.75v77.10h-26.75zM878.80 2640.47h26.75v46.53h-26.75zM909.25 2636.87h26.75v50.13h-26.75zM939.70 2521.33h26.75v165.67h-26.75zM970.15 2616.19h26.75v70.81h-26.75zM1000.60 2633.72h26.75v53.28h-26.75zM1031.05 2600.00h26.75v87.00h-26.75zM1061.50 2558.42h26.75v128.58h-26.75zM1091.95 2571.91h26.75v115.09h-26.75zM1122.40 2596.41h26.75v90.59h-26.75zM1152.85 2571.23h26.75v115.77h-26.75zM1183.30 2625.18h26.75v61.82h-26.75zM1213.75 2603.38h26.75v83.62h-26.75zM1244.20 2591.01h26.75v95.99h-26.75zM1274.65 2602.25h26.75v84.75h-26.75zM1305.10 2624.06h26.75v62.94h-26.75zM1335.55 2565.61h26.75v121.39h-26.75zM1366.00 2583.60h26.75v103.40h-26.75zM1396.45 2575.73h26.75v111.27h-26.75zM1426.90 2580.22h26.75v106.78h-26.75zM1457.35 2598.21h26.75v88.79h-26.75zM1487.80 2579.77h26.75v107.23h-26.75zM1518.25 2587.42h26.75v99.58h-26.75zM1548.70 2582.92h26.75v104.08h-26.75zM1579.15 2520.20h26.75v166.80h-26.75zM1609.60 2516.83h26.75v170.17h-26.75zM1640.05 2600.00h26.75v87.00h-26.75zM1670.50 2607.87h26.75v79.13h-26.75zM1700.95 2634.85h26.75v52.15h-26.75z" fill="#AA4499"/>
<text transform="translate(170.57 2252.20) rotate(-90) scale(1 1.040)" font-size="26.9" fill="#000" stroke="#000" stroke-width="0.3">L2/3 IT 1</text>
<text transform="translate(201.02 2252.20) rotate(-90) scale(1 1.040)" font-size="26.9" fill="#000" stroke="#000" stroke-width="0.3">L2/3 IT 2</text>
<text transform="translate(231.47 2252.20) rotate(-90) scale(1 1.040)" font-size="26.9" fill="#000" stroke="#000" stroke-width="0.3">L2/3 IT 3</text>
<text transform="translate(261.93 2252.20) rotate(-90) scale(1 1.040)" font-size="26.9" fill="#000" stroke="#000" stroke-width="0.3">L2/3 IT 4</text>
<text transform="translate(292.38 2252.20) rotate(-90) scale(1 1.040)" font-size="26.9" fill="#000" stroke="#000" stroke-width="0.3">L4/5 IT 1</text>
<text transform="translate(322.82 2252.20) rotate(-90) scale(1 1.040)" font-size="26.9" fill="#000" stroke="#000" stroke-width="0.3">L4/5 IT 2</text>
<text transform="translate(352.77 2252.20) rotate(-90) scale(1 1.040)" font-size="26.9" fill="#000" stroke="#000" stroke-width="0.3">L5 ET 1</text>
<text transform="translate(383.22 2252.20) rotate(-90) scale(1 1.040)" font-size="26.9" fill="#000" stroke="#000" stroke-width="0.3">L5 ET 2</text>
<text transform="translate(413.38 2252.20) rotate(-90) scale(1 1.040)" font-size="26.9" fill="#000" stroke="#000" stroke-width="0.3">L5 IT 1</text>
<text transform="translate(443.82 2252.20) rotate(-90) scale(1 1.040)" font-size="26.9" fill="#000" stroke="#000" stroke-width="0.3">L5 IT 2</text>
<text transform="translate(473.77 2252.20) rotate(-90) scale(1 1.040)" font-size="26.9" fill="#000" stroke="#000" stroke-width="0.3">L5 IT 3</text>
<text transform="translate(504.22 2252.20) rotate(-90) scale(1 1.040)" font-size="26.9" fill="#000" stroke="#000" stroke-width="0.3">L5/6 NP</text>
<text transform="translate(534.17 2252.20) rotate(-90) scale(1 1.040)" font-size="26.9" fill="#000" stroke="#000" stroke-width="0.3">L6 CT 1</text>
<text transform="translate(563.72 2252.20) rotate(-90) scale(1 1.040)" font-size="26.9" fill="#000" stroke="#000" stroke-width="0.3">L6 CT 2</text>
<text transform="translate(594.38 2252.20) rotate(-90) scale(1 1.040)" font-size="26.9" fill="#000" stroke="#000" stroke-width="0.3">L6 CT 3</text>
<text transform="translate(625.02 2252.20) rotate(-90) scale(1 1.040)" font-size="26.9" fill="#000" stroke="#000" stroke-width="0.3">L6 CT 4</text>
<text transform="translate(655.48 2252.20) rotate(-90) scale(1 1.040)" font-size="26.9" fill="#000" stroke="#000" stroke-width="0.3">L6 IT 1</text>
<text transform="translate(686.23 2252.20) rotate(-90) scale(1 1.040)" font-size="26.9" fill="#000" stroke="#000" stroke-width="0.3">L6 IT 2</text>
<text transform="translate(716.68 2252.20) rotate(-90) scale(1 1.040)" font-size="26.9" fill="#000" stroke="#000" stroke-width="0.3">Lamp5 1</text>
<text transform="translate(747.32 2252.20) rotate(-90) scale(1 1.040)" font-size="26.9" fill="#000" stroke="#000" stroke-width="0.3">Lamp5 2</text>
<text transform="translate(777.77 2252.20) rotate(-90) scale(1 1.040)" font-size="26.9" fill="#000" stroke="#000" stroke-width="0.3">Lamp5 3</text>
<text transform="translate(807.02 2252.20) rotate(-90) scale(1 1.040)" font-size="26.9" fill="#000" stroke="#000" stroke-width="0.3">Pvalb 1</text>
<text transform="translate(837.17 2252.20) rotate(-90) scale(1 1.040)" font-size="26.9" fill="#000" stroke="#000" stroke-width="0.3">Pvalb 2</text>
<text transform="translate(867.12 2252.20) rotate(-90) scale(1 1.040)" font-size="26.9" fill="#000" stroke="#000" stroke-width="0.3">Pvalb 3</text>
<text transform="translate(897.07 2252.20) rotate(-90) scale(1 1.040)" font-size="26.9" fill="#000" stroke="#000" stroke-width="0.3">Pvalb 4</text>
<text transform="translate(926.33 2252.20) rotate(-90) scale(1 1.040)" font-size="26.9" fill="#000" stroke="#000" stroke-width="0.3">Pvalb 5</text>
<text transform="translate(956.57 2252.20) rotate(-90) scale(1 1.040)" font-size="26.9" fill="#000" stroke="#000" stroke-width="0.3">Pvalb 6</text>
<text transform="translate(985.23 2252.20) rotate(-90) scale(1 1.040)" font-size="26.9" fill="#000" stroke="#000" stroke-width="0.3">Sncg 1</text>
<text transform="translate(1020.18 2252.20) rotate(-90) scale(1 1.040)" font-size="26.9" fill="#000" stroke="#000" stroke-width="0.3">Sncg 2</text>
<text transform="translate(1054.42 2252.20) rotate(-90) scale(1 1.040)" font-size="26.9" fill="#000" stroke="#000" stroke-width="0.3">Sst 1</text>
<text transform="translate(1084.38 2252.20) rotate(-90) scale(1 1.040)" font-size="26.9" fill="#000" stroke="#000" stroke-width="0.3">Sst 2</text>
<text transform="translate(1114.32 2252.20) rotate(-90) scale(1 1.040)" font-size="26.9" fill="#000" stroke="#000" stroke-width="0.3">Sst 3</text>
<text transform="translate(1143.78 2252.20) rotate(-90) scale(1 1.040)" font-size="26.9" fill="#000" stroke="#000" stroke-width="0.3">Sst 4</text>
<text transform="translate(1173.72 2252.20) rotate(-90) scale(1 1.040)" font-size="26.9" fill="#000" stroke="#000" stroke-width="0.3">Sst 5</text>
<text transform="translate(1203.17 2252.20) rotate(-90) scale(1 1.040)" font-size="26.9" fill="#000" stroke="#000" stroke-width="0.3">Sst 6</text>
<text transform="translate(1233.12 2252.20) rotate(-90) scale(1 1.040)" font-size="26.9" fill="#000" stroke="#000" stroke-width="0.3">Vip 1</text>
<text transform="translate(1266.08 2252.20) rotate(-90) scale(1 1.040)" font-size="26.9" fill="#000" stroke="#000" stroke-width="0.3">Vip 2</text>
<text transform="translate(1297.42 2252.20) rotate(-90) scale(1 1.040)" font-size="26.9" fill="#000" stroke="#000" stroke-width="0.3">Astro 1</text>
<text transform="translate(1326.27 2252.20) rotate(-90) scale(1 1.040)" font-size="26.9" fill="#000" stroke="#000" stroke-width="0.3">Astro 2</text>
<text transform="translate(1355.83 2252.20) rotate(-90) scale(1 1.040)" font-size="26.9" fill="#000" stroke="#000" stroke-width="0.3">Astro 3</text>
<text transform="translate(1384.17 2252.20) rotate(-90) scale(1 1.040)" font-size="26.9" fill="#000" stroke="#000" stroke-width="0.3">Endo 1</text>
<text transform="translate(1416.03 2252.20) rotate(-90) scale(1 1.040)" font-size="26.9" fill="#000" stroke="#000" stroke-width="0.3">Endo 2</text>
<text transform="translate(1447.17 2252.20) rotate(-90) scale(1 1.040)" font-size="26.9" fill="#000" stroke="#000" stroke-width="0.3">Endo 3</text>
<text transform="translate(1476.42 2252.20) rotate(-90) scale(1 1.040)" font-size="26.9" fill="#000" stroke="#000" stroke-width="0.3">Endo 4</text>
<text transform="translate(1507.67 2252.20) rotate(-90) scale(1 1.040)" font-size="26.9" fill="#000" stroke="#000" stroke-width="0.3">Microglia 1</text>
<text transform="translate(1534.42 2252.20) rotate(-90) scale(1 1.040)" font-size="26.9" fill="#000" stroke="#000" stroke-width="0.3">Endo 5</text>
<text transform="translate(1566.58 2281.60) rotate(-90) scale(1 1.040)" font-size="26.9" fill="#000" stroke="#000" stroke-width="0.3">Microglia 2</text>
<text transform="translate(1599.12 2252.20) rotate(-90) scale(1 1.040)" font-size="26.9" fill="#000" stroke="#000" stroke-width="0.3">Oligo 1</text>
<text transform="translate(1631.38 2252.20) rotate(-90) scale(1 1.040)" font-size="26.9" fill="#000" stroke="#000" stroke-width="0.3">Oligo 2</text>
<text transform="translate(1662.12 2252.20) rotate(-90) scale(1 1.040)" font-size="26.9" fill="#000" stroke="#000" stroke-width="0.3">OPC 1</text>
<text transform="translate(1692.67 2252.20) rotate(-90) scale(1 1.040)" font-size="26.9" fill="#000" stroke="#000" stroke-width="0.3">OPC 2</text>
<text transform="translate(1723.73 2252.20) rotate(-90) scale(1 1.040)" font-size="26.9" fill="#000" stroke="#000" stroke-width="0.3">VLMC</text>
<rect x="141.9" y="2256.5" width="3.8" height="454.5" fill="#000"/>
<rect x="135.9" y="2685.25" width="6.2" height="3.5" fill="#000"/>
<text transform="translate(131.50 2696.60) scale(1 1.040)" font-size="26.9" text-anchor="end" fill="#000" stroke="#000" stroke-width="0.3">0.00</text>
<rect x="135.9" y="2583.25" width="6.2" height="3.5" fill="#000"/>
<text transform="translate(131.50 2594.60) scale(1 1.040)" font-size="26.9" text-anchor="end" fill="#000" stroke="#000" stroke-width="0.3">0.25</text>
<rect x="135.9" y="2481.25" width="6.2" height="3.5" fill="#000"/>
<text transform="translate(131.50 2492.60) scale(1 1.040)" font-size="26.9" text-anchor="end" fill="#000" stroke="#000" stroke-width="0.3">0.50</text>
<rect x="135.9" y="2379.25" width="6.2" height="3.5" fill="#000"/>
<text transform="translate(131.50 2390.60) scale(1 1.040)" font-size="26.9" text-anchor="end" fill="#000" stroke="#000" stroke-width="0.3">0.75</text>
<rect x="135.9" y="2277.25" width="6.2" height="3.5" fill="#000"/>
<text transform="translate(131.50 2288.60) scale(1 1.040)" font-size="26.9" text-anchor="end" fill="#000" stroke="#000" stroke-width="0.3">1.00</text>
<text transform="translate(65.60 2492.20) rotate(-90) scale(1 1.040)" font-size="27.2" text-anchor="middle" fill="#000" stroke="#000" stroke-width="0.3">Cell proportion</text>
<text transform="translate(1746.30 2340.00) scale(1 1.040)" font-size="26.9" fill="#000" stroke="#000" stroke-width="0.3">Sub-region</text>
<rect x="1748.9" y="2360.00" width="28.9" height="28.9" fill="#332288"/>
<text transform="translate(1794.30 2383.70) scale(1 1.040)" font-size="26.9" fill="#000" stroke="#000" stroke-width="0.3">ORBm</text>
<rect x="1748.9" y="2392.52" width="28.9" height="28.9" fill="#88CCEE"/>
<text transform="translate(1794.30 2416.22) scale(1 1.040)" font-size="26.9" fill="#000" stroke="#000" stroke-width="0.3">DP</text>
<rect x="1748.9" y="2425.04" width="28.9" height="28.9" fill="#44AA99"/>
<text transform="translate(1794.30 2448.74) scale(1 1.040)" font-size="26.9" fill="#000" stroke="#000" stroke-width="0.3">ILA</text>
<rect x="1748.9" y="2457.56" width="28.9" height="28.9" fill="#117733"/>
<text transform="translate(1794.30 2481.26) scale(1 1.040)" font-size="26.9" fill="#000" stroke="#000" stroke-width="0.3">PL</text>
<rect x="1748.9" y="2490.08" width="28.9" height="28.9" fill="#999933"/>
<text transform="translate(1794.30 2513.78) scale(1 1.040)" font-size="26.9" fill="#000" stroke="#000" stroke-width="0.3">ACAd</text>
<rect x="1748.9" y="2522.60" width="28.9" height="28.9" fill="#DDCC77"/>
<text transform="translate(1794.30 2546.30) scale(1 1.040)" font-size="26.9" fill="#000" stroke="#000" stroke-width="0.3">ACAv</text>
<rect x="1748.9" y="2555.12" width="28.9" height="28.9" fill="#CC6677"/>
<text transform="translate(1794.30 2578.82) scale(1 1.040)" font-size="26.9" fill="#000" stroke="#000" stroke-width="0.3">MOs</text>
<rect x="1748.9" y="2587.64" width="28.9" height="28.9" fill="#AA4499"/>
<text transform="translate(1794.30 2611.34) scale(1 1.040)" font-size="26.9" fill="#000" stroke="#000" stroke-width="0.3">MOp</text>
</svg>
</body></html>
